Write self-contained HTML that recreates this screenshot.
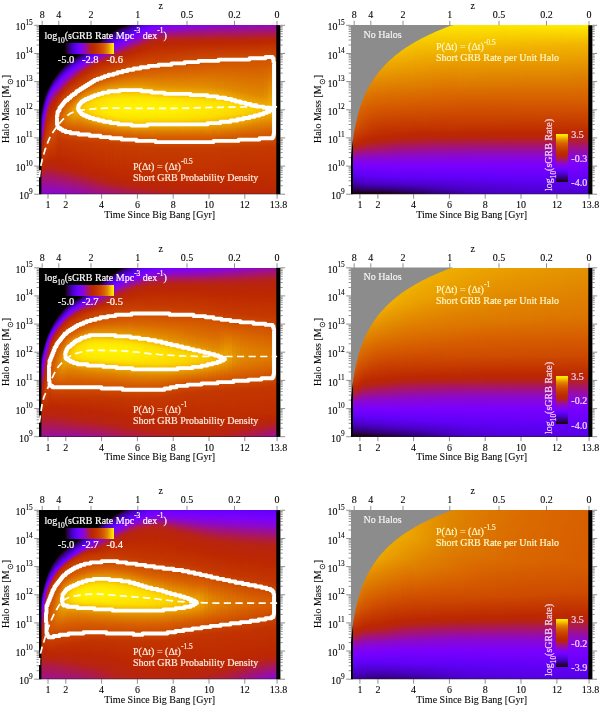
<!DOCTYPE html><html><head><meta charset="utf-8"><title>sGRB rate figure</title><style>
html,body{margin:0;padding:0;background:#fff}
body{width:600px;height:705px;position:relative;overflow:hidden;font-family:"Liberation Serif",serif;color:#000;font-size:10px;line-height:1;-webkit-text-stroke:0.08px #000}
.p{position:absolute;width:241.4px;height:168.9px;background:#000;overflow:hidden}
.p i{position:absolute;top:0;height:100%;display:block}
.l{position:absolute;white-space:nowrap;line-height:1;z-index:2}
.c{transform:translateX(-50%)}
.r{transform:translateX(-100%)}
sup{font-size:7.4px;vertical-align:baseline;position:relative;top:-5.7px;line-height:0}
sub{font-size:7.4px;vertical-align:baseline;position:relative;top:3.8px;line-height:0}
svg{position:absolute;left:0;top:0}
.w{color:#fff}
.k{-webkit-text-stroke:0.18px currentColor}
</style></head><body>
<div class="p" style="left:39.0px;top:25.3px">
<i style="left:0.0px;width:1.3px;background:linear-gradient(#000000 0.3%,#000000 52.1%,#220018 52.6%,#310073 54.4%,#4600ba 56.8%,#6000f7 60.3%,#7700fe 63.2%,#7b00fc 63.8%,#8c09cb 67.9%,#ad1a4e 73.8%,#b82411 76.2%,#bc2800 77.9%,#c23400 80.9%,#bd2b00 85.0%,#bb2705 86.2%,#b8240f 87.4%,#ab1955 89.7%,#a3127b 91.5%,#970da5 95.0%,#8a08d1 99.7%)"></i>
<i style="left:1.0px;width:1.3px;background:linear-gradient(#000000 0.3%,#000000 51.5%,#14000e 52.1%,#26002d 52.6%,#2f006b 53.8%,#4000a4 55.6%,#4900c3 56.8%,#5e00f4 59.7%,#6c00fb 61.5%,#7a00ff 63.2%,#8a08ce 67.4%,#ac1951 73.2%,#b72314 75.6%,#bb2702 77.4%,#c23400 80.9%,#bd2a00 85.0%,#bb2705 86.2%,#b82410 87.4%,#ab1856 89.7%,#a3127b 91.5%,#980da5 95.0%,#8a08d1 99.7%)"></i>
<i style="left:2.0px;width:1.3px;background:linear-gradient(#000000 0.3%,#000000 50.3%,#10000b 50.9%,#25002a 51.5%,#2f006b 52.6%,#4000a4 54.4%,#4a00c4 55.6%,#5f00f6 58.5%,#7b00fd 62.1%,#8c09c9 66.2%,#ab1857 71.5%,#b82410 74.4%,#bd2900 76.8%,#c23400 80.3%,#be2b00 84.4%,#ba2607 86.2%,#b72314 87.4%,#ae1b49 89.1%,#a51471 90.9%,#9e0f92 93.2%,#8a08d1 99.7%)"></i>
<i style="left:3.0px;width:1.3px;background:linear-gradient(#000000 0.3%,#000000 48.5%,#22001a 49.1%,#2d005d 50.3%,#330079 50.9%,#4900c2 53.2%,#5f00f6 56.2%,#7800ff 59.1%,#8b08cc 63.2%,#a81663 67.9%,#b52120 70.9%,#b82411 71.5%,#bd2900 74.4%,#c23500 79.1%,#bd2b00 83.8%,#ba2607 85.6%,#b82410 86.8%,#ad1a4e 89.1%,#a3127b 91.5%,#960caa 95.6%,#8a08d1 99.7%)"></i>
<i style="left:4.0px;width:1.3px;background:linear-gradient(#000000 0.3%,#000000 45.6%,#10000b 46.2%,#250029 46.8%,#30006d 47.9%,#4700be 50.3%,#6000f8 53.2%,#7700fe 55.6%,#7b01fc 56.2%,#8908d2 59.1%,#a61470 63.2%,#b82411 67.4%,#bc2800 70.3%,#c43700 76.8%,#bf2d00 81.5%,#bb2704 83.8%,#b8240f 85.6%,#b21e33 87.4%,#a7156a 90.3%,#9c0f97 93.8%,#8a08d1 99.7%)"></i>
<i style="left:5.0px;width:1.3px;background:linear-gradient(#000000 0.3%,#000000 43.2%,#13000d 43.8%,#26002e 44.4%,#310073 45.6%,#4400b3 47.4%,#4f00d1 48.5%,#5f00f6 50.3%,#7900ff 52.6%,#8a08d0 55.6%,#a3127b 58.5%,#b72313 62.6%,#bc2800 65.6%,#c63b00 74.4%,#c23400 78.5%,#bb2702 82.1%,#b8240f 84.4%,#ac1953 88.5%,#9e0f90 93.2%,#8a08d1 99.7%)"></i>
<i style="left:6.0px;width:1.3px;background:linear-gradient(#000000 0.3%,#000000 41.5%,#1d0014 42.1%,#28003a 42.6%,#2e0061 43.2%,#35007f 43.8%,#4900c2 45.6%,#6100f8 47.9%,#7600fe 49.7%,#7c01fa 50.3%,#8c09ca 52.6%,#a4137a 55.0%,#b72314 58.5%,#bb2703 60.9%,#c43700 67.4%,#c73f00 73.8%,#bf2d00 79.7%,#bb2703 81.5%,#b82410 83.8%,#ad1a4e 87.9%,#9a0e9c 94.4%,#8a08d1 99.7%)"></i>
<i style="left:7.0px;width:1.3px;background:linear-gradient(#000000 0.3%,#000000 39.7%,#0d0009 40.3%,#260030 40.9%,#2d005b 41.5%,#34007e 42.1%,#4400b3 43.2%,#4b00c8 43.8%,#5f00f6 45.6%,#7600fe 47.4%,#7c01f8 47.9%,#8907d4 49.7%,#a71569 52.6%,#b6221e 55.0%,#b8240f 55.6%,#bc2800 57.9%,#c84000 68.5%,#c73f00 73.8%,#bc2801 80.9%,#b82411 83.8%,#ad1a4f 87.9%,#9a0e9c 94.4%,#8a08d1 99.7%)"></i>
<i style="left:8.0px;width:1.3px;background:linear-gradient(#000000 0.3%,#000000 38.5%,#1d0015 39.1%,#300071 40.3%,#4200ad 41.5%,#4b00c6 42.1%,#6100f8 43.8%,#7b00fd 45.6%,#8807d7 47.4%,#8e09c4 47.9%,#a71569 50.3%,#b6221b 52.6%,#b8240f 53.2%,#bc2800 55.6%,#c94200 66.8%,#c84100 72.6%,#bb2702 80.9%,#b82411 83.8%,#ab1856 88.5%,#9a0e9c 94.4%,#8a08d1 99.7%)"></i>
<i style="left:9.0px;width:1.3px;background:linear-gradient(#000000 0.3%,#000000 37.4%,#22001a 37.9%,#330079 39.1%,#4600ba 40.3%,#6000f7 42.1%,#7b00fc 43.8%,#8907d4 45.6%,#a41377 47.9%,#b42027 50.3%,#b72315 50.9%,#ba2609 52.1%,#bc2900 53.8%,#ca4400 65.0%,#ca4300 70.9%,#bc2800 80.3%,#b82411 83.8%,#aa175d 89.1%,#9a0e9c 94.4%,#8a08d1 99.7%)"></i>
<i style="left:10.0px;width:1.3px;background:linear-gradient(#000000 0.3%,#000000 36.2%,#22001a 36.8%,#33007b 37.9%,#4800bf 39.1%,#5a00ea 40.3%,#6300f9 40.9%,#7700fe 42.1%,#8204e7 43.2%,#8d09c7 44.4%,#a81667 46.8%,#b6221a 49.1%,#b8240e 49.7%,#bc2800 52.1%,#ca4400 63.2%,#ca4500 69.7%,#bc2800 80.3%,#b82410 83.8%,#aa175d 89.1%,#9a0e9c 94.4%,#8a08d1 99.7%)"></i>
<i style="left:11.0px;width:1.3px;background:linear-gradient(#000000 0.3%,#000000 35.0%,#200016 35.6%,#320078 36.8%,#4700bd 37.9%,#5a00ea 39.1%,#6400f9 39.7%,#7800fe 40.9%,#8807d7 42.6%,#8e09c4 43.2%,#a81663 45.6%,#b72317 47.9%,#b9250e 48.5%,#bc2900 50.9%,#cb4500 62.1%,#cb4600 68.5%,#bc2801 80.3%,#b82410 83.8%,#a81664 89.7%,#990da2 95.0%,#8a08d1 99.7%)"></i>
<i style="left:12.0px;width:1.3px;background:linear-gradient(#000000 0.3%,#000000 33.8%,#14000e 34.4%,#28003c 35.0%,#300070 35.6%,#4500b5 36.8%,#5800e5 37.9%,#6100f8 38.5%,#7600fe 39.7%,#7d01f7 40.3%,#8c09ca 42.1%,#a71668 44.4%,#b6221a 46.8%,#b8240f 47.4%,#bc2800 49.7%,#cb4600 60.9%,#cc4800 67.4%,#bc2801 80.3%,#b82410 83.8%,#a51472 90.9%,#8b09cc 99.1%,#8a08d1 99.7%)"></i>
<i style="left:13.0px;width:1.3px;background:linear-gradient(#000000 0.3%,#000000 32.6%,#040003 33.2%,#25002c 33.8%,#2d005e 34.4%,#370086 35.0%,#4b00c6 36.2%,#5d00f1 37.4%,#6700fa 37.9%,#7a00fe 39.1%,#8907d4 40.9%,#a51474 43.2%,#b52123 45.6%,#b82412 46.2%,#bd2900 49.1%,#cb4700 59.7%,#cd4a00 65.6%,#c23400 75.6%,#bc2801 80.3%,#b8240f 83.8%,#a41378 91.5%,#8a08d1 99.7%)"></i>
<i style="left:14.0px;width:1.3px;background:linear-gradient(#000000 0.3%,#000000 32.1%,#220018 32.6%,#320076 33.8%,#4600b8 35.0%,#5800e5 36.2%,#6100f8 36.8%,#7500fe 37.9%,#7c01f9 38.5%,#8a08ce 40.3%,#a7156c 42.6%,#b6221c 45.0%,#b8240f 45.6%,#bc2800 47.9%,#cc4700 58.5%,#cd4b00 64.4%,#c33600 74.4%,#bc2801 80.3%,#b72314 84.4%,#a71568 90.3%,#950cab 96.2%,#8a08d0 99.7%)"></i>
<i style="left:15.0px;width:1.3px;background:linear-gradient(#000000 0.3%,#000000 30.9%,#090006 31.5%,#26002f 32.1%,#2e005f 32.6%,#360085 33.2%,#4900c3 34.4%,#5b00ec 35.6%,#6400f9 36.2%,#7700fe 37.4%,#8204e7 38.5%,#8c09c9 39.7%,#a81666 42.1%,#b72316 44.4%,#ba2609 45.6%,#bd2a00 47.4%,#cc4900 57.9%,#ce4c00 63.2%,#c33500 74.4%,#bc2801 80.3%,#b82412 84.4%,#a6156e 90.9%,#8c09ca 99.1%,#8a08d0 99.7%)"></i>
<i style="left:16.0px;width:1.3px;background:linear-gradient(#000000 0.3%,#000000 30.3%,#1e0015 30.9%,#300072 32.1%,#4300b0 33.2%,#4c00ca 33.8%,#5d00f1 35.0%,#6600fa 35.6%,#7900ff 36.8%,#8707d8 38.5%,#8d09c5 39.1%,#a81663 41.5%,#b52122 43.2%,#b82410 43.8%,#bd2900 46.2%,#cc4700 55.6%,#cf4e00 60.9%,#bc2801 80.3%,#b82410 84.4%,#a6156d 90.9%,#8c09c9 99.1%,#8a08cf 99.7%)"></i>
<i style="left:17.0px;width:1.3px;background:linear-gradient(#000000 0.3%,#000000 29.7%,#240025 30.3%,#34007c 31.5%,#4600b9 32.6%,#5f00f5 34.4%,#7a00fe 36.2%,#8807d7 37.9%,#8e09c4 38.5%,#a81663 40.9%,#b6221c 42.6%,#b9250d 43.2%,#bd2900 45.0%,#cc4700 53.2%,#d05000 60.3%,#c63c00 67.9%,#bb2702 80.3%,#b8240f 84.4%,#a3137a 92.1%,#8a08cf 99.7%)"></i>
<i style="left:18.0px;width:1.3px;background:linear-gradient(#000000 0.3%,#000000 28.5%,#0f000a 29.1%,#270033 29.7%,#2e0061 30.3%,#360085 30.9%,#4800c0 32.1%,#6000f8 33.8%,#7b00fc 35.6%,#8807d6 37.4%,#8e09c4 37.9%,#ae1a4b 40.9%,#b72318 42.1%,#b9250b 42.6%,#bc2900 43.8%,#ce4b00 52.1%,#d15300 59.1%,#c53a00 66.8%,#bb2703 80.3%,#b8240f 84.4%,#b42025 86.2%,#a51471 91.5%,#8b08ce 99.7%)"></i>
<i style="left:19.0px;width:1.3px;background:linear-gradient(#000000 0.3%,#000000 27.9%,#1c0014 28.5%,#29003e 29.1%,#30006d 29.7%,#4a00c4 31.5%,#5a00ea 32.6%,#6200f9 33.2%,#7400fd 34.4%,#7b01fb 35.0%,#8807d5 36.8%,#960caa 37.9%,#b31f2f 40.9%,#b82413 41.5%,#bc2802 42.6%,#cd4a00 49.7%,#d35500 55.6%,#d25400 59.7%,#c53a00 66.2%,#bb2703 80.3%,#b82412 85.0%,#a61470 91.5%,#8b08cd 99.7%)"></i>
<i style="left:20.0px;width:1.3px;background:linear-gradient(#000000 0.3%,#000000 27.4%,#23001c 27.9%,#310074 29.1%,#4300af 30.3%,#4b00c8 30.9%,#5b00ed 32.1%,#6300f9 32.6%,#7500fe 33.8%,#7c01f9 34.4%,#8907d3 36.2%,#9e0f91 37.9%,#af1b47 39.7%,#b8240f 40.9%,#bc2800 42.1%,#cb4500 47.4%,#d45700 53.8%,#d45800 59.1%,#c43800 67.4%,#bb2702 80.3%,#b82410 85.0%,#a6156e 91.5%,#8b08cc 99.7%)"></i>
<i style="left:21.0px;width:1.3px;background:linear-gradient(#000000 0.3%,#000000 26.8%,#240024 27.4%,#330079 28.5%,#4400b3 29.7%,#5400dd 30.9%,#5c00ef 31.5%,#6500f9 32.1%,#7600fe 33.2%,#7d01f7 33.8%,#8908d2 35.6%,#a41376 37.9%,#af1c43 39.1%,#b42025 39.7%,#b9250d 40.3%,#bd2a00 41.5%,#ca4500 46.2%,#d55a00 53.2%,#d65b00 58.5%,#c43800 67.4%,#bc2802 80.3%,#b82410 85.0%,#a51474 92.1%,#8b09cb 99.7%)"></i>
<i style="left:22.0px;width:1.3px;background:linear-gradient(#000000 0.3%,#000000 25.6%,#050004 26.2%,#250029 26.8%,#2c0056 27.4%,#34007d 27.9%,#4500b7 29.1%,#5d00f1 30.9%,#6500f9 31.5%,#7700fe 32.6%,#8104e9 33.8%,#8a08d1 35.0%,#a51472 37.4%,#b01c3e 38.5%,#b52120 39.1%,#b9250c 39.7%,#bb2703 40.3%,#c53b00 43.2%,#d55a00 51.5%,#d86100 56.8%,#cf4f00 62.1%,#c43800 67.9%,#bb2703 80.9%,#b8240f 85.0%,#b11d39 87.9%,#a01088 93.8%,#8c09ca 99.7%)"></i>
<i style="left:23.0px;width:1.3px;background:linear-gradient(#000000 0.3%,#000000 25.0%,#0a0007 25.6%,#26002d 26.2%,#2d005a 26.8%,#35007f 27.4%,#4600b9 28.5%,#5d00f2 30.3%,#6600fa 30.9%,#7800fe 32.1%,#8606dc 33.8%,#8a08d0 34.4%,#ab1955 37.4%,#b6221a 38.5%,#b9250a 39.1%,#bc2801 39.7%,#ca4400 44.4%,#d96700 54.4%,#d96500 57.4%,#c43800 67.9%,#bb2702 80.9%,#b72313 85.6%,#a71569 91.5%,#8c09ca 99.7%)"></i>
<i style="left:24.0px;width:1.3px;background:linear-gradient(#000000 0.3%,#000000 24.4%,#0c0009 25.0%,#26002f 25.6%,#2d005c 26.2%,#350081 26.8%,#4600ba 27.9%,#5e00f2 29.7%,#6f00fc 30.9%,#7800fe 31.5%,#8b08ce 33.8%,#a6156d 36.2%,#b21e36 37.4%,#b72316 37.9%,#bc2800 39.1%,#c94200 43.2%,#da6c00 53.2%,#db6d00 56.2%,#c53a00 67.4%,#bc2802 80.9%,#b82411 85.6%,#a71668 91.5%,#8c09c8 99.7%)"></i>
<i style="left:25.0px;width:1.3px;background:linear-gradient(#000000 0.3%,#000000 23.8%,#0d0009 24.4%,#260030 25.0%,#2d005c 25.6%,#350081 26.2%,#4600ba 27.4%,#5e00f2 29.1%,#6600fa 29.7%,#7800fe 30.9%,#8606db 32.6%,#8b08cd 33.2%,#a7156a 35.6%,#b21e33 36.8%,#b82412 37.4%,#bc2900 38.5%,#c94300 42.6%,#da6c00 51.5%,#dc7400 54.4%,#da6c00 57.4%,#d25500 61.5%,#c43800 68.5%,#bb2703 81.5%,#b82410 85.6%,#a81666 91.5%,#8d09c7 99.7%)"></i>
<i style="left:26.0px;width:1.3px;background:linear-gradient(#000000 0.3%,#000000 23.2%,#0c0008 23.8%,#26002f 24.4%,#2d005b 25.0%,#350080 25.6%,#4600b9 26.8%,#5d00f1 28.5%,#6600fa 29.1%,#7800fe 30.3%,#8606db 32.1%,#8b08cd 32.6%,#ad1a4e 35.6%,#b82410 36.8%,#bd2900 37.9%,#c94300 42.1%,#d96400 49.1%,#dd7700 52.6%,#dd7800 55.6%,#d86200 59.1%,#c53a00 67.9%,#bb2702 81.5%,#b8240f 85.6%,#a7156c 92.1%,#8d09c6 99.7%)"></i>
<i style="left:27.0px;width:1.3px;background:linear-gradient(#000000 0.3%,#000000 22.6%,#080006 23.2%,#25002c 23.8%,#2d0058 24.4%,#34007e 25.0%,#4500b7 26.2%,#5d00f0 27.9%,#6500f9 28.5%,#7700fe 29.7%,#8204e8 30.9%,#8b08cd 32.1%,#ad1a4c 35.0%,#b82410 36.2%,#bd2900 37.4%,#c94300 41.5%,#d96600 48.5%,#de7c00 52.1%,#de7d00 55.0%,#db6e00 57.9%,#d55a00 60.9%,#c43800 68.5%,#bc2802 81.5%,#b8240f 85.6%,#b6221d 86.8%,#a91662 91.5%,#8d09c5 99.7%)"></i>
<i style="left:28.0px;width:1.3px;background:linear-gradient(#000000 0.3%,#000000 22.1%,#030002 22.6%,#250027 23.2%,#33007b 24.4%,#4400b4 25.6%,#5400dc 26.8%,#5c00ee 27.4%,#6400f9 27.9%,#7600fe 29.1%,#7d01f7 29.7%,#8b08ce 31.5%,#ad1a4c 34.4%,#b8240f 35.6%,#bd2900 36.8%,#c94300 40.9%,#d86200 47.4%,#de7d00 50.9%,#df8400 53.8%,#dd7800 56.8%,#d55a00 60.9%,#c43900 68.5%,#bb2703 82.1%,#b82411 86.2%,#a91760 91.5%,#8e09c4 99.7%)"></i>
<i style="left:29.0px;width:1.3px;background:linear-gradient(#000000 0.3%,#000000 22.1%,#240021 22.6%,#320077 23.8%,#4300b0 25.0%,#4b00c8 25.6%,#5b00ec 26.8%,#6300f9 27.4%,#7500fe 28.5%,#7c01f8 29.1%,#8a08cf 30.9%,#ae1a4b 33.8%,#b8240f 35.0%,#bc2900 36.2%,#cb4500 40.9%,#d96300 46.8%,#df8300 50.9%,#e08800 53.8%,#dd7b00 56.8%,#d65b00 60.9%,#c53900 68.5%,#bb2702 82.1%,#b82410 86.2%,#a9175e 91.5%,#8e0ac3 99.7%)"></i>
<i style="left:30.0px;width:1.3px;background:linear-gradient(#000000 0.3%,#000000 21.5%,#220019 22.1%,#300071 23.2%,#4a00c4 25.0%,#6100f8 26.8%,#7400fd 27.9%,#7c01fa 28.5%,#8a08d1 30.3%,#ad1a4c 33.2%,#b82410 34.4%,#bc2900 35.6%,#ca4500 40.3%,#d96300 46.2%,#e08600 50.3%,#e38e00 52.6%,#df8400 55.6%,#d65c00 60.9%,#c53a00 68.5%,#bc2802 82.1%,#b8240f 86.2%,#a7156c 92.6%,#8f0ac1 99.7%)"></i>
<i style="left:31.0px;width:1.3px;background:linear-gradient(#000000 0.3%,#000000 20.9%,#190012 21.5%,#28003b 22.1%,#2f0068 22.6%,#4800c0 24.4%,#5f00f7 26.2%,#7b00fd 27.9%,#8908d3 29.7%,#ad1a4d 32.6%,#b82410 33.8%,#bc2800 35.0%,#ca4400 39.7%,#d96300 45.6%,#e08800 49.7%,#e59400 52.1%,#e38e00 54.4%,#da6b00 59.1%,#d55a00 61.5%,#c43900 69.1%,#bb2703 82.6%,#b8240f 86.2%,#b6221d 87.4%,#aa185a 91.5%,#8f0ac0 99.7%)"></i>
<i style="left:32.0px;width:1.3px;background:linear-gradient(#000000 0.3%,#000000 20.3%,#0d0009 20.9%,#260030 21.5%,#2d005d 22.1%,#350081 22.6%,#4600ba 23.8%,#5e00f3 25.6%,#7000fc 26.8%,#7900ff 27.4%,#8807d5 29.1%,#980da2 30.3%,#b21e31 32.6%,#b82412 33.2%,#bc2800 34.4%,#ca4400 39.1%,#d96300 45.0%,#e39000 49.7%,#e79900 52.1%,#e49200 54.4%,#d75d00 60.9%,#c43900 69.1%,#bb2702 82.6%,#b82411 86.8%,#ab1858 91.5%,#8f0abf 99.7%)"></i>
<i style="left:33.0px;width:1.3px;background:linear-gradient(#000000 0.3%,#000000 20.3%,#240024 20.9%,#330079 22.1%,#4400b2 23.2%,#5400dc 24.4%,#5c00ee 25.0%,#6400f9 25.6%,#7700fe 26.8%,#7e02f5 27.4%,#8807d7 28.5%,#8e0ac2 29.1%,#a6156d 30.9%,#b72315 32.6%,#bc2801 33.8%,#cb4600 39.1%,#d86200 44.4%,#e69700 49.7%,#e99e00 52.1%,#e59500 54.4%,#d75e00 60.9%,#c53900 69.1%,#bc2802 82.6%,#b82410 86.8%,#a9175e 92.1%,#900abe 99.7%)"></i>
<i style="left:34.0px;width:1.3px;background:linear-gradient(#000000 0.3%,#000000 19.7%,#210017 20.3%,#300070 21.5%,#4a00c4 23.2%,#6100f8 25.0%,#7500fe 26.2%,#7c01f8 26.8%,#8706da 27.9%,#8d09c7 28.5%,#a51471 30.3%,#b72318 32.1%,#b9250a 32.6%,#bb2702 33.2%,#cb4500 38.5%,#d86100 43.8%,#e99e00 49.7%,#eba200 52.1%,#e49200 55.0%,#d75e00 60.9%,#c53900 69.1%,#bb2703 83.2%,#b8240f 86.8%,#a81664 92.6%,#900abc 99.7%)"></i>
<i style="left:35.0px;width:1.3px;background:linear-gradient(#000000 0.3%,#000000 19.1%,#12000d 19.7%,#270035 20.3%,#2e0062 20.9%,#360084 21.5%,#4700bd 22.6%,#5f00f5 24.4%,#7200fd 25.6%,#7b00fc 26.2%,#8b08cd 27.9%,#ab1858 30.3%,#b6221c 31.5%,#b9250b 32.1%,#bd2a00 33.2%,#cd4a00 39.1%,#d86000 43.2%,#e59500 47.9%,#eba400 49.7%,#eca500 52.1%,#e59300 55.0%,#d65c00 61.5%,#c53a00 69.1%,#bb2702 83.2%,#b8240f 86.8%,#b6221d 87.9%,#aa185a 92.1%,#910abb 99.7%)"></i>
<i style="left:36.0px;width:1.3px;background:linear-gradient(#000000 0.3%,#020002 19.1%,#250027 19.7%,#33007b 20.9%,#4400b4 22.1%,#5400dd 23.2%,#5c00ef 23.8%,#6500f9 24.4%,#7900ff 25.6%,#8908d2 27.4%,#aa175d 29.7%,#b52120 30.9%,#b9250c 31.5%,#bd2a00 32.6%,#ce4c00 39.1%,#d86000 42.6%,#e69600 47.4%,#eea900 49.7%,#eda800 52.1%,#e59400 55.0%,#d65c00 61.5%,#c53a00 69.1%,#bc2802 83.2%,#b82411 87.4%,#ac1950 91.5%,#910bba 99.7%)"></i>
<i style="left:37.0px;width:1.3px;background:linear-gradient(#000000 0.3%,#000000 18.5%,#220019 19.1%,#300071 20.3%,#4a00c4 22.1%,#6200f9 23.8%,#7600fe 25.0%,#7d02f6 25.6%,#8807d7 26.8%,#900abe 27.4%,#a81663 29.1%,#b42026 30.3%,#b9250e 30.9%,#bd2900 32.1%,#d85f00 42.1%,#e69600 46.8%,#efac00 49.1%,#efae00 50.9%,#e99d00 53.8%,#dc7400 58.5%,#d65d00 61.5%,#c43900 69.7%,#bc2801 83.2%,#b82410 87.4%,#ab1856 92.1%,#910bb8 99.7%)"></i>
<i style="left:38.0px;width:1.3px;background:linear-gradient(#000000 0.3%,#000000 17.9%,#13000d 18.5%,#270035 19.1%,#2e0062 19.7%,#360084 20.3%,#4700bd 21.5%,#5f00f5 23.2%,#7200fd 24.4%,#7b01fb 25.0%,#8606db 26.2%,#8d09c7 26.8%,#a71569 28.5%,#b8240f 30.3%,#bc2800 31.5%,#cc4700 37.4%,#d96500 42.1%,#e69600 46.2%,#efae00 48.5%,#f1b200 50.3%,#eaa100 53.2%,#dd7800 57.9%,#d65d00 61.5%,#c43900 69.7%,#bb2702 83.8%,#b8240f 87.4%,#a81664 93.2%,#920bb7 99.7%)"></i>
<i style="left:39.0px;width:1.3px;background:linear-gradient(#000000 0.3%,#000000 17.4%,#030002 17.9%,#250027 18.5%,#33007a 19.7%,#4400b3 20.9%,#5400dc 22.1%,#5c00ee 22.6%,#6500f9 23.2%,#7900ff 24.4%,#8a08d0 26.2%,#a51471 27.9%,#b82413 29.7%,#bc2801 30.9%,#d75e00 40.9%,#e39000 45.0%,#f0af00 47.9%,#f3b700 49.7%,#efac00 52.1%,#de7d00 57.4%,#d75d00 61.5%,#c53900 69.7%,#bc2802 83.8%,#b8240f 87.4%,#b6221d 88.5%,#aa185a 92.6%,#920bb5 99.7%)"></i>
<i style="left:40.0px;width:1.3px;background:linear-gradient(#000000 0.3%,#000000 17.4%,#220019 17.9%,#300070 19.1%,#4900c3 20.9%,#6100f8 22.6%,#7500fe 23.8%,#7d01f6 24.4%,#8807d5 25.6%,#9b0e9a 26.8%,#b6221b 29.1%,#b9250b 29.7%,#bb2703 30.3%,#ca4400 35.6%,#d75d00 40.3%,#e39000 44.4%,#f1b000 47.4%,#f4bb00 49.7%,#f2b400 51.5%,#de7e00 57.4%,#d75d00 61.5%,#c53900 69.7%,#bc2801 83.8%,#b82411 87.9%,#ad1950 92.1%,#930bb4 99.7%)"></i>
<i style="left:41.0px;width:1.3px;background:linear-gradient(#000000 0.3%,#000000 16.8%,#14000e 17.4%,#270035 17.9%,#2e0061 18.5%,#360083 19.1%,#4600bb 20.3%,#5e00f3 22.1%,#7100fd 23.2%,#7b00fd 23.8%,#8606db 25.0%,#8d09c5 25.6%,#a81663 27.4%,#b52123 28.5%,#b9250d 29.1%,#bd2a00 30.3%,#d65c00 39.7%,#dd7800 42.1%,#efac00 46.2%,#f5bf00 49.1%,#f4bc00 50.9%,#de7e00 57.4%,#d75e00 61.5%,#c53900 69.7%,#bb2702 84.4%,#b82410 87.9%,#ab1856 92.6%,#930bb3 99.7%)"></i>
<i style="left:42.0px;width:1.3px;background:linear-gradient(#000000 0.3%,#000000 16.2%,#040003 16.8%,#250028 17.4%,#330079 18.5%,#4300b1 19.7%,#4b00c8 20.3%,#5b00ec 21.5%,#6300f9 22.1%,#7700fe 23.2%,#8405e2 24.4%,#8a08d1 25.0%,#a6156d 26.8%,#b8240f 28.5%,#bc2800 29.7%,#cb4700 35.6%,#d85f00 39.7%,#e38e00 43.2%,#efad00 45.6%,#f6c100 48.5%,#f6c200 50.3%,#f2b600 52.1%,#de8000 57.4%,#d75e00 61.5%,#c53a00 69.7%,#bc2802 84.4%,#b8240f 87.9%,#9f108c 96.8%,#940cb1 99.7%)"></i>
<i style="left:43.0px;width:1.3px;background:linear-gradient(#000000 0.3%,#000000 16.2%,#22001a 16.8%,#300070 17.9%,#4900c1 19.7%,#6000f7 21.5%,#7300fd 22.6%,#7c01f9 23.2%,#8807d7 24.4%,#900abc 25.0%,#ab1857 26.8%,#b72315 27.9%,#bc2801 29.1%,#cb4600 35.0%,#d75e00 39.1%,#e69600 43.2%,#f1b300 45.6%,#f6c300 47.9%,#f7c500 50.3%,#f4ba00 52.1%,#df8100 57.4%,#d65c00 62.1%,#c53a00 69.7%,#bc2801 84.4%,#b72313 88.5%,#ab1859 93.2%,#940caf 99.7%)"></i>
<i style="left:44.0px;width:1.3px;background:linear-gradient(#000000 0.3%,#000000 15.6%,#16000f 16.2%,#270037 16.8%,#2e0061 17.4%,#360082 17.9%,#4600b8 19.1%,#5c00f0 20.9%,#6500f9 21.5%,#7a00ff 22.6%,#8506de 23.8%,#8c09c9 24.4%,#a91662 26.2%,#b52120 27.4%,#b9250c 27.9%,#bd2a00 29.1%,#d65c00 38.5%,#db7100 40.3%,#e59300 42.6%,#f1b200 45.0%,#f6c400 47.4%,#f8c900 50.3%,#f5bd00 52.1%,#df8200 57.4%,#d65d00 62.1%,#c53a00 69.7%,#bb2703 85.0%,#b82411 88.5%,#a9175f 93.8%,#950cae 99.7%)"></i>
<i style="left:45.0px;width:1.3px;background:linear-gradient(#000000 0.3%,#000000 15.0%,#070005 15.6%,#250029 16.2%,#330079 17.4%,#4b00c6 19.1%,#6100f8 20.9%,#7500fe 22.1%,#7d02f6 22.6%,#8907d3 23.8%,#a6146e 25.6%,#b4202b 26.8%,#b8240e 27.4%,#bc2900 28.5%,#cb4700 34.4%,#d85f00 38.5%,#e39000 42.1%,#f1b100 44.4%,#f7c500 46.8%,#f9cd00 49.7%,#f7c600 51.5%,#de7f00 57.9%,#d75d00 62.1%,#c53a00 69.7%,#bc2802 85.0%,#b8240f 88.5%,#9c0f96 97.9%,#950cac 99.7%)"></i>
<i style="left:46.0px;width:1.3px;background:linear-gradient(#000000 0.3%,#000000 15.0%,#23001c 15.6%,#300070 16.8%,#4800bf 18.5%,#5e00f3 20.3%,#7100fd 21.5%,#7b00fd 22.1%,#8606da 23.2%,#8f0ac1 23.8%,#ab1859 25.6%,#b72315 26.8%,#bc2801 27.9%,#cb4600 33.8%,#d75d00 37.9%,#e28c00 41.5%,#f0af00 43.8%,#f7c500 46.2%,#facf00 49.7%,#f7c500 52.1%,#df8100 57.9%,#d75e00 62.1%,#c53a00 69.7%,#bc2801 85.0%,#b8240f 88.5%,#b42027 90.3%,#980da3 99.1%,#960caa 99.7%)"></i>
<i style="left:47.0px;width:1.3px;background:linear-gradient(#000000 0.3%,#000000 14.4%,#180011 15.0%,#280038 15.6%,#2e0062 16.2%,#350082 16.8%,#4500b6 17.9%,#5b00ec 19.7%,#6300f9 20.3%,#7700fe 21.5%,#7e02f3 22.1%,#8a08d0 23.2%,#a81666 25.0%,#b52121 26.2%,#b9250c 26.8%,#bd2a00 27.9%,#cc4800 33.8%,#d86000 37.9%,#e49200 41.5%,#f4ba00 44.4%,#f9cc00 46.8%,#fad100 50.3%,#f8c800 52.1%,#df8200 57.9%,#d75e00 62.1%,#c53a00 69.7%,#bc2801 85.0%,#b82412 89.1%,#9d0f92 97.9%,#960da9 99.7%)"></i>
<i style="left:48.0px;width:1.3px;background:linear-gradient(#000000 0.3%,#000000 13.8%,#0a0007 14.4%,#25002b 15.0%,#330079 16.2%,#4a00c4 17.9%,#5f00f7 19.7%,#7300fd 20.9%,#7c01fa 21.5%,#8807d7 22.6%,#910abb 23.2%,#ac1950 25.0%,#b8240f 26.2%,#bc2900 27.4%,#ca4500 32.6%,#d75e00 37.4%,#e28d00 40.9%,#f3b700 43.8%,#f9cc00 46.2%,#fbd400 49.7%,#f8cb00 52.1%,#df8400 57.9%,#d75f00 62.1%,#c53b00 69.7%,#bb2702 85.6%,#b82410 89.1%,#990e9f 99.1%,#970da7 99.7%)"></i>
<i style="left:49.0px;width:1.3px;background:linear-gradient(#000000 0.3%,#000000 13.8%,#23001e 14.4%,#300070 15.6%,#4700bd 17.4%,#5c00f0 19.1%,#6500f9 19.7%,#7900ff 20.9%,#8505df 22.1%,#8c09ca 22.6%,#aa175e 24.4%,#b72318 25.6%,#ba260a 26.2%,#bc2802 26.8%,#cb4600 32.6%,#d86100 37.4%,#e49200 40.9%,#f4bb00 43.8%,#f9cf00 46.2%,#fcd700 49.7%,#f9ce00 52.1%,#de8000 58.5%,#d65c00 62.6%,#c53b00 69.7%,#bc2802 85.6%,#b8240f 89.1%,#980da5 99.7%)"></i>
<i style="left:50.0px;width:1.3px;background:linear-gradient(#000000 0.3%,#000000 13.2%,#1a0013 13.8%,#280039 14.4%,#2e0062 15.0%,#350081 15.6%,#4400b4 16.8%,#5200d8 17.9%,#6100f8 19.1%,#7400fd 20.3%,#7c01f8 20.9%,#8807d4 22.1%,#9e0f91 23.2%,#b42026 25.0%,#b9250d 25.6%,#bd2a00 26.8%,#ca4500 32.1%,#d75e00 36.8%,#e28d00 40.3%,#f3b700 43.2%,#f9ce00 45.6%,#fcd900 49.1%,#fbd400 51.5%,#f6c400 53.2%,#df8200 58.5%,#d65d00 62.6%,#c53b00 69.7%,#bc2801 85.6%,#b82413 89.7%,#9a0e9c 99.1%,#980da3 99.7%)"></i>
<i style="left:51.0px;width:1.3px;background:linear-gradient(#000000 0.3%,#000000 12.6%,#0c0008 13.2%,#26002c 13.8%,#330079 15.0%,#4900c2 16.8%,#5e00f3 18.5%,#7000fc 19.7%,#7a00ff 20.3%,#8606dc 21.5%,#8e09c4 22.1%,#ab1857 23.8%,#b82411 25.0%,#bc2800 26.2%,#ca4400 31.5%,#d65d00 36.2%,#dd7800 38.5%,#e89b00 40.9%,#f7c700 44.4%,#fbd600 46.8%,#fcda00 50.3%,#f9ce00 52.6%,#df8300 58.5%,#d75d00 62.6%,#c63b00 69.7%,#bb2702 86.2%,#b82410 89.7%,#9b0e9a 99.1%,#990da1 99.7%)"></i>
<i style="left:52.0px;width:1.3px;background:linear-gradient(#000000 0.3%,#000000 12.6%,#23001f 13.2%,#300070 14.4%,#4600ba 16.2%,#5b00ec 17.9%,#6300f9 18.5%,#7600fe 19.7%,#7d02f5 20.3%,#8908d2 21.5%,#a81666 23.2%,#b5211f 24.4%,#b9250b 25.0%,#bd2a00 26.2%,#cc4700 32.1%,#d75f00 36.2%,#e69600 40.3%,#f7c400 43.8%,#fbd600 46.2%,#fcdc00 49.7%,#fbd500 52.1%,#f6c200 53.8%,#de7f00 59.1%,#d75e00 62.6%,#c63b00 69.7%,#bc2802 86.2%,#b8240f 89.7%,#990e9f 99.7%)"></i>
<i style="left:53.0px;width:1.3px;background:linear-gradient(#000000 0.3%,#000000 12.1%,#1c0014 12.6%,#28003a 13.2%,#2e0062 13.8%,#350081 14.4%,#4400b2 15.6%,#5100d6 16.8%,#5f00f6 17.9%,#7b00fc 19.7%,#8706da 20.9%,#8f0abf 21.5%,#ac1951 23.2%,#b8240f 24.4%,#bc2900 25.6%,#ca4400 30.9%,#d86100 36.2%,#e39000 39.7%,#f5c000 43.2%,#fbd500 45.6%,#fddd00 49.7%,#fbd300 52.6%,#de8000 59.1%,#d75e00 62.6%,#c63c00 69.7%,#bc2801 86.2%,#b72313 90.3%,#9c0f96 99.1%,#9a0e9e 99.7%)"></i>
<i style="left:54.0px;width:1.3px;background:linear-gradient(#000000 0.3%,#000000 11.5%,#0d0009 12.1%,#26002d 12.6%,#320078 13.8%,#4800c1 15.6%,#5c00f0 17.4%,#6400f9 17.9%,#7700fe 19.1%,#7e02f3 19.7%,#8a08ce 20.9%,#a91761 22.6%,#b6221a 23.8%,#b9250a 24.4%,#bb2702 25.0%,#cb4500 30.9%,#d75f00 35.6%,#e59400 39.7%,#f8ca00 43.8%,#fcda00 46.2%,#fdde00 50.3%,#fbd500 52.6%,#df8200 59.1%,#d75e00 62.6%,#c63c00 69.7%,#bb2703 86.8%,#b82411 90.3%,#9a0e9c 99.7%)"></i>
<i style="left:55.0px;width:1.3px;background:linear-gradient(#000000 0.3%,#000000 11.5%,#230020 12.1%,#30006f 13.2%,#4600b8 15.0%,#6100f8 17.4%,#7300fd 18.5%,#7c01fa 19.1%,#8807d7 20.3%,#910bba 20.9%,#ad1a4d 22.6%,#b4202a 23.2%,#b9250e 23.8%,#bd2900 25.0%,#cb4700 30.9%,#d86100 35.6%,#e28e00 39.1%,#f7c600 43.2%,#fcd900 45.6%,#fde000 49.7%,#fcd700 52.6%,#e49200 57.9%,#d75f00 62.6%,#c63c00 69.7%,#bc2802 86.8%,#b8240f 90.3%,#9b0e9a 99.7%)"></i>
<i style="left:56.0px;width:1.3px;background:linear-gradient(#000000 0.3%,#000000 10.9%,#1c0014 11.5%,#28003a 12.1%,#2e0062 12.6%,#350080 13.2%,#4a00c4 15.0%,#5e00f3 16.8%,#6f00fc 17.9%,#7900ff 18.5%,#8505df 19.7%,#8c09ca 20.3%,#aa175d 22.1%,#b72317 23.2%,#ba2609 23.8%,#bc2801 24.4%,#cb4500 30.3%,#d75e00 35.0%,#e49200 39.1%,#f8c800 43.2%,#fcd800 45.0%,#fde200 49.1%,#fcd900 52.6%,#f4bc00 55.0%,#de7e00 59.7%,#d65c00 63.2%,#c63c00 69.7%,#bc2801 86.8%,#b8240f 90.3%,#b42026 92.1%,#9c0e98 99.7%)"></i>
<i style="left:57.0px;width:1.3px;background:linear-gradient(#000000 0.3%,#000000 10.3%,#0e000a 10.9%,#26002d 11.5%,#320077 12.6%,#4700be 14.4%,#6200f9 16.8%,#7400fd 17.9%,#7c01f8 18.5%,#8807d5 19.7%,#920bb7 20.3%,#ae1a4a 22.1%,#b42027 22.6%,#b9250d 23.2%,#bd2900 24.4%,#cb4600 30.3%,#d86000 35.0%,#e59500 39.1%,#f8cb00 43.2%,#fcda00 45.0%,#fde300 49.7%,#fcda00 52.6%,#f7c700 54.4%,#de8000 59.7%,#d65d00 63.2%,#c63c00 69.7%,#c02f00 81.5%,#bb2703 87.4%,#b82412 90.9%,#9c0f96 99.7%)"></i>
<i style="left:58.0px;width:1.3px;background:linear-gradient(#000000 0.3%,#000000 10.3%,#230020 10.9%,#30006e 12.1%,#4500b6 13.8%,#5f00f6 16.2%,#7a00ff 17.9%,#8506de 19.1%,#8d09c7 19.7%,#aa185a 21.5%,#b72315 22.6%,#bc2801 23.8%,#cb4500 29.7%,#d75e00 34.4%,#e38f00 38.5%,#f7c600 42.6%,#fcdb00 45.0%,#fde400 49.7%,#fcd800 53.2%,#df8100 59.7%,#d75d00 63.2%,#c63c00 69.7%,#c13100 79.7%,#bb2702 87.4%,#b82410 90.9%,#9d0f95 99.7%)"></i>
<i style="left:59.0px;width:1.3px;background:linear-gradient(#000000 0.3%,#000000 9.7%,#1d0014 10.3%,#28003a 10.9%,#2e0061 11.5%,#34007f 12.1%,#4900c3 13.8%,#5c00ef 15.6%,#6400f9 16.2%,#7600fe 17.4%,#7d01f6 17.9%,#8907d4 19.1%,#9e0f90 20.3%,#b42026 22.1%,#b9250d 22.6%,#bd2900 23.8%,#cb4600 29.7%,#d85f00 34.4%,#e49200 38.5%,#f8c900 42.6%,#fcda00 44.4%,#fde500 49.1%,#fddd00 52.6%,#f9cb00 54.4%,#df8200 59.7%,#d75e00 63.2%,#c63d00 69.7%,#c13200 79.1%,#bc2802 87.4%,#b8240f 90.9%,#b11d3a 93.8%,#9d0f93 99.7%)"></i>
<i style="left:60.0px;width:1.3px;background:linear-gradient(#000000 0.3%,#000000 9.1%,#0f000a 9.7%,#26002d 10.3%,#320077 11.5%,#4700bc 13.2%,#6000f8 15.6%,#7a00fe 17.4%,#8606dd 18.5%,#8d09c6 19.1%,#aa185a 20.9%,#b72315 22.1%,#bc2802 23.2%,#ca4500 29.1%,#d86100 34.4%,#e59500 38.5%,#fad200 43.2%,#fde000 45.6%,#fee600 49.7%,#fcdb00 53.2%,#eca400 57.4%,#de7d00 60.3%,#d75e00 63.2%,#c63d00 69.7%,#c13200 78.5%,#bc2801 87.4%,#b82413 91.5%,#9e0f91 99.7%)"></i>
<i style="left:61.0px;width:1.3px;background:linear-gradient(#000000 0.3%,#010001 9.1%,#240021 9.7%,#30006e 10.9%,#4400b4 12.6%,#5100d5 13.8%,#5d00f2 15.0%,#6500f9 15.6%,#7700fe 16.8%,#7d02f5 17.4%,#8907d4 18.5%,#9e0f90 19.7%,#b42027 21.5%,#b9250e 22.1%,#bc2900 23.2%,#cb4600 29.1%,#d75e00 33.8%,#e38f00 37.9%,#f9cd00 42.6%,#fcdd00 44.4%,#fee700 49.1%,#fddf00 52.6%,#fad000 54.4%,#de7e00 60.3%,#d75f00 63.2%,#c73d00 69.7%,#c13300 77.9%,#bb2703 87.9%,#b82411 91.5%,#9e0f8f 99.7%)"></i>
<i style="left:62.0px;width:1.3px;background:linear-gradient(#000000 0.3%,#000000 8.5%,#1f0016 9.1%,#2e0061 10.3%,#34007f 10.9%,#4800c1 12.6%,#6100f8 15.0%,#7b00fc 16.8%,#8606dc 17.9%,#8d09c5 18.5%,#aa185b 20.3%,#b72318 21.5%,#b9250a 22.1%,#bd2b00 23.2%,#d86000 33.8%,#e49200 37.9%,#facf00 42.6%,#fdde00 44.4%,#fee900 49.1%,#fddd00 53.2%,#f8ca00 55.0%,#de8000 60.3%,#d85f00 63.2%,#c73d00 69.7%,#c23300 77.4%,#bb2702 87.9%,#b82410 91.5%,#9f108e 99.7%)"></i>
<i style="left:63.0px;width:1.3px;background:linear-gradient(#000000 0.3%,#000000 7.9%,#12000d 8.5%,#26002f 9.1%,#320077 10.3%,#4600ba 12.1%,#5f00f5 14.4%,#7700fe 16.2%,#7e02f4 16.8%,#8907d3 17.9%,#9e0f92 19.1%,#b4202a 20.9%,#b8240e 21.5%,#bc2800 22.6%,#cb4500 28.5%,#d86200 33.8%,#e59400 37.9%,#fad100 42.6%,#fddf00 44.4%,#feea00 49.1%,#fddf00 53.2%,#f9cc00 55.0%,#df8100 60.3%,#d86000 63.2%,#c73e00 69.7%,#c23400 76.8%,#bc2802 87.9%,#b8240f 91.5%,#b42027 93.2%,#9f108c 99.7%)"></i>
<i style="left:64.0px;width:1.3px;background:linear-gradient(#000000 0.3%,#000000 7.4%,#050004 7.9%,#240024 8.5%,#30006f 9.7%,#4400b2 11.5%,#5000d3 12.6%,#5c00ef 13.8%,#6300f9 14.4%,#7300fd 15.6%,#7b01fc 16.2%,#8606dc 17.4%,#8d09c6 17.9%,#a9175e 19.7%,#b6221c 20.9%,#b9250b 21.5%,#bd2a00 22.6%,#d75e00 33.2%,#e28e00 37.4%,#f9cc00 42.1%,#fddd00 43.8%,#feea00 48.5%,#fde500 52.1%,#fcdc00 53.8%,#e89b00 58.5%,#dd7b00 60.9%,#d65d00 63.8%,#c73e00 69.7%,#c23400 76.2%,#bc2801 87.9%,#b82412 92.1%,#a0108a 99.7%)"></i>
<i style="left:65.0px;width:1.3px;background:linear-gradient(#000000 0.3%,#000000 7.4%,#220019 7.9%,#2e0063 9.1%,#35007f 9.7%,#4800c0 11.5%,#6000f7 13.8%,#7800fe 15.6%,#8305e4 16.8%,#8907d4 17.4%,#9d0f94 18.5%,#b82410 20.9%,#bc2801 22.1%,#d86000 33.2%,#e39000 37.4%,#f9ce00 42.1%,#fdde00 43.8%,#feeb00 48.5%,#fde600 52.1%,#fcd800 54.4%,#de7d00 60.9%,#d75d00 63.8%,#c63c00 70.3%,#bc2801 87.9%,#b82410 92.1%,#a01088 99.7%)"></i>
<i style="left:66.0px;width:1.3px;background:linear-gradient(#000000 0.3%,#000000 6.8%,#170010 7.4%,#270033 7.9%,#320078 9.1%,#4600b9 10.9%,#5d00f1 13.2%,#6400f9 13.8%,#7400fd 15.0%,#7b01fb 15.6%,#8606dc 16.8%,#8d09c8 17.4%,#a81663 19.1%,#b52122 20.3%,#b9250d 20.9%,#bc2900 22.1%,#d75d00 32.6%,#e18900 36.8%,#f8c900 41.5%,#fcdc00 43.2%,#feeb00 47.4%,#feea00 50.9%,#fdde00 53.8%,#f5c000 56.2%,#de7e00 60.9%,#d75e00 63.8%,#c63c00 70.3%,#c13200 80.9%,#bb2702 88.5%,#b8240f 92.1%,#a11186 99.7%)"></i>
<i style="left:67.0px;width:1.3px;background:linear-gradient(#000000 0.3%,#000000 6.2%,#0b0008 6.8%,#250028 7.4%,#300071 8.5%,#4a00c4 10.9%,#6100f8 13.2%,#7800ff 15.0%,#8305e4 16.2%,#8807d5 16.8%,#9c0e97 17.9%,#b72316 20.3%,#bb2703 21.5%,#c94200 26.8%,#d75e00 32.6%,#e59400 37.4%,#fad200 42.1%,#fde300 44.4%,#feed00 49.1%,#fde300 53.2%,#fbd300 55.0%,#de7f00 60.9%,#d75e00 63.8%,#c63d00 70.3%,#c13300 79.7%,#bc2802 88.5%,#b8240f 92.1%,#b6221e 93.2%,#a3127c 99.1%,#a11184 99.7%)"></i>
<i style="left:68.0px;width:1.3px;background:linear-gradient(#000000 0.3%,#000000 6.2%,#23001e 6.8%,#2f0066 7.9%,#3b0096 9.1%,#4800bf 10.3%,#5e00f3 12.6%,#6c00fb 13.8%,#7400fd 14.4%,#7c01fa 15.0%,#8606dd 16.2%,#8c09ca 16.8%,#a71668 18.5%,#b42028 19.7%,#b8240f 20.3%,#bc2800 21.5%,#d85f00 32.6%,#e28d00 36.8%,#fbd300 42.1%,#fde400 44.4%,#feee00 49.1%,#fde400 53.2%,#fbd500 55.0%,#de8000 60.9%,#d75f00 63.8%,#c63d00 70.3%,#c23300 79.1%,#bc2801 88.5%,#b82412 92.6%,#a3137a 99.1%,#a21182 99.7%)"></i>
<i style="left:69.0px;width:1.3px;background:linear-gradient(#000000 0.3%,#000000 5.6%,#1c0014 6.2%,#270037 6.8%,#2d005b 7.4%,#330079 7.9%,#4500b8 9.7%,#5c00ee 12.1%,#6200f8 12.6%,#7900ff 14.4%,#8807d5 16.2%,#910abb 16.8%,#aa185b 18.5%,#b6221d 19.7%,#b9250c 20.3%,#bd2900 21.5%,#d86000 32.6%,#e38f00 36.8%,#fbd500 42.1%,#fde500 44.4%,#feef00 49.1%,#fde500 53.2%,#fcd700 55.0%,#df8100 60.9%,#d85f00 63.8%,#c73d00 70.3%,#c23400 77.9%,#bb2703 89.1%,#b82410 92.6%,#a41378 99.1%,#a21281 99.7%)"></i>
<i style="left:70.0px;width:1.3px;background:linear-gradient(#000000 0.3%,#000000 5.0%,#10000b 5.6%,#25002c 6.2%,#310072 7.4%,#4900c3 9.7%,#5f00f5 12.1%,#7500fe 13.8%,#7c01fa 14.4%,#8b08cc 16.2%,#a6156d 17.9%,#b82412 19.7%,#bb2702 20.9%,#d75e00 32.1%,#e49100 36.8%,#fbd600 42.1%,#fde600 44.4%,#fff000 49.1%,#fde600 53.2%,#fcd800 55.0%,#df8200 60.9%,#d86000 63.8%,#c73d00 70.3%,#c23400 77.4%,#bd2900 87.9%,#b8240f 92.6%,#a2127f 99.7%)"></i>
<i style="left:71.0px;width:1.3px;background:linear-gradient(#000000 0.3%,#030002 5.0%,#240021 5.6%,#2f0068 6.8%,#3b0096 7.9%,#4700bd 9.1%,#5d00f0 11.5%,#6300f9 12.1%,#7900ff 13.8%,#8807d6 15.6%,#900abe 16.2%,#a91761 17.9%,#b52124 19.1%,#b9250e 19.7%,#bc2800 20.9%,#d75f00 32.1%,#e49300 36.8%,#fcd700 42.1%,#fee700 44.4%,#fff000 49.1%,#fee600 53.2%,#fcd900 55.0%,#e59400 59.7%,#d86100 63.8%,#c73e00 70.3%,#c23500 77.4%,#bd2900 87.9%,#b8240f 92.6%,#b42029 94.4%,#a3127d 99.7%)"></i>
<i style="left:72.0px;width:1.3px;background:linear-gradient(#000000 0.3%,#000000 4.4%,#1f0016 5.0%,#2d005c 6.2%,#330079 6.8%,#4500b6 8.5%,#5500de 10.3%,#6000f7 11.5%,#7500fe 13.2%,#7c01fa 13.8%,#8a08cf 15.6%,#ac1955 17.9%,#b62219 19.1%,#b9250b 19.7%,#bd2900 20.9%,#d85f00 32.1%,#e59400 36.8%,#fcd800 42.1%,#fee700 44.4%,#fff100 49.1%,#fee700 53.2%,#fcdb00 55.0%,#e69600 59.7%,#da6900 63.2%,#d35600 65.6%,#c63c00 70.9%,#bd2a00 87.9%,#b8240e 92.6%,#b72313 93.2%,#a51473 99.1%,#a3127b 99.7%)"></i>
<i style="left:73.0px;width:1.3px;background:linear-gradient(#000000 0.3%,#000000 3.8%,#11000c 4.4%,#26002d 5.0%,#310072 6.2%,#4800c1 8.5%,#5d00f2 10.9%,#6300f9 11.5%,#7900ff 13.2%,#8807d7 15.0%,#8f0ac1 15.6%,#a81667 17.4%,#b82410 19.1%,#bb2702 20.3%,#d86100 32.1%,#e28d00 36.2%,#fad200 41.5%,#fde600 43.8%,#fff200 49.1%,#fee800 53.2%,#fcdc00 55.0%,#e69700 59.7%,#db7100 62.6%,#d75e00 64.4%,#c73e00 70.3%,#c33500 76.2%,#bd2b00 87.4%,#bb2705 90.3%,#b82411 93.2%,#a71568 98.5%,#a41379 99.7%)"></i>
<i style="left:74.0px;width:1.3px;background:linear-gradient(#000000 0.3%,#020002 3.8%,#230020 4.4%,#2f0066 5.6%,#3b0094 6.8%,#4600ba 7.9%,#6100f8 10.9%,#7600fe 12.6%,#7c01f9 13.2%,#8a08d0 15.0%,#aa185b 17.4%,#b52121 18.5%,#b9250d 19.1%,#bc2800 20.3%,#d75e00 31.5%,#e38f00 36.2%,#fbd300 41.5%,#fee600 43.8%,#fff200 49.1%,#fee800 53.2%,#fcdd00 55.0%,#e79900 59.7%,#dd7900 62.1%,#d75e00 64.4%,#c63c00 70.9%,#bc2900 88.5%,#b82410 93.2%,#a6146f 99.1%,#a41377 99.7%)"></i>
<i style="left:75.0px;width:2.3px;background:linear-gradient(#000000 0.3%,#000000 3.2%,#23001e 3.8%,#2e0064 5.0%,#34007e 5.6%,#4600b9 7.4%,#6000f7 10.3%,#7b00fc 12.6%,#8807d5 14.4%,#990da0 15.6%,#b82412 18.5%,#bb2703 19.7%,#c23300 22.1%,#d85f00 31.5%,#e39000 36.2%,#fbd400 41.5%,#fee700 43.8%,#fff300 49.1%,#fee900 53.2%,#fcd800 55.6%,#e49200 60.3%,#d75f00 64.4%,#c63d00 70.9%,#c23400 80.3%,#bc2802 89.7%,#b8240f 93.2%,#b21e35 95.6%,#a51375 99.7%)"></i>
<i style="left:77.0px;width:2.3px;background:linear-gradient(#000000 0.3%,#000000 2.1%,#070005 2.6%,#240024 3.2%,#2f006a 4.4%,#3b0095 5.6%,#4700bb 6.8%,#6000f8 9.7%,#7b01fc 12.1%,#8807d5 13.8%,#8f0abf 14.4%,#a7156b 16.2%,#b62219 17.9%,#b9250c 18.5%,#bc2900 19.7%,#d86100 31.5%,#e49300 36.2%,#fcdc00 42.1%,#feec00 45.0%,#fff300 49.7%,#fee800 53.8%,#fcda00 55.6%,#e59500 60.3%,#d86000 64.4%,#c73d00 70.9%,#c23500 78.5%,#bd2a00 88.5%,#b8240e 93.2%,#b82412 93.8%,#a91760 98.5%,#a51471 99.7%)"></i>
<i style="left:79.0px;width:2.3px;background:linear-gradient(#000000 0.3%,#000000 1.5%,#0a0007 2.1%,#250027 2.6%,#2f006c 3.8%,#4700bd 6.2%,#6100f8 9.1%,#7500fe 10.9%,#7b01fc 11.5%,#8807d6 13.2%,#8f0ac1 13.8%,#ab1955 16.2%,#b52120 17.4%,#b9250d 17.9%,#bc2801 19.1%,#d75f00 30.9%,#e28d00 35.6%,#fcd700 41.5%,#fee800 43.8%,#fff400 49.1%,#fee800 53.8%,#fbd400 56.2%,#de7e00 62.1%,#d65d00 65.0%,#c73d00 70.9%,#c33500 77.9%,#bd2a00 88.5%,#ba2606 91.5%,#b82410 93.8%,#a81665 99.1%,#a6156d 99.7%)"></i>
<i style="left:81.0px;width:2.3px;background:linear-gradient(#000000 0.3%,#000000 0.9%,#090006 1.5%,#240026 2.1%,#2f006c 3.2%,#4700be 5.6%,#6100f8 8.5%,#7500fe 10.3%,#7b01fb 10.9%,#8807d6 12.6%,#8e0ac3 13.2%,#aa185a 15.6%,#b8240f 17.4%,#bd2a00 19.1%,#d86000 30.9%,#e38e00 35.6%,#fcd700 41.5%,#fee800 43.8%,#fff400 49.1%,#fee900 53.8%,#fbd500 56.2%,#de8000 62.1%,#d75e00 65.0%,#c73e00 70.9%,#c33600 77.4%,#be2c00 87.9%,#bb2704 90.9%,#b8240f 93.8%,#b5211f 95.0%,#a91762 99.1%,#a7156a 99.7%)"></i>
<i style="left:83.0px;width:2.3px;background:linear-gradient(#000000 0.3%,#040003 0.9%,#240022 1.5%,#2f0069 2.6%,#3c0097 3.8%,#4700be 5.0%,#6200f8 7.9%,#7600fe 9.7%,#7c01fa 10.3%,#8807d6 12.1%,#8e09c3 12.6%,#aa175e 15.0%,#b82413 16.8%,#bc2800 18.5%,#d96300 30.9%,#e39000 35.6%,#fcd800 41.5%,#fee800 43.8%,#fff400 49.1%,#fee900 53.8%,#fcd700 56.2%,#e49200 60.9%,#d75f00 65.0%,#c73e00 70.9%,#c33600 76.8%,#be2c00 87.9%,#bb2705 91.5%,#b82412 94.4%,#a9175e 99.1%,#a81666 99.7%)"></i>
<i style="left:85.0px;width:2.3px;background:linear-gradient(#000000 0.3%,#23001d 0.9%,#2e0065 2.1%,#3b0095 3.2%,#4700bd 4.4%,#5c00ef 6.8%,#6200f9 7.4%,#7600fe 9.1%,#7c01fa 9.7%,#8807d6 11.5%,#8e09c4 12.1%,#a91761 14.4%,#b72319 16.2%,#b9250c 16.8%,#bc2801 17.9%,#d86000 30.3%,#e49100 35.6%,#fddd00 42.1%,#feec00 45.0%,#fff400 49.7%,#fee600 54.4%,#fad000 56.8%,#de7c00 62.6%,#d85f00 65.0%,#c73f00 70.9%,#c33600 76.2%,#be2c00 87.9%,#bb2702 90.9%,#b82410 94.4%,#aa185b 99.1%,#a81663 99.7%)"></i>
<i style="left:87.0px;width:2.3px;background:linear-gradient(#220019 0.3%,#2e0062 1.5%,#34007e 2.1%,#4700bc 3.8%,#5c00f0 6.2%,#6200f9 6.8%,#7700fe 8.5%,#7c01f9 9.1%,#8807d6 10.9%,#8e09c4 11.5%,#ad1a4d 14.4%,#b6221e 15.6%,#b9250e 16.2%,#bd2900 17.9%,#d86100 30.3%,#e49200 35.6%,#fddd00 42.1%,#feec00 45.0%,#fff400 49.7%,#fee700 54.4%,#fad100 56.8%,#de7d00 62.6%,#d86000 65.0%,#c63d00 71.5%,#c33500 79.7%,#bc2801 90.9%,#b8240f 94.4%,#b6221f 95.6%,#ab1857 99.1%,#a9175f 99.7%)"></i>
<i style="left:89.0px;width:2.3px;background:linear-gradient(#28003c 0.3%,#2e0060 0.9%,#34007d 1.5%,#4700bc 3.2%,#5d00f0 5.6%,#6200f9 6.2%,#7700fe 7.9%,#7c01f9 8.5%,#8807d6 10.3%,#8e09c5 10.9%,#ad1950 13.8%,#b8240f 15.6%,#bc2800 17.4%,#d96300 30.3%,#e49200 35.6%,#fad000 40.9%,#fde600 43.2%,#fff400 48.5%,#feee00 52.6%,#fddf00 55.6%,#f3b900 58.5%,#de7e00 62.6%,#d65d00 65.6%,#c73d00 71.5%,#c33600 78.5%,#bd2b00 89.1%,#bb2705 92.1%,#b82411 95.0%,#ac1954 99.1%,#aa175c 99.7%)"></i>
<i style="left:91.0px;width:2.3px;background:linear-gradient(#2e0063 0.3%,#34007e 0.9%,#4700bd 2.6%,#5d00f1 5.0%,#6300f9 5.6%,#7700fe 7.4%,#7c01f9 7.9%,#8807d6 9.7%,#8d09c6 10.3%,#ac1954 13.2%,#b82412 15.0%,#bc2801 16.8%,#d86000 29.7%,#e49300 35.6%,#fad000 40.9%,#fde600 43.2%,#fff400 48.5%,#feee00 52.6%,#fddf00 55.6%,#f6c300 57.9%,#de7f00 62.6%,#d75d00 65.6%,#c73e00 71.5%,#c33600 77.9%,#be2c00 88.5%,#bb2702 91.5%,#b82410 95.0%,#ab1858 99.7%)"></i>
<i style="left:93.0px;width:2.3px;background:linear-gradient(#360082 0.3%,#4800c0 2.1%,#5d00f1 4.4%,#6300f9 5.0%,#7700fe 6.8%,#7c01f9 7.4%,#8807d7 9.1%,#8d09c7 9.7%,#ab1857 12.6%,#b72317 14.4%,#b9250c 15.0%,#bd2900 16.8%,#d86100 29.7%,#e59300 35.6%,#f8c800 40.3%,#fde200 42.6%,#fff100 46.8%,#fff200 50.9%,#fde400 55.0%,#fbd400 56.8%,#e49100 61.5%,#d75e00 65.6%,#c73e00 71.5%,#c33600 77.4%,#be2c00 88.5%,#bb2703 92.1%,#b8240f 95.0%,#b6221e 96.2%,#ab1955 99.7%)"></i>
<i style="left:95.0px;width:2.3px;background:linear-gradient(#3d009d 0.3%,#4900c2 1.5%,#5e00f2 3.8%,#6a00fb 5.0%,#7700fe 6.2%,#7c01f9 6.8%,#8707d8 8.5%,#8c09c9 9.1%,#a61470 11.5%,#b6221b 13.8%,#b9250e 14.4%,#bc2800 16.2%,#d96300 29.7%,#e59400 35.6%,#f8c800 40.3%,#fde200 42.6%,#fff100 46.8%,#fff200 50.9%,#fde400 55.0%,#fbd400 56.8%,#e49200 61.5%,#d75f00 65.6%,#c63c00 72.1%,#be2c00 89.1%,#bb2705 92.6%,#b82411 95.6%,#ac1951 99.7%)"></i>
<i style="left:97.0px;width:2.3px;background:linear-gradient(#4500b6 0.3%,#4f00d1 1.5%,#5e00f3 3.2%,#6a00fb 4.4%,#7600fe 5.6%,#7c01fa 6.2%,#8b08cc 8.5%,#a51474 10.9%,#b52120 13.2%,#b8240f 13.8%,#bc2801 15.6%,#d86000 29.1%,#e28e00 35.0%,#f8c800 40.3%,#fde200 42.6%,#fff100 46.8%,#fff200 50.9%,#fde400 55.0%,#fbd500 56.8%,#e49300 61.5%,#d85f00 65.6%,#c63c00 72.1%,#be2c00 89.1%,#bc2802 92.1%,#b82410 95.6%,#ad1a4e 99.7%)"></i>
<i style="left:99.0px;width:2.3px;background:linear-gradient(#4b00c8 0.3%,#5e00f4 2.6%,#7000fc 4.4%,#7b01fb 5.6%,#8a08cf 7.9%,#a91761 10.9%,#b82411 13.2%,#bc2900 15.6%,#d86100 29.1%,#e38e00 35.0%,#f8c800 40.3%,#fde200 42.6%,#fff100 46.8%,#fff200 50.9%,#fde500 55.0%,#f9cd00 57.4%,#dd7b00 63.2%,#d85f00 65.6%,#c63d00 72.1%,#c33500 80.9%,#bc2801 92.1%,#b8240f 95.6%,#b42028 97.4%,#ae1a4b 99.7%)"></i>
<i style="left:101.0px;width:2.3px;background:linear-gradient(#5100d5 0.3%,#5e00f4 2.1%,#6f00fc 3.8%,#7b00fd 5.0%,#8a08d1 7.4%,#a81664 10.3%,#b72314 12.6%,#bb2704 14.4%,#bd2a00 15.6%,#d75f00 28.5%,#e38e00 35.0%,#f5bf00 39.7%,#fcdc00 42.1%,#feea00 44.4%,#fff400 49.1%,#feea00 53.8%,#fcdb00 56.2%,#e89c00 60.9%,#de7c00 63.2%,#d86000 65.6%,#c73d00 72.1%,#c33600 79.7%,#bd2a00 90.9%,#ba2609 94.4%,#b82412 96.2%,#ae1b48 99.7%)"></i>
<i style="left:103.0px;width:2.3px;background:linear-gradient(#5600e0 0.3%,#5e00f4 1.5%,#6e00fc 3.2%,#7a00fe 4.4%,#8907d3 6.8%,#a81667 9.7%,#b72317 12.1%,#b9250d 12.6%,#bd2a00 15.0%,#d35500 26.2%,#d96700 29.7%,#e59400 35.6%,#f7c600 40.3%,#fde100 42.6%,#fff000 46.2%,#fff300 50.3%,#fde400 55.0%,#fbd400 56.8%,#e59300 61.5%,#d86000 65.6%,#c73d00 72.1%,#c33600 79.1%,#bd2b00 90.3%,#bb2704 93.2%,#b82410 96.2%,#af1b45 99.7%)"></i>
<i style="left:105.0px;width:2.3px;background:linear-gradient(#5a00ea 0.3%,#6300f9 1.5%,#7900ff 3.8%,#8807d5 6.2%,#8e09c4 6.8%,#ac1954 9.7%,#b62219 11.5%,#b9250e 12.1%,#bc2900 14.4%,#ce4c00 23.8%,#da6800 29.7%,#e49300 35.6%,#f7c500 40.3%,#fde000 42.6%,#feee00 45.6%,#fff400 49.7%,#fee800 54.4%,#fbd400 56.8%,#de7c00 63.2%,#d65d00 66.2%,#c63c00 72.6%,#bf2d00 89.1%,#bc2802 92.6%,#b8240f 96.2%,#b01c42 99.7%)"></i>
<i style="left:107.0px;width:2.3px;background:linear-gradient(#5e00f3 0.3%,#6700fa 1.5%,#7800fe 3.2%,#8003ee 4.4%,#8707d8 5.6%,#8d09c8 6.2%,#a6156c 8.5%,#b6221c 10.9%,#b8240f 11.5%,#bc2800 13.8%,#cd4a00 23.2%,#d96400 29.1%,#e49200 35.6%,#f6c300 40.3%,#fddf00 42.6%,#feee00 45.6%,#fff400 49.7%,#fee700 54.4%,#fbd400 56.8%,#de7c00 63.2%,#d75d00 66.2%,#c63c00 72.6%,#be2c00 89.7%,#bb2703 93.2%,#b82413 96.8%,#b01c3f 99.7%)"></i>
<i style="left:109.0px;width:2.3px;background:linear-gradient(#6100f8 0.3%,#7600fe 2.6%,#7b01fb 3.2%,#8b08cd 5.6%,#a61470 7.9%,#b6221e 10.3%,#b8240f 10.9%,#bc2800 13.2%,#cb4500 22.1%,#d96500 29.1%,#e49100 35.6%,#f6c100 40.3%,#fdde00 42.6%,#feec00 45.0%,#fff400 49.7%,#fee700 54.4%,#fbd300 56.8%,#de7c00 63.2%,#d75e00 66.2%,#c63c00 72.6%,#be2c00 89.7%,#bb2703 93.2%,#b82410 96.8%,#b11d3c 99.7%)"></i>
<i style="left:111.0px;width:2.3px;background:linear-gradient(#6500f9 0.3%,#7a00fe 2.6%,#8908d2 5.0%,#a9175f 7.9%,#b52122 9.7%,#b82411 10.3%,#bc2900 13.2%,#ca4400 21.5%,#da6900 29.7%,#e39000 35.6%,#f5bf00 40.3%,#fddd00 42.6%,#feeb00 45.0%,#fff400 49.7%,#fee700 54.4%,#fad300 56.8%,#df8300 62.6%,#d75e00 66.2%,#c63c00 72.6%,#be2d00 89.7%,#bb2702 93.2%,#b8240f 96.8%,#b11d39 99.7%)"></i>
<i style="left:113.0px;width:2.3px;background:linear-gradient(#6900fa 0.3%,#7900ff 2.1%,#8405e2 3.8%,#8807d7 4.4%,#8d09c5 5.0%,#a81666 7.4%,#b42028 9.1%,#b72316 9.7%,#ba260a 10.9%,#bd2a00 13.2%,#ca4400 21.5%,#da6900 29.7%,#e38f00 35.6%,#f4bd00 40.3%,#fcdc00 42.6%,#feeb00 45.0%,#fff400 49.1%,#feea00 53.8%,#fcd900 56.2%,#e49200 61.5%,#d75e00 66.2%,#c63d00 72.6%,#be2c00 90.3%,#bb2702 93.2%,#b8240f 96.8%,#b21e36 99.7%)"></i>
<i style="left:115.0px;width:2.3px;background:linear-gradient(#6c00fb 0.3%,#7700fe 1.5%,#7b01fb 2.1%,#8a08d0 4.4%,#a51471 6.8%,#b6221d 9.1%,#b8240f 9.7%,#bd2900 12.6%,#c94200 20.9%,#da6900 29.7%,#e49300 36.2%,#f4bb00 40.3%,#fde100 43.2%,#feef00 46.2%,#fff300 50.3%,#fde300 55.0%,#fad200 56.8%,#df8300 62.6%,#d75e00 66.2%,#c53b00 73.2%,#bf2e00 89.1%,#bc2802 93.2%,#b82412 97.4%,#b21e33 99.7%)"></i>
<i style="left:117.0px;width:2.3px;background:linear-gradient(#6f00fc 0.3%,#7a00ff 1.5%,#8807d6 3.8%,#8e09c4 4.4%,#a81667 6.8%,#b42028 8.5%,#b72316 9.1%,#b9250e 9.7%,#bc2800 12.1%,#c84000 20.3%,#d96600 29.1%,#e49200 36.2%,#f3b900 40.3%,#fde000 43.2%,#feef00 46.2%,#fff300 50.3%,#fde300 55.0%,#fad100 56.8%,#df8300 62.6%,#d75e00 66.2%,#c53b00 73.2%,#bf2e00 89.1%,#bc2801 93.2%,#b82410 97.4%,#b31f31 99.7%)"></i>
<i style="left:119.0px;width:2.3px;background:linear-gradient(#7200fd 0.3%,#7b01fb 1.5%,#8a08d1 3.8%,#a9175f 6.8%,#b52123 8.5%,#b82412 9.1%,#bc2800 12.1%,#c94100 20.3%,#d96700 29.1%,#e49100 36.2%,#f3b800 40.3%,#fddf00 43.2%,#feed00 45.6%,#fff400 49.7%,#fee700 54.4%,#fad100 56.8%,#df8300 62.6%,#d75f00 66.2%,#c53b00 73.2%,#bf2e00 89.1%,#bb2703 93.8%,#b82410 97.4%,#b31f2e 99.7%)"></i>
<i style="left:121.0px;width:4.3px;background:linear-gradient(#7600fe 0.3%,#7b00fd 0.9%,#8807d6 3.2%,#8d09c6 3.8%,#ab1858 6.8%,#b6221e 8.5%,#b82410 9.1%,#bc2900 12.1%,#c94200 20.3%,#d96700 29.1%,#e39000 36.2%,#f5be00 40.9%,#fdde00 43.2%,#feec00 45.6%,#fff400 49.7%,#fee700 54.4%,#fad100 56.8%,#df8300 62.6%,#d75f00 66.2%,#c63b00 73.2%,#bf2e00 89.1%,#bb2703 93.8%,#b72313 97.9%,#b4202b 99.7%)"></i>
<i style="left:125.0px;width:4.3px;background:linear-gradient(#7a00ff 0.3%,#8a08cf 3.2%,#a81666 6.2%,#b6221b 8.5%,#b8240f 9.1%,#bc2900 12.1%,#c94300 20.3%,#da6b00 29.7%,#e39000 36.2%,#f4bc00 40.9%,#fddd00 43.2%,#feec00 45.6%,#fff300 49.7%,#fee700 54.4%,#fad100 56.8%,#df8300 62.6%,#d75f00 66.2%,#c53b00 73.2%,#bf2e00 89.1%,#bb2702 93.8%,#b82410 97.9%,#b42027 99.7%)"></i>
<i style="left:129.0px;width:4.3px;background:linear-gradient(#7c01f8 0.3%,#8907d4 2.6%,#940cb0 3.8%,#ad1a4f 6.8%,#b6221a 8.5%,#b8240f 9.1%,#bd2900 12.1%,#ca4400 20.3%,#da6b00 29.7%,#e38f00 36.2%,#f4ba00 40.9%,#fcdc00 43.2%,#fee900 45.0%,#fff300 49.1%,#fee900 53.8%,#fcd800 56.2%,#df8300 62.6%,#d75f00 66.2%,#c53b00 73.2%,#bf2e00 89.1%,#bc2802 93.8%,#b72313 98.5%,#b52122 99.7%)"></i>
<i style="left:133.0px;width:4.3px;background:linear-gradient(#7e02f3 0.3%,#8b08ce 2.6%,#aa175e 6.2%,#b72318 8.5%,#b8240e 9.1%,#bd2900 12.1%,#ca4500 20.3%,#da6c00 29.7%,#e38e00 36.2%,#f3b800 40.9%,#fde100 43.8%,#fff000 47.4%,#fff100 50.9%,#fde200 55.0%,#fad000 56.8%,#df8300 62.6%,#d75f00 66.2%,#c53b00 73.2%,#bf2e00 89.1%,#bb2703 94.4%,#b82410 98.5%,#b6221e 99.7%)"></i>
<i style="left:137.0px;width:4.3px;background:linear-gradient(#8003ee 0.3%,#8907d4 2.1%,#930bb5 3.2%,#ae1a4a 6.8%,#b72318 8.5%,#b8240e 9.1%,#bc2800 11.5%,#cb4600 20.3%,#da6c00 29.7%,#e28e00 36.2%,#f3b700 40.9%,#fddf00 43.8%,#feee00 46.8%,#fff100 50.3%,#fde100 55.0%,#fad000 56.8%,#df8300 62.6%,#d75f00 66.2%,#c53b00 73.2%,#c03000 88.5%,#bb2703 94.4%,#b72313 99.1%,#b6221a 99.7%)"></i>
<i style="left:141.0px;width:4.3px;background:linear-gradient(#8104ea 0.3%,#8a08d1 2.1%,#a71569 5.6%,#b72317 8.5%,#b9250e 9.1%,#bc2800 11.5%,#cb4700 20.3%,#db6d00 29.7%,#e28e00 36.2%,#f2b500 40.9%,#fdde00 43.8%,#feed00 46.8%,#fff000 50.3%,#fde100 55.0%,#f9cf00 56.8%,#de7d00 63.2%,#d75f00 66.2%,#c53b00 73.2%,#c03000 88.5%,#bb2702 94.4%,#b82410 99.1%,#b72317 99.7%)"></i>
<i style="left:145.0px;width:4.3px;background:linear-gradient(#8304e6 0.3%,#8c09cb 2.1%,#a81667 5.6%,#b72316 8.5%,#ba260a 9.7%,#bd2a00 12.1%,#cd4b00 20.9%,#db6d00 29.7%,#e28d00 36.2%,#f2b400 40.9%,#fddd00 43.8%,#feea00 46.2%,#fff000 49.7%,#fde300 54.4%,#fbd500 56.2%,#de7c00 63.2%,#d75f00 66.2%,#c53b00 73.2%,#c03000 88.5%,#bc2802 94.4%,#b72313 99.7%)"></i>
<i style="left:149.0px;width:4.3px;background:linear-gradient(#8405e2 0.3%,#8908d3 1.5%,#a11186 4.4%,#b72315 8.5%,#ba260a 9.7%,#bd2b00 12.1%,#da6b00 29.1%,#e28d00 36.2%,#f2b300 40.9%,#fcdc00 43.8%,#fee900 46.2%,#feee00 49.7%,#fde200 54.4%,#fbd400 56.2%,#de7c00 63.2%,#d75f00 66.2%,#c53b00 73.2%,#c03000 88.5%,#bb2703 95.0%,#b82410 99.7%)"></i>
<i style="left:153.0px;width:4.3px;background:linear-gradient(#8505df 0.3%,#8a08d0 1.5%,#ac1954 6.2%,#b72315 8.5%,#bb2706 10.3%,#bd2b00 12.1%,#da6b00 29.1%,#e39000 36.8%,#f3b800 41.5%,#fcdb00 43.8%,#fee800 46.2%,#feed00 49.7%,#fde100 54.4%,#fad200 56.2%,#de7c00 63.2%,#d75e00 66.2%,#c53b00 73.2%,#c03000 88.5%,#bb2703 95.0%,#b8240f 99.7%)"></i>
<i style="left:157.0px;width:4.3px;background:linear-gradient(#8606dd 0.3%,#8b08cc 1.5%,#ac1952 6.2%,#b72314 8.5%,#bc2802 10.9%,#da6900 28.5%,#e39000 36.8%,#f3b600 41.5%,#fddf00 44.4%,#feec00 47.9%,#fee600 52.6%,#fcd700 55.6%,#e69800 60.9%,#dc7600 63.8%,#d75e00 66.2%,#c53b00 73.2%,#c03000 88.5%,#bb2702 95.0%,#b8240f 99.7%)"></i>
<i style="left:161.0px;width:4.3px;background:linear-gradient(#8606da 0.3%,#8d09c8 1.5%,#ac1951 6.2%,#b72313 8.5%,#bc2801 10.9%,#d96700 27.9%,#e38f00 36.8%,#f2b400 41.5%,#fddd00 44.4%,#feeb00 47.9%,#fde500 52.6%,#fcdb00 55.0%,#e99e00 60.3%,#dd7b00 63.2%,#d75e00 66.2%,#c53b00 73.2%,#c03000 88.5%,#bb2702 95.0%,#b8240e 99.7%)"></i>
<i style="left:165.0px;width:4.3px;background:linear-gradient(#8707d8 0.3%,#8a08d1 0.9%,#a9175f 5.6%,#b82412 8.5%,#bc2801 10.9%,#d75e00 25.6%,#e28d00 36.8%,#f1b200 41.5%,#fcdc00 44.4%,#feea00 47.9%,#fde400 52.6%,#fcd900 55.0%,#e69600 60.9%,#da6900 65.0%,#d45800 67.4%,#c53b00 73.2%,#c03000 88.5%,#bb2703 95.6%,#b9250e 99.7%)"></i>
<i style="left:169.0px;width:4.3px;background:linear-gradient(#8807d6 0.3%,#8a08ce 0.9%,#aa175d 5.6%,#b82412 8.5%,#bc2800 10.9%,#d65d00 25.0%,#e28c00 36.8%,#f2b600 42.1%,#fcd900 44.4%,#fee700 47.4%,#fde500 51.5%,#fcd700 55.0%,#e59400 60.9%,#d75e00 66.2%,#c53b00 73.2%,#c03000 88.5%,#bb2703 95.6%,#b9250d 99.7%)"></i>
<i style="left:173.0px;width:4.3px;background:linear-gradient(#8907d4 0.3%,#900abd 1.5%,#b01c3f 6.8%,#b82411 8.5%,#bc2800 10.9%,#d65b00 24.4%,#e18a00 36.8%,#f1b300 42.1%,#fcdc00 45.0%,#fee800 48.5%,#fddd00 53.8%,#f8c800 56.2%,#de7f00 62.6%,#d75e00 66.2%,#c53b00 73.2%,#c03000 88.5%,#bb2703 95.6%,#b9250d 99.7%)"></i>
<i style="left:177.0px;width:4.3px;background:linear-gradient(#8908d2 0.3%,#a41377 4.4%,#b82410 8.5%,#bc2800 10.9%,#d55a00 23.8%,#e08800 36.8%,#f0af00 42.1%,#f7c700 43.8%,#fcda00 45.0%,#fde600 47.9%,#fddf00 52.6%,#fad200 55.0%,#e39000 60.9%,#d75d00 66.2%,#c53b00 73.2%,#c02f00 89.1%,#bb2702 95.6%,#b9250d 99.7%)"></i>
<i style="left:181.0px;width:4.3px;background:linear-gradient(#8a08d1 0.3%,#ab1859 5.6%,#b82410 8.5%,#bc2800 10.9%,#d55a00 23.8%,#e18a00 37.4%,#f1b100 42.6%,#fbd600 45.0%,#fde100 46.8%,#fde400 49.7%,#fcd900 53.8%,#e89b00 59.7%,#dc7600 63.2%,#d65c00 66.2%,#c53a00 73.2%,#bf2e00 89.7%,#bb2702 95.6%,#b9250c 99.7%)"></i>
<i style="left:185.0px;width:4.3px;background:linear-gradient(#8a08cf 0.3%,#ae1a4a 6.2%,#b8240f 8.5%,#bc2900 10.9%,#d45900 23.2%,#df8500 36.8%,#eba300 41.5%,#f4bb00 43.8%,#fcd800 45.6%,#fde300 48.5%,#fcda00 53.2%,#f5bf00 56.2%,#de7f00 62.1%,#d65c00 66.2%,#c53a00 73.2%,#bf2d00 90.3%,#bb2703 96.2%,#b9250c 99.7%)"></i>
<i style="left:189.0px;width:4.3px;background:linear-gradient(#8b08cc 0.3%,#ae1b49 6.2%,#b8240f 8.5%,#bc2900 10.9%,#d45900 23.2%,#e08800 37.9%,#f0ae00 43.2%,#f7c700 45.0%,#fcd900 46.2%,#fde100 48.5%,#fcd700 53.2%,#eba200 58.5%,#de7d00 62.1%,#d75e00 65.6%,#c53a00 73.2%,#be2d00 90.9%,#bb2703 96.2%,#b9250c 99.7%)"></i>
<i style="left:193.0px;width:4.3px;background:linear-gradient(#8c09c9 0.3%,#ab1956 5.6%,#b8240f 8.5%,#bd2900 10.9%,#d45700 22.6%,#e08800 38.5%,#f0ae00 43.8%,#f7c800 45.6%,#fcd800 46.8%,#fdde00 49.1%,#fbd400 53.2%,#e49100 59.7%,#d65d00 65.6%,#c63b00 72.6%,#bd2900 93.8%,#b9250b 99.7%)"></i>
<i style="left:197.0px;width:4.3px;background:linear-gradient(#8d09c7 0.3%,#ac1954 5.6%,#b8240f 8.5%,#bd2900 10.9%,#d45700 22.6%,#e08800 39.1%,#efad00 44.4%,#f7c700 46.2%,#fcd700 47.4%,#fcdc00 49.7%,#fad000 53.2%,#de7d00 61.5%,#d65c00 65.6%,#c53b00 72.6%,#bc2900 94.4%,#b9250b 99.7%)"></i>
<i style="left:201.0px;width:4.3px;background:linear-gradient(#8e09c4 0.3%,#ac1953 5.6%,#b62219 7.9%,#b8240e 8.5%,#bd2a00 10.9%,#d35600 22.1%,#e08800 39.7%,#efad00 45.0%,#f4bc00 46.2%,#fad000 47.4%,#fcda00 49.1%,#fad100 52.6%,#de7f00 60.9%,#d75e00 65.0%,#c53a00 72.6%,#bc2900 94.4%,#b9250b 99.7%)"></i>
<i style="left:205.0px;width:4.3px;background:linear-gradient(#8e0ac2 0.3%,#ac1952 5.6%,#b72318 7.9%,#b8240e 8.5%,#bd2a00 10.9%,#d35600 22.1%,#e08600 39.7%,#eba300 44.4%,#f2b300 46.2%,#fad000 47.9%,#fcd600 49.7%,#f9cd00 52.6%,#de8000 60.3%,#d65d00 65.0%,#c53a00 72.6%,#bd2a00 93.8%,#b9250b 99.7%)"></i>
<i style="left:209.0px;width:4.3px;background:linear-gradient(#8f0ac0 0.3%,#ac1950 5.6%,#b72317 7.9%,#ba260a 9.1%,#bd2a00 10.9%,#d35600 22.1%,#e08600 40.3%,#eba400 45.0%,#f2b400 46.8%,#f9ce00 48.5%,#fad200 50.3%,#f7c800 52.6%,#df8200 59.7%,#d65c00 65.0%,#c53a00 72.6%,#bd2a00 93.8%,#b9250b 99.7%)"></i>
<i style="left:213.0px;width:4.3px;background:linear-gradient(#900abe 0.3%,#ad1a4f 5.6%,#b72315 7.9%,#bb2705 9.7%,#bd2a00 10.9%,#d25500 21.5%,#e08700 40.9%,#eea900 46.2%,#f2b500 47.4%,#f7c700 48.5%,#f9cd00 49.7%,#f7c600 52.1%,#df8300 59.1%,#d75e00 64.4%,#c53a00 72.6%,#bd2a00 93.2%,#bb2706 97.9%,#b9250a 99.7%)"></i>
<i style="left:217.0px;width:4.3px;background:linear-gradient(#900abc 0.3%,#ad1a4e 5.6%,#b72314 7.9%,#bc2800 10.3%,#d25500 21.5%,#e08800 41.5%,#eeab00 46.8%,#f7c600 49.1%,#f7c600 50.9%,#f4ba00 52.6%,#df8100 59.1%,#d65d00 64.4%,#c53a00 72.1%,#bc2900 94.4%,#b9250a 99.7%)"></i>
<i style="left:221.0px;width:4.3px;background:linear-gradient(#910aba 0.3%,#ab1859 5.0%,#b82412 7.9%,#bc2900 10.3%,#d25400 20.9%,#e08800 41.5%,#efac00 47.4%,#f5bf00 49.1%,#f5c000 50.9%,#de7e00 59.1%,#d65c00 64.4%,#c53a00 72.1%,#bd2a00 93.2%,#bb2706 97.9%,#b9250a 99.7%)"></i>
<i style="left:225.0px;width:4.3px;background:linear-gradient(#910bb9 0.3%,#ab1859 5.0%,#b82410 7.9%,#bd2900 10.3%,#d25500 20.9%,#e38e00 42.1%,#f2b300 48.5%,#f4bc00 49.7%,#f3b600 51.5%,#de8000 58.5%,#d75d00 63.8%,#c53a00 72.1%,#bd2b00 92.6%,#bb2704 97.4%,#b9250a 99.7%)"></i>
<i style="left:229.0px;width:4.3px;background:linear-gradient(#920bb7 0.3%,#ab1857 5.0%,#b82410 7.9%,#bd2a00 10.3%,#d25500 20.9%,#db6d00 28.5%,#e69800 41.5%,#f3b700 49.7%,#eca600 53.2%,#dd7b00 59.1%,#d65c00 63.8%,#c53900 72.1%,#be2c00 92.1%,#bb2704 97.4%,#ba260a 99.7%)"></i>
<i style="left:233.0px;width:4.3px;background:linear-gradient(#930bb4 0.3%,#af1b47 5.6%,#b8240f 7.9%,#bc2900 10.3%,#d35700 22.1%,#da6a00 27.4%,#e89b00 39.1%,#f1b100 47.4%,#f1b100 50.3%,#e89c00 54.4%,#dc7200 60.3%,#d65c00 63.8%,#c53900 72.1%,#be2c00 92.1%,#bb2704 97.4%,#ba260a 99.7%)"></i>
<i style="left:237.0px;width:4.7px;background:linear-gradient(#940bb1 0.3%,#b11d37 6.2%,#b8240f 7.9%,#bc2800 10.3%,#d55900 23.2%,#da6900 27.4%,#e79900 37.9%,#f0ae00 45.0%,#f0b000 49.7%,#e99f00 53.8%,#dc7200 60.3%,#d75e00 63.2%,#c53900 72.1%,#be2c00 91.5%,#bb2703 96.8%,#ba260a 99.7%)"></i>
</div>
<div class="l c" style="left:160.7px;top:1px">z</div>
<div class="l c" style="left:42.2px;top:10px">8</div>
<div class="l c" style="left:58.8px;top:10px">4</div>
<div class="l c" style="left:91.0px;top:10px">2</div>
<div class="l c" style="left:137.8px;top:10px">1</div>
<div class="l c" style="left:187.0px;top:10px">0.5</div>
<div class="l c" style="left:234.5px;top:10px">0.2</div>
<div class="l c" style="left:277.0px;top:10px">0</div>
<div class="l c" style="left:48.0px;top:200.4px">1</div>
<div class="l c" style="left:65.8px;top:200.4px">2</div>
<div class="l c" style="left:101.6px;top:200.4px">4</div>
<div class="l c" style="left:137.4px;top:200.4px">6</div>
<div class="l c" style="left:173.2px;top:200.4px">8</div>
<div class="l c" style="left:209.0px;top:200.4px">10</div>
<div class="l c" style="left:244.8px;top:200.4px">12</div>
<div class="l c" style="left:278.6px;top:200.4px">13.8</div>
<div class="l c" style="left:159.7px;top:209.8px;font-size:10px">Time Since Big Bang [Gyr]</div>
<div class="l r" style="left:32.8px;top:191.3px">10<sup>9</sup></div>
<div class="l r" style="left:32.8px;top:163.2px">10<sup>10</sup></div>
<div class="l r" style="left:32.8px;top:135.0px">10<sup>11</sup></div>
<div class="l r" style="left:32.8px;top:106.8px">10<sup>12</sup></div>
<div class="l r" style="left:32.8px;top:78.7px">10<sup>13</sup></div>
<div class="l r" style="left:32.8px;top:50.6px">10<sup>14</sup></div>
<div class="l r" style="left:32.8px;top:22.4px">10<sup>15</sup></div>
<div class="l" style="left:5.5px;top:109.2px;font-size:10px;transform:translate(-50%,-50%) rotate(-90deg)">Halo Mass [M<sub style="font-size:7.9px">&#8857;</sub>]</div>
<div class="l w k" style="left:44.5px;top:30.8px;font-size:10px">log<sub>10</sub>(sGRB Rate Mpc<sup>-3</sup> dex<sup>-1</sup>)</div>
<div class="l" style="left:65.3px;top:42.7px;width:48.7px;height:11.3px;background:linear-gradient(90deg,#000000 0.0%,#220018 2.0%,#2a0046 5.0%,#300070 7.5%,#4800c0 15.0%,#6000f8 23.0%,#7a00ff 30.0%,#8a08d0 38.0%,#a0108a 44.0%,#b01c40 50.0%,#b82410 53.5%,#bc2800 58.0%,#c43800 66.0%,#cc4800 72.5%,#d86000 80.0%,#e08800 86.7%,#f2b400 92.0%,#fcd800 96.0%,#fff400 100.0%)"></div>
<div class="l c w k" style="left:66.0px;top:54.6px;font-size:10.5px">-5.0</div>
<div class="l c w k" style="left:90.3px;top:54.6px;font-size:10.5px">-2.8</div>
<div class="l c w k" style="left:114.7px;top:54.6px;font-size:10.5px">-0.6</div>
<div class="l k" style="left:133.0px;top:162.0px;font-size:10px;color:#ffeee2">P(&#916;t) = (&#916;t)<sup>-0.5</sup></div>
<div class="l k" style="left:133.0px;top:173.0px;font-size:10px;color:#ffeee2">Short GRB Probability Density</div>
<div class="p" style="left:351.0px;top:25.3px">
<i style="left:0.0px;width:1.3px;background:linear-gradient(#fde600 0.3%,#fad200 10.3%,#f3b600 19.7%,#e49100 35.0%,#d35700 60.3%,#bc2801 70.9%,#b82410 72.6%,#aa185a 75.0%,#8f0abf 78.5%,#8a08cf 79.1%,#7b00fd 82.6%,#6000f8 87.4%,#4c00c9 92.1%,#4200ac 93.8%,#2f006c 96.8%,#220019 99.1%,#0c0008 99.7%)"></i>
<i style="left:1.0px;width:1.3px;background:linear-gradient(#fde600 0.3%,#fad200 10.3%,#f3b600 19.7%,#e79800 32.1%,#dd7700 45.6%,#d35600 60.3%,#bc2802 70.9%,#b82413 72.6%,#aa185b 75.0%,#8a08d0 79.1%,#7b00fd 82.6%,#6000f8 87.4%,#4c00c9 92.1%,#4200ac 93.8%,#2f006c 96.8%,#220019 99.1%,#0c0008 99.7%)"></i>
<i style="left:2.0px;width:1.3px;background:linear-gradient(#fde600 0.3%,#fad200 10.3%,#f3b600 19.7%,#e99e00 29.7%,#df8100 40.3%,#d45800 59.7%,#bd2900 70.3%,#b9250d 72.1%,#b72317 72.6%,#a9175e 75.0%,#8a08d1 79.1%,#7a00fe 82.6%,#6000f8 87.4%,#4c00c9 92.1%,#4200ac 93.8%,#2f006c 96.8%,#220019 99.1%,#0c0008 99.7%)"></i>
<i style="left:3.0px;width:1.3px;background:linear-gradient(#fde600 0.3%,#fad200 10.3%,#f3b600 19.7%,#eaa100 28.5%,#df8300 38.5%,#d35700 59.7%,#bc2800 70.3%,#b8240e 72.1%,#b31f2f 73.2%,#980da3 77.4%,#8a08d1 79.1%,#7a00fe 82.6%,#6100f8 87.4%,#4c00c9 92.1%,#4200ac 93.8%,#2f006c 96.8%,#220019 99.1%,#0c0008 99.7%)"></i>
<i style="left:4.0px;width:1.3px;background:linear-gradient(#fde600 0.3%,#fad200 10.3%,#f3b600 19.7%,#eba300 27.9%,#df8300 37.9%,#d35500 59.7%,#bc2802 70.3%,#b82410 72.1%,#a81665 75.0%,#8908d2 79.1%,#7b00fd 82.6%,#6100f8 87.4%,#4c00ca 92.1%,#4200ad 93.8%,#2f006c 96.8%,#220019 99.1%,#0c0008 99.7%)"></i>
<i style="left:5.0px;width:1.3px;background:linear-gradient(#fde600 0.3%,#fad200 10.3%,#f3b600 19.7%,#eba200 27.9%,#df8200 37.9%,#d55a00 57.4%,#cd4900 62.1%,#bc2900 69.7%,#b9250d 71.5%,#b72315 72.1%,#a71569 75.0%,#8908d2 79.1%,#7b00fd 82.6%,#6100f8 87.4%,#5000d2 91.5%,#4600ba 93.2%,#30006d 96.8%,#220019 99.1%,#0c0008 99.7%)"></i>
<i style="left:6.0px;width:1.3px;background:linear-gradient(#fde600 0.3%,#fad200 10.3%,#f3b600 19.7%,#eba300 27.9%,#df8200 37.9%,#d65d00 55.0%,#d05000 60.3%,#bc2801 69.7%,#b8240e 71.5%,#b6221a 72.1%,#aa175d 74.4%,#8d09c7 78.5%,#8706da 79.7%,#7b00fc 82.6%,#6200f9 87.4%,#5800e6 89.7%,#4700bc 93.2%,#30006f 96.8%,#22001a 99.1%,#0c0008 99.7%)"></i>
<i style="left:7.0px;width:1.3px;background:linear-gradient(#fde600 0.3%,#fad200 10.3%,#f3b600 19.7%,#eba300 27.9%,#df8100 37.9%,#d65d00 53.8%,#cf4e00 60.3%,#bb2702 69.7%,#b82410 71.5%,#a91761 74.4%,#8d09c8 78.5%,#8706da 79.7%,#7b01fc 82.6%,#7500fe 83.8%,#6000f8 87.9%,#4b00c7 92.6%,#4400b3 93.8%,#300071 96.8%,#22001a 99.1%,#0c0009 99.7%)"></i>
<i style="left:8.0px;width:1.3px;background:linear-gradient(#fde600 0.3%,#fad200 10.3%,#f3b600 19.7%,#eaa100 28.5%,#de7f00 38.5%,#d65d00 53.2%,#ce4c00 60.3%,#bc2800 69.1%,#b9250d 70.9%,#b72314 71.5%,#a81665 74.4%,#8c09c9 78.5%,#8405e1 80.3%,#7900ff 83.2%,#5f00f5 88.5%,#4c00c9 92.6%,#4500b6 93.8%,#310073 96.8%,#23001b 99.1%,#0d0009 99.7%)"></i>
<i style="left:9.0px;width:1.3px;background:linear-gradient(#fde600 0.3%,#fad200 10.3%,#f3b600 19.7%,#eaa100 28.5%,#de7d00 39.1%,#d65c00 52.6%,#cd4a00 60.3%,#bc2801 69.1%,#b8240e 70.9%,#b62219 71.5%,#a71568 74.4%,#8c09ca 78.5%,#8204e8 80.9%,#7a00ff 83.2%,#5f00f7 88.5%,#4d00cb 92.6%,#4600b9 93.8%,#320075 96.8%,#23001c 99.1%,#0d0009 99.7%)"></i>
<i style="left:10.0px;width:1.3px;background:linear-gradient(#fde600 0.3%,#fad200 10.3%,#f3b600 19.7%,#eaa100 28.5%,#de7d00 39.1%,#d65c00 52.6%,#cc4900 60.3%,#bc2900 68.5%,#b8240f 70.9%,#a7156b 74.4%,#8c09cb 78.5%,#8003ee 81.5%,#7a00ff 83.2%,#6000f8 88.5%,#4e00cd 92.6%,#4700bc 93.8%,#320077 96.8%,#2b004b 97.9%,#23001d 99.1%,#0d0009 99.7%)"></i>
<i style="left:11.0px;width:1.3px;background:linear-gradient(#fde600 0.3%,#fad200 10.3%,#f3b600 19.7%,#eaa100 28.5%,#de7d00 39.1%,#d55b00 52.6%,#cc4700 60.3%,#bc2800 68.5%,#b82412 70.9%,#a91760 73.8%,#8b09cb 78.5%,#7c01f9 82.6%,#7a00fe 83.2%,#6100f8 88.5%,#5100d6 92.1%,#4700be 93.8%,#330078 96.8%,#2e0065 97.4%,#23001e 99.1%,#0d000a 99.7%)"></i>
<i style="left:12.0px;width:1.3px;background:linear-gradient(#fde600 0.3%,#fad200 10.3%,#f3b600 19.7%,#eaa100 28.5%,#de7c00 39.1%,#d55b00 52.1%,#ca4400 60.9%,#bc2801 68.5%,#b9250d 70.3%,#b72316 70.9%,#a91762 73.8%,#8b08cc 78.5%,#7a00fe 83.2%,#5f00f6 89.1%,#4f00d0 92.6%,#4800c0 93.8%,#33007a 96.8%,#2f0067 97.4%,#23001e 99.1%,#0e000a 99.7%)"></i>
<i style="left:13.0px;width:1.3px;background:linear-gradient(#fde600 0.3%,#fad200 10.3%,#f3b600 19.7%,#eaa000 28.5%,#de7c00 39.1%,#d65b00 51.5%,#ca4300 60.9%,#bb2702 68.5%,#b8240e 70.3%,#b42029 71.5%,#9f108c 75.6%,#8b08cd 78.5%,#7a00fe 83.2%,#5f00f6 89.1%,#4f00d1 92.6%,#4800c1 93.8%,#33007a 96.8%,#2f0068 97.4%,#23001e 99.1%,#0e000a 99.7%)"></i>
<i style="left:14.0px;width:1.3px;background:linear-gradient(#fde600 0.3%,#fad200 10.3%,#f3b600 19.7%,#e99e00 29.1%,#dd7a00 39.7%,#d55a00 51.5%,#c94200 60.9%,#bc2800 67.9%,#b8240f 70.3%,#9f108d 75.6%,#8b08cd 78.5%,#7a00fe 83.2%,#6000f7 89.1%,#4f00d1 92.6%,#4900c1 93.8%,#33007b 96.8%,#2f0069 97.4%,#23001f 99.1%,#0e000a 99.7%)"></i>
<i style="left:15.0px;width:1.3px;background:linear-gradient(#fde600 0.3%,#fad200 10.3%,#f2b500 20.3%,#e89c00 29.7%,#dd7800 40.3%,#d55b00 50.9%,#c73f00 61.5%,#bc2801 67.9%,#b82410 70.3%,#a81667 73.8%,#8b08cd 78.5%,#7a00fe 83.2%,#6000f7 89.1%,#5000d2 92.6%,#4900c2 93.8%,#34007c 96.8%,#2f006a 97.4%,#23001f 99.1%,#0e000a 99.7%)"></i>
<i style="left:16.0px;width:1.3px;background:linear-gradient(#fde600 0.3%,#fad200 10.3%,#f2b400 20.3%,#e79900 30.3%,#dc7300 41.5%,#d55a00 50.9%,#c73e00 61.5%,#bc2802 67.9%,#b82413 70.3%,#a71668 73.8%,#8b08ce 78.5%,#7a00fe 83.2%,#6000f8 89.1%,#5000d3 92.6%,#4900c3 93.8%,#38008c 96.2%,#2f006a 97.4%,#23001f 99.1%,#0e000a 99.7%)"></i>
<i style="left:17.0px;width:1.3px;background:linear-gradient(#fde600 0.3%,#fad200 10.3%,#f2b300 20.9%,#e59400 31.5%,#d75d00 49.1%,#c83f00 60.9%,#bb2702 67.9%,#b9250e 69.7%,#b72315 70.3%,#a71569 73.8%,#8b08ce 78.5%,#7a00fe 83.2%,#6000f8 89.1%,#5000d3 92.6%,#4500b8 94.4%,#34007d 96.8%,#2f006b 97.4%,#23001f 99.1%,#0e000a 99.7%)"></i>
<i style="left:18.0px;width:1.3px;background:linear-gradient(#fde600 0.3%,#fad200 10.3%,#f1b100 21.5%,#e28e00 33.2%,#d65d00 49.1%,#c63c00 61.5%,#bc2800 67.4%,#b8240e 69.7%,#b72318 70.3%,#a41377 74.4%,#8a08cf 78.5%,#7a00fe 83.2%,#6000f8 89.1%,#5000d4 92.6%,#4600b8 94.4%,#34007d 96.8%,#2f006c 97.4%,#23001f 99.1%,#0e000a 99.7%)"></i>
<i style="left:19.0px;width:1.3px;background:linear-gradient(#fde600 0.3%,#fad200 10.3%,#f0af00 22.1%,#dc7600 40.3%,#d55a00 50.3%,#c43700 62.6%,#bc2801 67.4%,#b8240f 69.7%,#9a0e9d 76.2%,#8a08cf 78.5%,#7a00fe 83.2%,#6100f8 89.1%,#5400dc 92.1%,#4a00c4 93.8%,#39008d 96.2%,#2f006c 97.4%,#230020 99.1%,#0e000a 99.7%)"></i>
<i style="left:20.0px;width:1.3px;background:linear-gradient(#fde600 0.3%,#fad000 10.9%,#eda900 24.4%,#dd7800 39.7%,#d55b00 49.7%,#c33700 62.6%,#bc2801 67.4%,#b82410 69.7%,#9e0f92 75.6%,#8a08cf 78.5%,#7a00fe 83.2%,#6100f8 89.1%,#5400dc 92.1%,#4600ba 94.4%,#30006d 97.4%,#230020 99.1%,#0e000a 99.7%)"></i>
<i style="left:21.0px;width:1.3px;background:linear-gradient(#fde600 0.3%,#fad000 10.9%,#dc7500 40.3%,#d65c00 49.1%,#c33600 62.6%,#bb2702 67.4%,#b82410 69.7%,#a4137a 74.4%,#8a08d0 78.5%,#7a00fe 83.2%,#6100f8 89.1%,#5400dc 92.1%,#4600ba 94.4%,#30006d 97.4%,#230020 99.1%,#0e000a 99.7%)"></i>
<i style="left:22.0px;width:1.3px;background:linear-gradient(#fde600 0.3%,#fad000 10.9%,#db7100 41.5%,#d55a00 49.7%,#c13200 63.8%,#bb2703 67.4%,#b82413 69.7%,#a11187 75.0%,#8a08d0 78.5%,#7a00fe 83.2%,#5f00f5 89.7%,#4e00ce 93.2%,#4600bb 94.4%,#30006e 97.4%,#230020 99.1%,#0f000a 99.7%)"></i>
<i style="left:23.0px;width:1.3px;background:linear-gradient(#fde600 0.3%,#fad000 10.9%,#db7100 41.5%,#d55a00 49.7%,#c03000 64.4%,#bc2800 66.8%,#b9250e 69.1%,#b72315 69.7%,#a11088 75.0%,#8a08d0 78.5%,#7a00fe 83.2%,#5f00f5 89.7%,#4e00ce 93.2%,#4700bb 94.4%,#30006f 97.4%,#230021 99.1%,#0f000a 99.7%)"></i>
<i style="left:24.0px;width:1.3px;background:linear-gradient(#fde600 0.3%,#fad000 10.9%,#db7000 41.5%,#d55900 49.7%,#bf2d00 65.0%,#bb2704 67.4%,#b8240e 69.1%,#b52124 70.3%,#990da0 76.2%,#8a08d0 78.5%,#7a00fe 83.2%,#5f00f6 89.7%,#4e00ce 93.2%,#4700bc 94.4%,#30006f 97.4%,#240021 99.1%,#0f000a 99.7%)"></i>
<i style="left:25.0px;width:1.3px;background:linear-gradient(#fde600 0.3%,#fad000 10.9%,#db7000 41.5%,#d55a00 49.1%,#bf2f00 64.4%,#bc2801 66.8%,#b8240f 69.1%,#b21e33 70.9%,#950cad 76.8%,#8a08d1 78.5%,#7a00fe 83.2%,#5f00f6 89.7%,#4e00cf 93.2%,#4700bd 94.4%,#300070 97.4%,#240021 99.1%,#0f000b 99.7%)"></i>
<i style="left:26.0px;width:1.3px;background:linear-gradient(#fde600 0.3%,#fad000 10.9%,#dc7200 40.9%,#d65b00 48.5%,#bf2e00 64.4%,#bb2702 66.8%,#b8240f 69.1%,#990da1 76.2%,#8a08d1 78.5%,#7a00fe 83.2%,#5f00f6 89.7%,#4f00cf 93.2%,#4700bd 94.4%,#300070 97.4%,#240021 99.1%,#0f000b 99.7%)"></i>
<i style="left:27.0px;width:1.3px;background:linear-gradient(#fde600 0.3%,#fad000 10.9%,#db7100 40.9%,#d65b00 48.5%,#bf2e00 64.4%,#bb2703 66.8%,#b82410 69.1%,#a0108b 75.0%,#8a08d1 78.5%,#7a00fe 83.2%,#5f00f6 89.7%,#4f00d0 93.2%,#4700be 94.4%,#300071 97.4%,#240022 99.1%,#10000b 99.7%)"></i>
<i style="left:28.0px;width:1.3px;background:linear-gradient(#fde600 0.3%,#fad000 10.9%,#db7100 40.9%,#d55a00 49.1%,#bd2a00 65.6%,#ba260a 67.9%,#b82411 69.1%,#a21280 74.4%,#8a08d1 78.5%,#7a00fe 83.2%,#5f00f7 89.7%,#4f00d0 93.2%,#4800be 94.4%,#300072 97.4%,#240023 99.1%,#10000b 99.7%)"></i>
<i style="left:29.0px;width:1.3px;background:linear-gradient(#fde600 0.3%,#fad000 10.9%,#dc7300 40.3%,#d55b00 48.5%,#be2c00 65.0%,#bb2704 66.8%,#b82413 69.1%,#9f108c 75.0%,#8a08d1 78.5%,#7a00fe 83.2%,#5f00f7 89.7%,#4f00d0 93.2%,#4800bf 94.4%,#310072 97.4%,#240023 99.1%,#11000c 99.7%)"></i>
<i style="left:30.0px;width:1.3px;background:linear-gradient(#fde600 0.3%,#fad000 10.9%,#dc7300 40.3%,#d55b00 48.5%,#be2b00 65.0%,#bb2704 66.8%,#b9250e 68.5%,#b72315 69.1%,#9f108d 75.0%,#8908d2 78.5%,#7a00fe 83.2%,#6000f7 89.7%,#4f00d1 93.2%,#4800c0 94.4%,#310073 97.4%,#240024 99.1%,#12000d 99.7%)"></i>
<i style="left:31.0px;width:1.3px;background:linear-gradient(#fde600 0.3%,#fad000 10.9%,#dc7300 40.3%,#d65c00 47.9%,#be2d00 64.4%,#bb2705 66.8%,#b8240e 68.5%,#b52123 69.7%,#980da4 76.2%,#8908d2 78.5%,#7a00fe 83.2%,#6000f7 89.7%,#4f00d1 93.2%,#4800c0 94.4%,#310074 97.4%,#240025 99.1%,#13000d 99.7%)"></i>
<i style="left:32.0px;width:1.3px;background:linear-gradient(#fde600 0.3%,#fad000 10.9%,#dc7200 40.3%,#d65c00 47.9%,#be2d00 64.4%,#bc2802 66.2%,#b8240f 68.5%,#b21e31 70.3%,#940cb1 76.8%,#8908d2 78.5%,#7a00fe 83.2%,#6000f7 89.7%,#4f00d1 93.2%,#4800c0 94.4%,#310074 97.4%,#250026 99.1%,#14000e 99.7%)"></i>
<i style="left:33.0px;width:1.3px;background:linear-gradient(#fde600 0.3%,#facf00 10.9%,#dc7200 40.3%,#d65c00 47.9%,#be2c00 64.4%,#bb2702 66.2%,#b8240f 68.5%,#970da6 76.2%,#8908d2 78.5%,#7a00fe 83.2%,#6000f8 89.7%,#5000d2 93.2%,#4800c1 94.4%,#320075 97.4%,#250028 99.1%,#16000f 99.7%)"></i>
<i style="left:34.0px;width:1.3px;background:linear-gradient(#fde600 0.3%,#facf00 10.9%,#dc7200 40.3%,#d65b00 47.9%,#be2c00 64.4%,#bb2703 66.2%,#b82410 68.5%,#9e0f90 75.0%,#8908d3 78.5%,#7a00fe 83.2%,#6000f8 89.7%,#5000d2 93.2%,#4900c1 94.4%,#320076 97.4%,#250029 99.1%,#170010 99.7%)"></i>
<i style="left:35.0px;width:1.3px;background:linear-gradient(#fde600 0.3%,#f9cf00 10.9%,#dc7400 39.7%,#d65b00 47.9%,#be2c00 64.4%,#bb2703 66.2%,#b82410 68.5%,#a6146f 73.2%,#8908d3 78.5%,#7a00fe 83.2%,#6000f8 89.7%,#5000d2 93.2%,#4900c2 94.4%,#320077 97.4%,#2a0044 98.5%,#25002a 99.1%,#190011 99.7%)"></i>
<i style="left:36.0px;width:1.3px;background:linear-gradient(#fde600 0.3%,#f9cf00 10.9%,#dc7400 39.7%,#d65b00 47.9%,#be2c00 64.4%,#bb2703 66.2%,#b82412 68.5%,#a61470 73.2%,#8907d3 78.5%,#7a00fe 83.2%,#6000f8 89.7%,#5000d3 93.2%,#4900c2 94.4%,#370088 96.8%,#320077 97.4%,#2e0061 97.9%,#25002c 99.1%,#1b0013 99.7%)"></i>
<i style="left:37.0px;width:1.3px;background:linear-gradient(#fde600 0.3%,#f9ce00 10.9%,#dc7300 39.7%,#d65b00 47.9%,#be2c00 64.4%,#bb2704 66.2%,#b72313 68.5%,#a3127d 73.8%,#8c09cb 77.9%,#7e02f4 82.1%,#7a00fe 83.2%,#6000f8 89.7%,#5000d3 93.2%,#4900c2 94.4%,#370089 96.8%,#320078 97.4%,#2e0063 97.9%,#26002d 99.1%,#1c0014 99.7%)"></i>
<i style="left:38.0px;width:1.3px;background:linear-gradient(#fde600 0.3%,#f9ce00 10.9%,#dc7300 39.7%,#d65b00 47.9%,#be2b00 64.4%,#bb2704 66.2%,#b72314 68.5%,#a3127e 73.8%,#8b09cb 77.9%,#7c01f9 82.6%,#7800fe 83.8%,#6000f8 89.7%,#5000d3 93.2%,#4900c3 94.4%,#380089 96.8%,#2e0064 97.9%,#1e0015 99.7%)"></i>
<i style="left:39.0px;width:1.3px;background:linear-gradient(#fde600 0.3%,#f9ce00 10.9%,#dc7300 39.7%,#d65c00 47.4%,#bf2d00 63.8%,#bb2705 66.2%,#b8240e 67.9%,#b52122 69.1%,#960caa 76.2%,#8b08cc 77.9%,#7a00fe 83.2%,#6000f8 89.7%,#5000d3 93.2%,#4900c3 94.4%,#38008a 96.8%,#2f0066 97.9%,#200017 99.7%)"></i>
<i style="left:40.0px;width:1.3px;background:linear-gradient(#fde600 0.3%,#f9cd00 10.9%,#dc7300 39.7%,#d65c00 47.4%,#bf2d00 63.8%,#bb2705 66.2%,#b8240f 67.9%,#b52124 69.1%,#960cab 76.2%,#8b08cc 77.9%,#7a00fe 83.2%,#6000f8 89.7%,#5400db 92.6%,#4900c3 94.4%,#38008b 96.8%,#2f0067 97.9%,#220018 99.7%)"></i>
<i style="left:41.0px;width:1.3px;background:linear-gradient(#fde500 0.3%,#f9cd00 10.9%,#dc7300 39.7%,#d65c00 47.4%,#be2d00 63.8%,#bc2802 65.6%,#b8240f 67.9%,#990da1 75.6%,#8b08cd 77.9%,#7a00fe 83.2%,#6000f8 89.7%,#5400db 92.6%,#4a00c4 94.4%,#38008c 96.8%,#2f0069 97.9%,#22001a 99.7%)"></i>
<i style="left:42.0px;width:1.3px;background:linear-gradient(#fde500 0.3%,#f9cd00 10.9%,#dc7500 39.1%,#d65c00 47.4%,#be2d00 63.8%,#bb2702 65.6%,#b8240f 67.9%,#990da1 75.6%,#8b08cd 77.9%,#7a00fe 83.2%,#6100f8 89.7%,#5400dc 92.6%,#4a00c4 94.4%,#3d009c 96.2%,#2f006a 97.9%,#23001c 99.7%)"></i>
<i style="left:43.0px;width:1.3px;background:linear-gradient(#fde500 0.3%,#f9cc00 10.9%,#dc7400 39.1%,#d65c00 47.4%,#bf2f00 63.2%,#bb2702 65.6%,#b82410 67.9%,#a21182 73.8%,#8b08ce 77.9%,#7a00fe 83.2%,#6100f8 89.7%,#5400dc 92.6%,#4600b9 95.0%,#34007e 97.4%,#2f006c 97.9%,#23001e 99.7%)"></i>
<i style="left:44.0px;width:1.3px;background:linear-gradient(#fde500 0.3%,#f9cc00 10.9%,#dc7400 39.1%,#d65c00 47.4%,#bf2e00 63.2%,#bb2703 65.6%,#b82410 67.9%,#a6156d 72.6%,#8b08ce 77.9%,#7a00fe 83.2%,#6100f8 89.7%,#5400dc 92.6%,#4600ba 95.0%,#30006d 97.9%,#230020 99.7%)"></i>
<i style="left:45.0px;width:1.3px;background:linear-gradient(#fde500 0.3%,#f9cc00 10.9%,#dc7600 38.5%,#d65d00 46.8%,#c23400 61.5%,#bc2800 65.0%,#b82411 67.9%,#a91663 72.1%,#8a08cf 77.9%,#7a00fe 83.2%,#6100f8 89.7%,#5400dc 92.6%,#4600ba 95.0%,#30006f 97.9%,#240022 99.7%)"></i>
<i style="left:46.0px;width:1.3px;background:linear-gradient(#fde500 0.3%,#f8cb00 10.9%,#dc7600 38.5%,#d65d00 46.8%,#c23400 61.5%,#bc2800 65.0%,#b82412 67.9%,#a81663 72.1%,#8a08cf 77.9%,#7a00fe 83.2%,#6100f8 89.7%,#5400dc 92.6%,#4600bb 95.0%,#300070 97.9%,#240024 99.7%)"></i>
<i style="left:47.0px;width:1.3px;background:linear-gradient(#fde500 0.3%,#f8c900 11.5%,#dc7600 38.5%,#d65d00 46.8%,#c23400 61.5%,#bc2800 65.0%,#b82413 67.9%,#a6146f 72.6%,#8a08d0 77.9%,#7a00fe 83.2%,#6100f8 89.7%,#5400dd 92.6%,#4700bb 95.0%,#300071 97.9%,#240026 99.7%)"></i>
<i style="left:48.0px;width:1.3px;background:linear-gradient(#fde500 0.3%,#f8c900 11.5%,#dc7600 38.5%,#d65d00 46.8%,#c23400 61.5%,#bc2800 65.0%,#b72314 67.9%,#a61470 72.6%,#8a08d0 77.9%,#7a00fe 83.2%,#6100f8 89.7%,#5400dd 92.6%,#4700bc 95.0%,#310072 97.9%,#250028 99.7%)"></i>
<i style="left:49.0px;width:1.3px;background:linear-gradient(#fde500 0.3%,#f8c800 11.5%,#dc7600 38.5%,#d65d00 46.8%,#c23400 61.5%,#bc2801 65.0%,#b9250e 67.4%,#b72315 67.9%,#a51471 72.6%,#8a08d0 77.9%,#7a00fe 83.2%,#6100f8 89.7%,#5400dd 92.6%,#4700bd 95.0%,#310073 97.9%,#250029 99.7%)"></i>
<i style="left:50.0px;width:1.3px;background:linear-gradient(#fde500 0.3%,#f8c800 11.5%,#dc7500 38.5%,#d65c00 46.8%,#c23400 61.5%,#bc2801 65.0%,#b8240e 67.4%,#b72315 67.9%,#a51471 72.6%,#8a08d0 77.9%,#7a00fe 83.2%,#5f00f5 90.3%,#4e00cf 93.8%,#4700bd 95.0%,#310074 97.9%,#25002b 99.7%)"></i>
<i style="left:51.0px;width:1.3px;background:linear-gradient(#fde500 0.3%,#f7c800 11.5%,#dc7500 38.5%,#d65c00 46.8%,#c23300 61.5%,#bc2801 65.0%,#b8240e 67.4%,#b52123 68.5%,#9d0f92 74.4%,#8a08d1 77.9%,#7a00fe 83.2%,#5f00f5 90.3%,#4e00cf 93.8%,#4700be 95.0%,#320075 97.9%,#26002d 99.7%)"></i>
<i style="left:52.0px;width:1.3px;background:linear-gradient(#fde500 0.3%,#f7c700 11.5%,#dd7700 37.9%,#d65c00 46.8%,#c23300 61.5%,#bc2801 65.0%,#b8240f 67.4%,#b52123 68.5%,#9d0f93 74.4%,#8a08d1 77.9%,#7a00fe 83.2%,#5f00f5 90.3%,#4e00cf 93.8%,#4700be 95.0%,#320076 97.9%,#26002f 99.7%)"></i>
<i style="left:53.0px;width:1.3px;background:linear-gradient(#fde500 0.3%,#f7c500 12.1%,#dd7700 37.9%,#d65c00 46.8%,#c23300 61.5%,#bc2801 65.0%,#b8240f 67.4%,#970da8 75.6%,#8a08d1 77.9%,#7a00fe 83.2%,#5f00f5 90.3%,#4f00cf 93.8%,#4800bf 95.0%,#320077 97.9%,#2a0049 99.1%,#260031 99.7%)"></i>
<i style="left:54.0px;width:1.3px;background:linear-gradient(#fde500 0.3%,#f7c500 12.1%,#dd7700 37.9%,#d65c00 46.8%,#c23300 61.5%,#bc2802 65.0%,#b8240f 67.4%,#9d0f94 74.4%,#8a08d1 77.9%,#7a00fe 83.2%,#5f00f6 90.3%,#4f00d0 93.8%,#4800bf 95.0%,#320078 97.9%,#2e0064 98.5%,#270033 99.7%)"></i>
<i style="left:55.0px;width:1.3px;background:linear-gradient(#fde500 0.3%,#f6c300 12.6%,#dd7900 37.4%,#d65c00 46.8%,#c23300 61.5%,#bc2802 65.0%,#b8240f 67.4%,#a0108a 73.8%,#8a08d1 77.9%,#7a00fe 83.2%,#5f00f6 90.3%,#4f00d0 93.8%,#4800c0 95.0%,#330079 97.9%,#2f0066 98.5%,#270035 99.7%)"></i>
<i style="left:56.0px;width:1.3px;background:linear-gradient(#fde500 0.3%,#f6c200 12.6%,#dd7700 37.9%,#d65c00 46.8%,#c23300 61.5%,#bc2802 65.0%,#b8240f 67.4%,#a21280 73.2%,#8908d2 77.9%,#7a00fe 83.2%,#5f00f6 90.3%,#4f00d0 93.8%,#4800c0 95.0%,#33007a 97.9%,#2f0068 98.5%,#270037 99.7%)"></i>
<i style="left:57.0px;width:1.3px;background:linear-gradient(#fde500 0.3%,#f5c000 13.2%,#dc7600 37.9%,#d75d00 46.2%,#c43900 59.7%,#bb2702 65.0%,#b82410 67.4%,#a41376 72.6%,#8908d2 77.9%,#7a00fe 83.2%,#5f00f6 90.3%,#4f00d0 93.8%,#4800c1 95.0%,#33007b 97.9%,#2f0069 98.5%,#280039 99.7%)"></i>
<i style="left:58.0px;width:1.3px;background:linear-gradient(#fde500 0.3%,#f5be00 13.8%,#dd7800 37.4%,#d75d00 46.2%,#c43900 59.7%,#bb2702 65.0%,#b82410 67.4%,#a7156b 72.1%,#8908d2 77.9%,#7a00fe 83.2%,#5f00f6 90.3%,#4f00d1 93.8%,#4800c1 95.0%,#34007c 97.9%,#2f006b 98.5%,#28003b 99.7%)"></i>
<i style="left:59.0px;width:1.3px;background:linear-gradient(#fde500 0.3%,#f5be00 13.8%,#dd7800 37.4%,#d65d00 46.2%,#c43900 59.7%,#bb2702 65.0%,#b82410 67.4%,#a91761 71.5%,#8908d2 77.9%,#7a00fe 83.2%,#5f00f6 90.3%,#4f00d1 93.8%,#4900c1 95.0%,#34007d 97.9%,#30006d 98.5%,#28003c 99.7%)"></i>
<i style="left:60.0px;width:1.3px;background:linear-gradient(#fde500 0.3%,#f4bc00 14.4%,#dd7800 37.4%,#d65d00 46.2%,#c43800 59.7%,#bb2702 65.0%,#b82410 67.4%,#a91761 71.5%,#8908d2 77.9%,#7a00fe 83.2%,#5f00f6 90.3%,#4f00d1 93.8%,#4900c2 95.0%,#34007e 97.9%,#30006e 98.5%,#29003e 99.7%)"></i>
<i style="left:61.0px;width:1.3px;background:linear-gradient(#fde500 0.3%,#f4ba00 15.0%,#dd7a00 36.8%,#d65d00 46.2%,#c43800 59.7%,#bb2703 65.0%,#b82410 67.4%,#a91762 71.5%,#8908d2 77.9%,#7a00fe 83.2%,#5f00f6 90.3%,#4f00d1 93.8%,#4900c2 95.0%,#34007f 97.9%,#300070 98.5%,#290040 99.7%)"></i>
<i style="left:62.0px;width:1.3px;background:linear-gradient(#fde500 0.3%,#f3b800 15.6%,#dd7a00 36.8%,#d65d00 46.2%,#c43800 59.7%,#bb2703 65.0%,#b82411 67.4%,#a91662 71.5%,#8908d2 77.9%,#7a00fe 83.2%,#5f00f6 90.3%,#5000d2 93.8%,#4500b7 95.6%,#300071 98.5%,#290042 99.7%)"></i>
<i style="left:63.0px;width:1.3px;background:linear-gradient(#fde500 0.3%,#f0b000 17.9%,#dd7a00 36.8%,#d65d00 46.2%,#c43800 59.7%,#bb2703 65.0%,#b82411 67.4%,#a91663 71.5%,#8908d2 77.9%,#7a00fe 83.2%,#5f00f6 90.3%,#5000d2 93.8%,#4500b8 95.6%,#310072 98.5%,#2a0044 99.7%)"></i>
<i style="left:64.0px;width:1.3px;background:linear-gradient(#fde500 0.3%,#f0ae00 18.5%,#dd7900 36.8%,#d65d00 46.2%,#c43800 59.7%,#bc2800 64.4%,#b82412 67.4%,#a81663 71.5%,#8908d3 77.9%,#7a00fe 83.2%,#5f00f7 90.3%,#4d00cb 94.4%,#4600b8 95.6%,#310073 98.5%,#2a0046 99.7%)"></i>
<i style="left:65.0px;width:1.3px;background:linear-gradient(#fde500 0.3%,#f0ae00 18.5%,#dd7900 36.8%,#d65d00 46.2%,#c43800 59.7%,#bc2800 64.4%,#b82412 67.4%,#a81663 71.5%,#8908d3 77.9%,#7a00fe 83.2%,#5f00f7 90.3%,#4d00cb 94.4%,#4600b9 95.6%,#310075 98.5%,#2a0048 99.7%)"></i>
<i style="left:66.0px;width:1.3px;background:linear-gradient(#fde500 0.3%,#efae00 18.5%,#dd7900 36.8%,#d65d00 46.2%,#c43800 59.7%,#bc2800 64.4%,#b82412 67.4%,#a81664 71.5%,#8b09cb 77.4%,#7a00fe 83.2%,#5f00f7 90.3%,#4d00cb 94.4%,#4600ba 95.6%,#320076 98.5%,#2b004a 99.7%)"></i>
<i style="left:67.0px;width:1.3px;background:linear-gradient(#fde500 0.3%,#efae00 18.5%,#dd7900 36.8%,#d65c00 46.2%,#c43800 59.7%,#bc2800 64.4%,#b82413 67.4%,#a81664 71.5%,#8b09cc 77.4%,#7a00fe 83.2%,#5f00f7 90.3%,#4d00cc 94.4%,#4600ba 95.6%,#320077 98.5%,#2b004d 99.7%)"></i>
<i style="left:68.0px;width:1.3px;background:linear-gradient(#fde500 0.3%,#efac00 19.1%,#dd7700 37.4%,#d65c00 46.2%,#c43800 59.7%,#bc2800 64.4%,#b72313 67.4%,#a81665 71.5%,#8b08cc 77.4%,#7a00fe 83.2%,#5f00f7 90.3%,#4d00cc 94.4%,#4600bb 95.6%,#320078 98.5%,#2f0066 99.1%,#2b004f 99.7%)"></i>
<i style="left:69.0px;width:1.3px;background:linear-gradient(#fde500 0.3%,#efac00 19.1%,#dd7700 37.4%,#d65c00 46.2%,#c43800 59.7%,#bc2800 64.4%,#b72314 67.4%,#a81665 71.5%,#8b08cc 77.4%,#7a00fe 83.2%,#6000f7 90.3%,#4d00cc 94.4%,#4700bc 95.6%,#33007a 98.5%,#2f0069 99.1%,#2c0051 99.7%)"></i>
<i style="left:70.0px;width:1.3px;background:linear-gradient(#fde500 0.3%,#efab00 19.1%,#dd7900 36.8%,#d75d00 45.6%,#c63c00 58.5%,#bc2800 64.4%,#b72314 67.4%,#a81665 71.5%,#8b08cc 77.4%,#7a00fe 83.2%,#6000f7 90.3%,#4d00cd 94.4%,#4700bc 95.6%,#33007b 98.5%,#2f006b 99.1%,#2c0054 99.7%)"></i>
<i style="left:71.0px;width:1.3px;background:linear-gradient(#fde500 0.3%,#eeaa00 19.7%,#dd7900 36.8%,#d75d00 45.6%,#c63c00 58.5%,#bc2800 64.4%,#b72314 67.4%,#a81666 71.5%,#8b08cc 77.4%,#7a00fe 83.2%,#6000f7 90.3%,#4e00cd 94.4%,#4700bd 95.6%,#30006d 99.1%,#2c0057 99.7%)"></i>
<i style="left:72.0px;width:1.3px;background:linear-gradient(#fde500 0.3%,#eea900 19.7%,#dd7800 36.8%,#d75d00 45.6%,#c63c00 58.5%,#bc2800 64.4%,#b9250e 66.8%,#b72315 67.4%,#a81666 71.5%,#8b08cd 77.4%,#7a00fe 83.2%,#6000f7 90.3%,#4e00cd 94.4%,#4700be 95.6%,#300070 99.1%,#2d0059 99.7%)"></i>
<i style="left:73.0px;width:1.3px;background:linear-gradient(#fde500 0.3%,#eea900 19.7%,#dd7800 36.8%,#d75d00 45.6%,#c63c00 58.5%,#bc2800 64.4%,#b8240e 66.8%,#b72315 67.4%,#a81666 71.5%,#8b08cd 77.4%,#7a00fe 83.2%,#6000f7 90.3%,#4e00ce 94.4%,#4800be 95.6%,#300071 99.1%,#2d005c 99.7%)"></i>
<i style="left:74.0px;width:1.3px;background:linear-gradient(#fde500 0.3%,#eea900 19.7%,#dd7800 36.8%,#d75d00 45.6%,#c63c00 58.5%,#bc2800 64.4%,#b8240e 66.8%,#b72315 67.4%,#a81667 71.5%,#8b08cd 77.4%,#7a00fe 83.2%,#6000f7 90.3%,#4e00ce 94.4%,#4800bf 95.6%,#310073 99.1%,#2e005f 99.7%)"></i>
<i style="left:75.0px;width:2.3px;background:linear-gradient(#fde500 0.3%,#eda700 20.3%,#dd7800 36.8%,#d65d00 45.6%,#c63c00 58.5%,#bc2800 64.4%,#b8240e 66.8%,#b52122 67.9%,#a3127d 72.6%,#8b08cd 77.4%,#7a00fe 83.2%,#6000f7 90.3%,#4e00cf 94.4%,#4800c0 95.6%,#320075 99.1%,#2e0063 99.7%)"></i>
<i style="left:77.0px;width:2.3px;background:linear-gradient(#fde500 0.3%,#eca500 20.9%,#dd7800 36.8%,#d65d00 45.6%,#c53a00 59.1%,#bc2800 64.4%,#b8240e 66.8%,#b52123 67.9%,#a01088 73.2%,#8b08ce 77.4%,#7a00fe 83.2%,#6000f7 90.3%,#4f00cf 94.4%,#4500b7 96.2%,#330079 99.1%,#2f0069 99.7%)"></i>
<i style="left:79.0px;width:2.3px;background:linear-gradient(#fde500 0.3%,#eba300 21.5%,#dc7400 37.9%,#d65d00 45.6%,#c53900 59.1%,#bc2801 64.4%,#b8240f 66.8%,#b52124 67.9%,#a01088 73.2%,#8b08ce 77.4%,#7a00fe 83.2%,#6000f8 90.3%,#4c00c9 95.0%,#4200ad 96.8%,#30006f 99.7%)"></i>
<i style="left:81.0px;width:2.3px;background:linear-gradient(#fde500 0.3%,#eaa100 22.1%,#db6f00 39.1%,#d65d00 45.6%,#c53900 59.1%,#bc2801 64.4%,#b8240f 66.8%,#b31f31 68.5%,#9a0e9d 74.4%,#8a08cf 77.4%,#7a00fe 83.2%,#6000f8 90.3%,#4c00ca 95.0%,#4300af 96.8%,#310073 99.7%)"></i>
<i style="left:83.0px;width:2.3px;background:linear-gradient(#fde500 0.3%,#e99f00 22.6%,#db6d00 39.7%,#d65b00 46.2%,#c23400 60.9%,#bc2801 64.4%,#b8240f 66.8%,#a01089 73.2%,#8a08cf 77.4%,#7a00fe 83.2%,#6000f8 90.3%,#4d00cb 95.0%,#4300b1 96.8%,#320077 99.7%)"></i>
<i style="left:85.0px;width:2.3px;background:linear-gradient(#fde500 0.3%,#e99d00 23.2%,#da6b00 40.3%,#d55a00 46.8%,#c03000 62.1%,#bc2801 64.4%,#b8240f 66.8%,#a0108a 73.2%,#8a08cf 77.4%,#7a00fe 83.2%,#6000f8 90.3%,#4d00cc 95.0%,#4400b3 96.8%,#33007a 99.7%)"></i>
<i style="left:87.0px;width:2.3px;background:linear-gradient(#fde500 0.3%,#e89d00 23.2%,#da6b00 40.3%,#d55a00 46.8%,#c03000 62.1%,#bc2801 64.4%,#b8240f 66.8%,#a0108a 73.2%,#8a08d0 77.4%,#7a00fe 83.2%,#6000f8 90.3%,#4b00c6 95.6%,#4200aa 97.4%,#34007e 99.7%)"></i>
<i style="left:89.0px;width:2.3px;background:linear-gradient(#fde500 0.3%,#e89c00 23.2%,#da6a00 40.3%,#d55b00 46.2%,#c23400 60.9%,#bc2801 64.4%,#b8240f 66.8%,#a21280 72.6%,#8a08d0 77.4%,#7a00fe 83.2%,#6000f8 90.3%,#4b00c7 95.6%,#4200ad 97.4%,#350081 99.7%)"></i>
<i style="left:91.0px;width:2.3px;background:linear-gradient(#fde500 0.3%,#e89c00 23.2%,#da6a00 40.3%,#d55b00 46.2%,#c23300 60.9%,#bc2801 64.4%,#b8240f 66.8%,#a41376 72.1%,#8a08d0 77.4%,#7a00fe 83.2%,#6000f8 90.3%,#4b00c8 95.6%,#4300af 97.4%,#360085 99.7%)"></i>
<i style="left:93.0px;width:2.3px;background:linear-gradient(#fde500 0.3%,#e89c00 23.2%,#da6a00 40.3%,#d55b00 46.2%,#c23300 60.9%,#bc2801 64.4%,#b82410 66.8%,#a7156c 71.5%,#8a08d0 77.4%,#7a00fe 83.2%,#6000f8 90.3%,#4900c3 96.2%,#370089 99.7%)"></i>
<i style="left:95.0px;width:2.3px;background:linear-gradient(#fde500 0.3%,#e89c00 23.2%,#da6a00 40.3%,#d55b00 46.2%,#c23300 60.9%,#bc2802 64.4%,#b82410 66.8%,#a6156c 71.5%,#8a08d0 77.4%,#7a00fe 83.2%,#6000f8 90.3%,#4a00c4 96.2%,#38008c 99.7%)"></i>
<i style="left:97.0px;width:2.3px;background:linear-gradient(#fde500 0.3%,#e89b00 23.2%,#da6c00 39.7%,#d65c00 45.6%,#c43700 59.7%,#bc2802 64.4%,#b82410 66.8%,#a91762 70.9%,#8a08d1 77.4%,#7a00fe 83.2%,#6000f8 90.3%,#4a00c5 96.2%,#3c0099 99.1%,#39008f 99.7%)"></i>
<i style="left:99.0px;width:2.3px;background:linear-gradient(#fde500 0.3%,#e89b00 23.2%,#da6b00 39.7%,#d65b00 45.6%,#c33700 59.7%,#bc2802 64.4%,#b82410 66.8%,#a91662 70.9%,#8d09c8 76.8%,#8807d6 77.9%,#7a00fe 83.2%,#6000f8 90.3%,#4800c0 96.8%,#3a0093 99.7%)"></i>
<i style="left:101.0px;width:2.3px;background:linear-gradient(#fde500 0.3%,#e89b00 23.2%,#da6b00 39.7%,#d65b00 45.6%,#c33700 59.7%,#bc2802 64.4%,#b82410 66.8%,#a91662 70.9%,#8d09c8 76.8%,#8807d6 77.9%,#7a00fe 83.2%,#6000f8 90.3%,#4900c1 96.8%,#3b0096 99.7%)"></i>
<i style="left:103.0px;width:2.3px;background:linear-gradient(#fde500 0.3%,#e79900 23.8%,#da6b00 39.7%,#d65b00 45.6%,#c33700 59.7%,#bc2802 64.4%,#b82410 66.8%,#a91663 70.9%,#8c09c8 76.8%,#8807d6 77.9%,#7a00fe 83.2%,#6000f8 90.3%,#4900c3 96.8%,#3c0099 99.7%)"></i>
<i style="left:105.0px;width:2.3px;background:linear-gradient(#fde500 0.3%,#e89c00 22.6%,#db6d00 39.1%,#d65c00 45.0%,#c53b00 58.5%,#bc2802 64.4%,#b82410 66.8%,#a81663 70.9%,#8c09c8 76.8%,#8807d6 77.9%,#7a00fe 83.2%,#6000f8 90.3%,#4a00c4 96.8%,#3d009c 99.7%)"></i>
<i style="left:107.0px;width:2.3px;background:linear-gradient(#fde500 0.3%,#eaa000 21.5%,#dd7700 36.2%,#d75d00 44.4%,#c63c00 57.9%,#bb2702 64.4%,#b82410 66.8%,#a81663 70.9%,#8c09c9 76.8%,#8606db 78.5%,#7a00fe 83.2%,#6000f8 90.3%,#4800bf 97.4%,#3e009e 99.7%)"></i>
<i style="left:109.0px;width:2.3px;background:linear-gradient(#fde500 0.3%,#eba300 20.3%,#dd7b00 35.0%,#d75d00 44.4%,#c63c00 57.9%,#bb2702 64.4%,#b82411 66.8%,#a81663 70.9%,#8c09c9 76.8%,#8606db 78.5%,#7a00fe 83.2%,#6000f8 90.3%,#4800c1 97.4%,#3f00a1 99.7%)"></i>
<i style="left:111.0px;width:2.3px;background:linear-gradient(#fde500 0.3%,#eca600 19.1%,#de7c00 34.4%,#d75d00 44.4%,#c63c00 57.9%,#bb2702 64.4%,#b82411 66.8%,#a81664 70.9%,#8c09c9 76.8%,#8606db 78.5%,#7a00fe 83.2%,#6100f8 90.3%,#4900c2 97.4%,#4000a4 99.7%)"></i>
<i style="left:113.0px;width:2.3px;background:linear-gradient(#fde500 0.3%,#eda800 18.5%,#de7e00 33.8%,#d75d00 44.4%,#c63c00 57.9%,#bb2702 64.4%,#b82411 66.8%,#a81664 70.9%,#8c09c9 76.8%,#8606db 78.5%,#7a00fe 83.2%,#5f00f5 90.9%,#4700bd 97.9%,#4000a6 99.7%)"></i>
<i style="left:115.0px;width:2.3px;background:linear-gradient(#fde500 0.3%,#eeaa00 17.9%,#de7e00 33.8%,#d65d00 44.4%,#c63c00 57.9%,#bb2702 64.4%,#b82411 66.8%,#a81664 70.9%,#8c09c9 76.8%,#8606db 78.5%,#7a00fe 83.2%,#5f00f5 90.9%,#4800be 97.9%,#4100a9 99.7%)"></i>
<i style="left:117.0px;width:2.3px;background:linear-gradient(#fde500 0.3%,#eeab00 17.4%,#de7d00 33.8%,#d65d00 44.4%,#c63c00 57.9%,#bb2702 64.4%,#b82411 66.8%,#a81664 70.9%,#8c09c9 76.8%,#8606db 78.5%,#7a00fe 83.2%,#5f00f5 90.9%,#4600b9 98.5%,#4200ab 99.7%)"></i>
<i style="left:119.0px;width:2.3px;background:linear-gradient(#fde500 0.3%,#efad00 16.8%,#de7f00 33.2%,#d65d00 44.4%,#c63c00 57.9%,#bb2702 64.4%,#b82412 66.8%,#a81664 70.9%,#8c09ca 76.8%,#8505e0 79.1%,#7a00fe 83.2%,#5f00f5 90.9%,#4600bb 98.5%,#4200ad 99.7%)"></i>
<i style="left:121.0px;width:4.3px;background:linear-gradient(#fde500 0.3%,#f0ae00 16.2%,#de7f00 33.2%,#d65d00 44.4%,#c63c00 57.9%,#bb2702 64.4%,#b82412 66.8%,#a81664 70.9%,#8c09ca 76.8%,#8505e0 79.1%,#7a00fe 83.2%,#5f00f6 90.9%,#4700bd 98.5%,#4300b0 99.7%)"></i>
<i style="left:125.0px;width:4.3px;background:linear-gradient(#fde500 0.3%,#f0b000 15.6%,#de7e00 33.2%,#d65d00 44.4%,#c63c00 57.9%,#bb2703 64.4%,#b82412 66.8%,#a81665 70.9%,#8c09ca 76.8%,#8505e0 79.1%,#7a00fe 83.2%,#5f00f6 90.9%,#4600ba 99.1%,#4400b3 99.7%)"></i>
<i style="left:129.0px;width:4.3px;background:linear-gradient(#fde500 0.3%,#f0af00 15.6%,#de7e00 33.2%,#d65d00 44.4%,#c63c00 57.9%,#bb2703 64.4%,#b82412 66.8%,#a81665 70.9%,#8c09ca 76.8%,#8505e0 79.1%,#7a00fe 83.2%,#5f00f6 90.9%,#4700bc 99.1%,#4500b6 99.7%)"></i>
<i style="left:133.0px;width:4.3px;background:linear-gradient(#fde500 0.3%,#f1b000 15.0%,#de8000 32.6%,#d65d00 44.4%,#c73d00 57.4%,#bb2703 64.4%,#b82412 66.8%,#a81665 70.9%,#8c09ca 76.8%,#8304e5 79.7%,#7a00fe 83.2%,#5f00f6 90.9%,#4600b9 99.7%)"></i>
<i style="left:137.0px;width:4.3px;background:linear-gradient(#fde500 0.3%,#f0b000 15.0%,#de7f00 32.6%,#d65d00 44.4%,#c73d00 57.4%,#bc2800 63.8%,#b82412 66.8%,#a81665 70.9%,#8c09ca 76.8%,#8304e5 79.7%,#7a00fe 83.2%,#5f00f6 90.9%,#4600bb 99.7%)"></i>
<i style="left:141.0px;width:4.3px;background:linear-gradient(#fde500 0.3%,#f1b100 14.4%,#de7f00 32.6%,#d65d00 44.4%,#c73d00 57.4%,#bc2800 63.8%,#b82412 66.8%,#a81665 70.9%,#8c09ca 76.8%,#8304e5 79.7%,#7a00fe 83.2%,#5f00f7 90.9%,#4700bd 99.7%)"></i>
<i style="left:145.0px;width:4.3px;background:linear-gradient(#fde500 0.3%,#f1b100 14.4%,#de7f00 32.6%,#d65d00 44.4%,#c73f00 56.8%,#bc2800 63.8%,#b82412 66.8%,#a81665 70.9%,#8c09ca 76.8%,#8304e5 79.7%,#7a00fe 83.2%,#6000f7 90.9%,#4800bf 99.7%)"></i>
<i style="left:149.0px;width:4.3px;background:linear-gradient(#fde500 0.3%,#f1b100 14.4%,#de7f00 32.6%,#d65d00 44.4%,#c73f00 56.8%,#bc2800 63.8%,#b82412 66.8%,#a81665 70.9%,#8c09ca 76.8%,#8304e5 79.7%,#7a00fe 83.2%,#6000f7 90.9%,#4800c1 99.7%)"></i>
<i style="left:153.0px;width:4.3px;background:linear-gradient(#fde500 0.3%,#f1b200 13.8%,#de7f00 32.6%,#d65d00 44.4%,#c73f00 56.8%,#bc2800 63.8%,#b82412 66.8%,#a81665 70.9%,#8c09ca 76.8%,#8304e5 79.7%,#7a00fe 83.2%,#6000f7 90.9%,#4900c2 99.7%)"></i>
<i style="left:157.0px;width:4.3px;background:linear-gradient(#fde600 0.3%,#f1b200 13.8%,#de7f00 32.6%,#d65d00 44.4%,#c73f00 56.8%,#bc2800 63.8%,#b82412 66.8%,#a81665 70.9%,#8c09ca 76.8%,#8304e5 79.7%,#7a00fe 83.2%,#6000f8 90.9%,#4900c3 99.7%)"></i>
<i style="left:161.0px;width:4.3px;background:linear-gradient(#fde600 0.3%,#f1b100 13.8%,#de7e00 32.6%,#d65c00 45.0%,#c63d00 57.4%,#bc2800 63.8%,#b82412 66.8%,#a81665 70.9%,#8c09ca 76.8%,#8304e5 79.7%,#7a00fe 83.2%,#6000f8 90.9%,#4a00c4 99.7%)"></i>
<i style="left:165.0px;width:4.3px;background:linear-gradient(#fee600 0.3%,#f2b300 13.2%,#de7e00 32.6%,#d65c00 45.0%,#c63d00 57.4%,#bc2800 63.8%,#b82412 66.8%,#a81665 70.9%,#8c09ca 76.8%,#8304e5 79.7%,#7a00fe 83.2%,#6000f8 90.9%,#4a00c5 99.7%)"></i>
<i style="left:169.0px;width:4.3px;background:linear-gradient(#fee600 0.3%,#f1b200 13.2%,#de8000 32.1%,#d65c00 45.0%,#c73e00 56.8%,#bc2800 63.8%,#b82412 66.8%,#a81665 70.9%,#8c09ca 76.8%,#8304e5 79.7%,#7a00fe 83.2%,#5f00f5 91.5%,#4b00c6 99.7%)"></i>
<i style="left:173.0px;width:4.3px;background:linear-gradient(#fee700 0.3%,#f1b200 13.2%,#de7f00 32.1%,#d65c00 45.0%,#c73e00 56.8%,#bc2800 63.8%,#b82412 66.8%,#a81665 70.9%,#8c09ca 76.8%,#8304e5 79.7%,#7a00fe 83.2%,#5f00f5 91.5%,#4b00c7 99.7%)"></i>
<i style="left:177.0px;width:4.3px;background:linear-gradient(#fee700 0.3%,#f2b400 12.6%,#de7f00 32.1%,#d65c00 45.0%,#c73e00 56.8%,#bc2800 63.8%,#b82412 66.8%,#a81665 70.9%,#8c09ca 76.8%,#8304e5 79.7%,#7a00fe 83.2%,#5f00f6 91.5%,#4b00c8 99.7%)"></i>
<i style="left:181.0px;width:4.3px;background:linear-gradient(#fee700 0.3%,#f2b300 12.6%,#de7f00 32.1%,#d65c00 45.0%,#c73e00 56.8%,#bc2800 63.8%,#b82412 66.8%,#a81665 70.9%,#8c09ca 76.8%,#8304e5 79.7%,#7a00fe 83.2%,#5f00f6 91.5%,#4c00c9 99.7%)"></i>
<i style="left:185.0px;width:4.3px;background:linear-gradient(#fee800 0.3%,#f2b300 12.6%,#de7f00 32.1%,#d65c00 45.0%,#c84000 56.2%,#bc2800 63.8%,#b82412 66.8%,#a81665 70.9%,#8c09ca 76.8%,#8304e5 79.7%,#7a00fe 83.2%,#5f00f6 91.5%,#4c00ca 99.7%)"></i>
<i style="left:189.0px;width:4.3px;background:linear-gradient(#fee800 0.3%,#f2b300 12.6%,#de7f00 32.1%,#d65c00 45.0%,#c84000 56.2%,#bc2800 63.8%,#b82412 66.8%,#a81665 70.9%,#8c09ca 76.8%,#8304e5 79.7%,#7a00fe 83.2%,#5f00f6 91.5%,#4c00ca 99.7%)"></i>
<i style="left:193.0px;width:4.3px;background:linear-gradient(#fee800 0.3%,#f1b300 12.6%,#de7f00 32.1%,#d65c00 45.0%,#c84000 56.2%,#bc2800 63.8%,#b82412 66.8%,#a81665 70.9%,#8c09ca 76.8%,#8304e5 79.7%,#7a00fe 83.2%,#5f00f7 91.5%,#4d00cb 99.7%)"></i>
<i style="left:197.0px;width:4.3px;background:linear-gradient(#fee900 0.3%,#f2b400 12.1%,#de7f00 32.1%,#d65c00 45.0%,#c83f00 56.2%,#bc2800 63.8%,#b82412 66.8%,#a81665 70.9%,#8c09ca 76.8%,#8304e5 79.7%,#7a00fe 83.2%,#5f00f7 91.5%,#4d00cc 99.7%)"></i>
<i style="left:201.0px;width:4.3px;background:linear-gradient(#fee900 0.3%,#f2b400 12.1%,#de7f00 32.1%,#d65c00 45.0%,#c83f00 56.2%,#bc2800 63.8%,#b82412 66.8%,#a81665 70.9%,#8c09ca 76.8%,#8304e5 79.7%,#7a00fe 83.2%,#6000f7 91.5%,#4d00cc 99.7%)"></i>
<i style="left:205.0px;width:4.3px;background:linear-gradient(#fee900 0.3%,#f2b400 12.1%,#de7f00 32.1%,#d65c00 45.0%,#c94100 55.6%,#bc2800 63.8%,#b82412 66.8%,#a81664 70.9%,#8c09ca 76.8%,#8304e5 79.7%,#7a00fe 83.2%,#6000f7 91.5%,#4d00cd 99.7%)"></i>
<i style="left:209.0px;width:4.3px;background:linear-gradient(#fee900 0.3%,#f2b300 12.1%,#de7e00 32.1%,#d65c00 45.0%,#c94100 55.6%,#bc2800 63.8%,#b82412 66.8%,#a6146f 71.5%,#8c09ca 76.8%,#8304e5 79.7%,#7a00fe 83.2%,#6000f8 91.5%,#4e00cd 99.7%)"></i>
<i style="left:213.0px;width:4.3px;background:linear-gradient(#feea00 0.3%,#f2b300 12.1%,#de7e00 32.1%,#d65c00 45.0%,#c84100 55.6%,#bc2800 63.8%,#b82412 66.8%,#a6146f 71.5%,#8c09ca 76.8%,#8304e5 79.7%,#7a00fe 83.2%,#6000f8 91.5%,#4e00ce 99.7%)"></i>
<i style="left:217.0px;width:4.3px;background:linear-gradient(#feea00 0.3%,#f2b500 11.5%,#df8400 29.7%,#d55b00 45.6%,#c73d00 56.8%,#bc2800 63.8%,#b82412 66.8%,#a6146f 71.5%,#8c09ca 76.8%,#8304e5 79.7%,#7a00fe 83.2%,#6000f8 91.5%,#4e00ce 99.7%)"></i>
<i style="left:221.0px;width:4.3px;background:linear-gradient(#feea00 0.3%,#f2b500 11.5%,#df8500 29.1%,#d55b00 45.6%,#c73d00 56.8%,#bc2800 63.8%,#b82412 66.8%,#a6146f 71.5%,#8c09ca 76.8%,#8304e5 79.7%,#7a00fe 83.2%,#5f00f5 92.1%,#4e00ce 99.7%)"></i>
<i style="left:225.0px;width:4.3px;background:linear-gradient(#feeb00 0.3%,#f2b500 11.5%,#e08600 28.5%,#d55b00 45.6%,#c73d00 56.8%,#bc2800 63.8%,#b82412 66.8%,#a6146f 71.5%,#8c09ca 76.8%,#8304e5 79.7%,#7a00fe 83.2%,#5f00f5 92.1%,#4e00cf 99.7%)"></i>
<i style="left:229.0px;width:4.3px;background:linear-gradient(#feeb00 0.3%,#f2b400 11.5%,#e08700 27.9%,#d55b00 45.6%,#c73f00 56.2%,#bc2800 63.8%,#b82412 66.8%,#a6146f 71.5%,#8c09ca 76.8%,#8304e5 79.7%,#7a00fe 83.2%,#5f00f6 92.1%,#4e00cf 99.7%)"></i>
<i style="left:233.0px;width:4.3px;background:linear-gradient(#feeb00 0.3%,#f2b400 11.5%,#e08700 27.9%,#d55b00 45.6%,#c73f00 56.2%,#bc2800 63.8%,#b82412 66.8%,#a6146f 71.5%,#8c09ca 76.8%,#8304e5 79.7%,#7a00fe 83.2%,#5f00f6 92.1%,#4f00cf 99.7%)"></i>
<i style="left:237.0px;width:4.7px;background:linear-gradient(#feeb00 0.3%,#f2b400 11.5%,#e08800 27.4%,#d86200 42.1%,#cc4800 53.2%,#bc2800 63.8%,#b82412 66.8%,#a6146f 71.5%,#8c09ca 76.8%,#8304e5 79.7%,#7a00fe 83.2%,#5f00f6 92.1%,#4f00cf 99.7%)"></i>
</div>
<div class="l c" style="left:472.7px;top:1px">z</div>
<div class="l c" style="left:354.2px;top:10px">8</div>
<div class="l c" style="left:370.8px;top:10px">4</div>
<div class="l c" style="left:403.0px;top:10px">2</div>
<div class="l c" style="left:449.8px;top:10px">1</div>
<div class="l c" style="left:499.0px;top:10px">0.5</div>
<div class="l c" style="left:546.5px;top:10px">0.2</div>
<div class="l c" style="left:589.0px;top:10px">0</div>
<div class="l c" style="left:359.9px;top:200.4px">1</div>
<div class="l c" style="left:377.9px;top:200.4px">2</div>
<div class="l c" style="left:413.6px;top:200.4px">4</div>
<div class="l c" style="left:449.4px;top:200.4px">6</div>
<div class="l c" style="left:485.2px;top:200.4px">8</div>
<div class="l c" style="left:521.0px;top:200.4px">10</div>
<div class="l c" style="left:556.9px;top:200.4px">12</div>
<div class="l c" style="left:590.6px;top:200.4px">13.8</div>
<div class="l c" style="left:471.7px;top:209.8px;font-size:10px">Time Since Big Bang [Gyr]</div>
<div class="l r" style="left:344.8px;top:191.3px">10<sup>9</sup></div>
<div class="l r" style="left:344.8px;top:163.2px">10<sup>10</sup></div>
<div class="l r" style="left:344.8px;top:135.0px">10<sup>11</sup></div>
<div class="l r" style="left:344.8px;top:106.8px">10<sup>12</sup></div>
<div class="l r" style="left:344.8px;top:78.7px">10<sup>13</sup></div>
<div class="l r" style="left:344.8px;top:50.6px">10<sup>14</sup></div>
<div class="l r" style="left:344.8px;top:22.4px">10<sup>15</sup></div>
<div class="l" style="left:317.5px;top:109.2px;font-size:10px;transform:translate(-50%,-50%) rotate(-90deg)">Halo Mass [M<sub style="font-size:7.9px">&#8857;</sub>]</div>
<div class="l k" style="left:363.5px;top:29.6px;font-size:10px;color:#f4f4f4">No Halos</div>
<div class="l k" style="left:436.0px;top:42.3px;font-size:10px;color:#fff8c4">P(&#916;t) = (&#916;t)<sup>-0.5</sup></div>
<div class="l k" style="left:436.0px;top:53.3px;font-size:10px;color:#fff8c4">Short GRB Rate per Unit Halo</div>
<div class="l" style="left:555.8px;top:133.9px;width:12.2px;height:48px;background:linear-gradient(0deg,#000000 0.0%,#220018 2.0%,#2a0046 5.0%,#300070 7.5%,#4800c0 15.0%,#6000f8 23.0%,#7a00ff 30.0%,#8a08d0 38.0%,#a0108a 44.0%,#b01c40 50.0%,#b82410 53.5%,#bc2800 58.0%,#c43800 66.0%,#cc4800 72.5%,#d86000 80.0%,#e08800 86.7%,#f2b400 92.0%,#fcd800 96.0%,#fff400 100.0%)"></div>
<div class="l k" style="left:571.3px;top:129.8px;font-size:10px;color:#f3d9ff">3.5</div>
<div class="l k" style="left:571.3px;top:153.8px;font-size:10px;color:#f3d9ff">-0.3</div>
<div class="l k" style="left:571.3px;top:178.1px;font-size:10px;color:#f3d9ff">-4.0</div>
<div class="l k" style="left:549.3px;top:155.1px;font-size:10px;color:#f3d9ff;transform:translate(-50%,-50%) rotate(-90deg)">log<sub>10</sub>(sGRB Rate)</div>
<div class="p" style="left:39.0px;top:267.8px">
<i style="left:0.0px;width:1.3px;background:linear-gradient(#000000 0.3%,#000000 53.2%,#1d0014 53.8%,#280039 54.4%,#2e005f 55.0%,#34007e 55.6%,#4a00c4 57.4%,#5c00ee 59.1%,#6200f8 59.7%,#7a00ff 62.1%,#8b08ce 66.2%,#a6156c 71.5%,#b42029 75.0%,#b82410 76.2%,#bc2900 78.5%,#c13300 82.6%,#bc2802 87.4%,#b9250e 89.1%,#b42025 90.3%,#af1b45 92.1%,#9e0f91 98.5%,#9a0e9e 99.7%)"></i>
<i style="left:1.0px;width:1.3px;background:linear-gradient(#000000 0.3%,#000000 52.6%,#0b0008 53.2%,#25002b 53.8%,#320077 55.0%,#4800c0 56.8%,#6000f8 59.1%,#7900ff 61.5%,#8a08d0 65.6%,#a81664 71.5%,#b6221f 75.0%,#b82411 75.6%,#bc2801 77.9%,#c13300 82.1%,#bb2702 87.4%,#b8240e 89.1%,#b11d3d 91.5%,#a3127e 96.8%,#9a0e9e 99.7%)"></i>
<i style="left:2.0px;width:1.3px;background:linear-gradient(#000000 0.3%,#000000 51.5%,#040003 52.1%,#250029 52.6%,#2c0054 53.2%,#33007a 53.8%,#4a00c4 55.6%,#5d00f0 57.4%,#6300f9 57.9%,#7b00fd 60.3%,#8c09ca 64.4%,#a71569 69.7%,#b42025 73.2%,#b8240f 74.4%,#bd2a00 77.4%,#c13300 82.1%,#bc2800 86.8%,#b8240f 89.1%,#b11d3d 91.5%,#a11184 97.4%,#9a0e9e 99.7%)"></i>
<i style="left:3.0px;width:1.3px;background:linear-gradient(#000000 0.3%,#000000 49.7%,#11000c 50.3%,#28003a 50.9%,#2f006c 51.5%,#4100aa 52.6%,#4a00c4 53.2%,#5e00f4 55.0%,#7300fd 56.8%,#7900ff 57.4%,#8c09c9 61.5%,#a71569 66.8%,#b42027 70.3%,#b82410 71.5%,#bc2800 74.4%,#c23300 79.7%,#bc2800 86.2%,#b82412 89.1%,#b01c3d 91.5%,#9a0e9e 99.7%)"></i>
<i style="left:4.0px;width:1.3px;background:linear-gradient(#000000 0.3%,#000000 47.4%,#0b0008 47.9%,#280039 48.5%,#300071 49.1%,#4500b7 50.3%,#4f00cf 50.9%,#5e00f4 52.1%,#7700fe 53.8%,#7f03f0 55.0%,#8a08d0 57.4%,#9d0f94 60.3%,#b6221e 66.8%,#b82413 67.4%,#bc2900 70.9%,#c33700 77.4%,#bc2801 85.0%,#b82411 88.5%,#ad1a4c 92.6%,#9a0e9e 99.7%)"></i>
<i style="left:5.0px;width:1.3px;background:linear-gradient(#000000 0.3%,#000000 45.6%,#260031 46.2%,#30006e 46.8%,#4700bb 47.9%,#5a00ea 49.1%,#6300f9 49.7%,#7600fe 50.9%,#7c01f8 51.5%,#8a08d1 53.8%,#9f0f8f 56.8%,#b72315 63.2%,#ba2608 65.0%,#bd2a00 67.4%,#c63c00 75.6%,#c03100 80.3%,#bb2703 83.8%,#b72314 87.9%,#9a0e9e 99.7%)"></i>
<i style="left:6.0px;width:1.3px;background:linear-gradient(#000000 0.3%,#000000 43.2%,#1a0012 43.8%,#2b004e 44.4%,#360084 45.0%,#4200ad 45.6%,#4e00ce 46.2%,#5800e6 46.8%,#6200f9 47.4%,#7800fe 48.5%,#8907d4 50.9%,#a0108b 53.8%,#b72316 59.7%,#b9250c 60.9%,#bd2a00 63.8%,#c84000 73.2%,#c53a00 77.4%,#bc2802 82.6%,#b72313 87.4%,#a81666 95.0%,#9a0e9e 99.7%)"></i>
<i style="left:7.0px;width:1.3px;background:linear-gradient(#000000 0.3%,#000000 41.5%,#200016 42.1%,#2c0056 42.6%,#38008a 43.2%,#4500b5 43.8%,#5100d5 44.4%,#5c00ee 45.0%,#6700fa 45.6%,#7b01fb 46.8%,#8c09c9 49.1%,#a41377 52.1%,#b72314 56.8%,#bc2802 59.7%,#c94300 70.9%,#c83f00 75.6%,#bb2703 82.6%,#b72314 87.4%,#a9175f 94.4%,#9a0e9e 99.7%)"></i>
<i style="left:8.0px;width:1.3px;background:linear-gradient(#000000 0.3%,#000000 39.7%,#11000c 40.3%,#2a0047 40.9%,#360083 41.5%,#4300b0 42.1%,#5000d2 42.6%,#5b00ed 43.2%,#6700fa 43.8%,#7300fd 44.4%,#7c01fa 45.0%,#8d09c5 47.4%,#a91761 50.9%,#ad194f 51.5%,#b21e34 52.1%,#b82413 53.2%,#bc2800 56.2%,#cb4600 69.1%,#c63d00 75.6%,#bb2703 82.6%,#b72313 87.4%,#a81666 95.0%,#9a0e9e 99.7%)"></i>
<i style="left:9.0px;width:1.3px;background:linear-gradient(#000000 0.3%,#000000 38.5%,#250028 39.1%,#2f006b 39.7%,#4b00c6 40.9%,#5700e4 41.5%,#6400f9 42.1%,#7100fd 42.6%,#7c01fa 43.2%,#8a08d1 45.0%,#9c0e97 46.8%,#b31f31 50.3%,#b6221c 50.9%,#bc2800 52.1%,#c53a00 57.9%,#cd4b00 69.1%,#bc2801 82.1%,#b82413 87.4%,#a6156d 95.6%,#9a0e9e 99.7%)"></i>
<i style="left:10.0px;width:1.3px;background:linear-gradient(#000000 0.3%,#000000 36.8%,#060005 37.4%,#28003b 37.9%,#33007a 38.5%,#4100a7 39.1%,#4e00cf 39.7%,#5b00ed 40.3%,#6900fb 40.9%,#7800fe 41.5%,#8c09c9 43.2%,#a3127c 45.0%,#b72315 47.9%,#ba2608 49.1%,#bd2900 50.3%,#c63d00 53.2%,#cd4a00 60.3%,#cf4f00 68.5%,#c33600 75.0%,#bc2801 82.1%,#b82412 87.4%,#a51474 96.2%,#9a0e9e 99.7%)"></i>
<i style="left:11.0px;width:1.3px;background:linear-gradient(#000000 0.3%,#000000 35.6%,#10000b 36.2%,#2a0044 36.8%,#35007f 37.4%,#4200ad 37.9%,#4f00d1 38.5%,#5c00ef 39.1%,#6b00fb 39.7%,#7900ff 40.3%,#8807d7 41.5%,#a41376 43.2%,#b6221b 45.0%,#b9250c 45.6%,#bc2800 46.8%,#cd4a00 53.8%,#d25400 63.8%,#d15100 68.5%,#c23500 75.6%,#bc2801 82.1%,#b82412 87.4%,#a6156d 95.6%,#9a0e9e 99.7%)"></i>
<i style="left:12.0px;width:1.3px;background:linear-gradient(#000000 0.3%,#000000 34.4%,#0f000b 35.0%,#290041 35.6%,#34007d 36.2%,#4100a9 36.8%,#4e00cf 37.4%,#5b00ed 37.9%,#6900fb 38.5%,#7800fe 39.1%,#8707d8 40.3%,#910bb8 40.9%,#ae1a4a 42.6%,#b42026 43.2%,#b9250d 43.8%,#bd2a00 45.0%,#cc4800 51.5%,#d25500 57.9%,#d45800 66.8%,#c13200 77.4%,#bb2703 82.6%,#b82412 87.4%,#a81666 95.0%,#9a0e9e 99.7%)"></i>
<i style="left:13.0px;width:1.3px;background:linear-gradient(#000000 0.3%,#000000 33.2%,#070005 33.8%,#280038 34.4%,#310074 35.0%,#4b00c8 36.2%,#5800e5 36.8%,#6500f9 37.4%,#7400fd 37.9%,#7e02f2 38.5%,#8606dd 39.1%,#8f0ac0 39.7%,#ae1a4b 41.5%,#b52124 42.1%,#b9250c 42.6%,#bb2703 43.2%,#cb4600 49.1%,#d45700 56.8%,#d65c00 65.6%,#cb4500 72.1%,#c03000 78.5%,#bb2703 82.6%,#b82412 87.4%,#a9175e 94.4%,#9a0e9e 99.7%)"></i>
<i style="left:14.0px;width:1.3px;background:linear-gradient(#000000 0.3%,#000000 32.6%,#250028 33.2%,#2e0063 33.8%,#4700bb 35.0%,#5f00f6 36.2%,#6e00fc 36.8%,#7b01fb 37.4%,#8a08cf 38.5%,#ac1952 40.3%,#b42028 40.9%,#b9250c 41.5%,#bb2702 42.1%,#ca4400 47.4%,#d55b00 56.2%,#d85f00 64.4%,#cf4e00 70.3%,#c13100 77.9%,#bb2703 82.6%,#b82412 87.4%,#aa175e 94.4%,#9a0e9e 99.7%)"></i>
<i style="left:15.0px;width:1.3px;background:linear-gradient(#000000 0.3%,#000000 31.5%,#1f0016 32.1%,#350080 33.2%,#4d00cc 34.4%,#5900e7 35.0%,#6600fa 35.6%,#7400fd 36.2%,#7f02f1 36.8%,#8606da 37.4%,#910bb8 37.9%,#a91760 39.1%,#b21e34 39.7%,#b8240e 40.3%,#bb2704 40.9%,#c23300 42.6%,#cf4f00 49.1%,#d96700 60.9%,#d96300 64.4%,#c13200 77.9%,#bb2703 82.6%,#b82411 87.4%,#ab1856 93.8%,#9a0e9e 99.7%)"></i>
<i style="left:16.0px;width:1.3px;background:linear-gradient(#000000 0.3%,#000000 30.3%,#060004 30.9%,#270033 31.5%,#2f006b 32.1%,#4600bb 33.2%,#5d00f2 34.4%,#6b00fb 35.0%,#7a00ff 35.6%,#8a08d1 36.8%,#ae1b47 38.5%,#b72318 39.1%,#ba2607 39.7%,#bd2a00 40.3%,#c94200 44.4%,#da6a00 57.4%,#db6d00 62.1%,#ce4c00 70.9%,#c13200 77.9%,#bb2702 82.6%,#b82411 87.4%,#ab1856 93.8%,#9a0e9e 99.7%)"></i>
<i style="left:17.0px;width:1.3px;background:linear-gradient(#000000 0.3%,#000000 29.7%,#220019 30.3%,#34007e 31.5%,#4b00c7 32.6%,#6100f8 33.8%,#7000fc 34.4%,#7c01f8 35.0%,#8405e1 35.6%,#8f0ac1 36.2%,#a91760 37.4%,#b31f2f 37.9%,#b9250b 38.5%,#bc2800 39.1%,#c83f00 42.6%,#db6d00 55.6%,#dc7400 60.3%,#da6b00 63.8%,#c33500 76.8%,#bb2702 82.6%,#b82410 87.4%,#ad1a4e 93.2%,#9a0e9e 99.7%)"></i>
<i style="left:18.0px;width:1.3px;background:linear-gradient(#000000 0.3%,#000000 28.5%,#040003 29.1%,#26002e 29.7%,#2e0064 30.3%,#4400b1 31.5%,#5900e8 32.6%,#6600f9 33.2%,#7400fd 33.8%,#7f02f2 34.4%,#8706d9 35.0%,#940bb1 35.6%,#ad1a4c 36.8%,#b72318 37.4%,#bb2706 37.9%,#bd2b00 38.5%,#ca4300 42.6%,#da6a00 52.6%,#dd7900 57.9%,#dc7500 62.1%,#d05100 69.7%,#c13200 77.9%,#bb2702 82.6%,#b82410 87.4%,#af1b47 92.6%,#9a0e9e 99.7%)"></i>
<i style="left:19.0px;width:1.3px;background:linear-gradient(#000000 0.3%,#000000 27.9%,#180011 28.5%,#290041 29.1%,#310075 29.7%,#4700bd 30.9%,#5c00ef 32.1%,#6900fa 32.6%,#7700fe 33.2%,#8103eb 33.8%,#8908d3 34.4%,#a6156e 35.6%,#b11d39 36.2%,#b9250d 36.8%,#bc2801 37.4%,#c84000 40.9%,#da6900 50.9%,#de7e00 56.2%,#de7d00 60.3%,#da6b00 64.4%,#d35600 68.5%,#c13200 77.9%,#bb2702 82.6%,#b82410 87.4%,#b01c3f 92.1%,#9a0e9e 99.7%)"></i>
<i style="left:20.0px;width:1.3px;background:linear-gradient(#000000 0.3%,#000000 27.4%,#230020 27.9%,#350080 29.1%,#4a00c5 30.3%,#5f00f6 31.5%,#7a00fe 32.6%,#8304e6 33.2%,#8c09c8 33.8%,#a9175e 35.0%,#b42028 35.6%,#ba2608 36.2%,#bd2a00 36.8%,#c84100 40.3%,#d96600 49.1%,#de8000 54.4%,#df8500 58.5%,#dd7700 62.6%,#d65b00 67.4%,#c13200 77.9%,#bc2802 82.6%,#b72313 87.9%,#ad1a4c 93.2%,#9a0e9e 99.7%)"></i>
<i style="left:21.0px;width:1.3px;background:linear-gradient(#000000 0.3%,#000000 26.2%,#030002 26.8%,#26002d 27.4%,#2e0061 27.9%,#370089 28.5%,#4c00ca 29.7%,#6200f8 30.9%,#7000fc 31.5%,#7c01f9 32.1%,#8505e0 32.6%,#900abd 33.2%,#ac1951 34.4%,#b72319 35.0%,#bb2705 35.6%,#c13100 36.8%,#cc4800 41.5%,#d96600 47.9%,#df8400 53.2%,#e18c00 57.4%,#de7c00 62.1%,#d65b00 67.4%,#c23400 77.4%,#bc2802 82.6%,#b82413 87.9%,#ae1a4b 93.2%,#9a0e9e 99.7%)"></i>
<i style="left:22.0px;width:1.3px;background:linear-gradient(#000000 0.3%,#000000 25.6%,#10000b 26.2%,#280038 26.8%,#30006d 27.4%,#4400b4 28.5%,#5900e7 29.7%,#6400f9 30.3%,#7200fd 30.9%,#7e02f4 31.5%,#8606db 32.1%,#930bb3 32.6%,#af1b46 33.8%,#b8240f 34.4%,#bb2702 35.0%,#c63d00 37.9%,#d96500 46.8%,#e08600 52.1%,#e49200 55.6%,#e28c00 59.1%,#db6e00 64.4%,#d65b00 67.4%,#c23400 77.4%,#bc2802 82.6%,#b82412 87.9%,#af1b44 92.6%,#9a0e9e 99.7%)"></i>
<i style="left:23.0px;width:1.3px;background:linear-gradient(#000000 0.3%,#000000 25.0%,#190012 25.6%,#290041 26.2%,#310074 26.8%,#4600ba 27.9%,#5b00ec 29.1%,#6700fa 29.7%,#7400fe 30.3%,#7f02f0 30.9%,#8707d8 31.5%,#960cab 32.1%,#b01c3e 33.2%,#b9250d 33.8%,#bc2800 34.4%,#c73d00 37.4%,#d96300 45.6%,#e38f00 52.1%,#e79900 55.0%,#e49200 58.5%,#da6a00 65.0%,#d55900 67.9%,#c23400 77.4%,#bc2802 82.6%,#b82411 87.9%,#af1c43 92.6%,#9a0e9e 99.7%)"></i>
<i style="left:24.0px;width:1.3px;background:linear-gradient(#000000 0.3%,#000000 24.4%,#200017 25.0%,#330079 26.2%,#4800bf 27.4%,#5c00ef 28.5%,#6800fa 29.1%,#7600fe 29.7%,#8003ee 30.3%,#8807d5 30.9%,#970da6 31.5%,#b11d39 32.6%,#b9250c 33.2%,#bc2800 33.8%,#c73e00 36.8%,#d86100 44.4%,#e59500 51.5%,#e99f00 54.4%,#e69700 57.9%,#d96600 65.6%,#c33500 76.8%,#bc2801 82.6%,#b82410 87.9%,#b01c42 92.6%,#9a0e9e 99.7%)"></i>
<i style="left:25.0px;width:1.3px;background:linear-gradient(#000000 0.3%,#000000 23.8%,#22001a 24.4%,#33007c 25.6%,#4800c1 26.8%,#5d00f1 27.9%,#6900fb 28.5%,#7700fe 29.1%,#8003ec 29.7%,#8907d3 30.3%,#980da3 30.9%,#b11d37 32.1%,#b9250c 32.6%,#bc2900 33.2%,#c73e00 36.2%,#d96300 43.8%,#e89b00 50.9%,#eba400 53.8%,#e69700 57.9%,#d65b00 67.4%,#c23400 77.4%,#bc2801 82.6%,#b82410 87.9%,#b11d3a 92.1%,#9a0e9e 99.7%)"></i>
<i style="left:26.0px;width:1.3px;background:linear-gradient(#000000 0.3%,#000000 23.2%,#23001b 23.8%,#34007c 25.0%,#4900c2 26.2%,#5d00f2 27.4%,#6a00fb 27.9%,#7800fe 28.5%,#8103ec 29.1%,#8907d3 29.7%,#980da3 30.3%,#b11d38 31.5%,#b9250c 32.1%,#bc2800 32.6%,#c73e00 35.6%,#d86000 42.6%,#e89b00 49.1%,#eeaa00 52.6%,#e99f00 56.2%,#db7000 63.8%,#d55b00 67.4%,#c23400 77.4%,#bb2703 83.2%,#b72314 88.5%,#b01c40 92.6%,#9a0e9e 99.7%)"></i>
<i style="left:27.0px;width:1.3px;background:linear-gradient(#000000 0.3%,#000000 22.6%,#220019 23.2%,#33007c 24.4%,#4900c1 25.6%,#5d00f1 26.8%,#6a00fb 27.4%,#7700fe 27.9%,#8003ec 28.5%,#8907d4 29.1%,#970da5 29.7%,#b11d3c 30.9%,#b9250d 31.5%,#bc2800 32.1%,#c73d00 35.0%,#d75d00 41.5%,#e79900 47.4%,#efac00 50.3%,#f0b000 53.2%,#de7c00 61.5%,#d65d00 66.8%,#c13200 77.9%,#bb2703 83.2%,#b82413 88.5%,#b01c40 92.6%,#9a0e9e 99.7%)"></i>
<i style="left:28.0px;width:1.3px;background:linear-gradient(#000000 0.3%,#000000 22.1%,#1e0015 22.6%,#330079 23.8%,#4800c0 25.0%,#5c00f0 26.2%,#6900fa 26.8%,#7600fe 27.4%,#8003ee 27.9%,#8807d6 28.5%,#960caa 29.1%,#b01c42 30.3%,#b8240f 30.9%,#bc2802 31.5%,#c63d00 34.4%,#d55900 40.3%,#da6800 42.1%,#e69600 46.2%,#f0af00 49.1%,#f3b700 52.6%,#eda800 55.0%,#df8100 60.3%,#d65d00 66.8%,#c13200 77.9%,#bb2703 83.2%,#b82412 88.5%,#b01c3f 92.6%,#9a0e9d 99.7%)"></i>
<i style="left:29.0px;width:1.3px;background:linear-gradient(#000000 0.3%,#000000 21.5%,#16000f 22.1%,#29003f 22.6%,#310074 23.2%,#4700bb 24.4%,#5b00ed 25.6%,#6700fa 26.2%,#7500fe 26.8%,#7f02f1 27.4%,#8706d9 27.9%,#940cb1 28.5%,#ae1a4a 29.7%,#b72314 30.3%,#bb2704 30.9%,#c13100 32.1%,#d86000 40.9%,#e39000 45.0%,#f0ae00 47.9%,#f4bb00 50.9%,#f4ba00 53.2%,#df8400 59.7%,#d65c00 66.8%,#c13200 77.9%,#bb2703 83.2%,#b82411 88.5%,#b01c3e 92.6%,#9a0e9d 99.7%)"></i>
<i style="left:30.0px;width:1.3px;background:linear-gradient(#000000 0.3%,#000000 20.9%,#0b0007 21.5%,#270035 22.1%,#2f006b 22.6%,#4500b5 23.8%,#5900e9 25.0%,#6500f9 25.6%,#7300fd 26.2%,#7e02f5 26.8%,#8606dd 27.4%,#910bb9 27.9%,#ac1953 29.1%,#b6221e 29.7%,#ba2606 30.3%,#bd2b00 30.9%,#c94100 34.4%,#d65c00 39.7%,#dd7b00 42.6%,#eeab00 46.8%,#f5be00 49.7%,#f6c200 52.6%,#f4bc00 53.8%,#e49100 57.9%,#d86100 65.6%,#c13200 77.9%,#bb2702 83.2%,#b82410 88.5%,#b11d3d 92.6%,#9a0e9d 99.7%)"></i>
<i style="left:31.0px;width:1.3px;background:linear-gradient(#000000 0.3%,#000000 20.9%,#250028 21.5%,#2d005e 22.1%,#370088 22.6%,#4200ac 23.2%,#4d00cb 23.8%,#6200f9 25.0%,#7000fc 25.6%,#7c01f9 26.2%,#8405e2 26.8%,#8e09c4 27.4%,#a9175f 28.5%,#b4202b 29.1%,#ba2609 29.7%,#bd2900 30.3%,#c73e00 33.2%,#d35700 38.5%,#d96400 40.3%,#e38e00 43.8%,#f1b100 46.8%,#f6c200 49.1%,#f7c800 52.1%,#f6c100 53.8%,#e79800 57.4%,#df8100 60.3%,#d65c00 66.8%,#c13200 77.9%,#bb2702 83.2%,#b82410 88.5%,#b21e34 92.1%,#9a0e9d 99.7%)"></i>
<i style="left:32.0px;width:1.3px;background:linear-gradient(#000000 0.3%,#000000 20.3%,#220019 20.9%,#34007e 22.1%,#4a00c5 23.2%,#5f00f6 24.4%,#7a00ff 25.6%,#8a08d0 26.8%,#b11d3a 28.5%,#b9250d 29.1%,#bc2801 29.7%,#c73d00 32.6%,#d35600 37.9%,#da6900 40.3%,#e59500 43.8%,#f5bd00 47.4%,#f8cb00 50.3%,#f8cb00 52.6%,#f7c500 53.8%,#e79a00 57.4%,#df8100 60.3%,#d65c00 66.8%,#c13200 77.9%,#bb2702 83.2%,#b72314 89.1%,#b11d3b 92.6%,#9a0e9c 99.7%)"></i>
<i style="left:33.0px;width:1.3px;background:linear-gradient(#000000 0.3%,#000000 19.7%,#11000c 20.3%,#28003c 20.9%,#310072 21.5%,#4700bc 22.6%,#5c00ef 23.8%,#6900fa 24.4%,#7600fe 25.0%,#8003ef 25.6%,#8807d7 26.2%,#950cae 26.8%,#ae1a49 27.9%,#b72314 28.5%,#bb2704 29.1%,#c13100 30.3%,#cb4600 34.4%,#d86000 39.1%,#e49300 43.2%,#f5be00 46.8%,#f9cd00 49.1%,#fad100 52.1%,#f8c900 53.8%,#eba200 56.8%,#df8200 60.3%,#d65d00 66.8%,#c13200 77.9%,#bc2802 83.2%,#b82413 89.1%,#b11d3a 92.6%,#9a0e9c 99.7%)"></i>
<i style="left:34.0px;width:1.3px;background:linear-gradient(#000000 0.3%,#000000 19.7%,#250029 20.3%,#2e0060 20.9%,#38008b 21.5%,#4300b0 22.1%,#4e00ce 22.6%,#5900e7 23.2%,#6400f9 23.8%,#7200fd 24.4%,#7d02f6 25.0%,#8506de 25.6%,#900abd 26.2%,#aa185a 27.4%,#b42026 27.9%,#ba2608 28.5%,#bd2a00 29.1%,#c73e00 32.1%,#d35700 37.4%,#d96400 39.1%,#e39000 42.6%,#f7c400 46.8%,#fbd400 49.7%,#fbd500 52.1%,#f9cc00 53.8%,#e99d00 57.4%,#df8300 60.3%,#d65d00 66.8%,#c23400 77.4%,#bc2802 83.2%,#b82412 89.1%,#b11d39 92.6%,#9b0e9b 99.7%)"></i>
<i style="left:35.0px;width:1.3px;background:linear-gradient(#000000 0.3%,#000000 19.1%,#200017 19.7%,#34007d 20.9%,#4a00c6 22.1%,#6000f8 23.2%,#7b00fd 24.4%,#8b08cd 25.6%,#b11d39 27.4%,#b9250d 27.9%,#bc2801 28.5%,#c63d00 31.5%,#d35500 36.8%,#d86100 38.5%,#e69600 42.6%,#f7c400 46.2%,#fbd400 48.5%,#fcd900 51.5%,#fad000 53.8%,#e99f00 57.4%,#df8300 60.3%,#d65d00 66.8%,#c23400 77.4%,#bc2802 83.2%,#b82411 89.1%,#b11d38 92.6%,#9b0e9b 99.7%)"></i>
<i style="left:36.0px;width:1.3px;background:linear-gradient(#000000 0.3%,#000000 18.5%,#0b0008 19.1%,#270037 19.7%,#300070 20.3%,#4700bb 21.5%,#5c00ef 22.6%,#6900fa 23.2%,#7700fe 23.8%,#8003ee 24.4%,#8807d7 25.0%,#950cae 25.6%,#ad1a4c 26.8%,#b72318 27.4%,#bb2705 27.9%,#be2b00 28.5%,#c84100 32.1%,#d45700 36.8%,#d96500 38.5%,#e49200 42.1%,#f8ca00 46.2%,#fcd900 48.5%,#fcdb00 52.1%,#fad200 53.8%,#eaa100 57.4%,#df8400 60.3%,#d65d00 66.8%,#c23400 77.4%,#bc2801 83.2%,#b82410 89.1%,#b21e37 92.6%,#9b0e9a 99.7%)"></i>
<i style="left:37.0px;width:1.3px;background:linear-gradient(#000000 0.3%,#000000 18.5%,#240024 19.1%,#2d005a 19.7%,#370088 20.3%,#4300ae 20.9%,#4e00cd 21.5%,#5800e6 22.1%,#6400f9 22.6%,#7200fd 23.2%,#7d02f6 23.8%,#8505df 24.4%,#8f0ac0 25.0%,#a9175f 26.2%,#b31f2d 26.8%,#b9250a 27.4%,#bc2900 27.9%,#c73d00 30.9%,#d35600 36.2%,#da6900 38.5%,#e38e00 41.5%,#f8c900 45.6%,#fcda00 47.9%,#fdde00 51.5%,#fbd500 53.8%,#eba200 57.4%,#df8500 60.3%,#d65d00 66.8%,#c23400 77.4%,#bb2703 83.8%,#b82410 89.1%,#b21e36 92.6%,#9b0e99 99.7%)"></i>
<i style="left:38.0px;width:1.3px;background:linear-gradient(#000000 0.3%,#000000 17.9%,#1a0013 18.5%,#2a0045 19.1%,#33007a 19.7%,#4a00c4 20.9%,#6000f7 22.1%,#7a00fe 23.2%,#8a08d1 24.4%,#b01c42 26.2%,#b82410 26.8%,#bb2703 27.4%,#c33500 29.1%,#d45800 36.2%,#d96600 37.9%,#e59300 41.5%,#f9ce00 45.6%,#fcdb00 47.4%,#fde100 50.9%,#fcd700 53.8%,#eba400 57.4%,#df8100 60.9%,#d75d00 66.8%,#c23400 77.4%,#bb2703 83.8%,#b82410 89.1%,#b31f2d 92.1%,#9b0e99 99.7%)"></i>
<i style="left:39.0px;width:1.3px;background:linear-gradient(#000000 0.3%,#000000 17.4%,#060004 17.9%,#270033 18.5%,#2f006b 19.1%,#4600b9 20.3%,#5c00ee 21.5%,#6800fa 22.1%,#7600fe 22.6%,#7f03f0 23.2%,#8706d9 23.8%,#930bb5 24.4%,#ab1856 25.6%,#b52124 26.2%,#ba2609 26.8%,#bd2a00 27.4%,#c73e00 30.3%,#d35600 35.6%,#da6900 37.9%,#e38f00 40.9%,#f9cc00 45.0%,#fcdb00 46.8%,#fde400 50.3%,#fcd900 53.8%,#f5bf00 55.6%,#e99e00 57.9%,#df8200 60.9%,#d75d00 66.8%,#c23400 77.4%,#bb2703 83.8%,#b82413 89.7%,#b11d3c 93.2%,#9c0e98 99.7%)"></i>
<i style="left:40.0px;width:1.3px;background:linear-gradient(#000000 0.3%,#000000 17.4%,#240021 17.9%,#2c0057 18.5%,#360086 19.1%,#4200ac 19.7%,#4d00cc 20.3%,#5800e5 20.9%,#6300f9 21.5%,#7100fd 22.1%,#7c01f8 22.6%,#8d09c7 23.8%,#b11d3b 25.6%,#b8240e 26.2%,#bb2702 26.8%,#c73f00 30.3%,#d45800 35.6%,#d96600 37.4%,#e59400 40.9%,#fad000 45.0%,#fdde00 46.8%,#fde600 50.3%,#fcda00 53.8%,#f5c000 55.6%,#eaa000 57.9%,#df8300 60.9%,#d75d00 66.8%,#c23400 77.4%,#bb2703 83.8%,#b82412 89.7%,#b11d3b 93.2%,#9c0e97 99.7%)"></i>
<i style="left:41.0px;width:1.3px;background:linear-gradient(#000000 0.3%,#000000 16.8%,#190012 17.4%,#2a0044 17.9%,#330079 18.5%,#4900c3 19.7%,#5f00f5 20.9%,#7900ff 22.1%,#8807d5 23.2%,#950cae 23.8%,#b52120 25.6%,#ba2608 26.2%,#bd2a00 26.8%,#c84000 30.3%,#d35600 35.0%,#da6900 37.4%,#e38f00 40.3%,#f9cd00 44.4%,#fddd00 46.2%,#fee700 49.7%,#fddf00 53.2%,#fbd600 54.4%,#eda700 57.4%,#df8300 60.9%,#d75d00 66.8%,#c23400 77.4%,#bb2702 83.8%,#b82411 89.7%,#b11d3a 93.2%,#9c0f96 99.7%)"></i>
<i style="left:42.0px;width:1.3px;background:linear-gradient(#000000 0.3%,#000000 16.2%,#060005 16.8%,#270033 17.4%,#2f006b 17.9%,#4600b8 19.1%,#5b00ec 20.3%,#6700fa 20.9%,#7400fd 21.5%,#7e02f4 22.1%,#8506de 22.6%,#8e0ac2 23.2%,#b11d3a 25.0%,#b8240e 25.6%,#bc2802 26.2%,#c73f00 29.7%,#d45700 35.0%,#d96500 36.8%,#e49300 40.3%,#fad100 44.4%,#fde000 46.2%,#fee900 49.7%,#fde000 53.2%,#fcd700 54.4%,#eda900 57.4%,#df8400 60.9%,#d75d00 66.8%,#c23400 77.4%,#bb2702 83.8%,#b82410 89.7%,#b11d3a 93.2%,#9c0f96 99.7%)"></i>
<i style="left:43.0px;width:1.3px;background:linear-gradient(#000000 0.3%,#000000 16.2%,#240022 16.8%,#2d0058 17.4%,#370086 17.9%,#4200ab 18.5%,#4d00cb 19.1%,#6200f9 20.3%,#7b00fc 21.5%,#8907d3 22.6%,#a21281 23.8%,#b52124 25.0%,#ba2609 25.6%,#bd2a00 26.2%,#c84000 29.7%,#d35500 34.4%,#d86100 36.2%,#e28d00 39.7%,#fbd500 44.4%,#fde400 46.8%,#feea00 50.3%,#fdde00 53.8%,#facf00 55.0%,#eeaa00 57.4%,#df8400 60.9%,#d75e00 66.8%,#c23400 77.4%,#bb2702 83.8%,#b82410 89.7%,#b11d39 93.2%,#9d0f95 99.7%)"></i>
<i style="left:44.0px;width:1.3px;background:linear-gradient(#000000 0.3%,#000000 15.6%,#1c0014 16.2%,#2a0046 16.8%,#33007a 17.4%,#4900c3 18.5%,#5e00f3 19.7%,#7600fe 20.9%,#7f02f1 21.5%,#8606dd 22.1%,#8e0ac2 22.6%,#af1c42 24.4%,#b82412 25.0%,#bb2704 25.6%,#c13200 26.8%,#cb4700 31.5%,#d96400 36.2%,#e49100 39.7%,#fcd800 44.4%,#fee800 47.4%,#feea00 50.9%,#fdde00 53.8%,#fad000 55.0%,#eeaa00 57.4%,#df8500 60.9%,#d75e00 66.8%,#c23400 77.4%,#bc2802 83.8%,#b82410 89.7%,#b31f30 92.6%,#9d0f94 99.7%)"></i>
<i style="left:45.0px;width:1.3px;background:linear-gradient(#000000 0.3%,#000000 15.0%,#0b0008 15.6%,#270037 16.2%,#30006f 16.8%,#4600b9 17.9%,#5b00ec 19.1%,#6600fa 19.7%,#7200fd 20.3%,#7c01fa 20.9%,#8907d4 22.1%,#a0108a 23.2%,#b21e34 24.4%,#b9250d 25.0%,#bc2800 25.6%,#c53a00 27.9%,#d25400 33.8%,#d96600 36.2%,#e59500 39.7%,#fbd400 43.8%,#fde500 46.2%,#feed00 49.7%,#fde200 53.2%,#fcda00 54.4%,#eeab00 57.4%,#df8500 60.9%,#d75e00 66.8%,#c23400 77.4%,#bc2802 83.8%,#b8240f 89.7%,#b31f2f 92.6%,#9d0f93 99.7%)"></i>
<i style="left:46.0px;width:1.3px;background:linear-gradient(#000000 0.3%,#000000 15.0%,#250027 15.6%,#2d005d 16.2%,#370089 16.8%,#4300ae 17.4%,#4d00cc 17.9%,#6200f8 19.1%,#7900ff 20.3%,#8506de 21.5%,#8d09c8 22.1%,#ac1955 23.8%,#b42029 24.4%,#b9250a 25.0%,#bd2a00 25.6%,#c43900 27.4%,#d35600 33.8%,#da6900 36.2%,#e38e00 39.1%,#fcd700 43.8%,#fee600 46.2%,#feed00 49.7%,#fde000 53.8%,#f8c800 55.6%,#efac00 57.4%,#e08600 60.9%,#d75e00 66.8%,#c23400 77.4%,#bc2802 83.8%,#b82413 90.3%,#b01c3f 93.8%,#9d0f92 99.7%)"></i>
<i style="left:47.0px;width:1.3px;background:linear-gradient(#000000 0.3%,#000000 14.4%,#220018 15.0%,#34007e 16.2%,#4a00c5 17.4%,#5e00f4 18.5%,#7400fe 19.7%,#7d01f7 20.3%,#8807d6 21.5%,#910aba 22.1%,#ad1a4d 23.8%,#b52121 24.4%,#ba2608 25.0%,#be2b00 25.6%,#c53a00 27.4%,#d25400 33.2%,#d96400 35.6%,#e49100 39.1%,#fcda00 43.8%,#feea00 46.8%,#feee00 50.3%,#fde000 53.8%,#f8c900 55.6%,#eca600 57.9%,#df8200 61.5%,#d75e00 66.8%,#c23400 77.4%,#bb2703 84.4%,#b82412 90.3%,#b01c3e 93.8%,#9e0f91 99.7%)"></i>
<i style="left:48.0px;width:1.3px;background:linear-gradient(#000000 0.3%,#000000 13.8%,#11000c 14.4%,#28003c 15.0%,#310073 15.6%,#4700bc 16.8%,#5b00ec 17.9%,#6600fa 18.5%,#7b00fd 19.7%,#8b08ce 21.5%,#a6156c 23.2%,#ae1b47 23.8%,#b6221b 24.4%,#ba2606 25.0%,#be2d00 25.6%,#c43800 26.8%,#d25500 33.2%,#d96700 35.6%,#e59400 39.1%,#fcdb00 43.8%,#feeb00 46.8%,#feee00 50.3%,#fde100 53.8%,#f8ca00 55.6%,#eca600 57.9%,#df8200 61.5%,#d75e00 66.8%,#c23400 77.4%,#bb2703 84.4%,#b82411 90.3%,#b11d3d 93.8%,#9e0f91 99.7%)"></i>
<i style="left:49.0px;width:1.3px;background:linear-gradient(#000000 0.3%,#010001 13.8%,#26002d 14.4%,#2e0063 15.0%,#4300b1 16.2%,#4e00ce 16.8%,#6200f8 17.9%,#7800fe 19.1%,#8807d7 20.9%,#8e0ac2 21.5%,#a11087 22.6%,#b01c42 23.8%,#b72315 24.4%,#bb2704 25.0%,#c33500 26.2%,#d35600 33.2%,#da6900 35.6%,#e28d00 38.5%,#fcd700 43.2%,#fee700 45.6%,#fff000 49.1%,#fde400 53.2%,#fbd400 55.0%,#f0ae00 57.4%,#df8300 61.5%,#d75e00 66.8%,#c23400 77.4%,#bb2703 84.4%,#b82410 90.3%,#b11d3c 93.8%,#9e0f90 99.7%)"></i>
<i style="left:50.0px;width:1.3px;background:linear-gradient(#000000 0.3%,#000000 13.2%,#23001e 13.8%,#350081 15.0%,#4b00c6 16.2%,#5e00f4 17.4%,#7400fd 18.5%,#7c01f9 19.1%,#8a08d0 20.9%,#a2127f 22.6%,#b11d3b 23.8%,#b8240f 24.4%,#bc2802 25.0%,#c53b00 26.8%,#d25400 32.6%,#d96400 35.0%,#e39000 38.5%,#fcd900 43.2%,#fee800 45.6%,#fff000 49.1%,#fde500 53.2%,#fbd500 55.0%,#eda800 57.9%,#df8300 61.5%,#d75e00 66.8%,#c33600 76.8%,#bb2703 84.4%,#b82410 90.3%,#b21e32 93.2%,#9e0f8f 99.7%)"></i>
<i style="left:51.0px;width:1.3px;background:linear-gradient(#000000 0.3%,#000000 12.6%,#180011 13.2%,#290041 13.8%,#320076 14.4%,#4700be 15.6%,#5b00ed 16.8%,#6600fa 17.4%,#7a00fe 18.5%,#8807d6 20.3%,#8e09c4 20.9%,#a41376 22.6%,#ab1857 23.2%,#b9250d 24.4%,#bc2900 25.0%,#c63c00 26.8%,#d25500 32.6%,#d96600 35.0%,#e49200 38.5%,#fcda00 43.2%,#fee900 45.6%,#fff100 49.1%,#fde500 53.2%,#fbd500 55.0%,#eda800 57.9%,#df8300 61.5%,#d75e00 66.8%,#c33600 76.8%,#bb2702 84.4%,#b82410 90.3%,#b21e32 93.2%,#9f108e 99.7%)"></i>
<i style="left:52.0px;width:1.3px;background:linear-gradient(#000000 0.3%,#000000 12.1%,#090006 12.6%,#270033 13.2%,#2f0068 13.8%,#4400b2 15.0%,#4e00ce 15.6%,#6200f8 16.8%,#7700fe 17.9%,#8606db 19.7%,#8b08ce 20.3%,#a11088 22.1%,#ad1a4c 23.2%,#b42025 23.8%,#ba2609 24.4%,#bd2b00 25.0%,#c63d00 26.8%,#d15200 32.1%,#d86100 34.4%,#e59300 38.5%,#fcdb00 43.2%,#feea00 45.6%,#fff100 49.1%,#fde600 53.2%,#fbd600 55.0%,#eda900 57.9%,#df8400 61.5%,#d75e00 66.8%,#c33600 76.8%,#bb2702 84.4%,#b82410 90.3%,#b31f31 93.2%,#9f108d 99.7%)"></i>
<i style="left:53.0px;width:1.3px;background:linear-gradient(#000000 0.3%,#000000 12.1%,#240024 12.6%,#2c0057 13.2%,#360083 13.8%,#4b00c6 15.0%,#5e00f3 16.2%,#7300fd 17.4%,#7c01fa 17.9%,#8907d4 19.7%,#9d0f94 21.5%,#a9175f 22.6%,#b01c40 23.2%,#b72316 23.8%,#bb2705 24.4%,#c23500 25.6%,#c94200 27.9%,#d25300 32.1%,#d86200 34.4%,#e59500 38.5%,#fcdc00 43.2%,#feec00 46.2%,#fff100 49.7%,#fde300 53.8%,#f9cd00 55.6%,#eea900 57.9%,#df8400 61.5%,#d75e00 66.8%,#c33600 76.8%,#bb2702 84.4%,#b72313 90.9%,#b01c41 94.4%,#9f108c 99.7%)"></i>
<i style="left:54.0px;width:1.3px;background:linear-gradient(#000000 0.3%,#000000 11.5%,#1f0016 12.1%,#320078 13.2%,#4700be 14.4%,#5b00ec 15.6%,#6500f9 16.2%,#7900ff 17.4%,#8c09c9 19.7%,#a11087 21.5%,#ac1951 22.6%,#b9250d 23.8%,#bc2800 24.4%,#c63b00 26.2%,#d45700 32.6%,#d96400 34.4%,#e28d00 37.9%,#fcd600 42.6%,#fde600 44.4%,#fff200 48.5%,#fee900 52.6%,#fdde00 54.4%,#eeaa00 57.9%,#df8400 61.5%,#d75f00 66.8%,#c33600 76.8%,#bc2802 84.4%,#b82412 90.9%,#b01c40 94.4%,#a0108b 99.7%)"></i>
<i style="left:55.0px;width:1.3px;background:linear-gradient(#000000 0.3%,#000000 10.9%,#0f000b 11.5%,#270037 12.1%,#2f006c 12.6%,#4400b2 13.8%,#4e00cd 14.4%,#6100f8 15.6%,#7600fe 16.8%,#7d01f7 17.4%,#8a08d1 19.1%,#a41379 21.5%,#b01c42 22.6%,#b6221d 23.2%,#ba2608 23.8%,#bd2b00 24.4%,#c63c00 26.2%,#d25500 32.1%,#d96500 34.4%,#e38e00 37.9%,#fcd700 42.6%,#fee600 44.4%,#fff200 48.5%,#fee900 52.6%,#fdde00 54.4%,#f4bb00 56.8%,#e18900 60.9%,#d75f00 66.8%,#c33600 76.8%,#bc2802 84.4%,#b82412 90.9%,#b01c3f 94.4%,#a0108a 99.7%)"></i>
<i style="left:56.0px;width:1.3px;background:linear-gradient(#000000 0.3%,#000000 10.9%,#250029 11.5%,#2d005b 12.1%,#360084 12.6%,#4a00c6 13.8%,#5d00f1 15.0%,#6700fa 15.6%,#7b00fd 16.8%,#8807d5 18.5%,#950cae 19.7%,#a7156a 21.5%,#b31f31 22.6%,#b8240f 23.2%,#bb2703 23.8%,#c63d00 26.2%,#d35600 32.1%,#d96600 34.4%,#e38f00 37.9%,#fcd800 42.6%,#fee700 44.4%,#fff300 48.5%,#feea00 52.6%,#fddf00 54.4%,#f4bc00 56.8%,#e39000 60.3%,#d75f00 66.8%,#c33600 76.8%,#bc2802 84.4%,#b82411 90.9%,#b01c3f 94.4%,#a01089 99.7%)"></i>
<i style="left:57.0px;width:1.3px;background:linear-gradient(#000000 0.3%,#000000 10.3%,#22001b 10.9%,#33007a 12.1%,#4700bd 13.2%,#5a00e9 14.4%,#6300f9 15.0%,#7800fe 16.2%,#8b08cd 18.5%,#a51474 20.9%,#b01c40 22.1%,#b6221e 22.6%,#ba260a 23.2%,#bc2900 23.8%,#c73d00 26.2%,#d35600 32.1%,#d96700 34.4%,#e39000 37.9%,#f9cf00 42.1%,#fde300 43.8%,#fff200 47.9%,#feee00 51.5%,#fddf00 54.4%,#f4bc00 56.8%,#e49100 60.3%,#d75f00 66.8%,#c33600 76.8%,#bb2703 85.0%,#b82410 90.9%,#b01c3e 94.4%,#a01088 99.7%)"></i>
<i style="left:58.0px;width:1.3px;background:linear-gradient(#000000 0.3%,#000000 9.7%,#15000f 10.3%,#28003c 10.9%,#30006e 11.5%,#4400b1 12.6%,#4d00cc 13.2%,#5f00f6 14.4%,#7400fd 15.6%,#7c01fa 16.2%,#8907d3 17.9%,#a3127d 20.3%,#ad1a4c 21.5%,#b8240f 22.6%,#bb2705 23.2%,#c13200 24.4%,#c94300 27.4%,#d55a00 32.6%,#db6f00 35.0%,#e39000 37.9%,#f7c500 41.5%,#fddf00 43.2%,#feee00 46.2%,#fff300 49.7%,#fde500 53.8%,#fad100 55.6%,#efac00 57.9%,#df8500 61.5%,#d65d00 67.4%,#c33600 76.8%,#bb2703 85.0%,#b82410 90.9%,#b21e34 93.8%,#a11087 99.7%)"></i>
<i style="left:59.0px;width:1.3px;background:linear-gradient(#000000 0.3%,#000000 9.1%,#060004 9.7%,#26002d 10.3%,#2d005e 10.9%,#360085 11.5%,#4a00c4 12.6%,#5c00ee 13.8%,#6600f9 14.4%,#7900ff 15.6%,#8c09c8 17.9%,#ab1857 20.9%,#b11d3d 21.5%,#b6221d 22.1%,#b9250a 22.6%,#bc2800 23.2%,#c73e00 26.2%,#d45800 32.1%,#da6900 34.4%,#e49100 37.9%,#f7c500 41.5%,#fddf00 43.2%,#feee00 46.2%,#fff300 49.7%,#fde500 53.8%,#fad200 55.6%,#efad00 57.9%,#df8100 62.1%,#d65d00 67.4%,#c33600 76.8%,#bb2703 85.0%,#b82410 90.9%,#b21e33 93.8%,#a11186 99.7%)"></i>
<i style="left:60.0px;width:1.3px;background:linear-gradient(#000000 0.3%,#000000 9.1%,#230020 9.7%,#33007b 10.9%,#4700bb 12.1%,#5900e7 13.2%,#6100f8 13.8%,#7500fe 15.0%,#7d01f8 15.6%,#8a08d1 17.4%,#a91761 20.3%,#b31f2c 21.5%,#b8240f 22.1%,#bd2a00 23.2%,#c73f00 26.2%,#d45800 32.1%,#da6a00 34.4%,#e49100 37.9%,#f7c500 41.5%,#fddf00 43.2%,#feee00 46.2%,#fff300 49.7%,#fde500 53.8%,#fad200 55.6%,#efad00 57.9%,#df8200 62.1%,#d65d00 67.4%,#c33600 76.8%,#bb2702 85.0%,#b8240f 90.9%,#b4202a 93.2%,#a11185 99.7%)"></i>
<i style="left:61.0px;width:1.3px;background:linear-gradient(#000000 0.3%,#000000 8.5%,#1b0013 9.1%,#290040 9.7%,#300071 10.3%,#4300b0 11.5%,#4c00ca 12.1%,#5e00f3 13.2%,#7100fd 14.4%,#7a00fe 15.0%,#8807d6 16.8%,#950cae 17.9%,#ac1952 20.3%,#b6221b 21.5%,#b9250b 22.1%,#bc2802 22.6%,#c63d00 25.6%,#d55900 32.1%,#d96500 33.8%,#e49100 37.9%,#f7c500 41.5%,#fddf00 43.2%,#feee00 46.2%,#fff300 49.7%,#fde500 53.8%,#fbd300 55.6%,#eda700 58.5%,#df8200 62.1%,#d65d00 67.4%,#c33600 76.8%,#bb2702 85.0%,#b72313 91.5%,#a11184 99.7%)"></i>
<i style="left:62.0px;width:1.3px;background:linear-gradient(#000000 0.3%,#000000 7.9%,#0d0009 8.5%,#270032 9.1%,#2e0062 9.7%,#370086 10.3%,#4900c3 11.5%,#5a00eb 12.6%,#6300f9 13.2%,#7700fe 14.4%,#8204e8 15.6%,#8b08ce 16.8%,#aa175c 19.7%,#b8240f 21.5%,#bd2900 22.6%,#c84000 26.2%,#d65d00 32.6%,#e08900 37.4%,#f7c500 41.5%,#fddf00 43.2%,#feef00 46.2%,#fff300 49.7%,#fde600 53.8%,#fbd400 55.6%,#eda800 58.5%,#df8200 62.1%,#d75d00 67.4%,#c33600 76.8%,#bb2702 85.0%,#b82412 91.5%,#a21182 99.7%)"></i>
<i style="left:63.0px;width:1.3px;background:linear-gradient(#000000 0.3%,#000000 7.9%,#240025 8.5%,#34007c 9.7%,#4600ba 10.9%,#6000f7 12.6%,#7300fd 13.8%,#7b01fc 14.4%,#8907d4 16.2%,#a81666 19.1%,#b62219 20.9%,#b9250b 21.5%,#bb2703 22.1%,#c84000 26.2%,#d75d00 32.6%,#e08900 37.4%,#f4ba00 40.9%,#fcd800 42.6%,#fee700 44.4%,#fff400 48.5%,#feeb00 52.6%,#fcdc00 55.0%,#eda800 58.5%,#df8300 62.1%,#d75d00 67.4%,#c33600 76.8%,#bc2802 85.0%,#b82412 91.5%,#a21181 99.7%)"></i>
<i style="left:64.0px;width:1.3px;background:linear-gradient(#000000 0.3%,#000000 7.4%,#220018 7.9%,#310073 9.1%,#4300af 10.3%,#4c00c9 10.9%,#5c00ef 12.1%,#6500f9 12.6%,#7800ff 13.8%,#8c09cb 16.2%,#ab1858 19.1%,#b8240f 20.9%,#bc2800 22.1%,#c84000 26.2%,#d75e00 32.6%,#e49100 37.9%,#f6c400 41.5%,#fdde00 43.2%,#feef00 46.2%,#fff300 49.7%,#fee600 53.8%,#fbd500 55.6%,#eea900 58.5%,#df8300 62.1%,#d75d00 67.4%,#c33600 76.8%,#bb2703 85.6%,#b82411 91.5%,#a2127f 99.7%)"></i>
<i style="left:65.0px;width:1.3px;background:linear-gradient(#000000 0.3%,#000000 6.8%,#15000f 7.4%,#280038 7.9%,#2f0066 8.5%,#4000a5 9.7%,#4900c2 10.3%,#6100f8 12.1%,#7400fd 13.2%,#7c01fa 13.8%,#8908d3 15.6%,#a91761 18.5%,#b72317 20.3%,#b9250b 20.9%,#bd2a00 22.1%,#c84100 26.2%,#d86200 33.2%,#e49100 37.9%,#f6c400 41.5%,#fdde00 43.2%,#feec00 45.6%,#fff400 49.1%,#fee600 53.8%,#fbd600 55.6%,#eeaa00 58.5%,#df8400 62.1%,#d75d00 67.4%,#c33600 76.8%,#bb2703 85.6%,#b82410 91.5%,#a9175e 97.4%,#a3127e 99.7%)"></i>
<i style="left:66.0px;width:1.3px;background:linear-gradient(#000000 0.3%,#000000 6.2%,#080005 6.8%,#25002c 7.4%,#2d0058 7.9%,#34007e 8.5%,#4600b9 9.7%,#5e00f3 11.5%,#7000fc 12.6%,#7900ff 13.2%,#8707d8 15.0%,#8d09c8 15.6%,#ac1954 18.5%,#b8240e 20.3%,#bc2800 21.5%,#c94100 26.2%,#d86200 33.2%,#e49100 37.9%,#f3b900 40.9%,#fdde00 43.2%,#feec00 45.6%,#fff400 49.1%,#fee700 53.8%,#fcd700 55.6%,#eeaa00 58.5%,#df8400 62.1%,#d75e00 67.4%,#c33600 76.8%,#bb2703 85.6%,#b82410 91.5%,#b11d3d 95.0%,#a3127c 99.7%)"></i>
<i style="left:67.0px;width:1.3px;background:linear-gradient(#000000 0.3%,#000000 6.2%,#230020 6.8%,#320075 7.9%,#4300af 9.1%,#4b00c7 9.7%,#5b00ec 10.9%,#6300f9 11.5%,#7500fe 12.6%,#7c01f9 13.2%,#8a08d1 15.0%,#a51474 17.4%,#b72315 19.7%,#bb2704 20.9%,#bf2d00 22.1%,#d96300 33.2%,#e49100 37.9%,#f3b900 40.9%,#fdde00 43.2%,#feec00 45.6%,#fff400 49.1%,#fee700 53.8%,#fcd800 55.6%,#eeab00 58.5%,#df8500 62.1%,#d75e00 67.4%,#c33600 76.8%,#bb2702 85.6%,#b8240f 91.5%,#b21e33 94.4%,#a3137a 99.7%)"></i>
<i style="left:68.0px;width:1.3px;background:linear-gradient(#000000 0.3%,#000000 5.6%,#1d0015 6.2%,#2f006b 7.4%,#4800c1 9.1%,#5f00f6 10.9%,#7a00ff 12.6%,#8807d7 14.4%,#8d09c5 15.0%,#ac1950 17.9%,#b52121 19.1%,#b8240e 19.7%,#bc2801 20.9%,#cb4600 27.4%,#d96400 33.2%,#e49100 37.9%,#f3b900 40.9%,#fdde00 43.2%,#feec00 45.6%,#fff400 49.1%,#fee700 53.8%,#fcd800 55.6%,#efac00 58.5%,#df8500 62.1%,#d75e00 67.4%,#c33500 77.4%,#bb2702 85.6%,#b72313 92.1%,#a41378 99.7%)"></i>
<i style="left:69.0px;width:1.3px;background:linear-gradient(#000000 0.3%,#000000 5.0%,#11000c 5.6%,#270032 6.2%,#2d005d 6.8%,#350080 7.4%,#4500b8 8.5%,#5c00ef 10.3%,#6400f9 10.9%,#7600fe 12.1%,#7d01f7 12.6%,#8a08d0 14.4%,#a51471 16.8%,#b72314 19.1%,#bc2900 20.9%,#d96400 33.2%,#e49100 37.9%,#f3b800 40.9%,#fddd00 43.2%,#feec00 45.6%,#fff400 49.1%,#fee700 53.8%,#fcd900 55.6%,#eca600 59.1%,#df8100 62.6%,#d75e00 67.4%,#c33500 77.4%,#bb2703 86.2%,#b82412 92.1%,#a41376 99.7%)"></i>
<i style="left:70.0px;width:1.3px;background:linear-gradient(#000000 0.3%,#000000 4.4%,#040003 5.0%,#240026 5.6%,#320078 6.8%,#4b00c6 8.5%,#6100f8 10.3%,#7a00fe 12.1%,#8807d6 13.8%,#8e09c3 14.4%,#a81664 16.8%,#b6221f 18.5%,#b9250e 19.1%,#bd2a00 20.9%,#d96400 33.2%,#e49100 37.9%,#f3b800 40.9%,#fddd00 43.2%,#feec00 45.6%,#fff400 49.1%,#fee700 53.8%,#fcd900 55.6%,#eca600 59.1%,#df8100 62.6%,#d75e00 67.4%,#c33500 77.4%,#bb2703 86.2%,#b82411 92.1%,#a51474 99.7%)"></i>
<i style="left:71.0px;width:1.3px;background:linear-gradient(#000000 0.3%,#000000 4.4%,#22001b 5.0%,#30006f 6.2%,#4800bf 7.9%,#5d00f2 9.7%,#6600fa 10.3%,#7700fe 11.5%,#7d01f7 12.1%,#8a08cf 13.8%,#a6146e 16.2%,#b82413 18.5%,#bc2800 20.3%,#d86000 32.6%,#e39000 37.9%,#f3b700 40.9%,#fddd00 43.2%,#feec00 45.6%,#fff400 49.1%,#fee800 53.8%,#fcda00 55.6%,#eda700 59.1%,#df8200 62.6%,#d75f00 67.4%,#c33500 77.4%,#bb2703 86.2%,#b82410 92.1%,#a51472 99.7%)"></i>
<i style="left:72.0px;width:1.3px;background:linear-gradient(#000000 0.3%,#000000 3.8%,#180011 4.4%,#270037 5.0%,#2e0061 5.6%,#350082 6.2%,#4500b6 7.4%,#5300db 8.5%,#6200f8 9.7%,#7b00fd 11.5%,#8807d6 13.2%,#960ca9 14.4%,#b21e35 17.4%,#b6221e 17.9%,#b9250e 18.5%,#bd2900 20.3%,#d86000 32.6%,#e39000 37.9%,#f3b700 40.9%,#fcdd00 43.2%,#feec00 45.6%,#fff400 49.1%,#fee800 53.8%,#fcda00 55.6%,#eda800 59.1%,#df8200 62.6%,#d65c00 67.9%,#c33600 77.4%,#bb2702 86.2%,#b82410 92.1%,#a61470 99.7%)"></i>
<i style="left:73.0px;width:1.3px;background:linear-gradient(#000000 0.3%,#000000 3.2%,#0a0007 3.8%,#25002b 4.4%,#330079 5.6%,#4a00c4 7.4%,#5e00f4 9.1%,#7700fe 10.9%,#7d02f6 11.5%,#8b08ce 13.2%,#a6156c 15.6%,#b82412 17.9%,#bc2801 19.7%,#d86100 32.6%,#e39000 37.9%,#f3b600 40.9%,#fcdc00 43.2%,#feec00 45.6%,#fff400 49.1%,#fee800 53.8%,#fcdb00 55.6%,#eda800 59.1%,#df8300 62.6%,#d65c00 67.9%,#c33600 77.4%,#bb2702 86.2%,#b8240f 92.1%,#b11d3a 95.6%,#a6146f 99.7%)"></i>
<i style="left:74.0px;width:1.3px;background:linear-gradient(#000000 0.3%,#000000 3.2%,#23001f 3.8%,#300070 5.0%,#4700bd 6.8%,#5b00ed 8.5%,#6300f9 9.1%,#7b00fd 10.9%,#8807d5 12.6%,#960da8 13.8%,#b21e33 16.8%,#b6221d 17.4%,#b9250e 17.9%,#bc2900 19.7%,#d86100 32.6%,#e39000 37.9%,#f3b600 40.9%,#fcdc00 43.2%,#feec00 45.6%,#fff400 49.1%,#fee800 53.8%,#fcdb00 55.6%,#eba200 59.7%,#df8300 62.6%,#d65d00 67.9%,#c33600 77.4%,#bb2703 86.8%,#b72313 92.6%,#a6156d 99.7%)"></i>
<i style="left:75.0px;width:2.3px;background:linear-gradient(#000000 0.3%,#000000 2.6%,#230020 3.2%,#300070 4.4%,#4600bb 6.2%,#6100f8 8.5%,#7a00ff 10.3%,#8707d9 12.1%,#8d09c8 12.6%,#a81665 15.0%,#b8240f 17.4%,#bc2801 19.1%,#d75e00 32.1%,#e39000 37.9%,#f2b500 40.9%,#fcdc00 43.2%,#fee900 45.0%,#fff400 49.1%,#fee800 53.8%,#fcdc00 55.6%,#eba300 59.7%,#df8400 62.6%,#d65d00 67.9%,#c33600 77.4%,#bb2703 86.8%,#b82411 92.6%,#a7156a 99.7%)"></i>
<i style="left:77.0px;width:2.3px;background:linear-gradient(#000000 0.3%,#000000 1.5%,#0e000a 2.1%,#26002d 2.6%,#320078 3.8%,#4800c0 5.6%,#6200f8 7.9%,#7900ff 9.7%,#8706d9 11.5%,#8c09c9 12.1%,#a81665 14.4%,#b82410 16.8%,#bd2900 19.1%,#d75f00 32.1%,#e38f00 37.9%,#f5be00 41.5%,#fcdb00 43.2%,#fee900 45.0%,#fff400 49.1%,#fee800 53.8%,#fcdd00 55.6%,#eca400 59.7%,#de8000 63.2%,#d75d00 67.9%,#c33600 77.4%,#bb2702 86.8%,#b82410 92.6%,#a81666 99.7%)"></i>
<i style="left:79.0px;width:2.3px;background:linear-gradient(#000000 0.3%,#000000 0.9%,#1b0013 1.5%,#280038 2.1%,#2e005f 2.6%,#34007e 3.2%,#4900c2 5.0%,#6200f9 7.4%,#7900ff 9.1%,#8706da 10.9%,#8c09ca 11.5%,#a81666 13.8%,#b82410 16.2%,#bc2900 18.5%,#d55a00 30.9%,#da6c00 33.8%,#e38f00 37.9%,#f4bd00 41.5%,#fcda00 43.2%,#fee800 45.0%,#fff400 49.1%,#fee900 53.8%,#fcd700 56.2%,#eca500 59.7%,#df8100 63.2%,#d75e00 67.9%,#c33600 77.4%,#bb2703 87.4%,#b72313 93.2%,#a81663 99.7%)"></i>
<i style="left:81.0px;width:2.3px;background:linear-gradient(#000000 0.3%,#23001c 0.9%,#2f0068 2.1%,#3d009a 3.2%,#4a00c4 4.4%,#6200f9 6.8%,#7800ff 8.5%,#8606db 10.3%,#8b08cc 10.9%,#a71667 13.2%,#b82412 15.6%,#bc2800 17.9%,#d05000 28.5%,#d96700 33.2%,#e28e00 37.9%,#f4bb00 41.5%,#fcd900 43.2%,#fee800 45.0%,#fff400 49.1%,#fee900 53.8%,#fcd800 56.2%,#eda700 59.7%,#df8200 63.2%,#d75e00 67.9%,#c33600 77.4%,#bb2702 87.4%,#b82411 93.2%,#a9175f 99.7%)"></i>
<i style="left:83.0px;width:2.3px;background:linear-gradient(#240025 0.3%,#30006f 1.5%,#4400b3 3.2%,#5000d3 4.4%,#6200f8 6.2%,#7800fe 7.9%,#8104ea 9.1%,#8a08cf 10.3%,#a71569 12.6%,#b72314 15.0%,#bb2705 16.8%,#be2d00 19.1%,#cf4d00 27.9%,#d96300 32.6%,#e28d00 37.9%,#f4ba00 41.5%,#fcd800 43.2%,#fee700 45.0%,#fff400 49.1%,#fee900 53.8%,#fcd900 56.2%,#eda800 59.7%,#df8200 63.2%,#d75f00 67.9%,#c33700 77.4%,#bb2703 87.9%,#b82410 93.2%,#aa175c 99.7%)"></i>
<i style="left:85.0px;width:2.3px;background:linear-gradient(#2c0051 0.3%,#310074 0.9%,#4500b5 2.6%,#5000d3 3.8%,#6100f8 5.6%,#7700fe 7.4%,#7c01f8 7.9%,#8a08d1 9.7%,#a7156c 12.1%,#b72316 14.4%,#b9250d 15.0%,#bc2900 17.4%,#cb4600 26.2%,#d96300 32.6%,#e28c00 37.9%,#f3b800 41.5%,#fddd00 43.8%,#feec00 46.2%,#fff300 49.7%,#fee700 54.4%,#fcda00 56.2%,#eba200 60.3%,#df8300 63.2%,#d65c00 68.5%,#c33700 77.4%,#bb2702 87.9%,#b82413 93.8%,#ab1859 99.7%)"></i>
<i style="left:87.0px;width:2.3px;background:linear-gradient(#320077 0.3%,#4500b6 2.1%,#5600e0 3.8%,#6100f8 5.0%,#7600fe 6.8%,#7c01fa 7.4%,#8907d3 9.1%,#a6146f 11.5%,#b31f2c 13.2%,#b62219 13.8%,#b9250e 14.4%,#bc2800 16.8%,#c94200 25.0%,#d96300 32.6%,#e18c00 37.9%,#f2b600 41.5%,#fcdc00 43.8%,#feeb00 46.2%,#fff300 49.7%,#fee700 54.4%,#fcda00 56.2%,#eba300 60.3%,#de7f00 63.8%,#d65d00 68.5%,#c43700 77.4%,#bb2703 88.5%,#b82410 93.8%,#ab1856 99.7%)"></i>
<i style="left:89.0px;width:2.3px;background:linear-gradient(#39008f 0.3%,#4500b7 1.5%,#5b00ec 3.8%,#6000f8 4.4%,#7500fe 6.2%,#7b01fc 6.8%,#8807d5 8.5%,#8f0ac0 9.1%,#a51473 10.9%,#b31f2f 12.6%,#b6221c 13.2%,#b8240f 13.8%,#bd2900 16.8%,#c94200 25.0%,#d96400 32.6%,#e49100 38.5%,#f2b300 41.5%,#fcda00 43.8%,#fee800 45.6%,#fff200 49.7%,#fee700 54.4%,#fcdb00 56.2%,#eca400 60.3%,#de8000 63.8%,#d75d00 68.5%,#c33600 77.9%,#bb2702 88.5%,#b82410 93.8%,#ac1953 99.7%)"></i>
<i style="left:91.0px;width:2.3px;background:linear-gradient(#4000a4 0.3%,#4b00c7 1.5%,#6000f7 3.8%,#7a00fe 6.2%,#8707d8 7.9%,#8d09c6 8.5%,#a9175f 10.9%,#b52120 12.6%,#b82410 13.2%,#bc2800 16.2%,#c84000 24.4%,#d96400 32.6%,#e39000 38.5%,#f4bb00 42.1%,#fcd800 43.8%,#fee700 45.6%,#fff200 49.7%,#fee700 54.4%,#fcdb00 56.2%,#e99f00 60.9%,#de7c00 64.4%,#d75e00 68.5%,#c33600 77.9%,#bb2703 89.1%,#b82413 94.4%,#ac1950 99.7%)"></i>
<i style="left:93.0px;width:2.3px;background:linear-gradient(#4600b8 0.3%,#5a00ea 2.6%,#5f00f6 3.2%,#7900ff 5.6%,#8606db 7.4%,#8b08cc 7.9%,#a81665 10.3%,#b52124 12.1%,#b72313 12.6%,#bb2703 15.0%,#c03000 19.1%,#ca4500 25.6%,#d96700 33.2%,#e38e00 38.5%,#f3b800 42.1%,#fddd00 44.4%,#feed00 47.4%,#fff000 50.9%,#fde000 55.6%,#f9cd00 57.4%,#eca600 60.3%,#df8200 63.8%,#d75e00 68.5%,#c33600 77.9%,#bb2702 89.1%,#b82411 94.4%,#ad1a4d 99.7%)"></i>
<i style="left:95.0px;width:2.3px;background:linear-gradient(#4b00c6 0.3%,#5e00f4 2.6%,#7100fd 4.4%,#7800fe 5.0%,#7d01f8 5.6%,#8908d2 7.4%,#a6156c 9.7%,#b4202a 11.5%,#b72319 12.1%,#b8240e 12.6%,#bc2800 15.6%,#c73e00 23.8%,#d96700 33.2%,#e28d00 38.5%,#f2b500 42.1%,#fcdb00 44.4%,#fee900 46.8%,#fff000 50.3%,#fde400 55.0%,#fbd600 56.8%,#eda700 60.3%,#df8200 63.8%,#d75e00 68.5%,#c33700 77.9%,#bc2802 89.1%,#b82410 94.4%,#ae1a4b 99.7%)"></i>
<i style="left:97.0px;width:2.3px;background:linear-gradient(#4f00d1 0.3%,#5d00f2 2.1%,#6300f9 2.6%,#7600fe 4.4%,#7b01fb 5.0%,#8807d6 6.8%,#8e0ac2 7.4%,#aa175d 9.7%,#b5211f 11.5%,#b82410 12.1%,#bc2900 15.6%,#c73e00 23.8%,#d96700 33.2%,#e28c00 38.5%,#f2b300 42.1%,#fcd900 44.4%,#fee800 46.8%,#ffef00 50.3%,#fde400 55.0%,#fcd700 56.8%,#eaa100 60.9%,#de7e00 64.4%,#d65c00 69.1%,#c33700 77.9%,#bb2703 89.7%,#b82413 95.0%,#ae1b48 99.7%)"></i>
<i style="left:99.0px;width:2.3px;background:linear-gradient(#5300da 0.3%,#6200f8 2.1%,#7a00fe 4.4%,#8706da 6.2%,#8c09cb 6.8%,#a81666 9.1%,#b42027 10.9%,#b72316 11.5%,#b9250b 12.6%,#bd2900 15.6%,#c73e00 23.8%,#d96700 33.2%,#e39000 39.1%,#f4b900 42.6%,#fddd00 45.0%,#feed00 48.5%,#feec00 52.1%,#fcdc00 56.2%,#e59500 62.1%,#dc7500 65.6%,#d65c00 69.1%,#c33700 77.9%,#bb2702 89.7%,#b82410 95.0%,#af1b45 99.7%)"></i>
<i style="left:101.0px;width:2.3px;background:linear-gradient(#5700e3 0.3%,#6000f8 1.5%,#7900ff 3.8%,#8506df 5.6%,#8908d2 6.2%,#a61471 8.5%,#b31f30 10.3%,#b82410 11.5%,#bc2800 15.0%,#c73e00 23.8%,#d96600 33.2%,#e38f00 39.1%,#f3b700 42.6%,#fcdb00 45.0%,#feea00 47.9%,#feed00 51.5%,#fde000 55.6%,#fad000 57.4%,#eba200 60.9%,#de7f00 64.4%,#d65c00 69.1%,#c33700 77.9%,#bc2802 89.7%,#b8240f 95.0%,#af1c43 99.7%)"></i>
<i style="left:103.0px;width:2.3px;background:linear-gradient(#5b00ec 0.3%,#5f00f7 0.9%,#7700fe 3.2%,#7c01f9 3.8%,#8807d7 5.6%,#8e09c5 6.2%,#a81664 8.5%,#b42027 10.3%,#b72317 10.9%,#b8240e 11.5%,#bc2900 15.0%,#c73e00 23.8%,#d96600 33.2%,#e28e00 39.1%,#f2b400 42.6%,#fcd900 45.0%,#fee600 47.4%,#feed00 50.9%,#fde000 55.6%,#fad000 57.4%,#e89c00 61.5%,#de7f00 64.4%,#d65c00 69.1%,#c33700 77.9%,#bb2703 90.3%,#b82412 95.6%,#b01c40 99.7%)"></i>
<i style="left:105.0px;width:2.3px;background:linear-gradient(#5e00f4 0.3%,#7500fe 2.6%,#7b00fd 3.2%,#8a08cf 5.6%,#a6146f 7.9%,#b31f31 9.7%,#b82411 10.9%,#bc2800 14.4%,#c63b00 23.2%,#d96600 33.2%,#e28c00 39.1%,#f1b100 42.6%,#fcdc00 45.6%,#feeb00 49.1%,#fee900 52.6%,#fcdc00 56.2%,#f5c100 58.5%,#e18900 63.2%,#d65c00 69.1%,#c33700 77.9%,#bb2702 90.3%,#b82410 95.6%,#b01c3e 99.7%)"></i>
<i style="left:107.0px;width:2.3px;background:linear-gradient(#6200f9 0.3%,#7900ff 2.6%,#8907d4 5.0%,#960ca9 6.2%,#ad1a4f 8.5%,#b62219 10.3%,#b8240f 10.9%,#bd2900 15.0%,#c63b00 23.2%,#da6900 33.8%,#e39000 39.7%,#f3b700 43.2%,#fcda00 45.6%,#fee900 49.1%,#fee900 52.6%,#fcdc00 56.2%,#f6c100 58.5%,#df8500 63.8%,#d65c00 69.1%,#c33700 77.9%,#bb2702 90.3%,#b82410 95.6%,#b11d3b 99.7%)"></i>
<i style="left:109.0px;width:2.3px;background:linear-gradient(#6600fa 0.3%,#7700fe 2.1%,#7c01fa 2.6%,#8b08cc 5.0%,#a61470 7.4%,#b21e34 9.1%,#b72315 10.3%,#b9250b 11.5%,#bd2900 15.0%,#c63b00 23.2%,#da6900 33.8%,#e38f00 39.7%,#f2b400 43.2%,#fcd700 45.6%,#fee700 48.5%,#fee900 52.1%,#fcdc00 56.2%,#f6c200 58.5%,#df8500 63.8%,#d65c00 69.1%,#c43800 77.4%,#bc2802 90.3%,#b82412 96.2%,#b11d39 99.7%)"></i>
<i style="left:111.0px;width:2.3px;background:linear-gradient(#6900fb 0.3%,#7a00fe 2.1%,#8907d4 4.4%,#9d0f94 6.2%,#ac1953 7.9%,#b6221e 9.7%,#b82411 10.3%,#bc2900 14.4%,#c63b00 23.2%,#da6800 33.8%,#e28d00 39.7%,#f1b100 43.2%,#fcdb00 46.2%,#fee900 50.3%,#fde300 54.4%,#fcd800 56.8%,#e49100 62.6%,#d75f00 68.5%,#c43800 77.4%,#bb2703 90.9%,#b82411 96.2%,#b21e37 99.7%)"></i>
<i style="left:113.0px;width:2.3px;background:linear-gradient(#6c00fb 0.3%,#7800fe 1.5%,#7c01f9 2.1%,#8b08cd 4.4%,#a51375 6.8%,#b42029 9.1%,#b8240f 10.3%,#bc2900 14.4%,#c63b00 23.2%,#da6800 33.8%,#e28c00 39.7%,#f3b600 43.8%,#fcd900 46.2%,#fee700 49.7%,#fde600 53.2%,#fcd800 56.8%,#e18b00 63.2%,#d75f00 68.5%,#c43800 77.4%,#bb2703 90.9%,#b82410 96.2%,#b21e35 99.7%)"></i>
<i style="left:115.0px;width:2.3px;background:linear-gradient(#6f00fc 0.3%,#7a00ff 1.5%,#8807d6 3.8%,#8d09c5 4.4%,#a6146f 6.8%,#b52125 9.1%,#b72317 9.7%,#b8240f 10.3%,#bc2900 14.4%,#c63b00 23.2%,#d96700 33.8%,#e38f00 40.3%,#f2b300 43.8%,#fbd600 46.2%,#fde300 48.5%,#fee700 52.1%,#fcdb00 56.2%,#f6c200 58.5%,#df8500 63.8%,#d75f00 68.5%,#c43700 77.4%,#bb2702 90.9%,#b72313 96.8%,#b21e33 99.7%)"></i>
<i style="left:117.0px;width:2.3px;background:linear-gradient(#7100fd 0.3%,#7b01fb 1.5%,#8908d2 3.8%,#a7156a 6.8%,#b52122 9.1%,#b72315 9.7%,#b9250b 10.9%,#bc2900 14.4%,#c63b00 23.2%,#d96700 33.8%,#e28e00 40.3%,#f3b800 44.4%,#fcd900 46.8%,#fee700 50.9%,#fddd00 55.6%,#fad100 57.4%,#e18b00 63.2%,#d75e00 68.5%,#c43700 77.4%,#bb2702 90.9%,#b82412 96.8%,#b31f31 99.7%)"></i>
<i style="left:119.0px;width:2.3px;background:linear-gradient(#7300fd 0.3%,#7800ff 0.9%,#7f03ef 2.1%,#8a08cf 3.8%,#a81666 6.8%,#b52120 9.1%,#b72313 9.7%,#bb2704 12.6%,#bd2b00 15.6%,#c63b00 23.2%,#da6900 34.4%,#e28c00 40.3%,#f2b500 44.4%,#fcd700 46.8%,#fde500 50.3%,#fde100 54.4%,#fcd700 56.8%,#df8500 63.8%,#d75e00 68.5%,#c43700 77.4%,#bc2802 90.9%,#b82410 96.8%,#b31f2f 99.7%)"></i>
<i style="left:121.0px;width:4.3px;background:linear-gradient(#7500fe 0.3%,#7a00fe 0.9%,#8807d7 3.2%,#8c09c9 3.8%,#a41376 6.2%,#b31f2d 8.5%,#b82412 9.7%,#bc2800 13.8%,#c63b00 23.2%,#da6800 34.4%,#e28e00 40.9%,#f0b000 44.4%,#fcd900 47.4%,#fde400 50.9%,#fdde00 55.0%,#fbd600 56.8%,#df8500 63.8%,#d75d00 68.5%,#c43800 76.8%,#bb2703 91.5%,#b8240f 96.8%,#b31f2c 99.7%)"></i>
<i style="left:125.0px;width:4.3px;background:linear-gradient(#7700fe 0.3%,#7b01fb 0.9%,#8907d4 3.2%,#a11186 5.6%,#b11d3b 7.9%,#b82411 9.7%,#bd2900 14.4%,#c53b00 23.2%,#da6a00 35.0%,#e38f00 41.5%,#f1b100 45.0%,#fcd900 47.9%,#fde300 51.5%,#fcd900 56.2%,#f6c100 58.5%,#df8300 63.8%,#d65c00 68.5%,#c43900 76.2%,#bb2702 91.5%,#b82411 97.4%,#b42029 99.7%)"></i>
<i style="left:129.0px;width:4.3px;background:linear-gradient(#7900ff 0.3%,#8a08d1 3.2%,#aa185c 6.8%,#b6221c 9.1%,#b82410 9.7%,#bc2900 14.4%,#c53b00 23.2%,#d75e00 32.6%,#e18a00 41.5%,#f1b100 45.6%,#fbd300 47.9%,#fde000 50.9%,#fddd00 54.4%,#fbd300 56.8%,#df8100 63.8%,#d65d00 67.9%,#c43900 75.6%,#bc2802 91.5%,#b82410 97.4%,#b42026 99.7%)"></i>
<i style="left:133.0px;width:4.3px;background:linear-gradient(#7a00fe 0.3%,#8b08cd 3.2%,#a7156c 6.2%,#b42028 8.5%,#b82410 9.7%,#bc2900 14.4%,#c53a00 23.2%,#d75e00 32.6%,#e18a00 42.1%,#f1b100 46.2%,#fbd400 48.5%,#fddf00 51.5%,#fcd800 55.6%,#f9cb00 57.4%,#de7f00 63.8%,#d75e00 67.4%,#c53900 75.0%,#bc2801 91.5%,#b82411 97.9%,#b52123 99.7%)"></i>
<i style="left:137.0px;width:4.3px;background:linear-gradient(#7b01fc 0.3%,#8807d7 2.6%,#8c09ca 3.2%,#a71569 6.2%,#b42027 8.5%,#b82410 9.7%,#bc2900 14.4%,#c63c00 23.8%,#d65d00 32.6%,#e18a00 42.6%,#f1b100 46.8%,#fbd400 49.1%,#fdde00 52.1%,#fbd400 56.2%,#f4bb00 58.5%,#df8200 63.2%,#d65c00 67.4%,#c43800 75.0%,#bb2702 92.1%,#b82410 97.9%,#b52120 99.7%)"></i>
<i style="left:141.0px;width:4.3px;background:linear-gradient(#7c01fa 0.3%,#8807d5 2.6%,#930bb3 3.8%,#ab1856 6.8%,#b6221a 9.1%,#b82410 9.7%,#bc2900 14.4%,#c63c00 23.8%,#d65c00 32.6%,#e08700 42.6%,#eeaa00 46.8%,#f9ce00 49.1%,#fcdb00 51.5%,#fcd600 55.0%,#f9cd00 56.8%,#dd7a00 63.8%,#d75e00 66.8%,#c43900 74.4%,#bb2702 92.1%,#b82412 98.5%,#b6221d 99.7%)"></i>
<i style="left:145.0px;width:4.3px;background:linear-gradient(#7c01f8 0.3%,#8907d3 2.6%,#a81666 6.2%,#b42026 8.5%,#b82410 9.7%,#bc2900 14.4%,#c63b00 23.8%,#d55a00 32.1%,#db7100 38.5%,#e18b00 43.8%,#eeab00 47.4%,#f9cf00 49.7%,#fcda00 52.1%,#fad200 55.6%,#f6c400 57.4%,#de7e00 63.2%,#d65c00 66.8%,#c53900 73.8%,#bc2802 92.1%,#b82410 98.5%,#b6221b 99.7%)"></i>
<i style="left:149.0px;width:4.3px;background:linear-gradient(#7d02f6 0.3%,#8a08d1 2.6%,#a81664 6.2%,#b42025 8.5%,#b8240f 9.7%,#bc2900 14.4%,#c53b00 23.8%,#d55900 32.1%,#dc7200 39.1%,#e18b00 44.4%,#efac00 47.9%,#f9cf00 50.3%,#fcd700 52.6%,#f9cc00 56.2%,#e38f00 61.5%,#d75e00 66.2%,#c43900 73.8%,#bb2703 92.6%,#b82413 99.1%,#b72319 99.7%)"></i>
<i style="left:153.0px;width:4.3px;background:linear-gradient(#7e02f4 0.3%,#8a08cf 2.6%,#a91762 6.2%,#b52125 8.5%,#b8240f 9.7%,#bc2900 14.4%,#c53a00 23.8%,#d45900 32.1%,#db7000 39.1%,#e18b00 45.0%,#efac00 48.5%,#f8ca00 50.3%,#fbd400 52.1%,#f9cc00 55.6%,#f3b600 57.9%,#de8000 62.6%,#d75d00 66.2%,#c43800 73.8%,#bb2702 92.6%,#b82411 99.1%,#b72317 99.7%)"></i>
<i style="left:157.0px;width:4.3px;background:linear-gradient(#7f02f1 0.3%,#8c09cb 2.6%,#a91760 6.2%,#b52124 8.5%,#b8240f 9.7%,#bc2800 14.4%,#c63b00 24.4%,#d45800 32.1%,#db7000 39.7%,#e18b00 45.6%,#efad00 49.1%,#f8c900 50.9%,#fad100 52.6%,#f7c500 56.2%,#de7d00 62.6%,#d65c00 66.2%,#c53900 73.2%,#bb2702 92.6%,#b82410 99.1%,#b72316 99.7%)"></i>
<i style="left:161.0px;width:4.3px;background:linear-gradient(#8003ef 0.3%,#8907d4 2.1%,#930bb4 3.2%,#ad1a4e 6.8%,#b72318 9.1%,#b8240f 9.7%,#bd2900 15.0%,#c53a00 24.4%,#d45900 32.6%,#dc7300 40.9%,#e18c00 46.2%,#efae00 49.7%,#f6c200 50.9%,#f9cc00 52.1%,#f8ca00 54.4%,#f6c100 56.2%,#dd7a00 62.6%,#d75e00 65.6%,#c43900 73.2%,#bb2702 92.6%,#b82410 99.1%,#b72315 99.7%)"></i>
<i style="left:165.0px;width:4.3px;background:linear-gradient(#8103ec 0.3%,#8908d2 2.1%,#a7156b 5.6%,#b52122 8.5%,#b8240f 9.7%,#bc2900 15.0%,#c63b00 25.0%,#d45800 32.6%,#db6f00 40.3%,#e28c00 46.8%,#f0ae00 50.3%,#f6c100 51.5%,#f8c900 53.2%,#f6c100 55.6%,#de7d00 62.1%,#d65d00 65.6%,#c43800 73.2%,#bd2a00 90.3%,#b82410 99.1%,#b72314 99.7%)"></i>
<i style="left:169.0px;width:4.3px;background:linear-gradient(#8204e9 0.3%,#8b08ce 2.1%,#a71568 5.6%,#b52122 8.5%,#b8240f 9.7%,#bc2900 15.0%,#c53a00 25.0%,#d35700 32.6%,#db6f00 40.9%,#e28c00 47.4%,#f0ae00 50.9%,#f5bf00 52.1%,#f6c300 53.8%,#f4bc00 55.6%,#de7e00 61.5%,#d75e00 65.0%,#c43800 73.2%,#bd2a00 89.7%,#ba2608 95.6%,#b82410 99.1%,#b72315 99.7%)"></i>
<i style="left:173.0px;width:4.3px;background:linear-gradient(#8304e6 0.3%,#8c09c9 2.1%,#a81666 5.6%,#b52121 8.5%,#b8240f 9.7%,#bc2900 15.0%,#c53b00 25.6%,#d45700 33.2%,#dc7200 42.1%,#e28c00 47.9%,#efae00 51.5%,#f4bc00 52.6%,#f4bc00 54.4%,#eeaa00 56.8%,#de8000 60.9%,#d65d00 65.0%,#c43900 72.6%,#bd2a00 90.3%,#b82411 99.1%,#b72316 99.7%)"></i>
<i style="left:177.0px;width:4.3px;background:linear-gradient(#8405e3 0.3%,#8908d2 1.5%,#a91663 5.6%,#b52120 8.5%,#b8240f 9.7%,#bd2900 15.6%,#c53900 25.6%,#d45800 33.8%,#db6f00 41.5%,#e28e00 48.5%,#efac00 52.1%,#f3b700 53.2%,#f1b300 55.0%,#de7c00 60.9%,#d75e00 64.4%,#c43800 72.6%,#be2b00 89.1%,#bb2705 93.8%,#b82410 98.5%,#b6221a 99.7%)"></i>
<i style="left:181.0px;width:4.3px;background:linear-gradient(#8505e0 0.3%,#8a08cf 1.5%,#a6146f 5.0%,#b4202a 7.9%,#b72315 9.1%,#b9250d 10.3%,#bc2900 15.6%,#c53a00 26.2%,#d55900 34.4%,#dd7800 42.6%,#e49200 48.5%,#f0af00 53.2%,#eeab00 55.0%,#dd7800 60.9%,#d65d00 64.4%,#c43800 72.6%,#bd2b00 89.1%,#bb2706 93.8%,#b72313 98.5%,#b5211f 99.7%)"></i>
<i style="left:185.0px;width:4.3px;background:linear-gradient(#8606dd 0.3%,#8c09c9 1.5%,#a7156b 5.0%,#b42028 7.9%,#b72314 9.1%,#ba2609 11.5%,#bd2900 16.2%,#c43900 26.2%,#d96700 37.9%,#eaa000 50.3%,#eda700 53.8%,#e49200 57.4%,#d75e00 63.8%,#c43700 72.6%,#be2c00 88.5%,#bb2704 92.6%,#b72313 97.9%,#b42025 99.7%)"></i>
<i style="left:189.0px;width:4.3px;background:linear-gradient(#8706da 0.3%,#8908d2 0.9%,#a81667 5.0%,#b42026 7.9%,#b82413 9.1%,#bc2801 14.4%,#c43800 26.2%,#d96600 37.9%,#e59500 47.9%,#e99e00 52.6%,#e69600 55.6%,#d65d00 63.8%,#c43700 72.6%,#be2c00 87.9%,#bb2704 92.1%,#b72314 97.4%,#b31f2d 99.7%)"></i>
<i style="left:193.0px;width:4.3px;background:linear-gradient(#8807d7 0.3%,#8b08ce 0.9%,#a81663 5.0%,#b52124 7.9%,#b82412 9.1%,#bc2800 15.0%,#c43900 26.8%,#d65c00 36.2%,#e08800 46.8%,#e59400 52.1%,#e28c00 55.6%,#da6900 61.5%,#d45900 64.4%,#c43800 72.1%,#be2c00 87.9%,#bb2703 91.5%,#b8240f 96.2%,#b21e34 99.7%)"></i>
<i style="left:197.0px;width:4.3px;background:linear-gradient(#8907d4 0.3%,#960ca9 2.1%,#ac1952 5.6%,#b52122 7.9%,#b82410 9.1%,#bc2800 15.6%,#c53a00 27.4%,#d45900 35.6%,#db6e00 40.9%,#e08600 47.9%,#e28c00 53.2%,#de7c00 57.9%,#d55a00 63.8%,#c43700 72.1%,#be2c00 87.4%,#bb2704 91.5%,#b8240f 95.6%,#b11d3c 99.7%)"></i>
<i style="left:201.0px;width:4.3px;background:linear-gradient(#8a08d1 0.3%,#a71569 4.4%,#b52120 7.9%,#b82410 9.1%,#bd2900 16.2%,#c43900 27.4%,#d45700 35.6%,#da6b00 40.9%,#df8400 48.5%,#e08700 53.8%,#dc7500 58.5%,#d65b00 63.2%,#c43700 72.1%,#be2c00 87.4%,#bb2704 90.9%,#b8240f 95.0%,#af1b44 99.7%)"></i>
<i style="left:205.0px;width:4.3px;background:linear-gradient(#8b09cb 0.3%,#a81665 4.4%,#b42028 7.4%,#b8240f 9.1%,#bd2900 16.2%,#c53a00 27.9%,#d25500 35.0%,#da6900 40.9%,#df8100 48.5%,#df8400 53.8%,#dc7300 58.5%,#d55a00 63.2%,#c33700 72.1%,#be2d00 86.8%,#bb2703 90.3%,#b8240f 94.4%,#ae1a4b 99.7%)"></i>
<i style="left:209.0px;width:4.3px;background:linear-gradient(#8d09c5 0.3%,#a6156e 3.8%,#b42025 7.4%,#b72314 8.5%,#ba2607 12.1%,#bd2a00 16.8%,#c43900 27.9%,#d25400 35.0%,#da6900 41.5%,#de7f00 48.5%,#df8200 53.8%,#db7100 58.5%,#d55900 63.2%,#c43700 71.5%,#be2d00 86.8%,#bc2802 89.7%,#b72314 94.4%,#ac1954 99.7%)"></i>
<i style="left:213.0px;width:4.3px;background:linear-gradient(#8f0abf 0.3%,#aa175c 4.4%,#b52123 7.4%,#b82412 8.5%,#bc2800 15.0%,#c43800 27.9%,#d35500 35.6%,#da6a00 42.1%,#de7e00 49.1%,#de7f00 54.4%,#da6c00 59.1%,#d35600 63.8%,#c43700 71.5%,#be2c00 86.8%,#bb2703 89.7%,#b82413 93.8%,#aa175d 99.7%)"></i>
<i style="left:217.0px;width:4.3px;background:linear-gradient(#910bb8 0.3%,#ab1858 4.4%,#b52121 7.4%,#b82410 8.5%,#bc2900 16.2%,#c53a00 28.5%,#d25400 35.6%,#dd7b00 48.5%,#de7e00 53.8%,#db6d00 58.5%,#d55900 62.6%,#c33700 71.5%,#be2d00 86.2%,#bc2802 89.1%,#b82412 93.2%,#a81667 99.7%)"></i>
<i style="left:221.0px;width:4.3px;background:linear-gradient(#930bb2 0.3%,#a91760 3.8%,#b6221e 7.4%,#b82410 8.5%,#bc2900 16.2%,#c43900 28.5%,#d25400 35.6%,#da6b00 43.2%,#de7c00 50.3%,#dd7a00 55.0%,#d05000 65.0%,#c43700 70.9%,#be2d00 86.2%,#bb2703 89.1%,#b82410 92.6%,#a7156a 99.1%,#a51472 99.7%)"></i>
<i style="left:225.0px;width:4.3px;background:linear-gradient(#950cac 0.3%,#ad1950 4.4%,#b6221c 7.4%,#b8240f 8.5%,#bc2900 16.2%,#c43800 28.5%,#d25400 36.2%,#dd7900 49.1%,#dd7900 54.4%,#d96600 59.1%,#c43700 70.9%,#be2c00 86.2%,#bb2704 89.1%,#b8240f 92.1%,#a3127d 99.7%)"></i>
<i style="left:229.0px;width:4.3px;background:linear-gradient(#970da6 0.3%,#ad1a4c 4.4%,#b6221a 7.4%,#b8240f 8.5%,#bc2900 16.2%,#c43900 29.1%,#d25300 36.2%,#dd7700 49.1%,#dd7800 54.4%,#d96500 59.1%,#c43700 70.3%,#be2c00 86.2%,#bb2702 88.5%,#b72313 92.1%,#a21181 99.1%,#a01089 99.7%)"></i>
<i style="left:233.0px;width:4.3px;background:linear-gradient(#990da0 0.3%,#ae1b49 4.4%,#b72318 7.4%,#b8240e 8.5%,#bc2900 16.2%,#c43800 29.1%,#d25400 36.8%,#dd7700 49.7%,#dd7700 54.4%,#d96300 59.1%,#c43700 70.3%,#be2c00 86.2%,#bb2703 88.5%,#b82410 91.5%,#a0108b 99.1%,#9d0f93 99.7%)"></i>
<i style="left:237.0px;width:4.7px;background:linear-gradient(#9a0e9d 0.3%,#ac1951 3.8%,#b5211f 6.8%,#b82410 7.9%,#bc2900 16.2%,#c43900 29.7%,#d15200 36.2%,#dc7600 49.7%,#dc7600 54.4%,#ce4d00 65.0%,#c43700 70.3%,#be2c00 86.2%,#bb2703 88.5%,#b82412 91.5%,#9e0f92 99.1%,#9b0e9a 99.7%)"></i>
</div>
<div class="l c" style="left:160.7px;top:244px">z</div>
<div class="l c" style="left:42.2px;top:253px">8</div>
<div class="l c" style="left:58.8px;top:253px">4</div>
<div class="l c" style="left:91.0px;top:253px">2</div>
<div class="l c" style="left:137.8px;top:253px">1</div>
<div class="l c" style="left:187.0px;top:253px">0.5</div>
<div class="l c" style="left:234.5px;top:253px">0.2</div>
<div class="l c" style="left:277.0px;top:253px">0</div>
<div class="l c" style="left:48.0px;top:442.9px">1</div>
<div class="l c" style="left:65.8px;top:442.9px">2</div>
<div class="l c" style="left:101.6px;top:442.9px">4</div>
<div class="l c" style="left:137.4px;top:442.9px">6</div>
<div class="l c" style="left:173.2px;top:442.9px">8</div>
<div class="l c" style="left:209.0px;top:442.9px">10</div>
<div class="l c" style="left:244.8px;top:442.9px">12</div>
<div class="l c" style="left:278.6px;top:442.9px">13.8</div>
<div class="l c" style="left:159.7px;top:452.3px;font-size:10px">Time Since Big Bang [Gyr]</div>
<div class="l r" style="left:32.8px;top:433.8px">10<sup>9</sup></div>
<div class="l r" style="left:32.8px;top:405.7px">10<sup>10</sup></div>
<div class="l r" style="left:32.8px;top:377.5px">10<sup>11</sup></div>
<div class="l r" style="left:32.8px;top:349.4px">10<sup>12</sup></div>
<div class="l r" style="left:32.8px;top:321.2px">10<sup>13</sup></div>
<div class="l r" style="left:32.8px;top:293.1px">10<sup>14</sup></div>
<div class="l r" style="left:32.8px;top:264.9px">10<sup>15</sup></div>
<div class="l" style="left:5.5px;top:351.8px;font-size:10px;transform:translate(-50%,-50%) rotate(-90deg)">Halo Mass [M<sub style="font-size:7.9px">&#8857;</sub>]</div>
<div class="l w k" style="left:44.5px;top:273.3px;font-size:10px">log<sub>10</sub>(sGRB Rate Mpc<sup>-3</sup> dex<sup>-1</sup>)</div>
<div class="l" style="left:65.3px;top:285.2px;width:48.7px;height:11.3px;background:linear-gradient(90deg,#000000 0.0%,#220018 2.0%,#2a0046 5.0%,#300070 7.5%,#4800c0 15.0%,#6000f8 23.0%,#7a00ff 30.0%,#8a08d0 38.0%,#a0108a 44.0%,#b01c40 50.0%,#b82410 53.5%,#bc2800 58.0%,#c43800 66.0%,#cc4800 72.5%,#d86000 80.0%,#e08800 86.7%,#f2b400 92.0%,#fcd800 96.0%,#fff400 100.0%)"></div>
<div class="l c w k" style="left:66.0px;top:297.1px;font-size:10.5px">-5.0</div>
<div class="l c w k" style="left:90.3px;top:297.1px;font-size:10.5px">-2.7</div>
<div class="l c w k" style="left:114.7px;top:297.1px;font-size:10.5px">-0.5</div>
<div class="l k" style="left:133.0px;top:404.5px;font-size:10px;color:#ffeee2">P(&#916;t) = (&#916;t)<sup>-1</sup></div>
<div class="l k" style="left:133.0px;top:415.5px;font-size:10px;color:#ffeee2">Short GRB Probability Density</div>
<div class="p" style="left:351.0px;top:267.8px">
<i style="left:0.0px;width:1.3px;background:linear-gradient(#fcd800 0.3%,#f3b800 27.4%,#df8200 46.8%,#d96400 57.4%,#bc2900 70.9%,#b9250d 72.6%,#b72318 73.2%,#990da1 77.9%,#8a08d1 79.7%,#7a00fe 83.2%,#5f00f6 87.9%,#4900c2 92.6%,#330079 96.2%,#2f0069 96.8%,#220018 99.1%,#0b0008 99.7%)"></i>
<i style="left:1.0px;width:1.3px;background:linear-gradient(#fcd800 0.3%,#f3b800 27.4%,#df8300 45.6%,#d96600 56.8%,#c94200 65.0%,#bc2800 70.9%,#b9250e 72.6%,#b6221a 73.2%,#9e0f91 77.4%,#8a08d1 79.7%,#7a00fe 83.2%,#5f00f6 87.9%,#4900c2 92.6%,#330079 96.2%,#2f0069 96.8%,#220018 99.1%,#0b0008 99.7%)"></i>
<i style="left:2.0px;width:1.3px;background:linear-gradient(#fcd800 0.3%,#f3b800 27.4%,#e49100 39.7%,#d96500 56.8%,#cd4900 63.2%,#bc2800 70.9%,#b8240f 72.6%,#b31f2f 73.8%,#980da4 77.9%,#8908d2 79.7%,#7a00fe 83.2%,#5f00f7 87.9%,#4900c2 92.6%,#330079 96.2%,#2f0069 96.8%,#220018 99.1%,#0b0008 99.7%)"></i>
<i style="left:3.0px;width:1.3px;background:linear-gradient(#fcd800 0.3%,#f3b800 27.4%,#e69700 37.9%,#df8400 43.8%,#d96500 56.2%,#ce4c00 62.6%,#bc2801 70.9%,#b82410 72.6%,#a41375 76.2%,#8d09c6 79.1%,#8908d3 79.7%,#7a00fe 83.2%,#5f00f7 87.9%,#4900c2 92.6%,#330079 96.2%,#2f0069 96.8%,#220018 99.1%,#0b0008 99.7%)"></i>
<i style="left:4.0px;width:1.3px;background:linear-gradient(#fcd800 0.3%,#f3b800 27.4%,#e89a00 36.8%,#df8300 43.2%,#d96500 55.6%,#cf4d00 62.1%,#bc2900 70.3%,#b9250d 72.1%,#b72315 72.6%,#a71569 75.6%,#8d09c8 79.1%,#8606db 80.3%,#7a00fe 83.2%,#6000f7 87.9%,#4900c2 92.6%,#330079 96.2%,#2f0069 96.8%,#220018 99.1%,#0b0008 99.7%)"></i>
<i style="left:5.0px;width:1.3px;background:linear-gradient(#fcd800 0.3%,#f3b900 26.8%,#e89c00 36.2%,#df8400 42.6%,#d96500 55.0%,#cf4e00 61.5%,#bc2801 70.3%,#b8240f 72.1%,#b31f2e 73.2%,#950cac 77.9%,#8c09ca 79.1%,#8104ea 81.5%,#7a00fe 83.2%,#6000f7 87.9%,#4900c2 92.6%,#330079 96.2%,#2f006a 96.8%,#220018 99.1%,#0b0008 99.7%)"></i>
<i style="left:6.0px;width:1.3px;background:linear-gradient(#fcd800 0.3%,#f3b800 26.8%,#e89b00 36.2%,#df8300 42.6%,#d96400 54.4%,#ce4c00 61.5%,#bc2800 69.7%,#b9250d 71.5%,#b72315 72.1%,#a81666 75.0%,#8b08cd 79.1%,#7a00fe 83.2%,#6000f8 87.9%,#4900c3 92.6%,#33007a 96.2%,#2f006b 96.8%,#220018 99.1%,#0b0008 99.7%)"></i>
<i style="left:7.0px;width:1.3px;background:linear-gradient(#fcd800 0.3%,#f3b900 25.6%,#e89d00 35.6%,#df8300 42.1%,#d96400 53.8%,#ce4c00 60.9%,#bb2703 69.7%,#b82410 71.5%,#a9175f 74.4%,#8a08d0 79.1%,#7a00fe 83.2%,#6000f8 87.9%,#4a00c4 92.6%,#33007b 96.2%,#2f006c 96.8%,#220019 99.1%,#0c0008 99.7%)"></i>
<i style="left:8.0px;width:1.3px;background:linear-gradient(#fcd800 0.3%,#f4ba00 24.4%,#e99e00 35.0%,#df8100 42.6%,#d96300 53.2%,#cd4a00 60.9%,#bc2802 69.1%,#b8240f 70.9%,#b31f2b 72.1%,#9e0f91 76.2%,#8908d2 79.1%,#7a00fe 83.2%,#6100f8 87.9%,#4d00cc 92.1%,#4300af 93.8%,#30006e 96.8%,#220019 99.1%,#0c0008 99.7%)"></i>
<i style="left:9.0px;width:1.3px;background:linear-gradient(#fcd800 0.3%,#f4bc00 22.6%,#e99d00 35.0%,#de8000 42.6%,#d96400 52.6%,#cc4700 60.9%,#bc2801 68.5%,#b9250d 70.3%,#b72316 70.9%,#a91761 73.8%,#8c09ca 78.5%,#8003ec 81.5%,#7a00fe 83.2%,#6100f8 87.9%,#4e00cd 92.1%,#4700bd 93.2%,#30006f 96.8%,#220019 99.1%,#0c0008 99.7%)"></i>
<i style="left:10.0px;width:1.3px;background:linear-gradient(#fcd800 0.3%,#f5be00 21.5%,#e89c00 35.0%,#de8000 42.6%,#d96400 52.1%,#c94300 61.5%,#bc2800 67.9%,#b82410 70.3%,#a81667 73.8%,#8b08cd 78.5%,#7a00fe 83.2%,#5f00f5 88.5%,#4b00c7 92.6%,#4400b3 93.8%,#300071 96.8%,#22001a 99.1%,#0c0009 99.7%)"></i>
<i style="left:11.0px;width:1.3px;background:linear-gradient(#fcd800 0.3%,#f5be00 20.9%,#e89b00 35.0%,#de7f00 42.6%,#d86200 52.1%,#c94100 61.5%,#bb2703 67.9%,#b8240e 69.7%,#b72318 70.3%,#a6156c 73.8%,#8a08cf 78.5%,#7a00fe 83.2%,#5f00f6 88.5%,#4800c0 93.2%,#310072 96.8%,#22001a 99.1%,#0c0009 99.7%)"></i>
<i style="left:12.0px;width:1.3px;background:linear-gradient(#fcd800 0.3%,#f5bf00 20.3%,#e79a00 35.0%,#de7d00 43.2%,#d15300 56.8%,#bc2800 67.4%,#b82410 69.7%,#a61470 73.8%,#8a08d0 78.5%,#7a00fe 83.2%,#5f00f6 88.5%,#4800c1 93.2%,#310073 96.8%,#23001b 99.1%,#0d0009 99.7%)"></i>
<i style="left:13.0px;width:1.3px;background:linear-gradient(#fcd700 0.3%,#f5c000 19.7%,#e79900 35.0%,#de7c00 43.2%,#d25300 56.2%,#bc2802 67.4%,#b82413 69.7%,#a81665 73.2%,#8a08d1 78.5%,#7a00fe 83.2%,#6000f7 88.5%,#4900c2 93.2%,#310074 96.8%,#23001c 99.1%,#0e000a 99.7%)"></i>
<i style="left:14.0px;width:1.3px;background:linear-gradient(#fcd700 0.3%,#f5c000 19.7%,#e69800 35.0%,#dd7900 43.8%,#d15200 56.2%,#bc2900 66.8%,#b9250e 69.1%,#b72316 69.7%,#a81667 73.2%,#8a08d1 78.5%,#7a00fe 83.2%,#6000f7 88.5%,#4900c2 93.2%,#310075 96.8%,#23001d 99.1%,#0f000b 99.7%)"></i>
<i style="left:15.0px;width:1.3px;background:linear-gradient(#fcd700 0.3%,#f5bf00 19.7%,#e69700 35.0%,#dd7800 43.8%,#d15100 56.2%,#bc2800 66.8%,#b8240e 69.1%,#b42027 70.3%,#9f108e 75.0%,#8908d2 78.5%,#7a00fe 83.2%,#6000f8 88.5%,#4900c3 93.2%,#360084 96.2%,#320076 96.8%,#23001f 99.1%,#11000c 99.7%)"></i>
<i style="left:16.0px;width:1.3px;background:linear-gradient(#fbd600 0.3%,#f5be00 19.7%,#e69600 35.0%,#dc7400 45.0%,#cf4e00 56.8%,#bc2801 66.8%,#b8240f 69.1%,#9f0f8f 75.0%,#8908d2 78.5%,#7a00fe 83.2%,#6000f8 88.5%,#4a00c4 93.2%,#360085 96.2%,#2e0065 97.4%,#240021 99.1%,#13000d 99.7%)"></i>
<i style="left:17.0px;width:1.3px;background:linear-gradient(#fbd500 0.3%,#f5be00 19.7%,#e59500 35.0%,#d96500 49.1%,#c03000 64.4%,#bc2801 66.8%,#b82410 69.1%,#a41377 73.8%,#8908d2 78.5%,#7a00fe 83.2%,#6000f8 88.5%,#4d00cc 92.6%,#4300ae 94.4%,#330078 96.8%,#2f0067 97.4%,#240023 99.1%,#15000f 99.7%)"></i>
<i style="left:18.0px;width:1.3px;background:linear-gradient(#fbd500 0.3%,#f5bd00 19.7%,#e69600 34.4%,#db7000 45.6%,#cc4800 57.9%,#bc2802 66.8%,#b82411 69.1%,#a6156c 73.2%,#8908d2 78.5%,#7a00fe 83.2%,#6000f8 88.5%,#4d00cc 92.6%,#4700bb 93.8%,#33007a 96.8%,#2f0069 97.4%,#240025 99.1%,#180011 99.7%)"></i>
<i style="left:19.0px;width:1.3px;background:linear-gradient(#fbd400 0.3%,#f4bc00 19.7%,#e59500 34.4%,#d65c00 51.5%,#bb2702 66.8%,#b82412 69.1%,#a6156d 73.2%,#8908d2 78.5%,#7a00fe 83.2%,#6000f8 88.5%,#4d00cd 92.6%,#4700bc 93.8%,#33007b 96.8%,#2f006b 97.4%,#250028 99.1%,#1b0013 99.7%)"></i>
<i style="left:20.0px;width:1.3px;background:linear-gradient(#fbd300 0.3%,#f4bc00 19.7%,#e59400 34.4%,#d45800 52.6%,#bc2800 66.2%,#b72314 69.1%,#a6156e 73.2%,#8c09ca 77.9%,#8204e9 80.9%,#7a00fe 83.2%,#6100f8 88.5%,#4e00cd 92.6%,#4700bd 93.8%,#30006d 97.4%,#25002a 99.1%,#1e0015 99.7%)"></i>
<i style="left:21.0px;width:1.3px;background:linear-gradient(#fad200 0.3%,#f4bb00 19.7%,#e59500 33.8%,#d96400 47.9%,#bd2a00 65.6%,#ba2607 67.4%,#b9250e 68.5%,#b72316 69.1%,#a6146f 73.2%,#8c09ca 77.9%,#7e02f4 82.1%,#7a00fe 83.2%,#6100f8 88.5%,#4e00ce 92.6%,#4700be 93.8%,#30006f 97.4%,#200017 99.7%)"></i>
<i style="left:22.0px;width:1.3px;background:linear-gradient(#fad200 0.3%,#f4ba00 19.7%,#e59500 33.8%,#d55a00 51.5%,#bc2800 66.2%,#b8240e 68.5%,#b52125 69.7%,#9d0f93 75.0%,#8c09cb 77.9%,#7a00fe 83.2%,#6100f8 88.5%,#5100d5 92.1%,#4800bf 93.8%,#300071 97.4%,#220019 99.7%)"></i>
<i style="left:23.0px;width:1.3px;background:linear-gradient(#fad100 0.3%,#f4ba00 19.7%,#e69600 33.2%,#d96700 46.8%,#bd2a00 65.6%,#b8240f 68.5%,#b21e33 70.3%,#930bb5 76.8%,#8907d3 78.5%,#7a00fe 83.2%,#6100f8 88.5%,#5100d6 92.1%,#4800c0 93.8%,#310072 97.4%,#23001b 99.7%)"></i>
<i style="left:24.0px;width:1.3px;background:linear-gradient(#fad000 0.3%,#f3b800 20.3%,#e59500 33.2%,#d55a00 50.9%,#bc2801 66.2%,#b8240f 68.5%,#9d0f94 75.0%,#8b08cc 77.9%,#7a00fe 83.2%,#6100f8 88.5%,#5200d6 92.1%,#4800c0 93.8%,#310073 97.4%,#23001d 99.7%)"></i>
<i style="left:25.0px;width:1.3px;background:linear-gradient(#fad000 0.3%,#f3b700 20.3%,#e59400 33.2%,#d65b00 50.3%,#bc2802 66.2%,#b82410 68.5%,#a0108a 74.4%,#8b08cc 77.9%,#7a00fe 83.2%,#5f00f5 89.1%,#4800c1 93.8%,#310075 97.4%,#230020 99.7%)"></i>
<i style="left:26.0px;width:1.3px;background:linear-gradient(#f9cf00 0.3%,#f3b700 20.3%,#e59300 33.2%,#d65c00 49.7%,#bb2702 66.2%,#b82410 68.5%,#a71668 72.6%,#8b08cd 77.9%,#7a00fe 83.2%,#5f00f5 89.1%,#4900c2 93.8%,#320076 97.4%,#240022 99.7%)"></i>
<i style="left:27.0px;width:1.3px;background:linear-gradient(#f9ce00 0.3%,#f3b600 20.3%,#e59500 32.6%,#d65c00 49.7%,#bc2800 65.6%,#b82411 68.5%,#a51474 73.2%,#8b08cd 77.9%,#7a00fe 83.2%,#5f00f6 89.1%,#4900c2 93.8%,#320077 97.4%,#2b004f 98.5%,#240024 99.7%)"></i>
<i style="left:28.0px;width:1.3px;background:linear-gradient(#f9ce00 0.3%,#f2b500 20.3%,#e59400 32.6%,#d65b00 49.7%,#bc2800 65.6%,#b72313 68.5%,#a41375 73.2%,#8b08ce 77.9%,#7a00fe 83.2%,#5f00f6 89.1%,#4900c3 93.8%,#320078 97.4%,#2f0067 97.9%,#240026 99.7%)"></i>
<i style="left:29.0px;width:1.3px;background:linear-gradient(#f9cd00 0.3%,#f2b500 20.3%,#e59300 32.6%,#d65b00 49.7%,#bc2800 65.6%,#b9250e 67.9%,#b72315 68.5%,#a41376 73.2%,#8b08ce 77.9%,#7a00fe 83.2%,#5f00f6 89.1%,#4900c3 93.8%,#370087 96.8%,#2f0069 97.9%,#250028 99.7%)"></i>
<i style="left:30.0px;width:1.3px;background:linear-gradient(#f9cd00 0.3%,#f2b400 20.3%,#e49300 32.6%,#d65c00 49.1%,#bc2801 65.6%,#b8240e 67.9%,#b52123 69.1%,#9f108e 74.4%,#8a08cf 77.9%,#7a00fe 83.2%,#5f00f7 89.1%,#4a00c4 93.8%,#370088 96.8%,#2f006b 97.9%,#250029 99.7%)"></i>
<i style="left:31.0px;width:1.3px;background:linear-gradient(#f9cc00 0.3%,#f2b300 20.3%,#e49200 32.6%,#d65c00 49.1%,#bc2801 65.6%,#b8240f 67.9%,#b21e32 69.7%,#940caf 76.2%,#8a08cf 77.9%,#7a00fe 83.2%,#6000f7 89.1%,#4a00c4 93.8%,#3b0096 96.2%,#2f006c 97.9%,#25002b 99.7%)"></i>
<i style="left:32.0px;width:1.3px;background:linear-gradient(#f9cc00 0.3%,#f1b300 20.3%,#e59300 32.1%,#d65c00 49.1%,#bc2801 65.6%,#b8240f 67.9%,#9e0f90 74.4%,#8a08d0 77.9%,#7a00fe 83.2%,#6000f7 89.1%,#4a00c5 93.8%,#4000a4 95.6%,#30006e 97.9%,#26002d 99.7%)"></i>
<i style="left:33.0px;width:1.3px;background:linear-gradient(#f8cb00 0.3%,#f1b200 20.3%,#e49200 32.1%,#d65b00 49.1%,#bc2802 65.6%,#b82410 67.9%,#a3137a 73.2%,#8a08d0 77.9%,#7a00fe 83.2%,#6000f8 89.1%,#4a00c6 93.8%,#4000a5 95.6%,#300070 97.9%,#26002f 99.7%)"></i>
<i style="left:34.0px;width:1.3px;background:linear-gradient(#f8ca00 0.3%,#f1b100 20.3%,#e49200 32.1%,#d65c00 48.5%,#bd2b00 64.4%,#ba2609 66.8%,#b82410 67.9%,#a81665 72.1%,#8a08d0 77.9%,#7a00fe 83.2%,#6000f8 89.1%,#4e00cd 93.2%,#4700be 94.4%,#300071 97.9%,#260030 99.7%)"></i>
<i style="left:35.0px;width:1.3px;background:linear-gradient(#f8ca00 0.3%,#f1b100 20.3%,#e49100 32.1%,#d65c00 48.5%,#bd2b00 64.4%,#ba260a 66.8%,#b82411 67.9%,#a81666 72.1%,#8a08d1 77.9%,#7a00fe 83.2%,#6000f8 89.1%,#4e00ce 93.2%,#4800bf 94.4%,#310072 97.9%,#260032 99.7%)"></i>
<i style="left:36.0px;width:1.3px;background:linear-gradient(#f8c900 0.3%,#f0af00 20.9%,#e38e00 32.6%,#d55b00 49.1%,#bc2800 65.0%,#b82413 67.9%,#a81667 72.1%,#8a08d1 77.9%,#7a00fe 83.2%,#6000f8 89.1%,#4e00ce 93.2%,#4800bf 94.4%,#310073 97.9%,#270034 99.7%)"></i>
<i style="left:37.0px;width:1.3px;background:linear-gradient(#f8c900 0.3%,#f0ae00 20.9%,#e28e00 32.6%,#d65c00 48.5%,#be2c00 63.8%,#bb2703 65.6%,#b72314 67.9%,#a71568 72.1%,#8a08d1 77.9%,#7a00fe 83.2%,#6100f8 89.1%,#4e00cf 93.2%,#4800c0 94.4%,#310074 97.9%,#270035 99.7%)"></i>
<i style="left:38.0px;width:1.3px;background:linear-gradient(#f8c800 0.3%,#efae00 20.9%,#e28d00 32.6%,#d65c00 48.5%,#be2c00 63.8%,#bb2704 65.6%,#b8240e 67.4%,#b72316 67.9%,#a71569 72.1%,#8908d1 77.9%,#7a00fe 83.2%,#6100f8 89.1%,#5200d6 92.6%,#4800c1 94.4%,#320075 97.9%,#270037 99.7%)"></i>
<i style="left:39.0px;width:1.3px;background:linear-gradient(#f7c800 0.3%,#efad00 20.9%,#e28c00 32.6%,#d65b00 48.5%,#be2c00 63.8%,#bb2704 65.6%,#b8240f 67.4%,#b52124 68.5%,#a0108b 73.8%,#8908d2 77.9%,#7a00fe 83.2%,#6100f8 89.1%,#5200d7 92.6%,#4900c1 94.4%,#320076 97.9%,#280038 99.7%)"></i>
<i style="left:40.0px;width:1.3px;background:linear-gradient(#f7c700 0.3%,#efac00 20.9%,#e18c00 32.6%,#d65b00 48.5%,#be2c00 63.8%,#bb2705 65.6%,#b8240f 67.4%,#9c0f96 74.4%,#8908d2 77.9%,#7a00fe 83.2%,#6100f8 89.1%,#5200d7 92.6%,#4900c2 94.4%,#320077 97.9%,#2b004f 99.1%,#28003a 99.7%)"></i>
<i style="left:41.0px;width:1.3px;background:linear-gradient(#f7c700 0.3%,#efac00 20.9%,#e18b00 32.6%,#d55b00 48.5%,#bf2e00 63.2%,#bb2705 65.6%,#b8240f 67.4%,#a21182 73.2%,#8908d2 77.9%,#7a00fe 83.2%,#5f00f5 89.7%,#4c00ca 93.8%,#4600b8 95.0%,#320078 97.9%,#2f0067 98.5%,#28003c 99.7%)"></i>
<i style="left:42.0px;width:1.3px;background:linear-gradient(#f7c600 0.3%,#eeab00 20.9%,#e18a00 32.6%,#d55b00 48.5%,#bf2e00 63.2%,#bc2801 65.0%,#b82410 67.4%,#a6156d 72.1%,#8908d3 77.9%,#7a00fe 83.2%,#5f00f6 89.7%,#4c00ca 93.8%,#4200ad 95.6%,#330079 97.9%,#2f0069 98.5%,#28003d 99.7%)"></i>
<i style="left:43.0px;width:1.3px;background:linear-gradient(#f7c600 0.3%,#eeaa00 20.9%,#e18a00 32.6%,#d55b00 48.5%,#bf2d00 63.2%,#bc2802 65.0%,#b82410 67.4%,#a81663 71.5%,#8b09cb 77.4%,#7a00fe 83.2%,#5f00f6 89.7%,#4d00cb 93.8%,#4200ae 95.6%,#2f006b 98.5%,#29003f 99.7%)"></i>
<i style="left:44.0px;width:1.3px;background:linear-gradient(#f7c500 0.3%,#eeaa00 20.9%,#de7e00 36.8%,#d55a00 48.5%,#bf2d00 63.2%,#bb2702 65.0%,#b82411 67.4%,#ab1859 70.9%,#8b08cc 77.4%,#7a00fe 83.2%,#5f00f6 89.7%,#4d00cb 93.8%,#4300ae 95.6%,#2f006c 98.5%,#290040 99.7%)"></i>
<i style="left:45.0px;width:1.3px;background:linear-gradient(#f7c500 0.3%,#eea900 20.9%,#dd7b00 37.4%,#d65c00 47.9%,#c02f00 62.6%,#bb2702 65.0%,#b82412 67.4%,#aa185a 70.9%,#8b08cc 77.4%,#7a00fe 83.2%,#5f00f7 89.7%,#4d00cc 93.8%,#4300af 95.6%,#30006e 98.5%,#290042 99.7%)"></i>
<i style="left:46.0px;width:1.3px;background:linear-gradient(#f7c400 0.3%,#eda800 20.9%,#dd7900 37.9%,#d65b00 47.9%,#c02f00 62.6%,#bb2703 65.0%,#b82413 67.4%,#a81666 71.5%,#8b08cd 77.4%,#7a00fe 83.2%,#5f00f7 89.7%,#4d00cc 93.8%,#4700bc 95.0%,#30006f 98.5%,#2a0044 99.7%)"></i>
<i style="left:47.0px;width:1.3px;background:linear-gradient(#f6c400 0.3%,#eda800 20.9%,#dd7700 38.5%,#d65b00 47.9%,#c02f00 62.6%,#bb2703 65.0%,#b72314 67.4%,#a81667 71.5%,#8b08cd 77.4%,#7a00fe 83.2%,#6000f7 89.7%,#4d00cd 93.8%,#4700bd 95.0%,#300071 98.5%,#2a0045 99.7%)"></i>
<i style="left:48.0px;width:1.3px;background:linear-gradient(#f6c300 0.3%,#eda700 20.9%,#dc7500 39.1%,#d55a00 48.5%,#bf2f00 62.6%,#bb2703 65.0%,#b9250e 66.8%,#b72315 67.4%,#aa175d 70.9%,#8b08ce 77.4%,#7a00fe 83.2%,#6000f7 89.7%,#4e00cd 93.8%,#4700be 95.0%,#310072 98.5%,#2a0047 99.7%)"></i>
<i style="left:49.0px;width:1.3px;background:linear-gradient(#f6c300 0.3%,#eda700 20.9%,#dc7300 39.7%,#d55a00 48.5%,#bf2f00 62.6%,#bc2800 64.4%,#b8240e 66.8%,#b72316 67.4%,#aa175e 70.9%,#8a08ce 77.4%,#7a00fe 83.2%,#6000f8 89.7%,#4e00ce 93.8%,#4800bf 95.0%,#310073 98.5%,#2a0049 99.7%)"></i>
<i style="left:50.0px;width:1.3px;background:linear-gradient(#f6c200 0.3%,#eca600 20.9%,#dc7200 39.7%,#d55a00 48.5%,#bf2f00 62.6%,#bc2800 64.4%,#b8240e 66.8%,#b52124 67.9%,#a2127f 72.6%,#8a08cf 77.4%,#7a00fe 83.2%,#6000f8 89.7%,#4e00ce 93.8%,#4800bf 95.0%,#310074 98.5%,#2b004b 99.7%)"></i>
<i style="left:51.0px;width:1.3px;background:linear-gradient(#f6c200 0.3%,#eca600 20.9%,#db7000 40.3%,#d55900 48.5%,#bf2f00 62.6%,#bc2800 64.4%,#b8240f 66.8%,#b21e31 68.5%,#9a0e9e 74.4%,#8a08cf 77.4%,#7a00fe 83.2%,#6000f8 89.7%,#4e00cf 93.8%,#4800c0 95.0%,#310075 98.5%,#2b004d 99.7%)"></i>
<i style="left:52.0px;width:1.3px;background:linear-gradient(#f6c100 0.3%,#eca500 20.9%,#db6e00 40.9%,#d45800 49.1%,#be2c00 63.2%,#bc2800 64.4%,#b8240f 66.8%,#a21280 72.6%,#8a08d0 77.4%,#7a00fe 83.2%,#6000f8 89.7%,#4e00cf 93.8%,#4800c1 95.0%,#320076 98.5%,#2b004e 99.7%)"></i>
<i style="left:53.0px;width:1.3px;background:linear-gradient(#f6c100 0.3%,#eca400 20.9%,#db7000 40.3%,#d55900 48.5%,#bf2e00 62.6%,#bc2800 64.4%,#b8240f 66.8%,#a41376 72.1%,#8a08d0 77.4%,#7a00fe 83.2%,#6000f8 89.7%,#4f00d0 93.8%,#4800c1 95.0%,#320077 98.5%,#2b0050 99.7%)"></i>
<i style="left:54.0px;width:1.3px;background:linear-gradient(#f5c000 0.3%,#eca500 20.3%,#db7100 39.7%,#d55a00 47.9%,#c03100 62.1%,#bc2801 64.4%,#b8240f 66.8%,#a6156c 71.5%,#8a08d0 77.4%,#7a00fe 83.2%,#6100f8 89.7%,#4f00d0 93.8%,#4500b7 95.6%,#320078 98.5%,#2f0068 99.1%,#2c0052 99.7%)"></i>
<i style="left:55.0px;width:1.3px;background:linear-gradient(#f5c000 0.3%,#eca500 20.3%,#db6f00 40.3%,#d55a00 47.9%,#c03000 62.1%,#bc2801 64.4%,#b8240f 66.8%,#a91762 70.9%,#8a08d0 77.4%,#7a00fe 83.2%,#6100f8 89.7%,#5200d7 93.2%,#4900c2 95.0%,#330079 98.5%,#2f0069 99.1%,#2c0054 99.7%)"></i>
<i style="left:56.0px;width:1.3px;background:linear-gradient(#f5c000 0.3%,#eba400 20.3%,#db6f00 40.3%,#d45900 48.5%,#bf2e00 62.6%,#bc2801 64.4%,#b82410 66.8%,#a91662 70.9%,#8d09c8 76.8%,#8807d5 77.9%,#7a00fe 83.2%,#6100f8 89.7%,#5200d8 93.2%,#4600b9 95.6%,#2f006b 99.1%,#2c0056 99.7%)"></i>
<i style="left:57.0px;width:1.3px;background:linear-gradient(#f5bf00 0.3%,#eba400 20.3%,#db6d00 40.9%,#c73f00 57.9%,#bc2801 64.4%,#b82410 66.8%,#ab1858 70.3%,#900abe 76.2%,#8a08d1 77.4%,#7a00fe 83.2%,#6100f8 89.7%,#5200d8 93.2%,#4600b9 95.6%,#30006d 99.1%,#2d0058 99.7%)"></i>
<i style="left:58.0px;width:1.3px;background:linear-gradient(#f5bf00 0.3%,#eba300 20.3%,#db6e00 40.3%,#d45700 49.1%,#be2c00 63.2%,#bb2705 65.0%,#b82410 66.8%,#ab1859 70.3%,#8f0abf 76.2%,#8a08d1 77.4%,#7a00fe 83.2%,#5f00f5 90.3%,#4a00c4 95.0%,#38008a 97.9%,#30006f 99.1%,#2d005a 99.7%)"></i>
<i style="left:59.0px;width:1.3px;background:linear-gradient(#f5be00 0.3%,#eba300 20.3%,#da6c00 40.9%,#c73e00 57.9%,#bc2801 64.4%,#b82410 66.8%,#ab1859 70.3%,#8f0abf 76.2%,#8a08d1 77.4%,#7a00fe 83.2%,#5f00f5 90.3%,#4a00c4 95.0%,#38008b 97.9%,#300070 99.1%,#2d005c 99.7%)"></i>
<i style="left:60.0px;width:1.3px;background:linear-gradient(#f5be00 0.3%,#eba300 19.7%,#db7000 39.7%,#d55a00 47.9%,#c03000 62.1%,#bc2802 64.4%,#b82411 66.8%,#aa185a 70.3%,#8f0abf 76.2%,#8a08d1 77.4%,#7a00fe 83.2%,#5f00f6 90.3%,#4a00c5 95.0%,#3c0098 97.4%,#300072 99.1%,#2d005d 99.7%)"></i>
<i style="left:61.0px;width:1.3px;background:linear-gradient(#f5bd00 0.3%,#eba300 19.7%,#db6f00 39.7%,#d55a00 47.9%,#c03000 62.1%,#bc2802 64.4%,#b82411 66.8%,#aa185a 70.3%,#8f0ac0 76.2%,#8a08d1 77.4%,#7a00fe 83.2%,#5f00f6 90.3%,#4a00c5 95.0%,#4000a5 96.8%,#310073 99.1%,#2e0060 99.7%)"></i>
<i style="left:62.0px;width:1.3px;background:linear-gradient(#f4bd00 0.3%,#eba200 19.7%,#db6f00 39.7%,#d55b00 47.4%,#c03000 62.1%,#bc2802 64.4%,#b82412 66.8%,#aa185a 70.3%,#8f0ac0 76.2%,#8908d2 77.4%,#7a00fe 83.2%,#5f00f6 90.3%,#4a00c6 95.0%,#4000a6 96.8%,#310074 99.1%,#2e0062 99.7%)"></i>
<i style="left:63.0px;width:1.3px;background:linear-gradient(#f4bc00 0.3%,#eba200 19.7%,#db6d00 40.3%,#d55900 47.9%,#c03000 62.1%,#bc2802 64.4%,#b82412 66.8%,#aa185b 70.3%,#8f0ac0 76.2%,#8908d2 77.4%,#7a00fe 83.2%,#5f00f6 90.3%,#4b00c6 95.0%,#4400b3 96.2%,#320075 99.1%,#2e0064 99.7%)"></i>
<i style="left:64.0px;width:1.3px;background:linear-gradient(#f4bc00 0.3%,#eba200 19.1%,#dc7200 38.5%,#d55a00 47.4%,#c03000 62.1%,#bb2702 64.4%,#b82413 66.8%,#aa185b 70.3%,#8f0ac1 76.2%,#8908d2 77.4%,#7a00fe 83.2%,#5f00f6 90.3%,#4b00c7 95.0%,#4400b4 96.2%,#320077 99.1%,#2f0066 99.7%)"></i>
<i style="left:65.0px;width:1.3px;background:linear-gradient(#f4bb00 0.3%,#eba200 19.1%,#dc7200 38.5%,#d55a00 47.4%,#c03000 62.1%,#bb2702 64.4%,#b72313 66.8%,#aa185c 70.3%,#8f0ac1 76.2%,#8908d2 77.4%,#7a00fe 83.2%,#5f00f7 90.3%,#4b00c7 95.0%,#4500b5 96.2%,#320078 99.1%,#2f0068 99.7%)"></i>
<i style="left:66.0px;width:1.3px;background:linear-gradient(#f4bb00 0.3%,#eaa100 19.1%,#db7000 39.1%,#d55a00 47.4%,#c13200 61.5%,#bb2702 64.4%,#b72314 66.8%,#aa175c 70.3%,#8f0ac1 76.2%,#8807d7 77.9%,#7a00fe 83.2%,#5f00f7 90.3%,#4b00c8 95.0%,#4500b6 96.2%,#2f006b 99.7%)"></i>
<i style="left:67.0px;width:1.3px;background:linear-gradient(#f4bb00 0.3%,#eaa100 19.1%,#db7000 39.1%,#d55a00 47.4%,#c13200 61.5%,#bb2702 64.4%,#b72314 66.8%,#aa175c 70.3%,#8f0ac2 76.2%,#8807d7 77.9%,#7a00fe 83.2%,#6000f7 90.3%,#4c00c8 95.0%,#4500b7 96.2%,#30006d 99.7%)"></i>
<i style="left:68.0px;width:1.3px;background:linear-gradient(#f4ba00 0.3%,#eaa100 19.1%,#db6f00 39.1%,#d55a00 47.4%,#c13200 61.5%,#bb2703 64.4%,#b72314 66.8%,#aa175d 70.3%,#910bb8 75.6%,#8908d2 77.4%,#7a00fe 83.2%,#6000f7 90.3%,#4c00c9 95.0%,#4200ad 96.8%,#300070 99.7%)"></i>
<i style="left:69.0px;width:1.3px;background:linear-gradient(#f4ba00 0.3%,#eaa100 18.5%,#dc7300 37.9%,#d65b00 46.8%,#c33600 60.3%,#bb2703 64.4%,#b72315 66.8%,#aa175d 70.3%,#910bb9 75.6%,#8908d2 77.4%,#7a00fe 83.2%,#6000f7 90.3%,#4c00ca 95.0%,#4300ae 96.8%,#300072 99.7%)"></i>
<i style="left:70.0px;width:1.3px;background:linear-gradient(#f3b900 0.3%,#eaa100 18.5%,#dc7200 37.9%,#d65b00 46.8%,#c33500 60.3%,#bb2703 64.4%,#b9250e 66.2%,#b72315 66.8%,#aa175d 70.3%,#910bb9 75.6%,#8908d3 77.4%,#7a00fe 83.2%,#6000f8 90.3%,#4c00ca 95.0%,#4300af 96.8%,#310073 99.7%)"></i>
<i style="left:71.0px;width:1.3px;background:linear-gradient(#f3b900 0.3%,#eaa000 18.5%,#dc7200 37.9%,#d65c00 46.2%,#c63b00 58.5%,#bc2900 63.8%,#b8240e 66.2%,#b72316 66.8%,#aa175e 70.3%,#910bb9 75.6%,#8908d3 77.4%,#7a00fe 83.2%,#6000f8 90.3%,#4d00cb 95.0%,#4300b0 96.8%,#320075 99.7%)"></i>
<i style="left:72.0px;width:1.3px;background:linear-gradient(#f3b800 0.3%,#eaa000 18.5%,#dc7200 37.9%,#d65c00 46.2%,#c63b00 58.5%,#bc2800 63.8%,#b8240e 66.2%,#b72316 66.8%,#aa175e 70.3%,#910bb9 75.6%,#8908d3 77.4%,#7a00fe 83.2%,#6000f8 90.3%,#4d00cb 95.0%,#4400b2 96.8%,#320077 99.7%)"></i>
<i style="left:73.0px;width:1.3px;background:linear-gradient(#f3b800 0.3%,#eaa100 17.9%,#dc7400 37.4%,#d65c00 46.2%,#c63b00 58.5%,#bc2800 63.8%,#b8240e 66.2%,#b52123 67.4%,#a51474 71.5%,#8b08cc 76.8%,#7a00fe 83.2%,#6000f8 90.3%,#4d00cc 95.0%,#4400b3 96.8%,#330079 99.7%)"></i>
<i style="left:74.0px;width:1.3px;background:linear-gradient(#f3b700 0.3%,#eaa000 17.9%,#dc7300 37.4%,#d65c00 46.2%,#c63b00 58.5%,#bc2800 63.8%,#b8240e 66.2%,#b52123 67.4%,#a51474 71.5%,#8b08cd 76.8%,#7a00fe 83.2%,#6000f8 90.3%,#4d00cc 95.0%,#4400b4 96.8%,#33007b 99.7%)"></i>
<i style="left:75.0px;width:2.3px;background:linear-gradient(#f3b700 0.3%,#ea9f00 17.9%,#dc7300 37.4%,#d65c00 46.2%,#c63b00 58.5%,#bc2800 63.8%,#b8240e 66.2%,#b52124 67.4%,#a51375 71.5%,#8b08cd 76.8%,#7a00fe 83.2%,#6000f8 90.3%,#4e00cd 95.0%,#4800c0 96.2%,#34007e 99.7%)"></i>
<i style="left:77.0px;width:2.3px;background:linear-gradient(#f3b600 0.3%,#eaa000 17.4%,#dc7400 36.8%,#d65c00 45.6%,#c84000 56.8%,#bc2800 63.8%,#b8240f 66.2%,#b21e31 67.9%,#9d0f95 73.2%,#8b08cd 76.8%,#7a00fe 83.2%,#6000f8 90.3%,#4e00ce 95.0%,#4600b8 96.8%,#350082 99.7%)"></i>
<i style="left:79.0px;width:2.3px;background:linear-gradient(#f2b500 0.3%,#eaa000 16.8%,#dc7600 36.2%,#d65c00 45.6%,#c84000 56.8%,#bc2800 63.8%,#b8240f 66.2%,#a21281 72.1%,#8b08ce 76.8%,#7a00fe 83.2%,#6100f8 90.3%,#4f00d0 95.0%,#4600bb 96.8%,#370086 99.7%)"></i>
<i style="left:81.0px;width:2.3px;background:linear-gradient(#f2b400 0.3%,#e99f00 16.8%,#dc7500 36.2%,#d65c00 45.6%,#c94200 56.2%,#bc2800 63.8%,#b8240f 66.2%,#a21181 72.1%,#8b08ce 76.8%,#7a00fe 83.2%,#5f00f5 90.9%,#4a00c5 96.2%,#3b0095 99.1%,#38008a 99.7%)"></i>
<i style="left:83.0px;width:2.3px;background:linear-gradient(#f2b300 0.3%,#e99e00 16.8%,#dc7300 36.8%,#d65c00 45.6%,#c94200 56.2%,#bc2800 63.8%,#b8240f 66.2%,#a41377 71.5%,#8a08cf 76.8%,#7a00fe 83.2%,#5f00f6 90.9%,#4800c0 96.8%,#39008e 99.7%)"></i>
<i style="left:85.0px;width:2.3px;background:linear-gradient(#f1b200 0.3%,#e99d00 16.8%,#dc7300 36.8%,#d65d00 45.0%,#cb4700 54.4%,#bc2800 63.8%,#b8240f 66.2%,#a41377 71.5%,#8a08cf 76.8%,#7a00fe 83.2%,#5f00f6 90.9%,#4900c2 96.8%,#3a0093 99.7%)"></i>
<i style="left:87.0px;width:2.3px;background:linear-gradient(#f1b200 0.3%,#e99e00 16.2%,#dc7400 36.2%,#d65d00 45.0%,#cb4700 54.4%,#bc2801 63.8%,#b8240f 66.2%,#a6156d 70.9%,#8d09c6 76.2%,#8907d4 77.4%,#7a00fe 83.2%,#5f00f6 90.9%,#4900c3 96.8%,#3c0097 99.7%)"></i>
<i style="left:89.0px;width:2.3px;background:linear-gradient(#f1b100 0.3%,#e99d00 16.2%,#dc7400 36.2%,#d65c00 45.0%,#cb4600 54.4%,#bc2801 63.8%,#b8240f 66.2%,#a6156e 70.9%,#8d09c7 76.2%,#8807d4 77.4%,#7a00fe 83.2%,#5f00f7 90.9%,#4800bf 97.4%,#3d009b 99.7%)"></i>
<i style="left:91.0px;width:2.3px;background:linear-gradient(#f0b000 0.3%,#e89c00 16.2%,#dc7200 36.8%,#d65c00 45.0%,#cc4800 53.8%,#bc2801 63.8%,#b82410 66.2%,#a81663 70.3%,#930bb5 75.0%,#8a08d0 76.8%,#7a00fe 83.2%,#6000f7 90.9%,#4800c1 97.4%,#3e009f 99.7%)"></i>
<i style="left:93.0px;width:2.3px;background:linear-gradient(#f0af00 0.3%,#e89b00 16.2%,#dc7300 36.2%,#d75d00 44.4%,#cd4a00 53.2%,#bc2801 63.8%,#b82410 66.2%,#a81663 70.3%,#920bb5 75.0%,#8a08d0 76.8%,#7a00fe 83.2%,#6000f7 90.9%,#4900c3 97.4%,#3f00a3 99.7%)"></i>
<i style="left:95.0px;width:2.3px;background:linear-gradient(#f0af00 0.3%,#e89b00 16.2%,#dc7300 36.2%,#d65d00 44.4%,#cd4a00 53.2%,#bc2801 63.8%,#b82410 66.2%,#a81664 70.3%,#920bb5 75.0%,#8a08d0 76.8%,#7a00fe 83.2%,#6000f8 90.9%,#4800bf 97.9%,#4000a6 99.7%)"></i>
<i style="left:97.0px;width:2.3px;background:linear-gradient(#f0ae00 0.3%,#e79a00 16.2%,#dc7200 36.2%,#d65d00 44.4%,#cd4a00 53.2%,#bc2801 63.8%,#b82410 66.2%,#a81664 70.3%,#920bb6 75.0%,#8a08d1 76.8%,#7a00fe 83.2%,#6000f8 90.9%,#4800c1 97.9%,#4100aa 99.7%)"></i>
<i style="left:99.0px;width:2.3px;background:linear-gradient(#efad00 0.3%,#e79900 16.2%,#dc7400 35.6%,#d75d00 43.8%,#cd4a00 53.2%,#bc2801 63.8%,#b82410 66.2%,#a81664 70.3%,#920bb6 75.0%,#8a08d1 76.8%,#7a00fe 83.2%,#6000f8 90.9%,#4700bd 98.5%,#4300ae 99.7%)"></i>
<i style="left:101.0px;width:2.3px;background:linear-gradient(#efad00 0.3%,#e79900 16.2%,#dc7300 35.6%,#d75d00 43.8%,#ce4b00 52.6%,#bc2802 63.8%,#b82410 66.2%,#a81665 70.3%,#920bb6 75.0%,#8a08d1 76.8%,#7a00fe 83.2%,#6000f8 90.9%,#4800c0 98.5%,#4400b1 99.7%)"></i>
<i style="left:103.0px;width:2.3px;background:linear-gradient(#efac00 0.3%,#e69800 16.2%,#dc7300 35.6%,#d75d00 43.8%,#ce4b00 52.6%,#bc2802 63.8%,#b82411 66.2%,#a81665 70.3%,#920bb7 75.0%,#8a08d1 76.8%,#7a00fe 83.2%,#5f00f5 91.5%,#4700bc 99.1%,#4500b5 99.7%)"></i>
<i style="left:105.0px;width:2.3px;background:linear-gradient(#eeab00 0.3%,#e69700 16.2%,#dc7300 35.6%,#d75d00 43.8%,#ce4b00 52.6%,#bc2802 63.8%,#b82411 66.2%,#a81665 70.3%,#920bb7 75.0%,#8a08d1 76.8%,#7a00fe 83.2%,#5f00f5 91.5%,#4800bf 99.1%,#4600b8 99.7%)"></i>
<i style="left:107.0px;width:2.3px;background:linear-gradient(#eeab00 0.3%,#e69700 16.2%,#dc7300 35.6%,#d65d00 43.8%,#ce4b00 52.6%,#bc2802 63.8%,#b82411 66.2%,#a81665 70.3%,#920bb7 75.0%,#8a08d1 76.8%,#7a00fe 83.2%,#5f00f6 91.5%,#4700bb 99.7%)"></i>
<i style="left:109.0px;width:2.3px;background:linear-gradient(#eeaa00 0.3%,#e59500 16.8%,#dc7400 35.0%,#d65d00 43.8%,#ce4b00 52.6%,#bc2802 63.8%,#b82411 66.2%,#a81666 70.3%,#920bb7 75.0%,#8a08d1 76.8%,#7a00fe 83.2%,#5f00f6 91.5%,#4700be 99.7%)"></i>
<i style="left:111.0px;width:2.3px;background:linear-gradient(#eea900 0.3%,#e59400 16.8%,#dc7400 35.0%,#d75d00 43.2%,#cd4b00 52.6%,#bb2702 63.8%,#b82412 66.2%,#a81666 70.3%,#920bb8 75.0%,#8a08d1 76.8%,#7a00fe 83.2%,#5f00f6 91.5%,#4800c1 99.7%)"></i>
<i style="left:113.0px;width:2.3px;background:linear-gradient(#eda900 0.3%,#e59400 16.8%,#dc7300 35.0%,#d75d00 43.2%,#cd4b00 52.6%,#bb2702 63.8%,#b82412 66.2%,#a81666 70.3%,#920bb8 75.0%,#8908d1 76.8%,#7a00fe 83.2%,#5f00f7 91.5%,#4900c2 99.7%)"></i>
<i style="left:115.0px;width:2.3px;background:linear-gradient(#eda800 0.3%,#e49200 17.4%,#dc7300 35.0%,#d75d00 43.2%,#cd4b00 52.6%,#bb2702 63.8%,#b82412 66.2%,#a81666 70.3%,#920bb8 75.0%,#8908d2 76.8%,#7a00fe 83.2%,#5f00f7 91.5%,#4a00c4 99.7%)"></i>
<i style="left:117.0px;width:2.3px;background:linear-gradient(#eda700 0.3%,#e49200 17.4%,#dc7300 35.0%,#d75d00 43.2%,#cd4b00 52.6%,#bb2702 63.8%,#b82412 66.2%,#a81666 70.3%,#920bb8 75.0%,#8908d2 76.8%,#7a00fe 83.2%,#6000f7 91.5%,#4a00c6 99.7%)"></i>
<i style="left:119.0px;width:2.3px;background:linear-gradient(#eda700 0.3%,#e39000 17.9%,#dc7300 35.0%,#d65d00 43.2%,#cd4b00 52.6%,#bb2702 63.8%,#b82412 66.2%,#a81666 70.3%,#910bb8 75.0%,#8908d2 76.8%,#7a00fe 83.2%,#6000f7 91.5%,#4b00c7 99.7%)"></i>
<i style="left:121.0px;width:4.3px;background:linear-gradient(#eca600 0.3%,#e38f00 18.5%,#dc7200 35.0%,#d65d00 43.2%,#cd4b00 52.6%,#bb2702 63.8%,#b82413 66.2%,#a81667 70.3%,#910bb8 75.0%,#8908d2 76.8%,#7a00fe 83.2%,#6000f8 91.5%,#4c00c9 99.7%)"></i>
<i style="left:125.0px;width:4.3px;background:linear-gradient(#eca500 0.3%,#e18b00 20.3%,#dc7200 35.0%,#d75d00 42.6%,#ce4c00 52.1%,#bb2703 63.8%,#b82413 66.2%,#a81667 70.3%,#910bb9 75.0%,#8908d2 76.8%,#7a00fe 83.2%,#5f00f5 92.1%,#4d00cc 99.7%)"></i>
<i style="left:129.0px;width:4.3px;background:linear-gradient(#eba400 0.3%,#df8100 27.4%,#d96700 38.5%,#d55900 45.6%,#cc4800 53.2%,#bc2800 63.2%,#b82413 66.2%,#a81667 70.3%,#910bb9 75.0%,#8908d2 76.8%,#7a00fe 83.2%,#5f00f5 92.1%,#4e00ce 99.7%)"></i>
<i style="left:133.0px;width:4.3px;background:linear-gradient(#eba300 0.3%,#de7d00 29.1%,#d65c00 43.2%,#ce4c00 52.1%,#bc2800 63.2%,#b72313 66.2%,#a81667 70.3%,#910bb9 75.0%,#8908d2 76.8%,#7a00fe 83.2%,#5f00f6 92.1%,#4f00d0 99.7%)"></i>
<i style="left:137.0px;width:4.3px;background:linear-gradient(#eba200 0.3%,#dd7b00 30.3%,#d65c00 43.2%,#ce4c00 52.1%,#bc2800 63.2%,#b72313 66.2%,#a81667 70.3%,#910bb9 75.0%,#8908d2 76.8%,#7a00fe 83.2%,#5f00f6 92.1%,#4f00d1 99.7%)"></i>
<i style="left:141.0px;width:4.3px;background:linear-gradient(#eaa100 0.3%,#dd7800 31.5%,#d65d00 42.6%,#ce4c00 52.1%,#bc2800 63.2%,#b72313 66.2%,#a51472 70.9%,#8e0ac2 75.6%,#8807d6 77.4%,#7a00fe 83.2%,#6000f7 92.1%,#5000d3 99.7%)"></i>
<i style="left:145.0px;width:4.3px;background:linear-gradient(#eaa000 0.3%,#dd7700 31.5%,#d65c00 42.6%,#ce4c00 52.1%,#bc2800 63.2%,#b72313 66.2%,#a51472 70.9%,#8e0ac2 75.6%,#8807d6 77.4%,#7a00fe 83.2%,#6000f7 92.1%,#5100d4 99.7%)"></i>
<i style="left:149.0px;width:4.3px;background:linear-gradient(#eaa000 0.3%,#dd7700 31.5%,#d65c00 42.6%,#ce4b00 52.1%,#bc2800 63.2%,#b72313 66.2%,#a51472 70.9%,#8e0ac2 75.6%,#8807d6 77.4%,#7a00fe 83.2%,#5f00f5 92.6%,#5100d5 99.7%)"></i>
<i style="left:153.0px;width:4.3px;background:linear-gradient(#e99f00 0.3%,#dd7700 31.5%,#d65b00 43.2%,#ce4b00 52.1%,#bc2800 63.2%,#b72313 66.2%,#a51472 70.9%,#8e0ac2 75.6%,#8807d6 77.4%,#7a00fe 83.2%,#5f00f5 92.6%,#5200d7 99.7%)"></i>
<i style="left:157.0px;width:4.3px;background:linear-gradient(#e99e00 0.3%,#dd7700 30.9%,#d65b00 43.2%,#ce4b00 52.1%,#bc2800 63.2%,#b72313 66.2%,#a51472 70.9%,#8e0ac2 75.6%,#8807d6 77.4%,#7a00fe 83.2%,#5f00f6 92.6%,#5200d8 99.7%)"></i>
<i style="left:161.0px;width:4.3px;background:linear-gradient(#e99d00 0.3%,#dd7700 30.9%,#d65c00 42.6%,#ce4b00 52.1%,#bc2800 63.2%,#b72313 66.2%,#a51472 70.9%,#8e0ac2 75.6%,#8807d7 77.4%,#7a00fe 83.2%,#5f00f6 92.6%,#5300d9 99.7%)"></i>
<i style="left:165.0px;width:4.3px;background:linear-gradient(#e89c00 0.3%,#dd7700 30.9%,#d65c00 42.6%,#cd4b00 52.1%,#bc2800 63.2%,#b72313 66.2%,#a51472 70.9%,#8e0ac2 75.6%,#8807d7 77.4%,#7a00fe 83.2%,#5f00f6 92.6%,#5300da 99.7%)"></i>
<i style="left:169.0px;width:4.3px;background:linear-gradient(#e89c00 0.3%,#dc7600 30.9%,#d65b00 42.6%,#cd4b00 52.1%,#bc2800 63.2%,#b72313 66.2%,#a51472 70.9%,#8e0ac2 75.6%,#8807d7 77.4%,#7a00fe 83.2%,#6000f7 92.6%,#5400db 99.7%)"></i>
<i style="left:173.0px;width:4.3px;background:linear-gradient(#e89b00 0.3%,#dc7600 30.9%,#d65b00 42.6%,#cd4b00 52.1%,#bc2800 63.2%,#b72313 66.2%,#a51472 70.9%,#8e0ac2 75.6%,#8807d7 77.4%,#7a00fe 83.2%,#6000f7 92.6%,#5400dc 99.7%)"></i>
<i style="left:177.0px;width:4.3px;background:linear-gradient(#e89a00 0.3%,#dd7700 30.3%,#d55a00 43.2%,#cd4b00 52.1%,#bc2800 63.2%,#b72313 66.2%,#a51472 70.9%,#8e0ac2 75.6%,#8807d7 77.4%,#7a00fe 83.2%,#5f00f5 93.2%,#5400dd 99.7%)"></i>
<i style="left:181.0px;width:4.3px;background:linear-gradient(#e79a00 0.3%,#dc7600 30.3%,#d55a00 43.2%,#cd4a00 52.1%,#bc2800 63.2%,#b72313 66.2%,#a51472 70.9%,#8e0ac2 75.6%,#8807d7 77.4%,#7a00fe 83.2%,#5f00f5 93.2%,#5500de 99.7%)"></i>
<i style="left:185.0px;width:4.3px;background:linear-gradient(#e79900 0.3%,#dc7600 30.3%,#d55b00 42.6%,#cd4a00 52.1%,#bc2800 63.2%,#b72313 66.2%,#a51472 70.9%,#8e0ac2 75.6%,#8807d7 77.4%,#7a00fe 83.2%,#5f00f6 93.2%,#5500de 99.7%)"></i>
<i style="left:189.0px;width:4.3px;background:linear-gradient(#e79800 0.3%,#dc7600 30.3%,#d55b00 42.6%,#cd4a00 52.1%,#bc2800 63.2%,#b72313 66.2%,#a51472 70.9%,#8e0ac2 75.6%,#8807d7 77.4%,#7a00fe 83.2%,#5f00f6 93.2%,#5500df 99.7%)"></i>
<i style="left:193.0px;width:4.3px;background:linear-gradient(#e69800 0.3%,#dc7500 30.3%,#d55b00 42.6%,#cd4a00 52.1%,#bc2800 63.2%,#b72313 66.2%,#a51472 70.9%,#8e0ac2 75.6%,#8807d7 77.4%,#7a00fe 83.2%,#5f00f6 93.2%,#5600e0 99.7%)"></i>
<i style="left:197.0px;width:4.3px;background:linear-gradient(#e69700 0.3%,#de8000 22.6%,#da6b00 35.0%,#d55a00 43.2%,#cd4a00 52.1%,#bc2800 63.2%,#b72313 66.2%,#a51472 70.9%,#8e0ac2 75.6%,#8807d7 77.4%,#7a00fe 83.2%,#5f00f7 93.2%,#5600e0 99.7%)"></i>
<i style="left:201.0px;width:4.3px;background:linear-gradient(#e69700 0.3%,#de8000 21.5%,#db6f00 33.2%,#d55b00 42.6%,#cd4a00 52.1%,#bc2800 63.2%,#b72314 66.2%,#a3127d 71.5%,#8c09cb 76.2%,#7f03f0 80.9%,#7a00fe 83.2%,#5f00f5 93.8%,#5600e1 99.7%)"></i>
<i style="left:205.0px;width:4.3px;background:linear-gradient(#e69600 0.3%,#df8100 20.3%,#dc7200 31.5%,#d55a00 42.6%,#cd4a00 52.1%,#bc2800 63.2%,#b72314 66.2%,#a3127d 71.5%,#8c09cb 76.2%,#7f03f0 80.9%,#7a00fe 83.2%,#5f00f5 93.8%,#5600e2 99.7%)"></i>
<i style="left:209.0px;width:4.3px;background:linear-gradient(#e69600 0.3%,#df8100 19.1%,#dc7300 30.9%,#d55a00 42.6%,#cd4a00 52.1%,#bc2801 63.2%,#b72314 66.2%,#a3127d 71.5%,#8c09cb 76.2%,#7f03f0 80.9%,#7a00fe 83.2%,#5f00f5 93.8%,#5700e2 99.7%)"></i>
<i style="left:213.0px;width:4.3px;background:linear-gradient(#e59500 0.3%,#df8200 17.9%,#dc7400 30.3%,#d55a00 42.6%,#cd4900 52.1%,#bc2801 63.2%,#b72314 66.2%,#a3127d 71.5%,#8c09cb 76.2%,#7f03f0 80.9%,#7a00fe 83.2%,#5f00f5 93.8%,#5700e2 99.7%)"></i>
<i style="left:217.0px;width:4.3px;background:linear-gradient(#e59400 0.3%,#df8200 16.8%,#dc7500 29.7%,#d55a00 42.6%,#cd4900 52.1%,#bc2801 63.2%,#b72314 66.2%,#a3127d 71.5%,#8c09cb 76.2%,#7f03f0 80.9%,#7a00fe 83.2%,#5f00f6 93.8%,#5700e3 99.7%)"></i>
<i style="left:221.0px;width:4.3px;background:linear-gradient(#e59400 0.3%,#df8300 15.6%,#dc7500 29.1%,#d55a00 42.6%,#cd4900 52.1%,#bc2801 63.2%,#b72314 66.2%,#a3127d 71.5%,#8c09cb 76.2%,#7f03f0 80.9%,#7a00fe 83.2%,#5f00f6 93.8%,#5700e3 99.7%)"></i>
<i style="left:225.0px;width:4.3px;background:linear-gradient(#e59300 0.3%,#df8300 15.0%,#dc7500 29.1%,#d55a00 42.6%,#cd4900 52.1%,#bc2801 63.2%,#b72314 66.2%,#a3127d 71.5%,#8c09cb 76.2%,#7f03f0 80.9%,#7a00fe 83.2%,#5f00f6 93.8%,#5700e3 99.7%)"></i>
<i style="left:229.0px;width:4.3px;background:linear-gradient(#e49300 0.3%,#df8300 14.4%,#dc7500 29.1%,#d55a00 42.6%,#cc4900 52.1%,#bc2801 63.2%,#b72314 66.2%,#a11088 72.1%,#8c09cb 76.2%,#7f03f0 80.9%,#7a00fe 83.2%,#5f00f6 93.8%,#5700e4 99.7%)"></i>
<i style="left:233.0px;width:4.3px;background:linear-gradient(#e49300 0.3%,#df8300 13.8%,#dc7500 29.1%,#d55a00 42.6%,#cc4700 52.6%,#bc2801 63.2%,#b72314 66.2%,#a11087 72.1%,#8c09cb 76.2%,#7f03f0 80.9%,#7a00fe 83.2%,#5f00f7 93.8%,#5700e4 99.7%)"></i>
<i style="left:237.0px;width:4.7px;background:linear-gradient(#e49200 0.3%,#df8300 13.2%,#dc7600 28.5%,#d55a00 42.6%,#cc4700 52.6%,#bc2801 63.2%,#b72314 66.2%,#a11087 72.1%,#8c09cb 76.2%,#7f03f0 80.9%,#7a00fe 83.2%,#5f00f7 93.8%,#5700e4 99.7%)"></i>
</div>
<div class="l c" style="left:472.7px;top:244px">z</div>
<div class="l c" style="left:354.2px;top:253px">8</div>
<div class="l c" style="left:370.8px;top:253px">4</div>
<div class="l c" style="left:403.0px;top:253px">2</div>
<div class="l c" style="left:449.8px;top:253px">1</div>
<div class="l c" style="left:499.0px;top:253px">0.5</div>
<div class="l c" style="left:546.5px;top:253px">0.2</div>
<div class="l c" style="left:589.0px;top:253px">0</div>
<div class="l c" style="left:359.9px;top:442.9px">1</div>
<div class="l c" style="left:377.9px;top:442.9px">2</div>
<div class="l c" style="left:413.6px;top:442.9px">4</div>
<div class="l c" style="left:449.4px;top:442.9px">6</div>
<div class="l c" style="left:485.2px;top:442.9px">8</div>
<div class="l c" style="left:521.0px;top:442.9px">10</div>
<div class="l c" style="left:556.9px;top:442.9px">12</div>
<div class="l c" style="left:590.6px;top:442.9px">13.8</div>
<div class="l c" style="left:471.7px;top:452.3px;font-size:10px">Time Since Big Bang [Gyr]</div>
<div class="l r" style="left:344.8px;top:433.8px">10<sup>9</sup></div>
<div class="l r" style="left:344.8px;top:405.7px">10<sup>10</sup></div>
<div class="l r" style="left:344.8px;top:377.5px">10<sup>11</sup></div>
<div class="l r" style="left:344.8px;top:349.4px">10<sup>12</sup></div>
<div class="l r" style="left:344.8px;top:321.2px">10<sup>13</sup></div>
<div class="l r" style="left:344.8px;top:293.1px">10<sup>14</sup></div>
<div class="l r" style="left:344.8px;top:264.9px">10<sup>15</sup></div>
<div class="l" style="left:317.5px;top:351.8px;font-size:10px;transform:translate(-50%,-50%) rotate(-90deg)">Halo Mass [M<sub style="font-size:7.9px">&#8857;</sub>]</div>
<div class="l k" style="left:363.5px;top:272.1px;font-size:10px;color:#f4f4f4">No Halos</div>
<div class="l k" style="left:436.0px;top:284.8px;font-size:10px;color:#fff8c4">P(&#916;t) = (&#916;t)<sup>-1</sup></div>
<div class="l k" style="left:436.0px;top:295.8px;font-size:10px;color:#fff8c4">Short GRB Rate per Unit Halo</div>
<div class="l" style="left:555.8px;top:376.4px;width:12.2px;height:48px;background:linear-gradient(0deg,#000000 0.0%,#220018 2.0%,#2a0046 5.0%,#300070 7.5%,#4800c0 15.0%,#6000f8 23.0%,#7a00ff 30.0%,#8a08d0 38.0%,#a0108a 44.0%,#b01c40 50.0%,#b82410 53.5%,#bc2800 58.0%,#c43800 66.0%,#cc4800 72.5%,#d86000 80.0%,#e08800 86.7%,#f2b400 92.0%,#fcd800 96.0%,#fff400 100.0%)"></div>
<div class="l k" style="left:571.3px;top:372.3px;font-size:10px;color:#f3d9ff">3.5</div>
<div class="l k" style="left:571.3px;top:396.3px;font-size:10px;color:#f3d9ff">-0.2</div>
<div class="l k" style="left:571.3px;top:420.6px;font-size:10px;color:#f3d9ff">-4.0</div>
<div class="l k" style="left:549.3px;top:397.6px;font-size:10px;color:#f3d9ff;transform:translate(-50%,-50%) rotate(-90deg)">log<sub>10</sub>(sGRB Rate)</div>
<div class="p" style="left:39.0px;top:510.3px">
<i style="left:0.0px;width:1.3px;background:linear-gradient(#000000 0.3%,#000000 52.6%,#23001e 53.2%,#2f0069 54.4%,#4400b2 56.2%,#4a00c6 56.8%,#5c00ee 58.5%,#6100f8 59.1%,#7800ff 61.5%,#8c09ca 66.2%,#a81664 72.1%,#b4202a 75.0%,#b8240f 76.2%,#bc2801 77.9%,#c13300 81.5%,#bc2802 86.8%,#b82411 89.1%,#b21e34 90.9%,#ac1950 93.2%,#a11087 99.7%)"></i>
<i style="left:1.0px;width:1.3px;background:linear-gradient(#000000 0.3%,#000000 52.1%,#1d0015 52.6%,#2e0060 53.8%,#34007e 54.4%,#4900c3 56.2%,#6000f8 58.5%,#7800fe 60.9%,#8003ec 62.6%,#8b09cc 65.6%,#aa185b 72.1%,#b52120 75.0%,#b82412 75.6%,#bc2900 77.9%,#c23300 81.5%,#bc2802 86.8%,#b82411 89.1%,#b21e35 90.9%,#ad1950 93.2%,#a11087 99.7%)"></i>
<i style="left:2.0px;width:1.3px;background:linear-gradient(#000000 0.3%,#000000 50.9%,#22001a 51.5%,#30006d 52.6%,#4500b8 54.4%,#5800e5 56.2%,#5e00f3 56.8%,#6a00fb 57.9%,#7a00fe 59.7%,#8a08cf 63.8%,#a7156a 69.7%,#b42028 73.2%,#b8240f 74.4%,#bc2800 76.8%,#c23300 80.9%,#bb2703 86.8%,#b82413 89.1%,#b01c3d 91.5%,#a71569 96.2%,#a11087 99.7%)"></i>
<i style="left:3.0px;width:1.3px;background:linear-gradient(#000000 0.3%,#000000 48.5%,#160010 49.1%,#28003b 49.7%,#2f006a 50.3%,#4000a5 51.5%,#4800bf 52.1%,#5b00ed 53.8%,#6100f8 54.4%,#7a00ff 56.8%,#8b08cc 60.9%,#a81667 66.8%,#b42029 70.3%,#b82411 71.5%,#bc2800 74.4%,#c23400 79.7%,#bb2702 86.2%,#b8240f 88.5%,#b01c3e 91.5%,#a41377 97.9%,#a11087 99.7%)"></i>
<i style="left:4.0px;width:1.3px;background:linear-gradient(#000000 0.3%,#000000 46.2%,#23001d 46.8%,#33007b 47.9%,#4600b8 49.1%,#5600e0 50.3%,#5d00f0 50.9%,#6400f9 51.5%,#7900ff 53.2%,#8a08d1 56.8%,#a11184 60.9%,#b6221e 66.8%,#b82413 67.4%,#bc2800 70.9%,#c43700 77.9%,#bb2703 85.0%,#b8240f 87.9%,#af1b44 92.1%,#a11087 99.7%)"></i>
<i style="left:5.0px;width:1.3px;background:linear-gradient(#000000 0.3%,#000000 43.8%,#230020 44.4%,#34007e 45.6%,#4800c0 46.8%,#5900e9 47.9%,#6200f8 48.5%,#7a00fe 50.3%,#8a08cf 53.2%,#9f0f8e 56.2%,#b82410 63.2%,#bc2900 66.8%,#c63c00 75.6%,#c23400 79.7%,#bb2702 83.2%,#b82412 87.4%,#ad1a4e 93.2%,#a11087 99.7%)"></i>
<i style="left:6.0px;width:1.3px;background:linear-gradient(#000000 0.3%,#000000 41.5%,#0d0009 42.1%,#270034 42.6%,#2f0067 43.2%,#4300ae 44.4%,#4c00ca 45.0%,#5f00f6 46.2%,#7500fe 47.4%,#7c01f8 47.9%,#8908d1 49.7%,#9b0e9b 51.5%,#ac1954 54.4%,#b82412 57.9%,#bc2900 62.1%,#c84000 73.2%,#c53b00 77.4%,#bb2702 82.6%,#b82410 86.8%,#a91662 95.6%,#a11087 99.7%)"></i>
<i style="left:7.0px;width:1.3px;background:linear-gradient(#000000 0.3%,#000000 39.7%,#13000d 40.3%,#270036 40.9%,#2e0065 41.5%,#4100a8 42.6%,#4a00c6 43.2%,#5d00f2 44.4%,#6900fa 45.0%,#7500fe 45.6%,#7e02f4 46.2%,#8b08ce 47.4%,#9f108d 48.5%,#ab1856 49.7%,#b42029 50.9%,#b72317 51.5%,#b9250d 52.1%,#bc2900 54.4%,#cb4500 71.5%,#c73e00 76.2%,#bb2703 83.2%,#b82412 87.4%,#ac1954 93.8%,#a11087 99.7%)"></i>
<i style="left:8.0px;width:1.3px;background:linear-gradient(#000000 0.3%,#000000 37.9%,#090007 38.5%,#26002d 39.1%,#2d0059 39.7%,#35007f 40.3%,#4600ba 41.5%,#6100f8 43.2%,#7900ff 44.4%,#8807d6 45.6%,#940cb1 46.2%,#aa185b 47.4%,#b8240f 48.5%,#bc2800 49.7%,#c63c00 55.0%,#cd4a00 70.9%,#c83f00 76.2%,#bc2802 83.8%,#b82413 87.9%,#ae1a4a 92.6%,#a11087 99.7%)"></i>
<i style="left:9.0px;width:1.3px;background:linear-gradient(#000000 0.3%,#000000 36.8%,#220019 37.4%,#300070 38.5%,#4900c3 40.3%,#6300f9 42.1%,#7b00fd 43.2%,#8908d2 44.4%,#ae1b48 46.2%,#b72318 46.8%,#ba2607 47.4%,#bd2a00 47.9%,#c84000 52.1%,#cf4d00 61.5%,#cf4e00 70.9%,#c63c00 77.4%,#bc2802 84.4%,#b82410 87.9%,#ae1a4a 92.6%,#a11087 99.7%)"></i>
<i style="left:10.0px;width:1.3px;background:linear-gradient(#000000 0.3%,#000000 35.0%,#030002 35.6%,#250026 36.2%,#320078 37.4%,#4b00c7 39.1%,#5b00ec 40.3%,#6400f9 40.9%,#7b01fc 42.1%,#8a08cf 43.2%,#b01c3f 45.0%,#b8240f 45.6%,#bb2704 46.2%,#c23400 47.9%,#cb4600 52.6%,#d25500 64.4%,#d05100 70.9%,#c53b00 77.9%,#bc2800 84.4%,#b8240f 87.9%,#ae1a4a 92.6%,#a11187 99.7%)"></i>
<i style="left:11.0px;width:1.3px;background:linear-gradient(#000000 0.3%,#000000 33.8%,#090006 34.4%,#25002b 35.0%,#33007a 36.2%,#4b00c6 37.9%,#5a00eb 39.1%,#6300f9 39.7%,#7b00fc 40.9%,#8b08cc 42.1%,#a71668 43.2%,#b21e36 43.8%,#b9250d 44.4%,#bc2801 45.0%,#c73e00 48.5%,#d25400 57.9%,#d55900 66.8%,#cd4a00 73.8%,#bc2800 84.4%,#b8240f 87.9%,#ae1a4a 92.6%,#a11187 99.7%)"></i>
<i style="left:12.0px;width:1.3px;background:linear-gradient(#000000 0.3%,#000000 32.6%,#060004 33.2%,#250028 33.8%,#320077 35.0%,#4900c3 36.8%,#6100f8 38.5%,#7900ff 39.7%,#8a08cf 40.9%,#a81663 42.1%,#b31f2e 42.6%,#b9250a 43.2%,#bc2900 43.8%,#c63c00 46.8%,#d35700 56.8%,#d75e00 65.0%,#d15200 71.5%,#bc2800 84.4%,#b8240f 87.9%,#ae1a49 92.6%,#a11186 99.7%)"></i>
<i style="left:13.0px;width:1.3px;background:linear-gradient(#000000 0.3%,#000000 32.1%,#23001e 32.6%,#30006f 33.8%,#4600ba 35.6%,#5d00f1 37.4%,#6800fa 37.9%,#7500fe 38.5%,#7f03f0 39.1%,#8807d5 39.7%,#990da0 40.3%,#b4202b 41.5%,#ba2609 42.1%,#bd2a00 42.6%,#c63d00 45.6%,#d65c00 56.8%,#d96400 63.8%,#d05000 72.1%,#bd2900 83.8%,#b8240f 87.9%,#ae1b49 92.6%,#a11186 99.7%)"></i>
<i style="left:14.0px;width:1.3px;background:linear-gradient(#000000 0.3%,#000000 30.9%,#180011 31.5%,#270036 32.1%,#2d005e 32.6%,#34007e 33.2%,#4a00c4 35.0%,#6200f8 36.8%,#7b01fb 37.9%,#8505df 38.5%,#940cb1 39.1%,#b31f30 40.3%,#ba2609 40.9%,#bd2a00 41.5%,#c73d00 44.4%,#d96700 58.5%,#da6a00 63.2%,#cd4a00 73.8%,#bd2b00 83.2%,#bb2705 85.6%,#b72314 88.5%,#ae1b48 92.6%,#a11185 99.7%)"></i>
<i style="left:15.0px;width:1.3px;background:linear-gradient(#000000 0.3%,#020002 30.3%,#240023 30.9%,#300071 32.1%,#4600b8 33.8%,#5c00ef 35.6%,#6600fa 36.2%,#7400fd 36.8%,#8003ee 37.4%,#8b08ce 37.9%,#a01089 38.5%,#af1b43 39.1%,#b9250c 39.7%,#bd2900 40.3%,#c53a00 42.6%,#da6c00 56.8%,#dc7200 61.5%,#d96500 66.2%,#bf2e00 82.1%,#bb2703 85.0%,#b72314 88.5%,#ae1b47 92.6%,#a11185 99.7%)"></i>
<i style="left:16.0px;width:1.3px;background:linear-gradient(#000000 0.3%,#000000 29.1%,#15000f 29.7%,#270033 30.3%,#2d005a 30.9%,#33007a 31.5%,#4800c0 33.2%,#5f00f6 35.0%,#7900ff 36.2%,#8405e2 36.8%,#940caf 37.4%,#a81664 37.9%,#b62219 38.5%,#bc2802 39.1%,#c53a00 41.5%,#da6a00 53.8%,#dd7800 58.5%,#dc7500 62.6%,#ce4b00 73.2%,#be2c00 82.6%,#bb2703 85.0%,#b72313 88.5%,#af1b46 92.6%,#a11184 99.7%)"></i>
<i style="left:17.0px;width:1.3px;background:linear-gradient(#000000 0.3%,#000000 28.5%,#22001a 29.1%,#2f0066 30.3%,#3c0098 31.5%,#4a00c4 32.6%,#6200f8 34.4%,#6f00fc 35.0%,#7c01f8 35.6%,#8707d7 36.2%,#9d0f94 36.8%,#af1b45 37.4%,#ba260a 37.9%,#bd2b00 38.5%,#c63b00 40.9%,#d96700 51.5%,#de7c00 56.2%,#de7e00 60.3%,#db6f00 65.0%,#d35600 70.3%,#bf2f00 81.5%,#bb2703 85.0%,#b82413 88.5%,#af1b45 92.6%,#a11184 99.7%)"></i>
<i style="left:18.0px;width:1.3px;background:linear-gradient(#000000 0.3%,#000000 27.4%,#030002 27.9%,#240024 28.5%,#30006f 29.7%,#4b00c7 32.1%,#6400f9 33.8%,#7200fd 34.4%,#7f02f1 35.0%,#8b09cb 35.6%,#a3127c 36.2%,#b42029 36.8%,#bb2703 37.4%,#c33700 39.1%,#d96500 49.7%,#de7f00 54.4%,#df8500 58.5%,#dd7900 63.2%,#d45800 69.7%,#c03000 80.9%,#bb2703 85.0%,#b82412 88.5%,#ae1a4a 93.2%,#a21183 99.7%)"></i>
<i style="left:19.0px;width:1.3px;background:linear-gradient(#000000 0.3%,#000000 26.8%,#0c0008 27.4%,#25002b 27.9%,#310073 29.1%,#4c00c9 31.5%,#5b00ed 32.6%,#6600fa 33.2%,#7500fe 33.8%,#8103eb 34.4%,#900abb 35.0%,#a71667 35.6%,#b82412 36.2%,#bc2900 36.8%,#c43800 38.5%,#d86100 47.9%,#df8300 53.2%,#e28d00 56.8%,#df8200 61.5%,#d45800 69.7%,#c03000 80.9%,#bc2801 84.4%,#b82411 88.5%,#ae1b49 93.2%,#a21182 99.7%)"></i>
<i style="left:20.0px;width:1.3px;background:linear-gradient(#000000 0.3%,#000000 26.2%,#11000c 26.8%,#260030 27.4%,#320076 28.5%,#4600b8 30.3%,#5c00ef 32.1%,#6800fa 32.6%,#7600fe 33.2%,#8204e6 33.8%,#940caf 34.4%,#ab1858 35.0%,#b9250c 35.6%,#bd2b00 36.2%,#c63b00 38.5%,#d86100 46.8%,#df8400 51.5%,#e59400 55.0%,#e49100 58.5%,#dc7200 65.0%,#d55a00 69.1%,#c03100 80.3%,#bc2801 84.4%,#b82410 88.5%,#ae1b48 93.2%,#a21182 99.7%)"></i>
<i style="left:21.0px;width:1.3px;background:linear-gradient(#000000 0.3%,#000000 25.6%,#14000e 26.2%,#260032 26.8%,#2c0057 27.4%,#320077 27.9%,#4600b8 29.7%,#5d00f0 31.5%,#6800fa 32.1%,#7700fe 32.6%,#8305e4 33.2%,#970da8 33.8%,#ad1a4f 34.4%,#ba260a 35.0%,#be2c00 35.6%,#c73e00 38.5%,#d85f00 45.6%,#e28e00 51.5%,#e89b00 54.4%,#e69700 57.9%,#db6e00 65.6%,#d55a00 69.1%,#c03100 80.3%,#bc2801 84.4%,#b82410 88.5%,#ad1a4c 93.8%,#a21181 99.7%)"></i>
<i style="left:22.0px;width:1.3px;background:linear-gradient(#000000 0.3%,#000000 25.0%,#14000e 25.6%,#260032 26.2%,#2c0057 26.8%,#320077 27.4%,#4600b8 29.1%,#5c00f0 30.9%,#6800fa 31.5%,#7700fe 32.1%,#8305e4 32.6%,#970da6 33.2%,#ae1a4a 33.8%,#ba2608 34.4%,#be2c00 35.0%,#c73f00 37.9%,#d65b00 43.8%,#e79900 51.5%,#eba300 54.4%,#e79900 58.5%,#d65c00 68.5%,#c03000 80.3%,#bc2802 84.4%,#b82410 88.5%,#ae1a4b 93.8%,#a21280 99.7%)"></i>
<i style="left:23.0px;width:1.3px;background:linear-gradient(#000000 0.3%,#000000 24.4%,#11000c 25.0%,#260030 25.6%,#320076 26.8%,#4c00c9 29.1%,#5c00ee 30.3%,#6700fa 30.9%,#7700fe 31.5%,#8304e5 32.1%,#960da8 32.6%,#ae1a4b 33.2%,#ba2608 33.8%,#be2c00 34.4%,#c73f00 37.4%,#d35600 42.1%,#da6800 44.4%,#e79a00 49.7%,#eda900 53.2%,#eca500 56.2%,#e28c00 60.9%,#d65c00 68.5%,#c13200 79.7%,#bc2802 84.4%,#b8240f 88.5%,#ad1a4f 94.4%,#a2127f 99.7%)"></i>
<i style="left:24.0px;width:1.3px;background:linear-gradient(#000000 0.3%,#000000 23.8%,#0d0009 24.4%,#26002c 25.0%,#310074 26.2%,#4b00c8 28.5%,#5b00ec 29.7%,#6600fa 30.3%,#7500fe 30.9%,#8204e8 31.5%,#940caf 32.1%,#ac1951 32.6%,#ba2609 33.2%,#be2c00 33.8%,#c73f00 36.8%,#d15200 40.9%,#d96300 43.2%,#e99e00 48.5%,#efad00 51.5%,#efae00 55.0%,#e39000 60.3%,#d65c00 68.5%,#c13100 79.7%,#bc2802 84.4%,#b72314 89.1%,#ad1a4e 94.4%,#a2127f 99.7%)"></i>
<i style="left:25.0px;width:1.3px;background:linear-gradient(#000000 0.3%,#000000 23.2%,#070005 23.8%,#250027 24.4%,#300071 25.6%,#4a00c6 27.9%,#6500f9 29.7%,#7300fd 30.3%,#8103ec 30.9%,#910bb9 31.5%,#aa185b 32.1%,#b9250b 32.6%,#be2b00 33.2%,#c63c00 35.6%,#d15200 40.3%,#d96400 42.6%,#e69600 46.8%,#eeab00 49.1%,#f2b600 52.6%,#f0af00 55.6%,#dd7b00 63.2%,#d75e00 67.9%,#c13100 79.7%,#bc2802 84.4%,#b82413 89.1%,#ad1a4d 94.4%,#a3127e 99.7%)"></i>
<i style="left:26.0px;width:1.3px;background:linear-gradient(#000000 0.3%,#000000 23.2%,#240021 23.8%,#2f006c 25.0%,#4900c3 27.4%,#6300f9 29.1%,#7100fd 29.7%,#7f02f0 30.3%,#8d09c5 30.9%,#a71569 31.5%,#b8240f 32.1%,#bd2a00 32.6%,#c63c00 35.0%,#d15200 39.7%,#d96300 42.1%,#e38f00 45.6%,#eeaa00 47.9%,#f4ba00 50.9%,#f4bb00 53.8%,#efad00 56.2%,#de7e00 62.6%,#d75d00 67.9%,#c13100 79.7%,#bc2802 84.4%,#b82412 89.1%,#ae1a4b 94.4%,#a3127d 99.7%)"></i>
<i style="left:27.0px;width:1.3px;background:linear-gradient(#000000 0.3%,#000000 22.6%,#220019 23.2%,#2e0065 24.4%,#350080 25.0%,#4800c1 26.8%,#6100f8 28.5%,#6f00fc 29.1%,#7d02f6 29.7%,#8908d2 30.3%,#a3137a 30.9%,#b6221a 31.5%,#bc2900 32.1%,#c43800 33.8%,#d25500 39.7%,#d86100 41.5%,#e69600 45.6%,#f3b600 48.5%,#f6c200 51.5%,#f5be00 54.4%,#de8000 62.1%,#d65d00 67.9%,#c03100 79.7%,#bc2802 84.4%,#b82411 89.1%,#ad1950 95.0%,#a3127c 99.7%)"></i>
<i style="left:28.0px;width:1.3px;background:linear-gradient(#000000 0.3%,#000000 22.1%,#1a0012 22.6%,#270037 23.2%,#2d005e 23.8%,#33007c 24.4%,#4700bd 26.2%,#5600e0 27.4%,#5f00f5 27.9%,#6c00fb 28.5%,#7b01fb 29.1%,#8706d9 29.7%,#9f108d 30.3%,#b31f2e 30.9%,#bb2702 31.5%,#c43800 33.2%,#d25400 39.1%,#d96600 41.5%,#e59400 45.0%,#f3b800 47.9%,#f7c500 50.3%,#f7c600 53.2%,#f5be00 55.0%,#e08700 60.9%,#d65c00 67.9%,#c03100 79.7%,#bc2802 84.4%,#b82410 89.1%,#ad1a4f 95.0%,#a3127b 99.7%)"></i>
<i style="left:29.0px;width:1.3px;background:linear-gradient(#000000 0.3%,#000000 21.5%,#0f000a 22.1%,#26002e 22.6%,#320077 23.8%,#4600b9 25.6%,#5d00f1 27.4%,#6900fa 27.9%,#7900ff 28.5%,#8405e1 29.1%,#990da1 29.7%,#af1b45 30.3%,#ba2607 30.9%,#be2d00 31.5%,#c83f00 34.4%,#d15200 38.5%,#d96400 40.9%,#e49100 44.4%,#f5bf00 47.9%,#f9cc00 50.3%,#f8cb00 53.2%,#f6c200 55.0%,#e69600 59.1%,#dd7700 63.2%,#d65c00 67.9%,#c13200 79.1%,#bc2802 84.4%,#b82410 89.1%,#ac1953 95.6%,#a3137b 99.7%)"></i>
<i style="left:30.0px;width:1.3px;background:linear-gradient(#000000 0.3%,#000000 20.9%,#030002 21.5%,#240024 22.1%,#300071 23.2%,#4b00c8 25.6%,#5b00ec 26.8%,#6600fa 27.4%,#7500fe 27.9%,#8204e9 28.5%,#920bb5 29.1%,#aa175c 29.7%,#b9250c 30.3%,#bd2b00 30.9%,#c63d00 33.2%,#d15100 37.9%,#d86100 40.3%,#e28d00 43.8%,#f7c500 47.9%,#fbd300 50.9%,#f9cd00 53.8%,#f5be00 55.6%,#e89c00 58.5%,#de7e00 62.1%,#d75e00 67.4%,#c13200 79.1%,#bc2801 84.4%,#b72314 89.7%,#ac1952 95.6%,#a4137a 99.7%)"></i>
<i style="left:31.0px;width:1.3px;background:linear-gradient(#000000 0.3%,#000000 20.9%,#220019 21.5%,#2f0068 22.6%,#3c0099 23.8%,#4a00c5 25.0%,#6300f9 26.8%,#7100fd 27.4%,#7f02f1 27.9%,#8c09ca 28.5%,#a41376 29.1%,#b6221b 29.7%,#bc2800 30.3%,#c43800 32.1%,#d25300 37.9%,#d96500 40.3%,#e49200 43.8%,#f7c500 47.4%,#fbd500 49.7%,#fcd800 52.1%,#f9ce00 54.4%,#e89c00 58.5%,#de7e00 62.1%,#d75d00 67.4%,#c13200 79.1%,#bc2801 84.4%,#b82413 89.7%,#ac1951 95.6%,#a41379 99.7%)"></i>
<i style="left:32.0px;width:1.3px;background:linear-gradient(#000000 0.3%,#000000 20.3%,#16000f 20.9%,#270035 21.5%,#2d005d 22.1%,#34007c 22.6%,#4800c1 24.4%,#6000f8 26.2%,#6e00fc 26.8%,#7c01f9 27.4%,#8707d8 27.9%,#9e0f90 28.5%,#b11d38 29.1%,#bb2705 29.7%,#bf2e00 30.3%,#c84000 33.2%,#d15200 37.4%,#d86100 39.7%,#e28d00 43.2%,#f8cb00 47.4%,#fcda00 49.7%,#fcda00 52.6%,#fad100 54.4%,#eba300 57.9%,#df8200 61.5%,#d75d00 67.4%,#c13200 79.1%,#bb2703 85.0%,#b82411 89.7%,#ab1955 96.2%,#a41378 99.7%)"></i>
<i style="left:33.0px;width:1.3px;background:linear-gradient(#000000 0.3%,#000000 19.7%,#070005 20.3%,#250029 20.9%,#320075 22.1%,#4700bc 23.8%,#5e00f3 25.6%,#7900ff 26.8%,#8405e2 27.4%,#960caa 27.9%,#ab1956 28.5%,#b9250c 29.1%,#bd2b00 29.7%,#c63d00 32.1%,#d05000 36.8%,#d96500 39.7%,#e49100 43.2%,#fad000 47.4%,#fddd00 49.7%,#fddd00 52.6%,#fbd400 54.4%,#eba300 57.9%,#df8100 61.5%,#d65d00 67.4%,#c13100 79.1%,#bb2703 85.0%,#b82410 89.7%,#aa185a 96.8%,#a41377 99.7%)"></i>
<i style="left:34.0px;width:1.3px;background:linear-gradient(#000000 0.3%,#000000 19.7%,#23001b 20.3%,#2f006c 21.5%,#4500b6 23.2%,#5c00ee 25.0%,#6700fa 25.6%,#7500fe 26.2%,#8103ec 26.8%,#8e09c3 27.4%,#a51474 27.9%,#b6221f 28.5%,#bc2801 29.1%,#c43800 30.9%,#d15200 36.8%,#d86100 39.1%,#e59500 43.2%,#fbd600 47.4%,#fde200 50.3%,#fddd00 53.2%,#fcd700 54.4%,#eeab00 57.4%,#df8500 60.9%,#d65d00 67.4%,#c13100 79.1%,#bb2703 85.0%,#b82410 89.7%,#a41376 99.7%)"></i>
<i style="left:35.0px;width:1.3px;background:linear-gradient(#000000 0.3%,#000000 19.1%,#16000f 19.7%,#270036 20.3%,#2e005f 20.9%,#35007f 21.5%,#4a00c5 23.2%,#6300f9 25.0%,#7100fc 25.6%,#7e02f5 26.2%,#8807d5 26.8%,#9e0f91 27.4%,#b01c40 27.9%,#ba2608 28.5%,#be2d00 29.1%,#c63d00 31.5%,#d05100 36.2%,#d96500 39.1%,#e39000 42.6%,#fbd400 46.8%,#fde200 49.1%,#fde400 52.1%,#fcd900 54.4%,#eca400 57.9%,#df8100 61.5%,#d65d00 67.4%,#c13300 78.5%,#bb2703 85.0%,#b8240f 89.7%,#a41376 99.7%)"></i>
<i style="left:36.0px;width:1.3px;background:linear-gradient(#000000 0.3%,#000000 18.5%,#060004 19.1%,#250028 19.7%,#320077 20.9%,#4800c1 22.6%,#6000f8 24.4%,#7b00fd 25.6%,#8405e0 26.2%,#950cac 26.8%,#b82410 27.9%,#bd2900 28.5%,#c43900 30.3%,#d15200 36.2%,#d86100 38.5%,#e59400 42.6%,#fcd800 46.8%,#fee700 49.7%,#fde400 52.6%,#fcdb00 54.4%,#f5bf00 56.2%,#eca500 57.9%,#e08600 60.9%,#d75f00 66.8%,#c13200 78.5%,#bb2703 85.0%,#b72313 90.3%,#a51375 99.7%)"></i>
<i style="left:37.0px;width:1.3px;background:linear-gradient(#000000 0.3%,#000000 18.5%,#22001a 19.1%,#30006e 20.3%,#4700bb 22.1%,#5e00f3 23.8%,#7700fe 25.0%,#8104ea 25.6%,#8d09c6 26.2%,#a2127f 26.8%,#b21e32 27.4%,#bb2705 27.9%,#bf2d00 28.5%,#c73d00 30.9%,#d05100 35.6%,#d96400 38.5%,#e38f00 42.1%,#fbd500 46.2%,#fde300 47.9%,#feea00 50.9%,#fddd00 54.4%,#f9cc00 55.6%,#efad00 57.4%,#e08600 60.9%,#d75f00 66.8%,#c13200 78.5%,#bb2703 85.0%,#b82412 90.3%,#a51474 99.7%)"></i>
<i style="left:38.0px;width:1.3px;background:linear-gradient(#000000 0.3%,#000000 17.9%,#15000f 18.5%,#270036 19.1%,#2e0061 19.7%,#350081 20.3%,#4400b4 21.5%,#5c00ee 23.2%,#6600fa 23.8%,#7300fd 24.4%,#7e02f3 25.0%,#8807d6 25.6%,#9b0e9b 26.2%,#b9250e 27.4%,#bd2a00 27.9%,#c43900 29.7%,#d15200 35.6%,#d86000 37.9%,#e49300 42.1%,#fcd900 46.2%,#fee800 48.5%,#feeb00 51.5%,#fdde00 54.4%,#f9ce00 55.6%,#efae00 57.4%,#e08600 60.9%,#d75e00 66.8%,#c13200 78.5%,#bb2702 85.0%,#b82411 90.3%,#a51473 99.7%)"></i>
<i style="left:39.0px;width:1.3px;background:linear-gradient(#000000 0.3%,#000000 17.4%,#050004 17.9%,#250029 18.5%,#330079 19.7%,#4a00c5 21.5%,#6300f9 23.2%,#7b01fb 24.4%,#8405e1 25.0%,#920bb5 25.6%,#a51472 26.2%,#b42029 26.8%,#bb2704 27.4%,#c23300 28.5%,#d35700 36.2%,#da6a00 38.5%,#e28d00 41.5%,#fbd500 45.6%,#fde500 47.4%,#feee00 50.3%,#fde300 53.8%,#fcd900 55.0%,#f0af00 57.4%,#e08600 60.9%,#d75e00 66.8%,#c13200 78.5%,#bb2702 85.0%,#b82410 90.3%,#a51472 99.7%)"></i>
<i style="left:40.0px;width:1.3px;background:linear-gradient(#000000 0.3%,#000000 17.4%,#23001b 17.9%,#300071 19.1%,#4800c0 20.9%,#6000f7 22.6%,#7800ff 23.8%,#8104ea 24.4%,#8b08cc 25.0%,#9f0f8f 25.6%,#ae1a4b 26.2%,#b9250d 26.8%,#bd2a00 27.4%,#c43900 29.1%,#d15100 35.0%,#d96600 37.9%,#e49100 41.5%,#fcd800 45.6%,#feea00 47.9%,#feef00 50.9%,#fde100 54.4%,#fad000 55.6%,#f0af00 57.4%,#e08600 60.9%,#d75e00 66.8%,#c13200 78.5%,#bb2702 85.0%,#b82410 90.3%,#a51471 99.7%)"></i>
<i style="left:41.0px;width:1.3px;background:linear-gradient(#000000 0.3%,#000000 16.8%,#170010 17.4%,#280038 17.9%,#2e0064 18.5%,#360084 19.1%,#4600b9 20.3%,#5d00f2 22.1%,#7400fd 23.2%,#7e02f2 23.8%,#8707d9 24.4%,#960da8 25.0%,#b52125 26.2%,#bb2704 26.8%,#c13300 27.9%,#d15300 35.0%,#da6800 37.9%,#e59500 41.5%,#fcdb00 45.6%,#feeb00 47.9%,#fff000 50.9%,#fde100 54.4%,#fad100 55.6%,#f0b000 57.4%,#e08700 60.9%,#d75e00 66.8%,#c13200 78.5%,#bb2702 85.0%,#b72314 90.9%,#a51471 99.7%)"></i>
<i style="left:42.0px;width:1.3px;background:linear-gradient(#000000 0.3%,#000000 16.2%,#080006 16.8%,#25002b 17.4%,#2c0057 17.9%,#34007c 18.5%,#4400b2 19.7%,#5300da 20.9%,#5b00ed 21.5%,#6500f9 22.1%,#7000fc 22.6%,#7c01fa 23.2%,#8405e2 23.8%,#8f0ac0 24.4%,#a11186 25.0%,#af1b46 25.6%,#b9250d 26.2%,#bd2a00 26.8%,#c43800 28.5%,#d05100 34.4%,#d96400 37.4%,#e38f00 40.9%,#f8cb00 44.4%,#fdde00 45.6%,#feef00 48.5%,#fff000 51.5%,#fde200 54.4%,#fad200 55.6%,#eda900 57.9%,#df8200 61.5%,#d75e00 66.8%,#c23300 77.9%,#bc2802 85.0%,#b82412 90.9%,#a61470 99.7%)"></i>
<i style="left:43.0px;width:1.3px;background:linear-gradient(#000000 0.3%,#000000 16.2%,#23001f 16.8%,#310074 17.9%,#4a00c4 19.7%,#6100f8 21.5%,#7900ff 22.6%,#8908d3 23.8%,#990e9f 24.4%,#b52123 25.6%,#bb2705 26.2%,#c13200 27.4%,#d15200 34.4%,#d96700 37.4%,#e49200 40.9%,#fcd900 45.0%,#fee800 46.8%,#fff200 50.3%,#fee700 53.8%,#fcdc00 55.0%,#eeaa00 57.9%,#df8300 61.5%,#d75e00 66.8%,#c23300 77.9%,#bb2703 85.6%,#b82411 90.9%,#a6146f 99.7%)"></i>
<i style="left:44.0px;width:1.3px;background:linear-gradient(#000000 0.3%,#000000 15.6%,#1b0013 16.2%,#28003d 16.8%,#2f0069 17.4%,#4700be 19.1%,#5f00f5 20.9%,#7500fe 22.1%,#7e02f3 22.6%,#8606dc 23.2%,#920bb7 23.8%,#af1b44 25.0%,#b9250d 25.6%,#bc2900 26.2%,#c43700 27.9%,#d04f00 33.8%,#d86200 36.8%,#e18c00 40.3%,#f7c700 43.8%,#fde100 45.6%,#fff200 49.1%,#feef00 52.1%,#fde300 54.4%,#fbd400 55.6%,#eeaa00 57.9%,#df8300 61.5%,#d75e00 66.8%,#c13300 77.9%,#bb2703 85.6%,#b82410 90.9%,#a6156e 99.7%)"></i>
<i style="left:45.0px;width:1.3px;background:linear-gradient(#000000 0.3%,#000000 15.0%,#0e000a 15.6%,#260031 16.2%,#2d005d 16.8%,#350080 17.4%,#4500b7 18.5%,#5d00f0 20.3%,#6600fa 20.9%,#7100fd 21.5%,#7c01fa 22.1%,#8b08cc 23.2%,#9b0e9a 23.8%,#b42027 25.0%,#ba2606 25.6%,#be2c00 26.2%,#c53b00 28.5%,#d05000 33.8%,#d96400 36.8%,#e38e00 40.3%,#f8ca00 43.8%,#fde300 45.6%,#fff200 49.1%,#feef00 52.1%,#fde300 54.4%,#fbd500 55.6%,#eeab00 57.9%,#df8300 61.5%,#d75e00 66.8%,#c13300 77.9%,#bb2703 85.6%,#b82410 90.9%,#a6156c 99.7%)"></i>
<i style="left:46.0px;width:1.3px;background:linear-gradient(#000000 0.3%,#000000 15.0%,#240024 15.6%,#320078 16.8%,#4300b0 17.9%,#4b00c7 18.5%,#5a00eb 19.7%,#6300f9 20.3%,#7900ff 21.5%,#8707d8 22.6%,#940bb2 23.2%,#ae1b48 24.4%,#b8240f 25.0%,#bc2801 25.6%,#c33600 27.4%,#d15100 33.8%,#d96600 36.8%,#e49100 40.3%,#f9cd00 43.8%,#fdde00 45.0%,#fff000 47.9%,#fff300 50.9%,#fde400 54.4%,#fbd500 55.6%,#eeab00 57.9%,#df8300 61.5%,#d75e00 66.8%,#c13300 77.9%,#bb2703 85.6%,#b82410 90.9%,#a7156b 99.7%)"></i>
<i style="left:47.0px;width:1.3px;background:linear-gradient(#000000 0.3%,#000000 14.4%,#220018 15.0%,#300070 16.2%,#4900c2 17.9%,#6000f8 19.7%,#7500fe 20.9%,#7d02f5 21.5%,#8405e2 22.1%,#8d09c8 22.6%,#a81667 23.8%,#b31f31 24.4%,#ba260a 25.0%,#bd2a00 25.6%,#c53900 27.9%,#cf4f00 33.2%,#d86100 36.2%,#e59400 40.3%,#fcd900 44.4%,#fee900 46.2%,#fff400 49.7%,#feeb00 53.2%,#fdde00 55.0%,#efac00 57.9%,#df8400 61.5%,#d75e00 66.8%,#c13300 77.9%,#bb2703 85.6%,#b72313 91.5%,#a7156a 99.7%)"></i>
<i style="left:48.0px;width:1.3px;background:linear-gradient(#000000 0.3%,#000000 13.8%,#14000e 14.4%,#270037 15.0%,#2e0064 15.6%,#360085 16.2%,#4700bc 17.4%,#5e00f3 19.1%,#7100fd 20.3%,#7b00fc 20.9%,#8807d6 22.1%,#930bb2 22.6%,#ac1952 23.8%,#b6221d 24.4%,#bb2705 25.0%,#be2c00 25.6%,#c63c00 28.5%,#d05000 33.2%,#d96300 36.2%,#e28d00 39.7%,#f7c700 43.2%,#fde100 45.0%,#fff200 48.5%,#fff100 51.5%,#fde400 54.4%,#fbd600 55.6%,#efac00 57.9%,#df8400 61.5%,#d75e00 66.8%,#c13300 77.9%,#bb2703 85.6%,#b82412 91.5%,#a71668 99.7%)"></i>
<i style="left:49.0px;width:1.3px;background:linear-gradient(#000000 0.3%,#000000 13.2%,#070005 13.8%,#25002b 14.4%,#2c0057 15.0%,#34007d 15.6%,#4500b5 16.8%,#5400dc 17.9%,#5c00ee 18.5%,#6400f9 19.1%,#7800fe 20.3%,#7f02f2 20.9%,#8505e0 21.5%,#8c09c8 22.1%,#a51472 23.2%,#b8240f 24.4%,#bc2802 25.0%,#c33600 26.8%,#d05000 33.2%,#d96400 36.2%,#e38f00 39.7%,#f8c900 43.2%,#fde200 45.0%,#fff200 48.5%,#fff100 51.5%,#fde400 54.4%,#fcd600 55.6%,#efad00 57.9%,#df8400 61.5%,#d75e00 66.8%,#c13300 77.9%,#bb2702 85.6%,#b82411 91.5%,#a81666 99.7%)"></i>
<i style="left:50.0px;width:1.3px;background:linear-gradient(#000000 0.3%,#000000 13.2%,#23001e 13.8%,#310075 15.0%,#4200ad 16.2%,#4a00c6 16.8%,#6200f8 18.5%,#7400fe 19.7%,#7c01f8 20.3%,#8807d6 21.5%,#920bb7 22.1%,#a81663 23.2%,#b21e35 23.8%,#b9250c 24.4%,#bc2800 25.0%,#c33600 26.8%,#cf4e00 32.6%,#d96600 36.2%,#e49100 39.7%,#fddd00 44.4%,#feec00 46.8%,#fff400 50.3%,#fde400 54.4%,#fcd700 55.6%,#efad00 57.9%,#df8500 61.5%,#d75e00 66.8%,#c13300 77.9%,#bb2702 85.6%,#b82410 91.5%,#a81664 99.7%)"></i>
<i style="left:51.0px;width:1.3px;background:linear-gradient(#000000 0.3%,#000000 12.6%,#1b0013 13.2%,#28003d 13.8%,#2f006a 14.4%,#4800c1 16.2%,#5f00f6 17.9%,#7a00fe 19.7%,#8506de 20.9%,#8c09cb 21.5%,#a21280 22.6%,#b4202a 23.8%,#b9250a 24.4%,#bd2900 25.0%,#c33700 26.8%,#cf4e00 32.6%,#d86000 35.6%,#e49300 39.7%,#fdde00 44.4%,#feed00 46.8%,#fff400 50.3%,#fde400 54.4%,#fcd700 55.6%,#f0ae00 57.9%,#df8500 61.5%,#d75e00 66.8%,#c13300 77.9%,#bb2702 85.6%,#b82410 91.5%,#a91662 99.7%)"></i>
<i style="left:52.0px;width:1.3px;background:linear-gradient(#000000 0.3%,#000000 12.1%,#0d0009 12.6%,#260030 13.2%,#2d005d 13.8%,#350081 14.4%,#4600b9 15.6%,#5d00f1 17.4%,#6600f9 17.9%,#7800fe 19.1%,#8304e5 20.3%,#8807d6 20.9%,#910abb 21.5%,#a51474 22.6%,#b52121 23.8%,#ba2608 24.4%,#bd2a00 25.0%,#c43700 26.8%,#cf4f00 32.6%,#d86100 35.6%,#e59500 39.7%,#fcd800 43.8%,#fee800 45.6%,#fff400 49.7%,#feeb00 53.2%,#fddf00 55.0%,#f6c200 56.8%,#eaa000 59.1%,#df8100 62.1%,#d75e00 66.8%,#c13300 77.9%,#bb2702 85.6%,#b82410 91.5%,#a91760 99.7%)"></i>
<i style="left:53.0px;width:1.3px;background:linear-gradient(#000000 0.3%,#000000 12.1%,#240024 12.6%,#320078 13.8%,#4400b1 15.0%,#4c00c8 15.6%,#5b00ec 16.8%,#6300f9 17.4%,#7500fe 18.5%,#7c01f8 19.1%,#8c09ca 20.9%,#9f108c 22.1%,#af1b44 23.2%,#b62219 23.8%,#ba2607 24.4%,#be2b00 25.0%,#c43800 26.8%,#d04f00 32.6%,#d86200 35.6%,#e28d00 39.1%,#fcd900 43.8%,#fee800 45.6%,#fff400 49.7%,#feeb00 53.2%,#fddf00 55.0%,#f6c300 56.8%,#eaa000 59.1%,#df8100 62.1%,#d75e00 66.8%,#c23400 77.4%,#bb2702 85.6%,#b72313 92.1%,#aa175d 99.7%)"></i>
<i style="left:54.0px;width:1.3px;background:linear-gradient(#000000 0.3%,#000000 11.5%,#210017 12.1%,#30006f 13.2%,#4900c3 15.0%,#6000f8 16.8%,#7b00fd 18.5%,#8907d3 20.3%,#9a0e9d 21.5%,#b11d3a 23.2%,#b82411 23.8%,#bb2705 24.4%,#c13200 25.6%,#d05000 32.6%,#d96400 35.6%,#e38e00 39.1%,#fcda00 43.8%,#fee800 45.6%,#fff400 49.7%,#fee800 53.8%,#fcd800 55.6%,#eda800 58.5%,#df8100 62.1%,#d75f00 66.8%,#c23400 77.4%,#bc2802 85.6%,#b82412 92.1%,#aa185b 99.7%)"></i>
<i style="left:55.0px;width:1.3px;background:linear-gradient(#000000 0.3%,#000000 10.9%,#12000d 11.5%,#270035 12.1%,#2e0061 12.6%,#360083 13.2%,#4700bb 14.4%,#5e00f2 16.2%,#6f00fc 17.4%,#7800ff 17.9%,#8707d8 19.7%,#8d09c6 20.3%,#a51471 22.1%,#b9250e 23.8%,#bb2703 24.4%,#c33600 26.2%,#d05000 32.6%,#d96400 35.6%,#e39000 39.1%,#fcda00 43.8%,#fee800 45.6%,#fff400 49.7%,#fee800 53.8%,#fcd900 55.6%,#eda800 58.5%,#df8200 62.1%,#d75f00 66.8%,#c23400 77.4%,#bb2703 86.2%,#b82411 92.1%,#ab1859 99.7%)"></i>
<i style="left:56.0px;width:1.3px;background:linear-gradient(#000000 0.3%,#000000 10.3%,#040003 10.9%,#250028 11.5%,#33007a 12.6%,#4400b2 13.8%,#5400db 15.0%,#5b00ec 15.6%,#6300f9 16.2%,#7500fe 17.4%,#7c01f8 17.9%,#8a08cf 19.7%,#a91662 22.1%,#b52122 23.2%,#b9250b 23.8%,#bc2801 24.4%,#c33600 26.2%,#cf4d00 32.1%,#d96500 35.6%,#e49100 39.1%,#fcdb00 43.8%,#feeb00 46.2%,#fff400 49.7%,#fee800 53.8%,#fcd900 55.6%,#eda900 58.5%,#df8200 62.1%,#d75f00 66.8%,#c23400 77.4%,#bb2703 86.2%,#b82410 92.1%,#ab1856 99.7%)"></i>
<i style="left:57.0px;width:1.3px;background:linear-gradient(#000000 0.3%,#000000 10.3%,#22001b 10.9%,#300071 12.1%,#4900c3 13.8%,#6000f8 15.6%,#7b00fd 17.4%,#8907d4 19.1%,#a0108b 20.9%,#b21e36 22.6%,#b72315 23.2%,#bd2900 24.4%,#c33600 26.2%,#cf4e00 32.1%,#d96600 35.6%,#e49200 39.1%,#fcdc00 43.8%,#feeb00 46.2%,#fff400 49.7%,#fee800 53.8%,#fcd900 55.6%,#eea900 58.5%,#df8200 62.1%,#d75f00 66.8%,#c23400 77.4%,#bb2703 86.2%,#b82410 92.1%,#ac1953 99.7%)"></i>
<i style="left:58.0px;width:1.3px;background:linear-gradient(#000000 0.3%,#000000 9.7%,#160010 10.3%,#270038 10.9%,#2e0064 11.5%,#360084 12.1%,#4700bb 13.2%,#5d00f2 15.0%,#6600fa 15.6%,#7800fe 16.8%,#8204e7 17.9%,#8d09c7 19.1%,#af1b45 22.1%,#b42026 22.6%,#b9250e 23.2%,#bd2a00 24.4%,#c43900 26.8%,#cf4e00 32.1%,#d86000 35.0%,#e49300 39.1%,#fcdc00 43.8%,#feeb00 46.2%,#fff400 49.7%,#fee800 53.8%,#fcda00 55.6%,#eeaa00 58.5%,#df8300 62.1%,#d65c00 67.4%,#c23400 77.4%,#bb2703 86.2%,#b72313 92.6%,#ac1951 99.7%)"></i>
<i style="left:59.0px;width:1.3px;background:linear-gradient(#000000 0.3%,#000000 9.1%,#080006 9.7%,#25002b 10.3%,#33007b 11.5%,#4400b2 12.6%,#5300da 13.8%,#6200f9 15.0%,#7400fd 16.2%,#7c01fa 16.8%,#8a08d0 18.5%,#a7156a 20.9%,#b72317 22.6%,#b9250a 23.2%,#bc2802 23.8%,#c43900 26.8%,#cf4e00 32.1%,#d86100 35.0%,#e59300 39.1%,#fcdc00 43.8%,#feeb00 46.2%,#fff400 49.7%,#fee800 53.8%,#fcda00 55.6%,#eeaa00 58.5%,#df8300 62.1%,#d65d00 67.4%,#c23400 77.4%,#bb2703 86.2%,#b82412 92.6%,#ad1a4e 99.7%)"></i>
<i style="left:60.0px;width:1.3px;background:linear-gradient(#000000 0.3%,#000000 9.1%,#23001e 9.7%,#310072 10.9%,#4900c2 12.6%,#5f00f6 14.4%,#7a00ff 16.2%,#8807d6 17.9%,#970da6 19.1%,#b52125 22.1%,#b8240e 22.6%,#bc2900 23.8%,#c63b00 27.4%,#cf4f00 32.1%,#d86100 35.0%,#e59400 39.1%,#fcdc00 43.8%,#feeb00 46.2%,#fff400 49.7%,#fee900 53.8%,#fcda00 55.6%,#eeab00 58.5%,#df8300 62.1%,#d65d00 67.4%,#c23400 77.4%,#bb2703 86.2%,#b82411 92.6%,#ad1a4c 99.7%)"></i>
<i style="left:61.0px;width:1.3px;background:linear-gradient(#000000 0.3%,#000000 8.5%,#1a0012 9.1%,#28003a 9.7%,#2e0065 10.3%,#3e00a0 11.5%,#4600ba 12.1%,#5c00ef 13.8%,#6400f9 14.4%,#7600fe 15.6%,#7d01f7 16.2%,#8c09cb 17.9%,#a81663 20.3%,#b72316 22.1%,#bb2704 23.2%,#c13200 25.0%,#cf4f00 32.1%,#d86200 35.0%,#e59400 39.1%,#fcdc00 43.8%,#feeb00 46.2%,#fff400 49.7%,#fee900 53.8%,#fcdb00 55.6%,#efac00 58.5%,#df8400 62.1%,#d65d00 67.4%,#c23400 77.4%,#bb2702 86.2%,#b82410 92.6%,#ae1b49 99.7%)"></i>
<i style="left:62.0px;width:1.3px;background:linear-gradient(#000000 0.3%,#000000 7.9%,#0c0008 8.5%,#26002d 9.1%,#2c0057 9.7%,#34007c 10.3%,#4400b1 11.5%,#4b00c7 12.1%,#6100f8 13.8%,#7b00fd 15.6%,#8908d3 17.4%,#a6156d 19.7%,#b52121 21.5%,#b9250e 22.1%,#bc2801 23.2%,#c84000 28.5%,#d35600 33.2%,#da6900 35.6%,#e59400 39.1%,#fcdc00 43.8%,#feeb00 46.2%,#fff400 49.7%,#fee900 53.8%,#fcdb00 55.6%,#efac00 58.5%,#df8400 62.1%,#d65d00 67.4%,#c23400 77.4%,#bb2702 86.2%,#b72313 93.2%,#af1b46 99.7%)"></i>
<i style="left:63.0px;width:1.3px;background:linear-gradient(#000000 0.3%,#000000 7.9%,#240021 8.5%,#310073 9.7%,#4900c1 11.5%,#5e00f3 13.2%,#6f00fc 14.4%,#7800fe 15.0%,#8204e7 16.2%,#8d09c6 17.4%,#aa175d 19.7%,#b72314 21.5%,#bc2900 23.2%,#d15300 32.6%,#d86200 35.0%,#e59400 39.1%,#fcdc00 43.8%,#feeb00 46.2%,#fff400 49.7%,#fee900 53.8%,#fcdb00 55.6%,#eca500 59.1%,#df8400 62.1%,#d75d00 67.4%,#c23400 77.4%,#bb2702 86.2%,#b82412 93.2%,#af1b44 99.7%)"></i>
<i style="left:64.0px;width:1.3px;background:linear-gradient(#000000 0.3%,#000000 7.4%,#1e0015 7.9%,#2f0067 9.1%,#3e009f 10.3%,#4600b9 10.9%,#5b00ed 12.6%,#6300f9 13.2%,#7400fd 14.4%,#7c01fa 15.0%,#8a08d1 16.8%,#a71667 19.1%,#b6221f 20.9%,#b9250e 21.5%,#bd2a00 23.2%,#d25300 32.6%,#d86200 35.0%,#e59400 39.1%,#fcdc00 43.8%,#feeb00 46.2%,#fff400 49.7%,#fee900 53.8%,#fcdc00 55.6%,#eca600 59.1%,#df8500 62.1%,#d75d00 67.4%,#c23400 77.4%,#bb2702 86.2%,#b82410 93.2%,#b01c42 99.7%)"></i>
<i style="left:65.0px;width:1.3px;background:linear-gradient(#000000 0.3%,#000000 6.8%,#11000c 7.4%,#260031 7.9%,#2d005a 8.5%,#34007d 9.1%,#4300b0 10.3%,#4b00c6 10.9%,#5f00f7 12.6%,#7900ff 14.4%,#8807d6 16.2%,#8f0ac1 16.8%,#a51472 18.5%,#b82412 20.9%,#bc2800 22.6%,#d05000 32.1%,#d96300 35.0%,#e59400 39.1%,#fcdb00 43.8%,#feeb00 46.2%,#fff400 49.7%,#fee900 53.8%,#fcdc00 55.6%,#eca600 59.1%,#de8000 62.6%,#d75d00 67.4%,#c23400 77.4%,#bb2703 86.8%,#b72313 93.8%,#b01c3f 99.7%)"></i>
<i style="left:66.0px;width:1.3px;background:linear-gradient(#000000 0.3%,#000000 6.2%,#030002 6.8%,#240025 7.4%,#310074 8.5%,#4800c0 10.3%,#5d00f0 12.1%,#6400f9 12.6%,#7500fe 13.8%,#7c01f9 14.4%,#8b08cd 16.2%,#a81663 18.5%,#b6221d 20.3%,#b9250e 20.9%,#bc2900 22.6%,#d05000 32.1%,#d96300 35.0%,#e59300 39.1%,#fcdb00 43.8%,#feeb00 46.2%,#fff300 49.7%,#fee900 53.8%,#fcdc00 55.6%,#eda700 59.1%,#df8100 62.6%,#d75d00 67.4%,#c23400 77.4%,#bb2703 86.8%,#b82412 93.8%,#b11d3c 99.7%)"></i>
<i style="left:67.0px;width:1.3px;background:linear-gradient(#000000 0.3%,#000000 6.2%,#220019 6.8%,#2f0069 7.9%,#4600b8 9.7%,#5a00ea 11.5%,#6100f8 12.1%,#7a00ff 13.8%,#8807d5 15.6%,#980da3 16.8%,#b01c3e 19.1%,#b82411 20.3%,#bc2801 22.1%,#d05000 32.1%,#d96300 35.0%,#e59300 39.1%,#fcdb00 43.8%,#feea00 46.2%,#fff300 49.7%,#fee900 53.8%,#fddd00 55.6%,#eda800 59.1%,#df8100 62.6%,#d75e00 67.4%,#c23400 77.4%,#bb2703 86.8%,#b82410 93.8%,#b11d3a 99.7%)"></i>
<i style="left:68.0px;width:1.3px;background:linear-gradient(#000000 0.3%,#000000 5.6%,#15000f 6.2%,#270034 6.8%,#2d005c 7.4%,#34007d 7.9%,#4a00c5 9.7%,#5e00f3 11.5%,#6e00fc 12.6%,#7600fe 13.2%,#7d01f7 13.8%,#8c09ca 15.6%,#a91760 17.9%,#b6221b 19.7%,#b9250e 20.3%,#bc2800 22.1%,#d05000 32.1%,#d96300 35.0%,#e49300 39.1%,#fcda00 43.8%,#feea00 46.2%,#fff300 50.3%,#fee600 54.4%,#fbd600 56.2%,#eda800 59.1%,#df8100 62.6%,#d75e00 67.4%,#c13300 77.9%,#bb2702 86.8%,#b82412 94.4%,#b11d38 99.7%)"></i>
<i style="left:69.0px;width:1.3px;background:linear-gradient(#000000 0.3%,#000000 5.0%,#080006 5.6%,#250028 6.2%,#320075 7.4%,#4800bf 9.1%,#5b00ed 10.9%,#6200f9 11.5%,#7b00fd 13.2%,#8907d4 15.0%,#a7156b 17.4%,#b82411 19.7%,#bc2900 22.1%,#d05000 32.1%,#d96300 35.0%,#e49200 39.1%,#fcd900 43.8%,#feea00 46.2%,#fff300 50.3%,#fee600 54.4%,#fcd600 56.2%,#eda900 59.1%,#df8200 62.6%,#d75e00 67.4%,#c23300 77.9%,#bb2702 86.8%,#b72314 95.0%,#b21e35 99.7%)"></i>
<i style="left:70.0px;width:1.3px;background:linear-gradient(#000000 0.3%,#000000 5.0%,#23001c 5.6%,#2f006b 6.8%,#4500b6 8.5%,#5900e7 10.3%,#5f00f6 10.9%,#7700fe 12.6%,#7d02f6 13.2%,#8706da 14.4%,#8c09c8 15.0%,#a41377 16.8%,#b6221b 19.1%,#b9250e 19.7%,#bd2900 22.1%,#cf4d00 31.5%,#d96300 35.0%,#e49200 39.1%,#fcd900 43.8%,#fee700 45.6%,#fff200 49.7%,#fee900 53.8%,#fdde00 55.6%,#eba200 59.7%,#df8200 62.6%,#d75e00 67.4%,#c23300 77.9%,#bb2703 87.4%,#b82413 95.0%,#b21e33 99.7%)"></i>
<i style="left:71.0px;width:1.3px;background:linear-gradient(#000000 0.3%,#000000 4.4%,#190012 5.0%,#270037 5.6%,#2d005e 6.2%,#34007e 6.8%,#4900c3 8.5%,#5c00ef 10.3%,#6300f9 10.9%,#7b00fc 12.6%,#8908d3 14.4%,#a71569 16.8%,#b52124 18.5%,#b82411 19.1%,#bc2800 21.5%,#cf4d00 31.5%,#d86200 35.0%,#e49100 39.1%,#fcd800 43.8%,#fee600 45.6%,#fff200 49.7%,#fee900 53.8%,#fdde00 55.6%,#eba200 59.7%,#df8200 62.6%,#d75e00 67.4%,#c23300 77.9%,#bb2703 87.4%,#b82411 95.0%,#b31f31 99.7%)"></i>
<i style="left:72.0px;width:1.3px;background:linear-gradient(#000000 0.3%,#000000 3.8%,#0b0008 4.4%,#25002a 5.0%,#320075 6.2%,#4700bc 7.9%,#6000f8 10.3%,#7800fe 12.1%,#8204e7 13.2%,#8d09c7 14.4%,#a51375 16.2%,#b31f2f 17.9%,#b6221a 18.5%,#b8240e 19.1%,#bc2900 21.5%,#cd4a00 30.9%,#d86200 35.0%,#e39000 39.1%,#fddd00 44.4%,#feed00 47.4%,#fff100 50.9%,#fde300 55.0%,#f9ce00 56.8%,#eeaa00 59.1%,#df8300 62.6%,#d75e00 67.4%,#c23300 77.9%,#bb2703 87.4%,#b82413 95.6%,#b31f2f 99.7%)"></i>
<i style="left:73.0px;width:1.3px;background:linear-gradient(#000000 0.3%,#000000 3.8%,#23001e 4.4%,#2f006b 5.6%,#4400b3 7.4%,#5100d5 8.5%,#5d00f2 9.7%,#6400f9 10.3%,#7400fd 11.5%,#7b01fc 12.1%,#8908d2 13.8%,#a71668 16.2%,#b52124 17.9%,#b82411 18.5%,#bd2900 21.5%,#cd4a00 30.9%,#d86200 35.0%,#e39000 39.1%,#fcdc00 44.4%,#feec00 47.4%,#fff100 50.9%,#fde300 55.0%,#f9cf00 56.8%,#eeaa00 59.1%,#df8300 62.6%,#d75f00 67.4%,#c23300 77.9%,#bb2702 87.4%,#b82411 95.6%,#b31f2d 99.7%)"></i>
<i style="left:74.0px;width:1.3px;background:linear-gradient(#000000 0.3%,#000000 3.2%,#1a0012 3.8%,#270037 4.4%,#2d005d 5.0%,#34007c 5.6%,#4800c1 7.4%,#6100f8 9.7%,#7800ff 11.5%,#8204e7 12.6%,#8706d9 13.2%,#8d09c6 13.8%,#a51474 15.6%,#b31f2e 17.4%,#b6221b 17.9%,#b8240e 18.5%,#bd2900 21.5%,#cb4700 30.3%,#d86100 35.0%,#e38f00 39.1%,#fcdc00 44.4%,#feec00 47.4%,#fff100 50.9%,#fde300 55.0%,#facf00 56.8%,#eeab00 59.1%,#df8300 62.6%,#d75f00 67.4%,#c23300 77.9%,#bb2702 87.4%,#b82413 96.2%,#b31f2b 99.7%)"></i>
<i style="left:75.0px;width:2.3px;background:linear-gradient(#000000 0.3%,#000000 2.6%,#190012 3.2%,#270036 3.8%,#2d005c 4.4%,#33007b 5.0%,#4800bf 6.8%,#6000f7 9.1%,#7600fe 10.9%,#7c01f8 11.5%,#8b08cd 13.2%,#a91761 15.6%,#b52120 17.4%,#b82410 17.9%,#bc2800 20.9%,#c94200 29.1%,#d86000 35.0%,#e28e00 39.1%,#fcda00 44.4%,#fee900 46.8%,#fff100 50.3%,#fde600 54.4%,#fcd900 56.2%,#efac00 59.1%,#df8400 62.6%,#d65c00 67.9%,#c23300 77.9%,#bb2703 87.9%,#b72314 96.8%,#b42029 99.7%)"></i>
<i style="left:77.0px;width:2.3px;background:linear-gradient(#000000 0.3%,#000000 2.1%,#22001b 2.6%,#2e0065 3.8%,#3c0097 5.0%,#4900c2 6.2%,#6000f8 8.5%,#7600fe 10.3%,#7c01f8 10.9%,#8b08cd 12.6%,#a91761 15.0%,#b52120 16.8%,#b82410 17.4%,#bd2900 20.9%,#c73f00 28.5%,#d86000 35.0%,#e59400 39.7%,#fcd900 44.4%,#fee800 46.8%,#fff000 50.9%,#fde300 55.0%,#fad100 56.8%,#eca500 59.7%,#df8400 62.6%,#d65d00 67.9%,#c23400 77.9%,#bb2703 88.5%,#b82411 96.8%,#b42026 99.7%)"></i>
<i style="left:79.0px;width:2.3px;background:linear-gradient(#000000 0.3%,#040003 1.5%,#240023 2.1%,#30006d 3.2%,#4300b0 5.0%,#4900c3 5.6%,#6000f8 7.9%,#7600fe 9.7%,#7c01f8 10.3%,#8b08ce 12.1%,#a91761 14.4%,#b52121 16.2%,#b82411 16.8%,#bc2800 20.3%,#c63c00 27.9%,#d65b00 34.4%,#dd7700 37.4%,#e89b00 40.3%,#fcdd00 45.0%,#feec00 48.5%,#feed00 52.1%,#fddf00 55.6%,#f8c800 57.4%,#eca600 59.7%,#de8000 63.2%,#d65d00 67.9%,#c23400 77.9%,#bb2702 88.5%,#b82412 97.4%,#b52123 99.7%)"></i>
<i style="left:81.0px;width:2.3px;background:linear-gradient(#000000 0.3%,#0c0008 0.9%,#250029 1.5%,#300072 2.6%,#4400b3 4.4%,#5000d2 5.6%,#6000f8 7.4%,#7600fe 9.1%,#7c01f8 9.7%,#8a08cf 11.5%,#a91762 13.8%,#b52122 15.6%,#b82412 16.2%,#bc2800 19.7%,#c63b00 27.9%,#d75e00 35.0%,#e39000 39.7%,#fcdb00 45.0%,#feea00 47.9%,#feee00 51.5%,#fddf00 55.6%,#f8c900 57.4%,#eca600 59.7%,#de8000 63.2%,#d75d00 67.9%,#c23400 77.9%,#bb2703 89.1%,#b82410 97.4%,#b52121 99.7%)"></i>
<i style="left:83.0px;width:2.3px;background:linear-gradient(#11000c 0.3%,#26002e 0.9%,#310074 2.1%,#4400b4 3.8%,#5000d2 5.0%,#6000f8 6.8%,#7600fe 8.5%,#7c01f9 9.1%,#8a08d0 10.9%,#a91662 13.2%,#b52123 15.0%,#b72313 15.6%,#ba2608 17.4%,#bd2900 20.3%,#c53a00 27.9%,#d75d00 35.0%,#e38e00 39.7%,#fcd900 45.0%,#fee900 47.9%,#feed00 51.5%,#fddf00 55.6%,#f8c900 57.4%,#eaa000 60.3%,#df8100 63.2%,#d75d00 67.9%,#c23400 77.9%,#bb2703 89.7%,#b82412 97.9%,#b6221f 99.7%)"></i>
<i style="left:85.0px;width:2.3px;background:linear-gradient(#260031 0.3%,#320076 1.5%,#4500b5 3.2%,#5000d3 4.4%,#6000f8 6.2%,#7600fe 7.9%,#7c01fa 8.5%,#8a08d1 10.3%,#a81663 12.6%,#b52124 14.4%,#b72315 15.0%,#b9250b 16.2%,#bc2900 19.7%,#c53a00 27.9%,#d65c00 35.0%,#df8500 39.1%,#fcd700 45.0%,#fde500 47.4%,#feed00 50.9%,#fde200 55.0%,#fad200 56.8%,#eda700 59.7%,#df8100 63.2%,#d75e00 67.9%,#c23400 77.9%,#bb2702 89.7%,#b82410 97.9%,#b6221d 99.7%)"></i>
<i style="left:87.0px;width:2.3px;background:linear-gradient(#2c0057 0.3%,#320077 0.9%,#4500b5 2.6%,#5000d2 3.8%,#6000f8 5.6%,#7500fe 7.4%,#7b01fb 7.9%,#8908d2 9.7%,#a81664 12.1%,#b11d38 13.2%,#b72316 14.4%,#b9250b 15.6%,#bc2900 19.7%,#c53900 27.9%,#d65b00 35.0%,#dc7600 37.9%,#e79900 40.9%,#fcdb00 45.6%,#feea00 49.1%,#feea00 52.6%,#fddf00 55.6%,#f8ca00 57.4%,#eaa100 60.3%,#de7d00 63.8%,#d75e00 67.9%,#c23400 77.9%,#bb2703 90.3%,#b82412 98.5%,#b6221b 99.7%)"></i>
<i style="left:89.0px;width:2.3px;background:linear-gradient(#320077 0.3%,#4500b5 2.1%,#5000d2 3.2%,#6000f7 5.0%,#7400fd 6.8%,#7b00fc 7.4%,#8907d3 9.1%,#a81667 11.5%,#b11d39 12.6%,#b72317 13.8%,#b8240f 14.4%,#bc2900 19.1%,#c43800 27.9%,#d75e00 35.6%,#e28e00 40.3%,#fcd800 45.6%,#fee700 48.5%,#feeb00 52.1%,#fdde00 55.6%,#f8ca00 57.4%,#eaa100 60.3%,#de7d00 63.8%,#d75e00 67.9%,#c23400 77.9%,#bb2702 90.3%,#b82410 98.5%,#b6221a 99.7%)"></i>
<i style="left:91.0px;width:2.3px;background:linear-gradient(#39008d 0.3%,#4a00c5 2.1%,#5f00f6 4.4%,#7a00fe 6.8%,#8807d6 8.5%,#8f0abf 9.1%,#a7156b 10.9%,#b11d3c 12.1%,#b62219 13.2%,#b8240f 13.8%,#bc2900 19.1%,#c43800 27.9%,#d65d00 35.6%,#e18a00 40.3%,#fbd500 45.6%,#fde400 47.9%,#feeb00 51.5%,#fdde00 55.6%,#f8ca00 57.4%,#eaa100 60.3%,#df8200 63.2%,#d75e00 67.9%,#c23400 77.9%,#bb2703 90.9%,#b82413 99.1%,#b72318 99.7%)"></i>
<i style="left:93.0px;width:2.3px;background:linear-gradient(#3e00a0 0.3%,#4a00c4 1.5%,#5e00f4 3.8%,#7200fd 5.6%,#7900ff 6.2%,#8706d9 7.9%,#8d09c5 8.5%,#a61470 10.3%,#b01c40 11.5%,#b6221c 12.6%,#b82410 13.2%,#bc2800 18.5%,#c43700 27.9%,#d65b00 35.6%,#dc7500 38.5%,#e69600 41.5%,#fcd800 46.2%,#fee800 49.7%,#fee700 53.2%,#fcda00 56.2%,#eaa100 60.3%,#df8200 63.2%,#d75e00 67.9%,#c23400 77.9%,#bb2702 90.9%,#b82411 99.1%,#b72316 99.7%)"></i>
<i style="left:95.0px;width:2.3px;background:linear-gradient(#4400b2 0.3%,#4900c3 0.9%,#5d00f2 3.2%,#6300f9 3.8%,#7700fe 5.6%,#7d01f8 6.2%,#8b08cd 7.9%,#a41378 9.7%,#af1b46 10.9%,#b52120 12.1%,#b72313 12.6%,#ba2608 15.0%,#bd2900 19.1%,#c33700 27.9%,#d75d00 36.2%,#e49200 41.5%,#fcdb00 46.8%,#fee800 50.3%,#fde400 53.8%,#fcd900 56.2%,#eaa200 60.3%,#df8200 63.2%,#d75e00 67.9%,#c23400 77.9%,#bb2703 91.5%,#b82410 99.1%,#b72315 99.7%)"></i>
<i style="left:97.0px;width:2.3px;background:linear-gradient(#4900c2 0.3%,#6100f8 3.2%,#7500fe 5.0%,#7b01fb 5.6%,#8907d4 7.4%,#a71667 9.7%,#b11d39 10.9%,#b72318 12.1%,#b8240f 12.6%,#bc2900 18.5%,#c33600 27.9%,#d85f00 36.8%,#e28d00 41.5%,#f7c700 45.6%,#fcd800 46.8%,#fee700 50.3%,#fde400 53.8%,#fcd900 56.2%,#eba200 60.3%,#df8300 63.2%,#d75f00 67.9%,#c23400 77.9%,#bb2702 91.5%,#b82410 99.1%,#b72313 99.7%)"></i>
<i style="left:99.0px;width:2.3px;background:linear-gradient(#4d00cc 0.3%,#6000f8 2.6%,#7a00ff 5.0%,#8706da 6.8%,#8d09c7 7.4%,#a51473 9.1%,#af1c43 10.3%,#b6221e 11.5%,#b82412 12.1%,#bb2702 16.8%,#c33600 27.9%,#d75e00 36.8%,#e39000 42.1%,#f6c200 45.6%,#fcda00 47.4%,#fee700 50.9%,#fde100 54.4%,#fcd900 56.2%,#e89b00 60.9%,#de7e00 63.8%,#d65c00 68.5%,#c23400 77.9%,#bb2703 92.1%,#b82412 99.7%)"></i>
<i style="left:101.0px;width:2.3px;background:linear-gradient(#5100d5 0.3%,#5f00f5 2.1%,#7700fe 4.4%,#7c01f9 5.0%,#8908d2 6.8%,#a81666 9.1%,#b11d39 10.3%,#b72319 11.5%,#b82410 12.1%,#bc2800 17.9%,#c33500 27.9%,#d86000 37.4%,#e28c00 42.1%,#f4bc00 45.6%,#fcd700 47.4%,#fde500 50.3%,#fde300 53.8%,#fcd900 56.2%,#e89b00 60.9%,#de7e00 63.8%,#d65c00 68.5%,#c23400 77.9%,#bb2702 92.1%,#b82411 99.7%)"></i>
<i style="left:103.0px;width:2.3px;background:linear-gradient(#5500de 0.3%,#5e00f3 1.5%,#6800fa 2.6%,#7b00fd 4.4%,#8707d8 6.2%,#8d09c6 6.8%,#a51375 8.5%,#b31f31 10.3%,#b72314 11.5%,#b9250b 13.2%,#bd2900 19.1%,#c33600 28.5%,#d86200 37.9%,#e38f00 42.6%,#f6c100 46.2%,#fcd900 47.9%,#fde500 51.5%,#fcdc00 55.6%,#f8ca00 57.4%,#eba200 60.3%,#df8300 63.2%,#d75f00 67.9%,#c23400 77.9%,#bb2702 92.1%,#b82410 99.7%)"></i>
<i style="left:105.0px;width:2.3px;background:linear-gradient(#5800e6 0.3%,#6100f8 1.5%,#7800ff 3.8%,#8103eb 5.0%,#8908d2 6.2%,#a7156a 8.5%,#b4202a 10.3%,#b82411 11.5%,#bc2801 17.4%,#c33600 28.5%,#d86000 37.9%,#e49200 43.2%,#f4bb00 46.2%,#fcd700 47.9%,#fde400 50.9%,#fddf00 54.4%,#fcd800 56.2%,#e89c00 60.9%,#de7e00 63.8%,#d65c00 68.5%,#c23400 77.9%,#bb2703 92.6%,#b82410 99.7%)"></i>
<i style="left:107.0px;width:2.3px;background:linear-gradient(#5c00ee 0.3%,#6000f7 0.9%,#7600fe 3.2%,#7b00fc 3.8%,#8707d9 5.6%,#8d09c7 6.2%,#a91761 8.5%,#b21e36 9.7%,#b72318 10.9%,#b82410 11.5%,#bc2800 17.9%,#c33500 28.5%,#d96300 38.5%,#e38e00 43.2%,#f5c000 46.8%,#fcd900 48.5%,#fde300 51.5%,#fcdb00 55.6%,#f8ca00 57.4%,#eba200 60.3%,#df8300 63.2%,#d75f00 67.9%,#c23400 77.9%,#bb2702 92.6%,#b8240f 99.7%)"></i>
<i style="left:109.0px;width:2.3px;background:linear-gradient(#5e00f4 0.3%,#7900ff 3.2%,#8003ec 4.4%,#8907d3 5.6%,#a61470 7.9%,#b31f30 9.7%,#b72315 10.9%,#b9250d 12.1%,#bc2900 18.5%,#c33700 29.1%,#d86100 38.5%,#e49200 43.8%,#f4bb00 46.8%,#fbd600 48.5%,#fde200 51.5%,#fcdc00 55.0%,#fad100 56.8%,#e89c00 60.9%,#de7e00 63.8%,#d75e00 67.9%,#c23400 77.9%,#bb2702 92.6%,#b8240f 99.7%)"></i>
<i style="left:111.0px;width:2.3px;background:linear-gradient(#6100f8 0.3%,#7b00fd 3.2%,#8b08cd 5.6%,#a71569 7.9%,#b31f2c 9.7%,#b72313 10.9%,#ba2606 14.4%,#bd2a00 19.7%,#c33600 29.1%,#d96400 39.1%,#e38e00 43.8%,#f3b600 46.8%,#fbd300 48.5%,#fde000 50.9%,#fddf00 53.8%,#fbd600 56.2%,#e38e00 62.1%,#d75e00 67.9%,#c23400 77.9%,#bc2802 92.6%,#b8240f 99.7%)"></i>
<i style="left:113.0px;width:2.3px;background:linear-gradient(#6300f9 0.3%,#7800fe 2.6%,#7c01f9 3.2%,#8707d7 5.0%,#8d09c6 5.6%,#a81663 7.9%,#b42028 9.7%,#b82412 10.9%,#bc2802 16.8%,#c23400 28.5%,#d86200 39.1%,#e18b00 43.8%,#f4bc00 47.4%,#fbd600 49.1%,#fde000 52.1%,#fcd900 55.6%,#f8c900 57.4%,#e89b00 60.9%,#de7e00 63.8%,#d75e00 67.9%,#c23400 77.9%,#bb2703 93.2%,#b8240f 99.7%)"></i>
<i style="left:115.0px;width:2.3px;background:linear-gradient(#6500f9 0.3%,#7900ff 2.6%,#8405e1 4.4%,#8807d5 5.0%,#970da8 6.2%,#ae1a4a 8.5%,#b42026 9.7%,#b82411 10.9%,#bc2800 17.9%,#c33500 29.1%,#d86000 39.1%,#e38f00 44.4%,#f3b700 47.4%,#fad200 49.1%,#fdde00 51.5%,#fcda00 55.0%,#facf00 56.8%,#e89b00 60.9%,#de7e00 63.8%,#d75e00 67.9%,#c23400 77.9%,#bb2703 93.2%,#b8240e 99.7%)"></i>
<i style="left:117.0px;width:2.3px;background:linear-gradient(#6600fa 0.3%,#7a00ff 2.6%,#8908d3 5.0%,#a51474 7.4%,#b21e35 9.1%,#b72319 10.3%,#b82410 10.9%,#bc2800 17.9%,#c23500 29.1%,#d96400 39.7%,#e28c00 44.4%,#f4bc00 47.9%,#fbd400 49.7%,#fdde00 52.6%,#fbd300 56.2%,#e08700 62.6%,#d75e00 67.9%,#c23400 77.9%,#bb2703 93.2%,#b8240e 99.7%)"></i>
<i style="left:119.0px;width:2.3px;background:linear-gradient(#6700fa 0.3%,#7a00fe 2.6%,#8908d2 5.0%,#a51473 7.4%,#b21e35 9.1%,#b62219 10.3%,#b82411 10.9%,#bc2800 17.9%,#c33600 29.7%,#d86200 39.7%,#e39000 45.0%,#f3b700 47.9%,#fad100 49.7%,#fcdc00 52.1%,#fcd800 55.0%,#f9cd00 56.8%,#e79900 60.9%,#dd7800 64.4%,#d75e00 67.9%,#c23400 77.9%,#bb2703 93.2%,#b8240e 99.7%)"></i>
<i style="left:121.0px;width:4.3px;background:linear-gradient(#6800fa 0.3%,#7b00fd 2.6%,#8908d2 5.0%,#a91760 7.9%,#b42028 9.7%,#b82413 10.9%,#bb2703 16.2%,#c02f00 26.2%,#c63c00 31.5%,#d96400 40.3%,#e49100 45.6%,#f3b800 48.5%,#fad100 50.3%,#fcda00 52.6%,#fbd400 55.6%,#f6c400 57.4%,#e69800 60.9%,#dd7700 64.4%,#d65d00 67.9%,#c23300 77.9%,#bb2703 93.2%,#b9250e 99.7%)"></i>
<i style="left:125.0px;width:4.3px;background:linear-gradient(#6800fa 0.3%,#7b00fd 2.6%,#8807d5 5.0%,#950cad 6.2%,#ab1856 8.5%,#b52124 10.3%,#b82411 11.5%,#bc2800 19.1%,#c33600 30.3%,#d96400 40.9%,#e39000 46.2%,#f3b600 49.1%,#f9ce00 50.9%,#fcd700 53.2%,#f9ce00 56.2%,#e08800 62.1%,#d75f00 67.4%,#c23400 77.4%,#bb2703 93.2%,#b9250e 99.7%)"></i>
<i style="left:129.0px;width:4.3px;background:linear-gradient(#6800fa 0.3%,#7a00fe 2.6%,#8707d8 5.0%,#8b09cb 5.6%,#a81664 8.5%,#b21e32 10.3%,#b82411 12.1%,#bc2800 19.1%,#c33500 30.3%,#d96500 41.5%,#e38f00 46.8%,#f2b400 49.7%,#f9cc00 51.5%,#fbd300 53.8%,#f8cb00 56.2%,#e08600 62.1%,#d75d00 67.4%,#c23500 76.8%,#bb2703 93.2%,#b9250e 99.7%)"></i>
<i style="left:133.0px;width:4.3px;background:linear-gradient(#6900fa 0.3%,#7a00ff 2.6%,#8908d2 5.6%,#a91761 9.1%,#b42026 11.5%,#b82412 12.6%,#bb2702 18.5%,#c23400 30.3%,#d96600 42.1%,#e38f00 47.4%,#f2b300 50.3%,#f7c400 51.5%,#f9ce00 53.2%,#f8ca00 55.6%,#f4ba00 57.4%,#df8400 62.1%,#d75e00 66.8%,#c23400 76.8%,#bb2702 92.6%,#b9250e 99.7%)"></i>
<i style="left:137.0px;width:4.3px;background:linear-gradient(#6900fa 0.3%,#7a00ff 2.6%,#8807d5 5.6%,#8c09c8 6.2%,#a9175e 9.7%,#b42026 12.1%,#b72313 13.2%,#bb2706 17.4%,#bd2a00 23.2%,#c33700 31.5%,#d96300 42.1%,#e39000 47.9%,#f6c200 52.1%,#f8c900 53.8%,#f6c200 56.2%,#df8200 62.1%,#d65d00 66.8%,#c23400 76.2%,#bb2702 92.6%,#b9250e 99.7%)"></i>
<i style="left:141.0px;width:4.3px;background:linear-gradient(#6900fa 0.3%,#7900ff 2.6%,#8a08cf 6.2%,#a7156a 9.7%,#b21e31 12.1%,#b72313 13.8%,#bb2706 17.9%,#bd2a00 23.8%,#c43800 32.1%,#d96500 42.6%,#e49100 48.5%,#f5bf00 52.6%,#f6c400 54.4%,#f5be00 56.2%,#de8000 62.1%,#d75e00 66.2%,#c23500 75.6%,#bb2703 92.6%,#b8240e 99.7%)"></i>
<i style="left:145.0px;width:4.3px;background:linear-gradient(#6900fa 0.3%,#7900ff 2.6%,#8908d3 6.2%,#a81665 10.3%,#b52125 13.2%,#b82413 14.4%,#bb2704 19.7%,#bf2e00 27.4%,#c53b00 33.2%,#d96500 43.2%,#e49100 49.1%,#f4bb00 53.2%,#f4bd00 55.0%,#f1b200 56.8%,#de7d00 62.1%,#d65d00 66.2%,#c23400 75.6%,#bb2702 92.1%,#b8240f 99.7%)"></i>
<i style="left:149.0px;width:4.3px;background:linear-gradient(#6900fa 0.3%,#7800ff 2.6%,#8003ec 4.4%,#8b09cb 6.8%,#a61470 10.3%,#b31f2f 13.2%,#b82413 15.0%,#bb2703 20.9%,#c23500 32.1%,#d96600 43.8%,#e39000 49.7%,#f3b600 53.8%,#f2b500 55.6%,#dd7b00 62.1%,#d75e00 65.6%,#c23400 75.0%,#bb2702 92.1%,#b82411 99.7%)"></i>
<i style="left:153.0px;width:4.3px;background:linear-gradient(#6900fa 0.3%,#7800fe 2.6%,#7d02f5 3.8%,#8a08d1 6.8%,#a7156b 10.9%,#b52123 14.4%,#b82412 15.6%,#bc2802 22.1%,#c33500 32.6%,#d96300 43.8%,#e49100 50.3%,#f0af00 53.8%,#f0ae00 55.6%,#dd7900 62.1%,#d65d00 65.6%,#c23500 74.4%,#bb2703 92.1%,#b82410 99.1%,#b72315 99.7%)"></i>
<i style="left:157.0px;width:4.3px;background:linear-gradient(#6900fa 0.3%,#7b00fd 3.2%,#8907d3 6.8%,#a81667 11.5%,#b52122 15.0%,#b82412 16.2%,#bc2801 23.2%,#c33500 33.2%,#d86200 43.8%,#e69600 50.9%,#eea900 54.4%,#eaa100 56.8%,#db6d00 63.2%,#d65b00 65.6%,#c23400 74.4%,#bd2900 89.7%,#b82410 98.5%,#b6221a 99.7%)"></i>
<i style="left:161.0px;width:4.3px;background:linear-gradient(#6900fa 0.3%,#7a00fe 3.2%,#8b08cd 7.4%,#a6146f 11.5%,#b4202a 15.0%,#b82411 16.8%,#bc2800 24.4%,#c43700 34.4%,#d96400 44.4%,#e69800 52.1%,#e99f00 55.0%,#e49300 57.9%,#d65c00 65.0%,#c23500 73.8%,#bc2900 89.7%,#b82410 97.9%,#b52120 99.7%)"></i>
<i style="left:165.0px;width:4.3px;background:linear-gradient(#6800fa 0.3%,#7a00ff 3.2%,#8a08d1 7.4%,#a7156a 12.1%,#b5211f 16.2%,#b82410 17.4%,#bc2900 25.6%,#c43800 35.0%,#d96300 45.0%,#df8500 50.3%,#e59300 54.4%,#e28c00 57.4%,#da6900 62.6%,#d45700 65.6%,#c23400 73.8%,#bd2a00 88.5%,#ba2607 93.2%,#b82410 97.4%,#b42026 99.7%)"></i>
<i style="left:169.0px;width:4.3px;background:linear-gradient(#6800fa 0.3%,#7a00ff 3.2%,#8907d3 7.4%,#a81665 12.6%,#b6221d 16.8%,#b82410 17.9%,#bc2900 26.2%,#c43800 35.6%,#d96500 46.2%,#df8300 51.5%,#e08900 55.6%,#dd7900 59.7%,#d55b00 64.4%,#c23500 73.2%,#bd2a00 88.5%,#ba2609 93.8%,#b82410 96.8%,#b31f2c 99.7%)"></i>
<i style="left:173.0px;width:4.3px;background:linear-gradient(#6800fa 0.3%,#7900ff 3.2%,#8b08cd 7.9%,#a7156b 12.6%,#b52123 16.8%,#b8240f 18.5%,#bc2900 26.8%,#c43800 36.2%,#d96400 46.8%,#de7f00 52.1%,#df8400 55.6%,#dc7500 59.7%,#d65b00 63.8%,#c23400 73.2%,#bd2b00 87.9%,#bb2705 92.1%,#b82410 96.2%,#b21e33 99.7%)"></i>
<i style="left:177.0px;width:4.3px;background:linear-gradient(#6800fa 0.3%,#7900ff 3.2%,#8a08d0 7.9%,#a81665 13.2%,#b52120 17.4%,#b82411 18.5%,#bc2800 26.8%,#c33600 36.2%,#d96700 47.9%,#de7d00 52.6%,#de7f00 56.2%,#db6d00 60.3%,#d35700 64.4%,#c23300 73.2%,#bd2b00 87.9%,#ba2606 92.1%,#b72314 96.2%,#b11d3a 99.7%)"></i>
<i style="left:181.0px;width:4.3px;background:linear-gradient(#6800fa 0.3%,#7800ff 3.2%,#8104ea 5.6%,#8908d2 7.9%,#a71569 13.2%,#b52124 17.4%,#b8240f 19.1%,#bd2900 27.9%,#c33600 36.8%,#d96700 48.5%,#dd7a00 53.2%,#dd7a00 56.8%,#d96600 60.9%,#c23400 72.6%,#bd2a00 87.9%,#b9250c 93.8%,#b72314 95.6%,#b01c41 99.7%)"></i>
<i style="left:185.0px;width:4.3px;background:linear-gradient(#6700fa 0.3%,#7b00fd 3.8%,#8907d3 7.9%,#a91662 13.8%,#b52120 17.9%,#b82411 19.1%,#bc2800 27.4%,#c33700 37.4%,#d96600 49.1%,#dd7800 53.8%,#dc7500 57.4%,#cd4a00 66.8%,#c23300 72.6%,#bd2a00 87.4%,#ba2608 91.5%,#b8240f 94.4%,#ae1b48 99.7%)"></i>
<i style="left:189.0px;width:4.3px;background:linear-gradient(#6700fa 0.3%,#7a00fe 3.8%,#8b08cd 8.5%,#a81666 13.8%,#b52123 17.9%,#b8240f 19.7%,#bc2900 28.5%,#c33700 37.9%,#da6900 50.3%,#dc7500 54.4%,#db6f00 57.9%,#ce4b00 66.2%,#c23300 72.6%,#bd2a00 87.4%,#b9250c 92.6%,#b82410 93.8%,#ac1951 99.7%)"></i>
<i style="left:193.0px;width:4.3px;background:linear-gradient(#6700fa 0.3%,#7a00ff 3.8%,#8a08d0 8.5%,#a7156a 13.8%,#b6221f 18.5%,#b82411 19.7%,#bc2900 28.5%,#c43700 38.5%,#db6d00 52.1%,#dc7200 55.6%,#d96400 59.7%,#c23300 72.1%,#bd2900 87.4%,#b82410 93.2%,#aa185b 99.7%)"></i>
<i style="left:197.0px;width:4.3px;background:linear-gradient(#6600fa 0.3%,#7a00ff 3.8%,#8a08d1 8.5%,#a6156d 13.8%,#b52122 18.5%,#b8240f 20.3%,#bd2900 29.7%,#c43800 39.1%,#da6c00 52.6%,#db6e00 56.2%,#cd4b00 65.6%,#c23300 72.1%,#bd2900 86.8%,#b82412 92.6%,#a71568 99.7%)"></i>
<i style="left:201.0px;width:4.3px;background:linear-gradient(#6600f9 0.3%,#7900ff 3.8%,#8908d2 8.5%,#a81666 14.4%,#b6221d 19.1%,#b82410 20.3%,#bc2900 29.7%,#c33600 39.1%,#da6900 52.6%,#da6c00 56.2%,#ca4300 67.4%,#c23300 71.5%,#bc2801 87.4%,#b82413 92.1%,#a41376 99.7%)"></i>
<i style="left:205.0px;width:4.3px;background:linear-gradient(#6500f9 0.3%,#7800ff 3.8%,#8304e5 6.8%,#8b08cc 9.1%,#a71569 14.4%,#b52120 19.1%,#b82412 20.3%,#bc2801 28.5%,#c33700 39.7%,#da6800 53.2%,#da6800 56.8%,#c23300 71.5%,#bb2702 87.4%,#b72314 91.5%,#a11185 99.7%)"></i>
<i style="left:209.0px;width:4.3px;background:linear-gradient(#6400f9 0.3%,#7b00fd 4.4%,#8a08cf 9.1%,#a7156b 14.4%,#b52122 19.1%,#b8240f 20.9%,#bc2900 30.3%,#c43700 40.3%,#d96500 53.2%,#d96500 56.8%,#c63b00 68.5%,#c13200 72.6%,#bc2802 86.8%,#b72314 90.9%,#9d0f92 99.7%)"></i>
<i style="left:213.0px;width:4.3px;background:linear-gradient(#6400f9 0.3%,#7a00fe 4.4%,#8a08d1 9.1%,#a6156e 14.4%,#b52125 19.1%,#b82410 20.9%,#bc2900 30.9%,#c43800 40.9%,#d85f00 52.1%,#d96500 55.6%,#cd4a00 64.4%,#c13300 70.9%,#bc2801 86.2%,#b82413 90.3%,#9a0e9e 99.7%)"></i>
<i style="left:217.0px;width:4.3px;background:linear-gradient(#6300f9 0.3%,#7a00ff 4.4%,#8908d2 9.1%,#a81666 15.0%,#b5211f 19.7%,#b82412 20.9%,#bc2800 29.7%,#c33600 40.9%,#d75e00 52.1%,#d86200 56.2%,#cc4900 64.4%,#c23300 70.3%,#bb2702 86.2%,#b82412 89.7%,#990da1 99.1%,#960ca9 99.7%)"></i>
<i style="left:221.0px;width:4.3px;background:linear-gradient(#6300f9 0.3%,#7900ff 4.4%,#8908d3 9.1%,#a71568 15.0%,#b52121 19.7%,#b8240f 21.5%,#bc2900 31.5%,#c33600 41.5%,#d75e00 52.6%,#d85f00 56.8%,#ca4400 65.6%,#c13300 70.3%,#bc2802 85.6%,#b82410 89.1%,#980da3 98.5%,#930bb3 99.7%)"></i>
<i style="left:225.0px;width:4.3px;background:linear-gradient(#6200f8 0.3%,#7800ff 4.4%,#8304e5 7.4%,#8b08cc 9.7%,#a7156a 15.0%,#b52122 19.7%,#b82410 21.5%,#bd2900 32.1%,#c33600 42.1%,#d65d00 52.6%,#d75e00 56.8%,#c94200 65.6%,#c13300 69.7%,#bc2801 85.0%,#b8240f 88.5%,#980da5 97.9%,#900abd 99.7%)"></i>
<i style="left:229.0px;width:4.3px;background:linear-gradient(#6100f8 0.3%,#7b00fd 5.0%,#8a08cf 9.7%,#a7156c 15.0%,#b52124 19.7%,#b82410 21.5%,#bc2900 32.1%,#c33600 42.6%,#d65d00 53.2%,#d65c00 57.4%,#c53a00 66.8%,#c03100 71.5%,#bb2703 85.0%,#b8240e 87.9%,#b6221f 89.1%,#9d0f93 96.2%,#8d09c7 99.7%)"></i>
<i style="left:233.0px;width:4.3px;background:linear-gradient(#6100f8 0.3%,#7a00fe 5.0%,#8a08d0 9.7%,#a6156d 15.0%,#b52125 19.7%,#b82411 21.5%,#bc2800 31.5%,#c33600 43.2%,#d65c00 53.2%,#d55b00 57.4%,#c13300 69.1%,#bc2802 84.4%,#b82410 87.9%,#ab1857 92.1%,#8d09c7 99.1%,#8a08cf 99.7%)"></i>
<i style="left:237.0px;width:4.7px;background:linear-gradient(#6000f8 0.3%,#7a00ff 5.0%,#8a08d1 9.7%,#a6156e 15.0%,#b42025 19.7%,#b82412 21.5%,#bc2801 30.9%,#c33500 43.2%,#d65c00 53.8%,#d55900 57.9%,#c13200 69.1%,#bb2702 84.4%,#b8240e 87.4%,#b72313 87.9%,#ac1953 91.5%,#8b08cd 99.1%,#8908d2 99.7%)"></i>
</div>
<div class="l c" style="left:160.7px;top:486px">z</div>
<div class="l c" style="left:42.2px;top:495px">8</div>
<div class="l c" style="left:58.8px;top:495px">4</div>
<div class="l c" style="left:91.0px;top:495px">2</div>
<div class="l c" style="left:137.8px;top:495px">1</div>
<div class="l c" style="left:187.0px;top:495px">0.5</div>
<div class="l c" style="left:234.5px;top:495px">0.2</div>
<div class="l c" style="left:277.0px;top:495px">0</div>
<div class="l c" style="left:48.0px;top:685.4px">1</div>
<div class="l c" style="left:65.8px;top:685.4px">2</div>
<div class="l c" style="left:101.6px;top:685.4px">4</div>
<div class="l c" style="left:137.4px;top:685.4px">6</div>
<div class="l c" style="left:173.2px;top:685.4px">8</div>
<div class="l c" style="left:209.0px;top:685.4px">10</div>
<div class="l c" style="left:244.8px;top:685.4px">12</div>
<div class="l c" style="left:278.6px;top:685.4px">13.8</div>
<div class="l c" style="left:159.7px;top:694.8px;font-size:10px">Time Since Big Bang [Gyr]</div>
<div class="l r" style="left:32.8px;top:676.3px">10<sup>9</sup></div>
<div class="l r" style="left:32.8px;top:648.1px">10<sup>10</sup></div>
<div class="l r" style="left:32.8px;top:620.0px">10<sup>11</sup></div>
<div class="l r" style="left:32.8px;top:591.9px">10<sup>12</sup></div>
<div class="l r" style="left:32.8px;top:563.7px">10<sup>13</sup></div>
<div class="l r" style="left:32.8px;top:535.6px">10<sup>14</sup></div>
<div class="l r" style="left:32.8px;top:507.4px">10<sup>15</sup></div>
<div class="l" style="left:5.5px;top:594.2px;font-size:10px;transform:translate(-50%,-50%) rotate(-90deg)">Halo Mass [M<sub style="font-size:7.9px">&#8857;</sub>]</div>
<div class="l w k" style="left:44.5px;top:515.8px;font-size:10px">log<sub>10</sub>(sGRB Rate Mpc<sup>-3</sup> dex<sup>-1</sup>)</div>
<div class="l" style="left:65.3px;top:527.7px;width:48.7px;height:11.3px;background:linear-gradient(90deg,#000000 0.0%,#220018 2.0%,#2a0046 5.0%,#300070 7.5%,#4800c0 15.0%,#6000f8 23.0%,#7a00ff 30.0%,#8a08d0 38.0%,#a0108a 44.0%,#b01c40 50.0%,#b82410 53.5%,#bc2800 58.0%,#c43800 66.0%,#cc4800 72.5%,#d86000 80.0%,#e08800 86.7%,#f2b400 92.0%,#fcd800 96.0%,#fff400 100.0%)"></div>
<div class="l c w k" style="left:66.0px;top:539.6px;font-size:10.5px">-5.0</div>
<div class="l c w k" style="left:90.3px;top:539.6px;font-size:10.5px">-2.7</div>
<div class="l c w k" style="left:114.7px;top:539.6px;font-size:10.5px">-0.4</div>
<div class="l k" style="left:133.0px;top:647.0px;font-size:10px;color:#ffeee2">P(&#916;t) = (&#916;t)<sup>-1.5</sup></div>
<div class="l k" style="left:133.0px;top:658.0px;font-size:10px;color:#ffeee2">Short GRB Probability Density</div>
<div class="p" style="left:351.0px;top:510.3px">
<i style="left:0.0px;width:1.3px;background:linear-gradient(#f9cf00 0.3%,#f9cb00 12.6%,#f0af00 33.8%,#dd7b00 52.1%,#d25300 61.5%,#bb2702 71.5%,#b8240f 73.2%,#9a0e9c 78.5%,#8c09c8 80.3%,#8706da 81.5%,#7b00fc 85.0%,#7000fc 87.4%,#6000f8 90.9%,#4600b9 97.9%,#3f00a4 99.7%)"></i>
<i style="left:1.0px;width:1.3px;background:linear-gradient(#f9cf00 0.3%,#f9cb00 12.6%,#f0af00 33.8%,#dd7b00 52.1%,#d25300 61.5%,#bb2702 71.5%,#b8240f 73.2%,#9a0e9c 78.5%,#8c09c8 80.3%,#8706da 81.5%,#7b00fc 85.0%,#7000fc 87.4%,#6000f8 90.9%,#4600b9 97.9%,#3f00a4 99.7%)"></i>
<i style="left:2.0px;width:1.3px;background:linear-gradient(#f9cf00 0.3%,#f9cb00 12.6%,#f0af00 33.8%,#dd7b00 52.1%,#d25300 61.5%,#bb2702 71.5%,#b8240f 73.2%,#9a0e9c 78.5%,#8c09c8 80.3%,#8706da 81.5%,#7b00fc 85.0%,#7000fc 87.4%,#6000f8 90.9%,#4600b9 97.9%,#3f00a4 99.7%)"></i>
<i style="left:3.0px;width:1.3px;background:linear-gradient(#f9cf00 0.3%,#f8cb00 12.6%,#f0af00 33.8%,#dd7b00 52.1%,#d25300 61.5%,#bb2702 71.5%,#b8240f 73.2%,#9a0e9d 78.5%,#8c09c8 80.3%,#8706da 81.5%,#7b00fc 85.0%,#7000fc 87.4%,#6000f8 90.9%,#4600b9 97.9%,#3f00a3 99.7%)"></i>
<i style="left:4.0px;width:1.3px;background:linear-gradient(#f9cf00 0.3%,#f8cb00 12.6%,#f0ae00 33.8%,#de7c00 51.5%,#d35600 60.9%,#bb2703 71.5%,#b82410 73.2%,#9f0f8e 77.9%,#8c09c9 80.3%,#8706da 81.5%,#7b00fc 85.0%,#6d00fc 87.9%,#6000f8 90.9%,#4600b9 97.9%,#3f00a3 99.7%)"></i>
<i style="left:5.0px;width:1.3px;background:linear-gradient(#f9ce00 0.3%,#f8cb00 12.6%,#efae00 33.8%,#dd7b00 51.5%,#d25500 60.9%,#bc2800 70.9%,#b72313 73.2%,#9e0f91 77.9%,#8c09ca 80.3%,#8405e1 82.1%,#7b00fd 85.0%,#6200f9 90.3%,#5b00ed 92.1%,#4600b8 97.9%,#3f00a2 99.7%)"></i>
<i style="left:6.0px;width:1.3px;background:linear-gradient(#f9cd00 0.3%,#f8ca00 12.6%,#efae00 33.2%,#de7d00 50.3%,#d25400 60.9%,#bc2801 70.9%,#b8240e 72.6%,#b31f2b 73.8%,#980da3 78.5%,#8b08cd 80.3%,#7e02f3 83.8%,#7800ff 85.6%,#5f00f6 90.9%,#4700be 97.4%,#3e00a0 99.7%)"></i>
<i style="left:7.0px;width:1.3px;background:linear-gradient(#f9cc00 0.3%,#f8c900 12.6%,#efad00 32.6%,#de7e00 49.1%,#d25400 60.3%,#bc2800 70.3%,#b82413 72.6%,#a91760 75.6%,#8a08d0 80.3%,#7a00fe 85.0%,#5f00f5 90.9%,#4700bb 97.4%,#3e009d 99.7%)"></i>
<i style="left:8.0px;width:1.3px;background:linear-gradient(#f8cb00 0.3%,#f7c700 12.6%,#efad00 32.1%,#de7f00 47.9%,#d35500 59.7%,#bd2900 69.7%,#b8240f 72.1%,#a11184 76.8%,#8908d2 80.3%,#7a00fe 85.0%,#6100f8 90.3%,#4600b9 97.4%,#3d009a 99.7%)"></i>
<i style="left:9.0px;width:1.3px;background:linear-gradient(#f8ca00 0.3%,#f7c600 12.6%,#efac00 31.5%,#e18c00 42.1%,#da6800 53.8%,#ca4500 62.6%,#bc2800 69.7%,#b9250d 71.5%,#b72316 72.1%,#a91762 75.0%,#8c09ca 79.7%,#8304e5 82.1%,#7a00ff 85.0%,#6000f8 90.3%,#4700be 96.8%,#3c0097 99.7%)"></i>
<i style="left:10.0px;width:1.3px;background:linear-gradient(#f8c800 0.3%,#f7c500 12.6%,#efac00 30.9%,#e38f00 40.3%,#d96500 53.8%,#cc4800 61.5%,#bc2900 69.1%,#b8240f 71.5%,#aa185b 74.4%,#8b08cd 79.7%,#7b01fb 84.4%,#7600fe 85.6%,#6000f7 90.3%,#4700bc 96.8%,#3b0094 99.7%)"></i>
<i style="left:11.0px;width:1.3px;background:linear-gradient(#f7c700 0.3%,#f6c400 12.6%,#eeab00 30.9%,#e28d00 40.3%,#d96500 53.2%,#cb4700 61.5%,#bc2800 69.1%,#b9250d 70.9%,#b72315 71.5%,#a91760 74.4%,#8a08d0 79.7%,#7900ff 85.0%,#6000f7 90.3%,#4600ba 96.8%,#3a0091 99.7%)"></i>
<i style="left:12.0px;width:1.3px;background:linear-gradient(#f7c600 0.3%,#f6c300 12.6%,#eeab00 30.3%,#e28e00 39.7%,#d96300 53.2%,#cb4600 61.5%,#bc2802 69.1%,#b8240e 70.9%,#b42029 72.1%,#a3127d 75.6%,#8a08d1 79.7%,#7b00fc 84.4%,#6d00fc 87.4%,#5f00f7 90.3%,#4600b8 96.8%,#39008f 99.7%)"></i>
<i style="left:13.0px;width:1.3px;background:linear-gradient(#f7c500 0.3%,#f6c200 12.6%,#eeaa00 30.3%,#e28d00 39.7%,#d25300 57.9%,#bc2900 68.5%,#b8240f 70.9%,#a51472 75.0%,#8908d2 79.7%,#7b00fd 84.4%,#5f00f6 90.3%,#4800c0 96.2%,#39008d 99.7%)"></i>
<i style="left:14.0px;width:1.3px;background:linear-gradient(#f7c500 0.3%,#f6c100 12.6%,#eeaa00 29.7%,#e28d00 39.1%,#d15200 57.9%,#bc2800 68.5%,#b82410 70.9%,#aa1859 73.8%,#8c09c9 79.1%,#8506de 80.9%,#7b00fd 84.4%,#5f00f6 90.3%,#4800bf 96.2%,#38008b 99.7%)"></i>
<i style="left:15.0px;width:1.3px;background:linear-gradient(#f6c400 0.3%,#f5c000 12.6%,#eea900 29.7%,#e28c00 39.1%,#d15100 57.9%,#bc2800 68.5%,#b82411 70.9%,#aa185b 73.8%,#8c09cb 79.1%,#8104ea 82.1%,#7a00fe 84.4%,#5f00f6 90.3%,#4700be 96.2%,#370089 99.7%)"></i>
<i style="left:16.0px;width:1.3px;background:linear-gradient(#f6c300 0.3%,#f5c000 12.6%,#eda900 29.7%,#e18b00 39.1%,#d15200 57.4%,#bc2801 68.5%,#b82413 70.9%,#aa175c 73.8%,#8b09cb 79.1%,#7c01f9 83.8%,#7800fe 85.0%,#5f00f6 90.3%,#4700bd 96.2%,#370087 99.7%)"></i>
<i style="left:17.0px;width:1.3px;background:linear-gradient(#f6c300 0.3%,#f5bf00 12.6%,#eea900 29.1%,#e28c00 38.5%,#d15100 57.4%,#bc2801 68.5%,#b72314 70.9%,#aa175d 73.8%,#8b08cc 79.1%,#7a00ff 84.4%,#5f00f6 90.3%,#4700bd 96.2%,#360085 99.7%)"></i>
<i style="left:18.0px;width:1.3px;background:linear-gradient(#f6c200 0.3%,#f5be00 12.6%,#eda900 29.1%,#e18b00 38.5%,#d45700 55.0%,#bc2802 68.5%,#b9250e 70.3%,#b72316 70.9%,#aa175e 73.8%,#8b08cd 79.1%,#7a00ff 84.4%,#5f00f6 90.3%,#4700bc 96.2%,#360083 99.7%)"></i>
<i style="left:19.0px;width:1.3px;background:linear-gradient(#f6c100 0.3%,#f5be00 12.6%,#eda800 29.1%,#e18a00 38.5%,#d15100 56.8%,#bb2702 68.5%,#b9250e 70.3%,#b72317 70.9%,#a9175e 73.8%,#8b08ce 79.1%,#7a00ff 84.4%,#5f00f6 90.3%,#4700bb 96.2%,#350081 99.7%)"></i>
<i style="left:20.0px;width:1.3px;background:linear-gradient(#f6c100 0.3%,#f5bd00 12.6%,#eda700 29.1%,#dd7700 44.4%,#d45900 53.8%,#bc2800 67.9%,#b8240e 70.3%,#b42027 71.5%,#a11186 75.6%,#8a08ce 79.1%,#7a00ff 84.4%,#5f00f6 90.3%,#4600bb 96.2%,#350080 99.7%)"></i>
<i style="left:21.0px;width:1.3px;background:linear-gradient(#f5c000 0.3%,#f4bd00 12.6%,#eda800 28.5%,#dc7600 44.4%,#d35600 54.4%,#bc2800 67.9%,#b8240f 70.3%,#b42029 71.5%,#a11186 75.6%,#8a08cf 79.1%,#7b01fb 83.8%,#7600fe 85.0%,#5f00f6 90.3%,#4600ba 96.2%,#34007f 99.7%)"></i>
<i style="left:22.0px;width:1.3px;background:linear-gradient(#f5c000 0.3%,#f4bc00 12.6%,#eda700 28.5%,#dd7700 43.8%,#d45900 53.2%,#bc2800 67.9%,#b8240f 70.3%,#a11087 75.6%,#8a08d0 79.1%,#7b01fc 83.8%,#7600fe 85.0%,#5f00f6 90.3%,#4900c2 95.6%,#34007e 99.7%)"></i>
<i style="left:23.0px;width:1.3px;background:linear-gradient(#f5bf00 0.3%,#f4bb00 12.6%,#eda700 28.5%,#dc7500 44.4%,#d35700 53.8%,#bc2801 67.9%,#b8240f 70.3%,#a3127b 75.0%,#8a08d0 79.1%,#7b00fc 83.8%,#7300fd 85.6%,#5f00f6 90.3%,#4900c2 95.6%,#34007d 99.7%)"></i>
<i style="left:24.0px;width:1.3px;background:linear-gradient(#f5be00 0.3%,#f4bb00 12.6%,#eca600 28.5%,#dc7600 43.8%,#d45800 53.2%,#bc2801 67.9%,#b82410 70.3%,#a6146f 74.4%,#8a08d1 79.1%,#7b00fc 83.8%,#6e00fc 86.8%,#5f00f6 90.3%,#4900c2 95.6%,#34007c 99.7%)"></i>
<i style="left:25.0px;width:1.3px;background:linear-gradient(#f5be00 0.3%,#f4ba00 12.6%,#eca600 28.5%,#dc7500 43.8%,#d45900 52.6%,#bc2802 67.9%,#b82411 70.3%,#a81663 73.8%,#8a08d1 79.1%,#7b00fd 83.8%,#6200f8 89.7%,#5800e6 92.1%,#4600b9 96.2%,#33007c 99.7%)"></i>
<i style="left:26.0px;width:1.3px;background:linear-gradient(#f5bd00 0.3%,#f4ba00 12.6%,#eca500 28.5%,#dc7400 43.8%,#d35700 53.2%,#bb2702 67.9%,#b82412 70.3%,#a81664 73.8%,#8a08d1 79.1%,#7b00fd 83.8%,#5f00f6 90.3%,#4900c2 95.6%,#33007b 99.7%)"></i>
<i style="left:27.0px;width:1.3px;background:linear-gradient(#f4bd00 0.3%,#f3b900 12.6%,#eca400 28.5%,#dc7500 43.2%,#d55900 52.1%,#bb2703 67.9%,#b72314 70.3%,#a81665 73.8%,#8908d2 79.1%,#7b00fd 83.8%,#5f00f6 90.3%,#4900c2 95.6%,#33007b 99.7%)"></i>
<i style="left:28.0px;width:1.3px;background:linear-gradient(#f4bc00 0.3%,#f3b800 12.6%,#eca500 27.9%,#dc7300 43.8%,#d45700 52.6%,#bc2800 67.4%,#b9250e 69.7%,#b72316 70.3%,#a81667 73.8%,#8908d2 79.1%,#7b00fd 83.8%,#5f00f6 90.3%,#4900c2 95.6%,#33007b 99.7%)"></i>
<i style="left:29.0px;width:1.3px;background:linear-gradient(#f4bb00 0.3%,#f3b800 12.6%,#eca400 27.9%,#dc7200 43.8%,#d35500 53.2%,#bc2800 67.4%,#b8240e 69.7%,#b42026 70.9%,#9f108d 75.6%,#8908d2 79.1%,#7a00fe 83.8%,#5f00f6 90.3%,#4900c2 95.6%,#33007b 99.7%)"></i>
<i style="left:30.0px;width:1.3px;background:linear-gradient(#f4ba00 0.3%,#f3b700 12.6%,#eba300 27.9%,#dc7300 43.2%,#d45800 52.1%,#bc2801 67.4%,#b8240f 69.7%,#970da6 76.8%,#8908d3 79.1%,#7a00fe 83.8%,#5f00f7 90.3%,#4900c2 95.6%,#33007c 99.7%)"></i>
<i style="left:31.0px;width:1.3px;background:linear-gradient(#f4ba00 0.3%,#f3b600 12.6%,#eba300 27.9%,#db7100 43.8%,#d45700 52.1%,#bc2802 67.4%,#b8240f 69.7%,#9e0f8f 75.6%,#8c09cb 78.5%,#8104ea 81.5%,#7a00fe 83.8%,#5f00f7 90.3%,#4900c3 95.6%,#34007c 99.7%)"></i>
<i style="left:32.0px;width:1.3px;background:linear-gradient(#f3b900 0.3%,#f2b600 12.6%,#eba200 27.9%,#db7000 43.8%,#d35500 52.6%,#bb2702 67.4%,#b82410 69.7%,#a41378 74.4%,#8b09cb 78.5%,#7d02f5 82.6%,#7a00fe 83.8%,#5f00f7 90.3%,#4900c3 95.6%,#34007c 99.7%)"></i>
<i style="left:33.0px;width:1.3px;background:linear-gradient(#f3b800 0.3%,#f2b500 12.6%,#eaa100 27.9%,#dc7200 43.2%,#d35700 52.1%,#bc2800 66.8%,#b82412 69.7%,#a41379 74.4%,#8b08cc 78.5%,#7c01fa 83.2%,#7800fe 84.4%,#6000f7 90.3%,#4900c3 95.6%,#34007d 99.7%)"></i>
<i style="left:34.0px;width:1.3px;background:linear-gradient(#f3b700 0.3%,#f2b400 12.6%,#eaa100 27.9%,#db6d00 44.4%,#d25500 52.6%,#bc2800 66.8%,#b9250e 69.1%,#b72314 69.7%,#a3137a 74.4%,#8b08cd 78.5%,#7a00ff 83.8%,#6000f7 90.3%,#4900c3 95.6%,#34007d 99.7%)"></i>
<i style="left:35.0px;width:1.3px;background:linear-gradient(#f3b700 0.3%,#f2b300 13.2%,#eaa000 27.9%,#db6e00 43.8%,#d25400 52.6%,#bc2801 66.8%,#b8240e 69.1%,#b72317 69.7%,#a3127c 74.4%,#8b08ce 78.5%,#7a00ff 83.8%,#6000f7 90.3%,#4a00c4 95.6%,#34007e 99.7%)"></i>
<i style="left:36.0px;width:1.3px;background:linear-gradient(#f3b600 0.3%,#f1b200 13.2%,#e99f00 27.9%,#da6c00 44.4%,#c33700 62.1%,#bc2801 66.8%,#b8240f 69.1%,#b21e33 70.9%,#950cac 76.8%,#8a08cf 78.5%,#7a00ff 83.8%,#6000f7 90.3%,#4a00c4 95.6%,#34007e 99.7%)"></i>
<i style="left:37.0px;width:1.3px;background:linear-gradient(#f2b500 0.3%,#f1b200 13.2%,#e99e00 27.9%,#d96700 45.6%,#bb2702 66.8%,#b8240f 69.1%,#9c0f95 75.6%,#8a08d0 78.5%,#7a00ff 83.8%,#6000f8 90.3%,#4700bd 96.2%,#34007f 99.7%)"></i>
<i style="left:38.0px;width:1.3px;background:linear-gradient(#f2b400 0.3%,#f1b100 13.2%,#e99e00 27.9%,#da6900 45.0%,#be2c00 65.0%,#bb2703 66.8%,#b82410 69.1%,#a51474 73.8%,#8a08d0 78.5%,#7a00ff 83.8%,#6000f8 90.3%,#4700bd 96.2%,#35007f 99.7%)"></i>
<i style="left:39.0px;width:1.3px;background:linear-gradient(#f2b400 0.3%,#f0b000 13.8%,#e89d00 27.9%,#d96400 46.2%,#be2c00 65.0%,#bb2703 66.8%,#b82412 69.1%,#a21181 74.4%,#8a08d1 78.5%,#7b01fc 83.2%,#7700fe 84.4%,#6000f8 90.3%,#4700be 96.2%,#350080 99.7%)"></i>
<i style="left:40.0px;width:1.3px;background:linear-gradient(#f2b300 0.3%,#f0af00 13.8%,#e89c00 27.9%,#d45900 50.3%,#bc2801 66.2%,#b9250e 68.5%,#b72314 69.1%,#a21182 74.4%,#8a08d1 78.5%,#7b01fc 83.2%,#7400fd 85.0%,#6000f8 90.3%,#4800be 96.2%,#350080 99.7%)"></i>
<i style="left:41.0px;width:1.3px;background:linear-gradient(#f1b200 0.3%,#f0ae00 13.8%,#e89b00 27.9%,#d45900 50.3%,#bc2801 66.2%,#b8240e 68.5%,#b52123 69.7%,#970da5 76.2%,#8908d2 78.5%,#7b01fc 83.2%,#7400fd 85.0%,#6000f8 90.3%,#4800bf 96.2%,#350081 99.7%)"></i>
<i style="left:42.0px;width:1.3px;background:linear-gradient(#f1b200 0.3%,#efae00 13.8%,#e89c00 27.4%,#d55a00 49.7%,#bc2802 66.2%,#b8240f 68.5%,#970da6 76.2%,#8908d2 78.5%,#7b00fc 83.2%,#7000fc 86.2%,#6000f8 90.3%,#4800c0 96.2%,#350082 99.7%)"></i>
<i style="left:43.0px;width:1.3px;background:linear-gradient(#f1b100 0.3%,#efad00 14.4%,#e79a00 27.9%,#d55900 49.7%,#bb2702 66.2%,#b8240f 68.5%,#9e0f91 75.0%,#8908d2 78.5%,#7b00fc 83.2%,#6c00fb 87.4%,#6000f8 90.3%,#4800c0 96.2%,#360082 99.7%)"></i>
<i style="left:44.0px;width:1.3px;background:linear-gradient(#f0b000 0.3%,#efac00 14.4%,#e79900 27.9%,#d45800 50.3%,#bc2800 65.6%,#b82410 68.5%,#a61470 73.2%,#8908d3 78.5%,#7b00fd 83.2%,#6000f8 90.3%,#4800c0 96.2%,#360083 99.7%)"></i>
<i style="left:45.0px;width:1.3px;background:linear-gradient(#f0af00 0.3%,#eeab00 14.4%,#e79800 27.9%,#d45900 49.7%,#bc2800 65.6%,#b82412 68.5%,#a51471 73.2%,#8c09cb 77.9%,#7e02f3 82.1%,#7900ff 83.8%,#6000f8 90.3%,#4b00c7 95.6%,#4200ae 97.4%,#360084 99.7%)"></i>
<i style="left:46.0px;width:1.3px;background:linear-gradient(#f0af00 0.3%,#eeab00 14.4%,#e79900 27.4%,#d45900 49.7%,#bc2800 65.6%,#b72314 68.5%,#a3127e 73.8%,#8b08cc 77.9%,#7c01f8 82.6%,#7900ff 83.8%,#6100f8 90.3%,#4b00c8 95.6%,#4300ae 97.4%,#360085 99.7%)"></i>
<i style="left:47.0px;width:1.3px;background:linear-gradient(#f0ae00 0.3%,#eeaa00 15.0%,#e69700 27.9%,#d55a00 49.1%,#bc2801 65.6%,#b8240e 67.9%,#b72316 68.5%,#a2127f 73.8%,#8b08cc 77.9%,#7b00fd 83.2%,#6100f8 90.3%,#4b00c8 95.6%,#4300af 97.4%,#360085 99.7%)"></i>
<i style="left:48.0px;width:1.3px;background:linear-gradient(#efad00 0.3%,#eea900 15.0%,#e69600 27.9%,#d45800 49.7%,#bc2801 65.6%,#b8240f 67.9%,#b52124 69.1%,#990da1 75.6%,#8b08cd 77.9%,#7b00fd 83.2%,#6100f8 90.3%,#4e00ce 95.0%,#4600b9 96.8%,#370086 99.7%)"></i>
<i style="left:49.0px;width:1.3px;background:linear-gradient(#efad00 0.3%,#eda800 15.0%,#e59500 27.9%,#d45800 49.7%,#bc2802 65.6%,#b8240f 67.9%,#990da2 75.6%,#8b08ce 77.9%,#7b00fd 83.2%,#6100f8 90.3%,#4e00cf 95.0%,#4600ba 96.8%,#370087 99.7%)"></i>
<i style="left:50.0px;width:1.3px;background:linear-gradient(#efac00 0.3%,#eda800 15.0%,#e59500 27.9%,#d96300 45.0%,#c33700 60.9%,#bb2702 65.6%,#b82410 67.9%,#a21183 73.8%,#8a08cf 77.9%,#7b00fe 83.2%,#5f00f5 90.9%,#4900c3 96.2%,#370087 99.7%)"></i>
<i style="left:51.0px;width:1.3px;background:linear-gradient(#eeab00 0.3%,#eda700 15.6%,#e59400 27.9%,#d86200 45.0%,#c43800 60.3%,#bb2703 65.6%,#b82410 67.9%,#a91663 72.1%,#8a08cf 77.9%,#7a00fe 83.2%,#5f00f5 90.9%,#4900c3 96.2%,#370088 99.7%)"></i>
<i style="left:52.0px;width:1.3px;background:linear-gradient(#eeaa00 0.3%,#eca600 15.6%,#e59300 27.9%,#d96400 44.4%,#c33600 60.9%,#bc2800 65.0%,#b82411 67.9%,#a81664 72.1%,#8a08d0 77.9%,#7a00fe 83.2%,#5f00f6 90.9%,#4a00c4 96.2%,#370089 99.7%)"></i>
<i style="left:53.0px;width:1.3px;background:linear-gradient(#eeaa00 0.3%,#eca600 15.6%,#e49300 27.9%,#d96400 44.4%,#c43800 60.3%,#bc2800 65.0%,#b82413 67.9%,#a81665 72.1%,#8a08d0 77.9%,#7a00fe 83.2%,#5f00f6 90.9%,#4a00c4 96.2%,#380089 99.7%)"></i>
<i style="left:54.0px;width:1.3px;background:linear-gradient(#eda900 0.3%,#eca400 16.2%,#e39100 28.5%,#d96300 44.4%,#c53a00 59.7%,#bc2800 65.0%,#b72314 67.9%,#a51471 72.6%,#8a08d1 77.9%,#7a00fe 83.2%,#5f00f6 90.9%,#4a00c4 96.2%,#38008a 99.7%)"></i>
<i style="left:55.0px;width:1.3px;background:linear-gradient(#eda800 0.3%,#eba400 16.2%,#e39000 28.5%,#d96500 43.8%,#c43800 60.3%,#bc2801 65.0%,#b8240e 67.4%,#b72315 67.9%,#a51472 72.6%,#8a08d1 77.9%,#7a00fe 83.2%,#5f00f6 90.9%,#4a00c5 96.2%,#3b0095 99.1%,#38008b 99.7%)"></i>
<i style="left:56.0px;width:1.3px;background:linear-gradient(#eda800 0.3%,#eba300 16.2%,#e38f00 28.5%,#d96600 43.2%,#c43700 60.3%,#bc2801 65.0%,#b8240f 67.4%,#b52123 68.5%,#9d0f93 74.4%,#8a08d1 77.9%,#7a00fe 83.2%,#5f00f6 90.9%,#4700be 96.8%,#38008c 99.7%)"></i>
<i style="left:57.0px;width:1.3px;background:linear-gradient(#eda700 0.3%,#eba300 16.2%,#e38f00 28.5%,#d96600 43.2%,#c53900 59.7%,#bc2801 65.0%,#b8240f 67.4%,#9a0e9e 75.0%,#8a08d1 77.9%,#7a00fe 83.2%,#5f00f6 90.9%,#4800bf 96.8%,#39008c 99.7%)"></i>
<i style="left:58.0px;width:1.3px;background:linear-gradient(#eca600 0.3%,#eaa200 16.8%,#e18b00 29.7%,#d96600 43.2%,#c53900 59.7%,#bc2802 65.0%,#b8240f 67.4%,#9d0f94 74.4%,#8908d2 77.9%,#7a00fe 83.2%,#5f00f6 90.9%,#4800bf 96.8%,#39008d 99.7%)"></i>
<i style="left:59.0px;width:1.3px;background:linear-gradient(#eca600 0.3%,#eaa100 16.8%,#e18a00 29.7%,#d96500 43.2%,#c53b00 59.1%,#bc2802 65.0%,#b8240f 67.4%,#a21280 73.2%,#8908d2 77.9%,#7a00fe 83.2%,#5f00f7 90.9%,#4800c0 96.8%,#39008e 99.7%)"></i>
<i style="left:60.0px;width:1.3px;background:linear-gradient(#eca500 0.3%,#eaa000 16.8%,#e18a00 29.7%,#d96700 42.6%,#c43900 59.7%,#bb2702 65.0%,#b82410 67.4%,#a7156b 72.1%,#8908d2 77.9%,#7a00fe 83.2%,#5f00f7 90.9%,#4800c0 96.8%,#39008f 99.7%)"></i>
<i style="left:61.0px;width:1.3px;background:linear-gradient(#eca400 0.3%,#eaa000 16.8%,#e08900 29.7%,#da6800 42.1%,#c43900 59.7%,#bb2702 65.0%,#b82410 67.4%,#a91761 71.5%,#8908d2 77.9%,#7a00fe 83.2%,#6000f7 90.9%,#4800c1 96.8%,#39008f 99.7%)"></i>
<i style="left:62.0px;width:1.3px;background:linear-gradient(#eba300 0.3%,#e99f00 17.4%,#df8100 33.2%,#d55b00 47.4%,#bd2b00 63.8%,#ba260a 66.2%,#b82410 67.4%,#a91662 71.5%,#8908d3 77.9%,#7a00fe 83.2%,#6000f7 90.9%,#4900c1 96.8%,#3a0090 99.7%)"></i>
<i style="left:63.0px;width:1.3px;background:linear-gradient(#eba300 0.3%,#e99e00 17.4%,#de7f00 33.8%,#d65c00 46.8%,#c13300 61.5%,#bb2703 65.0%,#b82411 67.4%,#a81663 71.5%,#8c09cb 77.4%,#7d02f6 82.1%,#7a00fe 83.2%,#6000f7 90.9%,#4900c2 96.8%,#3a0091 99.7%)"></i>
<i style="left:64.0px;width:1.3px;background:linear-gradient(#eba200 0.3%,#e99d00 17.4%,#de7e00 34.4%,#d65b00 46.8%,#c13200 61.5%,#bc2800 64.4%,#b82412 67.4%,#a81664 71.5%,#8b08cc 77.4%,#7c01fa 82.6%,#7800fe 83.8%,#6000f7 90.9%,#4900c2 96.8%,#3a0092 99.7%)"></i>
<i style="left:65.0px;width:1.3px;background:linear-gradient(#eaa100 0.3%,#e89d00 17.4%,#de7c00 35.0%,#d65b00 46.8%,#c13200 61.5%,#bc2800 64.4%,#b82413 67.4%,#a81664 71.5%,#8b08cc 77.4%,#7c01fa 82.6%,#7800fe 83.8%,#6000f7 90.9%,#4900c2 96.8%,#3a0093 99.7%)"></i>
<i style="left:66.0px;width:1.3px;background:linear-gradient(#eaa100 0.3%,#e89c00 17.4%,#dd7b00 35.0%,#d65b00 46.8%,#c13200 61.5%,#bc2800 64.4%,#b72314 67.4%,#a81665 71.5%,#8b08cd 77.4%,#7a00fe 83.2%,#6000f7 90.9%,#4900c3 96.8%,#3b0094 99.7%)"></i>
<i style="left:67.0px;width:1.3px;background:linear-gradient(#eaa000 0.3%,#e89b00 17.4%,#dd7900 35.6%,#d65b00 46.8%,#c13200 61.5%,#bc2800 64.4%,#b72314 67.4%,#a81666 71.5%,#8b08cd 77.4%,#7a00fe 83.2%,#6000f8 90.9%,#4900c3 96.8%,#3b0095 99.7%)"></i>
<i style="left:68.0px;width:1.3px;background:linear-gradient(#e99f00 0.3%,#e89b00 17.4%,#dd7900 35.6%,#d65c00 46.2%,#c43700 59.7%,#bc2800 64.4%,#b8240e 66.8%,#b72315 67.4%,#a81666 71.5%,#8b08cd 77.4%,#7a00fe 83.2%,#6000f8 90.9%,#4a00c4 96.8%,#3b0096 99.7%)"></i>
<i style="left:69.0px;width:1.3px;background:linear-gradient(#e99e00 0.3%,#e79a00 17.4%,#dd7700 36.2%,#d65c00 46.2%,#c53900 59.1%,#bc2800 64.4%,#b8240e 66.8%,#b72316 67.4%,#a81667 71.5%,#8b08ce 77.4%,#7a00fe 83.2%,#6000f8 90.9%,#4a00c4 96.8%,#3c0097 99.7%)"></i>
<i style="left:70.0px;width:1.3px;background:linear-gradient(#e99e00 0.3%,#e79900 17.4%,#dd7700 36.2%,#d65c00 46.2%,#c53900 59.1%,#bc2801 64.4%,#b8240e 66.8%,#b52123 67.9%,#a11088 73.2%,#8b08ce 77.4%,#7a00fe 83.2%,#6000f8 90.9%,#4a00c5 96.8%,#3c0098 99.7%)"></i>
<i style="left:71.0px;width:1.3px;background:linear-gradient(#e99d00 0.3%,#e79800 17.4%,#dc7600 36.2%,#d65c00 46.2%,#c43900 59.1%,#bc2801 64.4%,#b8240f 66.8%,#b52123 67.9%,#a01088 73.2%,#8a08cf 77.4%,#7a00fe 83.2%,#6000f8 90.9%,#4a00c5 96.8%,#3f00a3 99.1%,#3c0099 99.7%)"></i>
<i style="left:72.0px;width:1.3px;background:linear-gradient(#e89c00 0.3%,#e69700 17.9%,#dc7400 36.8%,#d65b00 46.2%,#c43900 59.1%,#bc2801 64.4%,#b8240f 66.8%,#b31f30 68.5%,#9a0e9d 74.4%,#8a08cf 77.4%,#7a00fe 83.2%,#6000f8 90.9%,#4800c0 97.4%,#3d009b 99.7%)"></i>
<i style="left:73.0px;width:1.3px;background:linear-gradient(#e89b00 0.3%,#e69600 17.9%,#dc7500 36.2%,#d65b00 46.2%,#c43900 59.1%,#bc2801 64.4%,#b8240f 66.8%,#9d0f94 73.8%,#8a08d0 77.4%,#7a00fe 83.2%,#6000f8 90.9%,#4800c1 97.4%,#3d009c 99.7%)"></i>
<i style="left:74.0px;width:1.3px;background:linear-gradient(#e89a00 0.3%,#e69600 17.9%,#dc7500 36.2%,#d65c00 45.6%,#c73e00 57.4%,#bc2801 64.4%,#b8240f 66.8%,#a0108a 73.2%,#8a08d0 77.4%,#7a00fe 83.2%,#6000f8 90.9%,#4800c1 97.4%,#3e009d 99.7%)"></i>
<i style="left:75.0px;width:2.3px;background:linear-gradient(#e79900 0.3%,#e59400 17.9%,#dc7500 36.2%,#d65c00 45.6%,#c73e00 57.4%,#bc2802 64.4%,#b8240f 66.8%,#a0108b 73.2%,#8a08d0 77.4%,#7a00fe 83.2%,#6000f8 90.9%,#4900c2 97.4%,#3e009f 99.7%)"></i>
<i style="left:77.0px;width:2.3px;background:linear-gradient(#e69800 0.3%,#e49300 17.9%,#dc7500 35.6%,#d65c00 45.6%,#c73e00 57.4%,#bc2802 64.4%,#b8240f 66.8%,#a41377 72.1%,#8a08d1 77.4%,#7a00fe 83.2%,#6000f8 90.9%,#4900c3 97.4%,#3f00a2 99.7%)"></i>
<i style="left:79.0px;width:2.3px;background:linear-gradient(#e69600 0.3%,#e49100 17.9%,#dc7500 35.6%,#d65b00 45.6%,#c83f00 56.8%,#bb2702 64.4%,#b82410 66.8%,#a6156d 71.5%,#8a08d1 77.4%,#7a00fe 83.2%,#6000f8 90.9%,#4a00c5 97.4%,#4000a5 99.7%)"></i>
<i style="left:81.0px;width:2.3px;background:linear-gradient(#e59400 0.3%,#e38f00 17.9%,#dc7500 35.0%,#d65c00 45.0%,#c94300 55.6%,#bb2702 64.4%,#b82410 66.8%,#a81663 70.9%,#8c09c9 76.8%,#8606db 78.5%,#7a00fe 83.2%,#6000f8 90.9%,#4800c1 97.9%,#4100a8 99.7%)"></i>
<i style="left:83.0px;width:2.3px;background:linear-gradient(#e49300 0.3%,#e28e00 17.9%,#dc7500 35.0%,#d55b00 45.6%,#c84100 56.2%,#bc2800 63.8%,#b82411 66.8%,#a81664 70.9%,#8c09ca 76.8%,#8304e5 79.7%,#7a00fe 83.2%,#6000f8 90.9%,#4900c2 97.9%,#4200ab 99.7%)"></i>
<i style="left:85.0px;width:2.3px;background:linear-gradient(#e49100 0.3%,#e28c00 17.9%,#dc7500 34.4%,#d65c00 45.0%,#ca4400 55.0%,#bc2800 63.8%,#b82412 66.8%,#a61470 71.5%,#8c09cb 76.8%,#8003ee 80.9%,#7a00fe 83.2%,#5f00f5 91.5%,#4700be 98.5%,#4300ae 99.7%)"></i>
<i style="left:87.0px;width:2.3px;background:linear-gradient(#e39000 0.3%,#e18b00 17.9%,#dc7600 33.8%,#d65b00 45.0%,#ca4400 55.0%,#bc2800 63.8%,#b82413 66.8%,#a51471 71.5%,#8b09cb 76.8%,#7d01f7 82.1%,#7a00fe 83.2%,#5f00f5 91.5%,#4800c0 98.5%,#4400b1 99.7%)"></i>
<i style="left:89.0px;width:2.3px;background:linear-gradient(#e28e00 0.3%,#e08900 17.9%,#dc7600 33.2%,#d65b00 45.0%,#ca4300 55.0%,#bc2800 63.8%,#b72313 66.8%,#a51472 71.5%,#8b08cc 76.8%,#7b01fb 82.6%,#7800fe 83.8%,#5f00f5 91.5%,#4700bc 99.1%,#4500b4 99.7%)"></i>
<i style="left:91.0px;width:2.3px;background:linear-gradient(#e28c00 0.3%,#e08800 17.9%,#dc7500 33.2%,#d55b00 45.0%,#ca4300 55.0%,#bc2800 63.8%,#b72314 66.8%,#a51472 71.5%,#8b08cd 76.8%,#7a00fe 83.2%,#5f00f6 91.5%,#4700be 99.1%,#4500b7 99.7%)"></i>
<i style="left:93.0px;width:2.3px;background:linear-gradient(#e18b00 0.3%,#e08600 19.1%,#dc7300 33.8%,#d65c00 44.4%,#cb4600 53.8%,#bc2800 63.8%,#b8240e 66.2%,#b72315 66.8%,#a51473 71.5%,#8b08ce 76.8%,#7a00fe 83.2%,#5f00f6 91.5%,#4600ba 99.7%)"></i>
<i style="left:95.0px;width:2.3px;background:linear-gradient(#e18900 0.3%,#df8400 20.3%,#dc7200 34.4%,#d55a00 45.0%,#ca4500 54.4%,#bc2801 63.8%,#b8240e 66.2%,#b72316 66.8%,#a2127f 72.1%,#8b08ce 76.8%,#7a00fe 83.2%,#5f00f6 91.5%,#4700bd 99.7%)"></i>
<i style="left:97.0px;width:2.3px;background:linear-gradient(#e08800 0.3%,#df8200 20.9%,#db7000 35.0%,#d55a00 45.0%,#ca4500 54.4%,#bc2801 63.8%,#b8240e 66.2%,#b52123 67.4%,#a0108b 72.6%,#8a08cf 76.8%,#7a00fe 83.2%,#5f00f6 91.5%,#4800c0 99.7%)"></i>
<i style="left:99.0px;width:2.3px;background:linear-gradient(#e08700 0.3%,#df8100 20.9%,#db6f00 35.0%,#d55b00 44.4%,#cb4600 53.8%,#bc2801 63.8%,#b8240f 66.2%,#b52123 67.4%,#a0108b 72.6%,#8a08cf 76.8%,#7a00fe 83.2%,#5f00f6 91.5%,#4900c2 99.7%)"></i>
<i style="left:101.0px;width:2.3px;background:linear-gradient(#e08600 0.3%,#de8000 20.9%,#db6e00 35.0%,#d55b00 44.4%,#cb4600 53.8%,#bc2801 63.8%,#b8240f 66.2%,#b31f31 67.9%,#990da0 73.8%,#8a08d0 76.8%,#7a00fe 83.2%,#5f00f6 91.5%,#4a00c4 99.7%)"></i>
<i style="left:103.0px;width:2.3px;background:linear-gradient(#df8500 0.3%,#de7f00 21.5%,#db6e00 35.0%,#d55a00 45.0%,#ca4400 54.4%,#bc2801 63.8%,#b8240f 66.2%,#9c0f97 73.2%,#8a08d0 76.8%,#7a00fe 83.2%,#5f00f7 91.5%,#4a00c5 99.7%)"></i>
<i style="left:105.0px;width:2.3px;background:linear-gradient(#df8400 0.3%,#de7e00 21.5%,#db6d00 35.0%,#d55a00 44.4%,#cb4600 53.8%,#bc2802 63.8%,#b8240f 66.2%,#9c0e98 73.2%,#8a08d0 76.8%,#7a00fe 83.2%,#5f00f7 91.5%,#4b00c7 99.7%)"></i>
<i style="left:107.0px;width:2.3px;background:linear-gradient(#df8300 0.3%,#de7d00 22.1%,#da6b00 35.6%,#d55900 45.0%,#ca4400 54.4%,#bc2802 63.8%,#b8240f 66.2%,#9c0e98 73.2%,#8a08d1 76.8%,#7a00fe 83.2%,#6000f7 91.5%,#4c00c8 99.7%)"></i>
<i style="left:109.0px;width:2.3px;background:linear-gradient(#df8200 0.3%,#de7c00 22.1%,#da6b00 35.6%,#d45800 45.6%,#c94200 55.0%,#bc2802 63.8%,#b8240f 66.2%,#9b0e99 73.2%,#8a08d1 76.8%,#7a00fe 83.2%,#6000f7 91.5%,#4c00ca 99.7%)"></i>
<i style="left:111.0px;width:2.3px;background:linear-gradient(#df8100 0.3%,#dd7b00 22.6%,#da6a00 35.6%,#d45700 46.2%,#c84000 55.6%,#bb2702 63.8%,#b8240f 66.2%,#9f0f8f 72.6%,#8a08d1 76.8%,#7a00fe 83.2%,#6000f7 91.5%,#4d00cb 99.7%)"></i>
<i style="left:113.0px;width:2.3px;background:linear-gradient(#de8000 0.3%,#dd7900 23.2%,#da6900 36.2%,#cc4800 52.6%,#bb2702 63.8%,#b82410 66.2%,#9e0f8f 72.6%,#8a08d1 76.8%,#7a00fe 83.2%,#6000f7 91.5%,#4d00cd 99.7%)"></i>
<i style="left:115.0px;width:2.3px;background:linear-gradient(#de7f00 0.3%,#dd7900 23.2%,#da6800 36.2%,#cd4a00 52.1%,#bb2703 63.8%,#b82410 66.2%,#a11185 72.1%,#8c09c9 76.2%,#8706da 77.9%,#7a00fe 83.2%,#6000f8 91.5%,#4e00ce 99.7%)"></i>
<i style="left:117.0px;width:2.3px;background:linear-gradient(#de7e00 0.3%,#dd7800 23.8%,#d96600 36.8%,#cd4a00 52.1%,#bc2800 63.2%,#b82410 66.2%,#a11185 72.1%,#8c09ca 76.2%,#8505df 78.5%,#7a00fe 83.2%,#6000f8 91.5%,#4e00cf 99.7%)"></i>
<i style="left:119.0px;width:2.3px;background:linear-gradient(#de7d00 0.3%,#dd7700 24.4%,#d96400 37.4%,#cd4a00 52.1%,#bc2800 63.2%,#b82410 66.2%,#a3137b 71.5%,#8c09ca 76.2%,#8505df 78.5%,#7a00fe 83.2%,#5f00f5 92.1%,#4f00d0 99.7%)"></i>
<i style="left:121.0px;width:4.3px;background:linear-gradient(#de7c00 0.3%,#dc7500 25.0%,#d96400 37.4%,#cd4a00 52.1%,#bc2800 63.2%,#b82411 66.2%,#a11186 72.1%,#8c09ca 76.2%,#8305e3 79.1%,#7a00fe 83.2%,#5f00f5 92.1%,#5000d2 99.7%)"></i>
<i style="left:125.0px;width:4.3px;background:linear-gradient(#dd7a00 0.3%,#dc7400 25.6%,#d86100 37.9%,#ce4b00 51.5%,#bc2800 63.2%,#b82412 66.2%,#a11187 72.1%,#8c09cb 76.2%,#8204e7 79.7%,#7a00fe 83.2%,#5f00f5 92.1%,#5000d3 99.7%)"></i>
<i style="left:129.0px;width:4.3px;background:linear-gradient(#dd7900 0.3%,#dc7200 26.2%,#d05000 49.1%,#bc2800 63.2%,#b82413 66.2%,#a11087 72.1%,#8c09cb 76.2%,#8103ec 80.3%,#7a00fe 83.2%,#5f00f6 92.1%,#5100d5 99.7%)"></i>
<i style="left:133.0px;width:4.3px;background:linear-gradient(#dd7800 0.3%,#db7100 26.8%,#cf4f00 49.7%,#bc2801 63.2%,#b72314 66.2%,#a11087 72.1%,#8c09cb 76.2%,#7f03f0 80.9%,#7a00fe 83.2%,#5f00f6 92.1%,#5100d6 99.7%)"></i>
<i style="left:137.0px;width:4.3px;background:linear-gradient(#dc7600 0.3%,#db6f00 27.4%,#cf4d00 50.3%,#bc2801 63.2%,#b9250e 65.6%,#b72315 66.2%,#a01088 72.1%,#8c09cb 76.2%,#7f03f0 80.9%,#7a00fe 83.2%,#5f00f7 92.1%,#5200d7 99.7%)"></i>
<i style="left:141.0px;width:4.3px;background:linear-gradient(#dc7500 0.3%,#db6e00 27.9%,#cf4d00 50.3%,#bc2801 63.2%,#b8240e 65.6%,#b52122 66.8%,#9d0f92 72.6%,#8908d2 76.8%,#7a00fe 83.2%,#6000f7 92.1%,#5200d8 99.7%)"></i>
<i style="left:145.0px;width:4.3px;background:linear-gradient(#dc7400 0.3%,#da6c00 28.5%,#ce4b00 50.9%,#bc2802 63.2%,#b8240e 65.6%,#b52122 66.8%,#9d0f92 72.6%,#8908d2 76.8%,#7a00fe 83.2%,#6000f7 92.1%,#5300d9 99.7%)"></i>
<i style="left:149.0px;width:4.3px;background:linear-gradient(#dc7300 0.3%,#da6b00 28.5%,#ce4b00 50.9%,#bc2802 63.2%,#b8240f 65.6%,#b31f2f 67.4%,#9a0e9c 73.2%,#8908d2 76.8%,#7a00fe 83.2%,#5f00f5 92.6%,#5300da 99.7%)"></i>
<i style="left:153.0px;width:4.3px;background:linear-gradient(#dc7200 0.3%,#da6a00 29.1%,#cd4b00 50.9%,#bb2702 63.2%,#b8240f 65.6%,#9a0e9d 73.2%,#8908d2 76.8%,#7a00fe 83.2%,#5f00f5 92.6%,#5400db 99.7%)"></i>
<i style="left:157.0px;width:4.3px;background:linear-gradient(#db7000 0.3%,#da6900 29.7%,#cd4b00 50.9%,#bb2702 63.2%,#b8240f 65.6%,#9d0f93 72.6%,#8908d2 76.8%,#7a00fe 83.2%,#5f00f6 92.6%,#5400dc 99.7%)"></i>
<i style="left:161.0px;width:4.3px;background:linear-gradient(#db6f00 0.3%,#da6800 29.7%,#cd4a00 50.9%,#bb2703 63.2%,#b8240f 65.6%,#9d0f93 72.6%,#8908d2 76.8%,#7a00fe 83.2%,#5f00f6 92.6%,#5400dd 99.7%)"></i>
<i style="left:165.0px;width:4.3px;background:linear-gradient(#db6e00 0.3%,#d96700 29.7%,#cd4a00 50.9%,#bc2800 62.6%,#b8240f 65.6%,#9d0f93 72.6%,#8908d2 76.8%,#7a00fe 83.2%,#5f00f6 92.6%,#5500dd 99.7%)"></i>
<i style="left:169.0px;width:4.3px;background:linear-gradient(#db6d00 0.3%,#d96600 29.7%,#cd4a00 50.9%,#bc2800 62.6%,#b82410 65.6%,#a01089 72.1%,#8908d2 76.8%,#7a00fe 83.2%,#5f00f7 92.6%,#5500de 99.7%)"></i>
<i style="left:173.0px;width:4.3px;background:linear-gradient(#da6c00 0.3%,#d96600 29.7%,#cd4b00 50.3%,#bc2800 62.6%,#b82410 65.6%,#a0108a 72.1%,#8908d2 76.8%,#7a00fe 83.2%,#5f00f5 93.2%,#5500df 99.7%)"></i>
<i style="left:177.0px;width:4.3px;background:linear-gradient(#da6b00 0.3%,#d96500 29.7%,#cd4b00 50.3%,#bc2800 62.6%,#b82410 65.6%,#a2127f 71.5%,#8908d2 76.8%,#7a00fe 83.2%,#5f00f5 93.2%,#5500df 99.7%)"></i>
<i style="left:181.0px;width:4.3px;background:linear-gradient(#da6a00 0.3%,#d96500 29.7%,#cd4a00 50.3%,#bc2801 62.6%,#b82410 65.6%,#a51375 70.9%,#8c09cb 76.2%,#7f03f0 80.9%,#7a00fe 83.2%,#5f00f5 93.2%,#5600e0 99.7%)"></i>
<i style="left:185.0px;width:4.3px;background:linear-gradient(#da6a00 0.3%,#d96400 29.7%,#cd4a00 50.3%,#bc2801 62.6%,#b82411 65.6%,#a41375 70.9%,#8c09cb 76.2%,#7f03f0 80.9%,#7a00fe 83.2%,#5f00f6 93.2%,#5600e0 99.7%)"></i>
<i style="left:189.0px;width:4.3px;background:linear-gradient(#da6900 0.3%,#d96300 29.7%,#ce4b00 49.7%,#bc2801 62.6%,#b82412 65.6%,#a41376 70.9%,#8c09cb 76.2%,#7f03f0 80.9%,#7a00fe 83.2%,#5f00f6 93.2%,#5600e1 99.7%)"></i>
<i style="left:193.0px;width:4.3px;background:linear-gradient(#da6800 0.3%,#d86200 30.3%,#cd4b00 49.7%,#bc2801 62.6%,#b82412 65.6%,#a41376 70.9%,#8c09cb 76.2%,#7f03f0 80.9%,#7a00fe 83.2%,#5f00f6 93.2%,#5600e1 99.7%)"></i>
<i style="left:197.0px;width:4.3px;background:linear-gradient(#d96700 0.3%,#d86200 30.3%,#ce4c00 49.1%,#bc2801 62.6%,#b82413 65.6%,#a41376 70.9%,#8c09cb 76.2%,#7f03f0 80.9%,#7a00fe 83.2%,#5f00f6 93.2%,#5600e2 99.7%)"></i>
<i style="left:201.0px;width:4.3px;background:linear-gradient(#d96600 0.3%,#d86100 30.3%,#ce4c00 49.1%,#bc2802 62.6%,#b72313 65.6%,#a41376 70.9%,#8c09cb 76.2%,#7f03f0 80.9%,#7a00fe 83.2%,#5f00f7 93.2%,#5700e2 99.7%)"></i>
<i style="left:205.0px;width:4.3px;background:linear-gradient(#d96500 0.3%,#d86100 30.3%,#ce4d00 48.5%,#bc2802 62.6%,#b72314 65.6%,#a21280 71.5%,#8908d2 76.8%,#7a00fe 83.2%,#5f00f5 93.8%,#5700e2 99.7%)"></i>
<i style="left:209.0px;width:4.3px;background:linear-gradient(#d96500 0.3%,#d86000 30.3%,#cf4d00 47.9%,#bc2802 62.6%,#b72314 65.6%,#a21280 71.5%,#8908d2 76.8%,#7a00fe 83.2%,#5f00f5 93.8%,#5700e3 99.7%)"></i>
<i style="left:213.0px;width:4.3px;background:linear-gradient(#d96400 0.3%,#d85f00 30.9%,#ce4c00 48.5%,#bb2702 62.6%,#b8240e 65.0%,#b72315 65.6%,#a21280 71.5%,#8908d2 76.8%,#7a00fe 83.2%,#5f00f5 93.8%,#5700e3 99.7%)"></i>
<i style="left:217.0px;width:4.3px;background:linear-gradient(#d96300 0.3%,#d75f00 31.5%,#cd4b00 49.1%,#bb2702 62.6%,#b8240e 65.0%,#b52120 66.2%,#9d0f94 72.6%,#8908d2 76.8%,#7a00fe 83.2%,#5f00f6 93.8%,#5700e3 99.7%)"></i>
<i style="left:221.0px;width:4.3px;background:linear-gradient(#d86200 0.3%,#d75e00 32.1%,#cd4b00 49.1%,#bb2702 62.6%,#b8240e 65.0%,#b52121 66.2%,#9d0f94 72.6%,#8908d2 76.8%,#7a00fe 83.2%,#5f00f6 93.8%,#5700e3 99.7%)"></i>
<i style="left:225.0px;width:4.3px;background:linear-gradient(#d86200 0.3%,#d75e00 32.1%,#cd4a00 49.1%,#bb2703 62.6%,#b8240f 65.0%,#b52121 66.2%,#9d0f94 72.6%,#8908d2 76.8%,#7a00fe 83.2%,#5f00f6 93.8%,#5700e4 99.7%)"></i>
<i style="left:229.0px;width:4.3px;background:linear-gradient(#d86100 0.3%,#d75d00 32.6%,#cc4900 49.7%,#bc2800 62.1%,#b8240f 65.0%,#b31f2d 66.8%,#9a0e9d 73.2%,#8908d2 76.8%,#7a00fe 83.2%,#5f00f6 93.8%,#5700e4 99.7%)"></i>
<i style="left:233.0px;width:4.3px;background:linear-gradient(#d86000 0.3%,#d65d00 33.2%,#cc4900 49.7%,#bc2800 62.1%,#b8240f 65.0%,#b31f2d 66.8%,#970da7 73.8%,#8908d2 76.8%,#7a00fe 83.2%,#5f00f6 93.8%,#5700e4 99.7%)"></i>
<i style="left:237.0px;width:4.7px;background:linear-gradient(#d86000 0.3%,#d65d00 33.2%,#cc4900 49.7%,#bc2800 62.1%,#b8240f 65.0%,#b11d38 67.4%,#970da7 73.8%,#8908d2 76.8%,#7a00fe 83.2%,#5f00f7 93.8%,#5700e4 99.7%)"></i>
</div>
<div class="l c" style="left:472.7px;top:486px">z</div>
<div class="l c" style="left:354.2px;top:495px">8</div>
<div class="l c" style="left:370.8px;top:495px">4</div>
<div class="l c" style="left:403.0px;top:495px">2</div>
<div class="l c" style="left:449.8px;top:495px">1</div>
<div class="l c" style="left:499.0px;top:495px">0.5</div>
<div class="l c" style="left:546.5px;top:495px">0.2</div>
<div class="l c" style="left:589.0px;top:495px">0</div>
<div class="l c" style="left:359.9px;top:685.4px">1</div>
<div class="l c" style="left:377.9px;top:685.4px">2</div>
<div class="l c" style="left:413.6px;top:685.4px">4</div>
<div class="l c" style="left:449.4px;top:685.4px">6</div>
<div class="l c" style="left:485.2px;top:685.4px">8</div>
<div class="l c" style="left:521.0px;top:685.4px">10</div>
<div class="l c" style="left:556.9px;top:685.4px">12</div>
<div class="l c" style="left:590.6px;top:685.4px">13.8</div>
<div class="l c" style="left:471.7px;top:694.8px;font-size:10px">Time Since Big Bang [Gyr]</div>
<div class="l r" style="left:344.8px;top:676.3px">10<sup>9</sup></div>
<div class="l r" style="left:344.8px;top:648.1px">10<sup>10</sup></div>
<div class="l r" style="left:344.8px;top:620.0px">10<sup>11</sup></div>
<div class="l r" style="left:344.8px;top:591.9px">10<sup>12</sup></div>
<div class="l r" style="left:344.8px;top:563.7px">10<sup>13</sup></div>
<div class="l r" style="left:344.8px;top:535.6px">10<sup>14</sup></div>
<div class="l r" style="left:344.8px;top:507.4px">10<sup>15</sup></div>
<div class="l" style="left:317.5px;top:594.2px;font-size:10px;transform:translate(-50%,-50%) rotate(-90deg)">Halo Mass [M<sub style="font-size:7.9px">&#8857;</sub>]</div>
<div class="l k" style="left:363.5px;top:514.6px;font-size:10px;color:#f4f4f4">No Halos</div>
<div class="l k" style="left:436.0px;top:527.3px;font-size:10px;color:#fff8c4">P(&#916;t) = (&#916;t)<sup>-1.5</sup></div>
<div class="l k" style="left:436.0px;top:538.3px;font-size:10px;color:#fff8c4">Short GRB Rate per Unit Halo</div>
<div class="l" style="left:555.8px;top:618.9px;width:12.2px;height:48px;background:linear-gradient(0deg,#000000 0.0%,#220018 2.0%,#2a0046 5.0%,#300070 7.5%,#4800c0 15.0%,#6000f8 23.0%,#7a00ff 30.0%,#8a08d0 38.0%,#a0108a 44.0%,#b01c40 50.0%,#b82410 53.5%,#bc2800 58.0%,#c43800 66.0%,#cc4800 72.5%,#d86000 80.0%,#e08800 86.7%,#f2b400 92.0%,#fcd800 96.0%,#fff400 100.0%)"></div>
<div class="l k" style="left:571.3px;top:614.8px;font-size:10px;color:#f3d9ff">3.5</div>
<div class="l k" style="left:571.3px;top:638.8px;font-size:10px;color:#f3d9ff">-0.2</div>
<div class="l k" style="left:571.3px;top:663.1px;font-size:10px;color:#f3d9ff">-3.9</div>
<div class="l k" style="left:549.3px;top:640.1px;font-size:10px;color:#f3d9ff;transform:translate(-50%,-50%) rotate(-90deg)">log<sub>10</sub>(sGRB Rate)</div>
<svg width="600" height="705" viewBox="0 0 600 705"><rect x="276.3" y="25.3" width="4.1" height="168.9" fill="#000"/>
<rect x="39.0" y="25.3" width="2.4" height="168.9" fill="#000"/>
<path d="M42.2 25.3v-4.5M58.8 25.3v-4.5M91.0 25.3v-4.5M137.8 25.3v-4.5M187.0 25.3v-4.5M234.5 25.3v-4.5M277.0 25.3v-4.5M48.0 194.2v4.5M65.8 194.2v4.5M101.6 194.2v4.5M137.4 194.2v4.5M173.2 194.2v4.5M209.0 194.2v4.5M244.8 194.2v4.5M277.1 194.2v4.5M39.0 194.2h-4.8M280.4 194.2h4.7M39.0 185.7h-2.4M280.4 185.7h2.3M39.0 180.8h-2.4M280.4 180.8h2.3M39.0 177.3h-2.4M280.4 177.3h2.3M39.0 174.5h-2.4M280.4 174.5h2.3M39.0 172.3h-2.4M280.4 172.3h2.3M39.0 170.4h-2.4M280.4 170.4h2.3M39.0 168.8h-2.4M280.4 168.8h2.3M39.0 167.3h-2.4M280.4 167.3h2.3M39.0 166.1h-4.8M280.4 166.1h4.7M39.0 157.6h-2.4M280.4 157.6h2.3M39.0 152.6h-2.4M280.4 152.6h2.3M39.0 149.1h-2.4M280.4 149.1h2.3M39.0 146.4h-2.4M280.4 146.4h2.3M39.0 144.1h-2.4M280.4 144.1h2.3M39.0 142.3h-2.4M280.4 142.3h2.3M39.0 140.6h-2.4M280.4 140.6h2.3M39.0 139.2h-2.4M280.4 139.2h2.3M39.0 137.9h-4.8M280.4 137.9h4.7M39.0 129.4h-2.4M280.4 129.4h2.3M39.0 124.5h-2.4M280.4 124.5h2.3M39.0 121.0h-2.4M280.4 121.0h2.3M39.0 118.2h-2.4M280.4 118.2h2.3M39.0 116.0h-2.4M280.4 116.0h2.3M39.0 114.1h-2.4M280.4 114.1h2.3M39.0 112.5h-2.4M280.4 112.5h2.3M39.0 111.0h-2.4M280.4 111.0h2.3M39.0 109.8h-4.8M280.4 109.8h4.7M39.0 101.3h-2.4M280.4 101.3h2.3M39.0 96.3h-2.4M280.4 96.3h2.3M39.0 92.8h-2.4M280.4 92.8h2.3M39.0 90.1h-2.4M280.4 90.1h2.3M39.0 87.8h-2.4M280.4 87.8h2.3M39.0 86.0h-2.4M280.4 86.0h2.3M39.0 84.3h-2.4M280.4 84.3h2.3M39.0 82.9h-2.4M280.4 82.9h2.3M39.0 81.6h-4.8M280.4 81.6h4.7M39.0 73.1h-2.4M280.4 73.1h2.3M39.0 68.2h-2.4M280.4 68.2h2.3M39.0 64.7h-2.4M280.4 64.7h2.3M39.0 61.9h-2.4M280.4 61.9h2.3M39.0 59.7h-2.4M280.4 59.7h2.3M39.0 57.8h-2.4M280.4 57.8h2.3M39.0 56.2h-2.4M280.4 56.2h2.3M39.0 54.7h-2.4M280.4 54.7h2.3M39.0 53.5h-4.8M280.4 53.5h4.7M39.0 45.0h-2.4M280.4 45.0h2.3M39.0 40.0h-2.4M280.4 40.0h2.3M39.0 36.5h-2.4M280.4 36.5h2.3M39.0 33.8h-2.4M280.4 33.8h2.3M39.0 31.5h-2.4M280.4 31.5h2.3M39.0 29.7h-2.4M280.4 29.7h2.3M39.0 28.0h-2.4M280.4 28.0h2.3M39.0 26.6h-2.4M280.4 26.6h2.3M39.0 25.3h-4.8M280.4 25.3h4.7" stroke="#333" stroke-width="0.55" fill="none"/>
<path d="M39.0 194.0h241.4" stroke="#1a1a1a" stroke-width="0.7" fill="none" opacity="0.75"/>
<path d="M57.0 115.5L57.5 115.5L57.5 111.7L58.5 111.7L58.5 110.4L59.5 110.4L59.5 107.8L60.5 107.8L60.5 106.6L61.5 106.6L61.5 105.3L62.5 105.3L62.5 104.0L63.5 104.0L63.5 102.8L64.5 102.8L64.5 101.5L65.5 101.5L65.5 100.2L67.5 100.2L67.5 99.0L68.5 99.0L68.5 97.7L70.5 97.7L70.5 96.4L71.5 96.4L71.5 95.1L73.5 95.1L73.5 93.9L75.5 93.9L75.5 92.6L76.5 92.6L76.5 91.3L78.5 91.3L78.5 90.1L80.5 90.1L80.5 88.8L82.5 88.8L82.5 87.5L84.5 87.5L84.5 86.3L86.5 86.3L86.5 85.0L88.5 85.0L88.5 83.7L90.5 83.7L90.5 82.5L92.5 82.5L92.5 81.2L94.5 81.2L94.5 79.9L97.5 79.9L97.5 78.6L101.5 78.6L101.5 77.4L104.5 77.4L104.5 76.1L108.5 76.1L108.5 74.8L113.5 74.8L113.5 73.6L117.5 73.6L117.5 72.3L122.5 72.3L122.5 71.0L127.5 71.0L127.5 69.8L133.5 69.8L133.5 68.5L140.5 68.5L140.5 67.2L148.5 67.2L148.5 65.9L158.5 65.9L158.5 64.7L171.5 64.7L171.5 63.4L184.5 63.4L184.5 62.1L198.5 62.1L198.5 60.9L218.5 60.9L218.5 59.6L249.5 59.6L249.5 58.3L265.5 58.3L265.5 57.0L272.5 57.0L272.5 58.3L273.5 58.3L273.5 62.1L274.0 62.1L274.0 134.5L273.5 134.5L273.5 137.1L272.5 137.1L272.5 138.3L259.5 138.3L259.5 139.6L238.5 139.6L238.5 140.9L213.5 140.9L213.5 142.1L155.5 142.1L155.5 140.9L136.5 140.9L136.5 139.6L121.5 139.6L121.5 138.3L110.5 138.3L110.5 137.1L100.5 137.1L100.5 135.8L89.5 135.8L89.5 134.5L78.5 134.5L78.5 133.2L70.5 133.2L70.5 132.0L65.5 132.0L65.5 130.7L62.5 130.7L62.5 129.4L60.5 129.4L60.5 128.2L58.5 128.2L58.5 126.9L57.5 126.9L57.5 124.4L57.0 124.4Z" stroke="#fff" stroke-width="3.9" fill="none" stroke-linejoin="round"/>
<path d="M78.0 107.8L78.5 107.8L78.5 105.3L79.5 105.3L79.5 104.0L80.5 104.0L80.5 102.8L81.5 102.8L81.5 101.5L83.5 101.5L83.5 100.2L85.5 100.2L85.5 99.0L88.5 99.0L88.5 97.7L91.5 97.7L91.5 96.4L94.5 96.4L94.5 95.1L98.5 95.1L98.5 93.9L102.5 93.9L102.5 92.6L108.5 92.6L108.5 91.3L119.5 91.3L119.5 90.1L141.5 90.1L141.5 91.3L151.5 91.3L151.5 92.6L164.5 92.6L164.5 93.9L190.5 93.9L190.5 95.1L207.5 95.1L207.5 96.4L217.5 96.4L217.5 97.7L225.5 97.7L225.5 99.0L231.5 99.0L231.5 100.2L235.5 100.2L235.5 101.5L240.5 101.5L240.5 102.8L245.5 102.8L245.5 104.0L250.5 104.0L250.5 105.3L256.5 105.3L256.5 106.6L263.5 106.6L263.5 107.8L270.5 107.8L270.5 109.1L273.0 109.1L273.0 109.1L272.5 109.1L272.5 110.4L269.5 110.4L269.5 111.7L266.5 111.7L266.5 112.9L263.5 112.9L263.5 114.2L259.5 114.2L259.5 115.5L254.5 115.5L254.5 116.7L249.5 116.7L249.5 118.0L243.5 118.0L243.5 119.3L237.5 119.3L237.5 120.5L230.5 120.5L230.5 121.8L220.5 121.8L220.5 123.1L207.5 123.1L207.5 124.4L147.5 124.4L147.5 125.6L131.5 125.6L131.5 124.4L118.5 124.4L118.5 123.1L110.5 123.1L110.5 121.8L103.5 121.8L103.5 120.5L98.5 120.5L98.5 119.3L93.5 119.3L93.5 118.0L89.5 118.0L89.5 116.7L86.5 116.7L86.5 115.5L83.5 115.5L83.5 114.2L81.5 114.2L81.5 112.9L80.5 112.9L80.5 111.7L79.5 111.7L79.5 110.4L78.5 110.4L78.5 109.1L78.0 109.1Z" stroke="#fff" stroke-width="3.9" fill="none" stroke-linejoin="round"/>
<path d="M39.4 177.3L39.5 176.1L39.6 174.5L39.9 172.6L40.1 170.4L40.4 168.2L40.8 166.1L41.2 163.9L41.8 161.6L42.3 159.2L43.0 156.8L43.6 154.4L44.4 152.0L45.1 149.6L46.0 147.2L46.8 144.8L47.8 142.4L48.7 140.1L49.7 137.9L50.8 135.8L51.9 133.9L53.1 132.0L54.3 130.2L55.6 128.4L56.9 126.6L58.3 124.9L59.7 123.1L61.2 121.4L62.7 119.7L64.2 118.2L65.8 116.8L67.4 115.6L68.8 114.5L70.2 113.5L71.9 112.7L74.0 111.9L76.6 111.2L79.8 110.5L83.5 109.9L87.6 109.4L92.0 109.0L96.7 108.6L101.6 108.3L107.0 108.2L112.8 108.1L118.9 108.2L125.1 108.2L131.4 108.3L137.4 108.3L143.4 108.4L149.4 108.4L155.4 108.4L161.3 108.4L167.3 108.4L173.2 108.3L179.2 108.2L185.2 108.1L191.2 108.0L197.1 107.8L203.1 107.6L209.0 107.5L215.1 107.4L221.1 107.3L227.2 107.2L233.2 107.1L239.1 107.0L244.8 106.9L250.8 106.9L257.0 106.9L263.2 106.9L268.8 106.9L273.6 106.9L277.1 106.9" stroke="#fff" stroke-width="1.7" fill="none" stroke-dasharray="7.2 4.4"/>
<rect x="588.3" y="25.3" width="4.1" height="168.9" fill="#000"/>
<path d="M354.2 25.3v-4.5M370.8 25.3v-4.5M403.0 25.3v-4.5M449.8 25.3v-4.5M499.0 25.3v-4.5M546.5 25.3v-4.5M589.0 25.3v-4.5M359.9 194.2v4.5M377.9 194.2v4.5M413.6 194.2v4.5M449.4 194.2v4.5M485.2 194.2v4.5M521.0 194.2v4.5M556.9 194.2v4.5M589.1 194.2v4.5M351.0 194.2h-4.8M592.4 194.2h4.7M351.0 185.7h-2.4M592.4 185.7h2.3M351.0 180.8h-2.4M592.4 180.8h2.3M351.0 177.3h-2.4M592.4 177.3h2.3M351.0 174.5h-2.4M592.4 174.5h2.3M351.0 172.3h-2.4M592.4 172.3h2.3M351.0 170.4h-2.4M592.4 170.4h2.3M351.0 168.8h-2.4M592.4 168.8h2.3M351.0 167.3h-2.4M592.4 167.3h2.3M351.0 166.1h-4.8M592.4 166.1h4.7M351.0 157.6h-2.4M592.4 157.6h2.3M351.0 152.6h-2.4M592.4 152.6h2.3M351.0 149.1h-2.4M592.4 149.1h2.3M351.0 146.4h-2.4M592.4 146.4h2.3M351.0 144.1h-2.4M592.4 144.1h2.3M351.0 142.3h-2.4M592.4 142.3h2.3M351.0 140.6h-2.4M592.4 140.6h2.3M351.0 139.2h-2.4M592.4 139.2h2.3M351.0 137.9h-4.8M592.4 137.9h4.7M351.0 129.4h-2.4M592.4 129.4h2.3M351.0 124.5h-2.4M592.4 124.5h2.3M351.0 121.0h-2.4M592.4 121.0h2.3M351.0 118.2h-2.4M592.4 118.2h2.3M351.0 116.0h-2.4M592.4 116.0h2.3M351.0 114.1h-2.4M592.4 114.1h2.3M351.0 112.5h-2.4M592.4 112.5h2.3M351.0 111.0h-2.4M592.4 111.0h2.3M351.0 109.8h-4.8M592.4 109.8h4.7M351.0 101.3h-2.4M592.4 101.3h2.3M351.0 96.3h-2.4M592.4 96.3h2.3M351.0 92.8h-2.4M592.4 92.8h2.3M351.0 90.1h-2.4M592.4 90.1h2.3M351.0 87.8h-2.4M592.4 87.8h2.3M351.0 86.0h-2.4M592.4 86.0h2.3M351.0 84.3h-2.4M592.4 84.3h2.3M351.0 82.9h-2.4M592.4 82.9h2.3M351.0 81.6h-4.8M592.4 81.6h4.7M351.0 73.1h-2.4M592.4 73.1h2.3M351.0 68.2h-2.4M592.4 68.2h2.3M351.0 64.7h-2.4M592.4 64.7h2.3M351.0 61.9h-2.4M592.4 61.9h2.3M351.0 59.7h-2.4M592.4 59.7h2.3M351.0 57.8h-2.4M592.4 57.8h2.3M351.0 56.2h-2.4M592.4 56.2h2.3M351.0 54.7h-2.4M592.4 54.7h2.3M351.0 53.5h-4.8M592.4 53.5h4.7M351.0 45.0h-2.4M592.4 45.0h2.3M351.0 40.0h-2.4M592.4 40.0h2.3M351.0 36.5h-2.4M592.4 36.5h2.3M351.0 33.8h-2.4M592.4 33.8h2.3M351.0 31.5h-2.4M592.4 31.5h2.3M351.0 29.7h-2.4M592.4 29.7h2.3M351.0 28.0h-2.4M592.4 28.0h2.3M351.0 26.6h-2.4M592.4 26.6h2.3M351.0 25.3h-4.8M592.4 25.3h4.7" stroke="#333" stroke-width="0.55" fill="none"/>
<path d="M351.0 194.0h241.4" stroke="#1a1a1a" stroke-width="0.7" fill="none" opacity="0.75"/>
<rect x="351.0" y="135.3" width="2" height="58.9" fill="#000"/>
<path d="M351.0 25.0L453.0 25.0L453.0 25.3L451.5 25.4L449.7 26.1L447.8 26.8L446.0 27.5L444.1 28.3L442.3 29.0L440.4 29.8L438.6 30.5L436.7 31.3L434.9 32.1L433.1 32.9L431.2 33.8L429.4 34.6L427.5 35.5L425.7 36.4L423.8 37.3L422.0 38.3L420.1 39.2L418.3 40.2L416.4 41.3L414.6 42.3L412.7 43.4L410.9 44.5L409.0 45.7L407.2 46.8L405.3 48.1L403.5 49.3L401.6 50.6L399.8 52.0L397.9 53.4L396.1 54.8L394.3 56.3L392.4 57.9L390.6 59.5L388.7 61.3L386.9 63.0L385.0 64.9L383.2 66.9L381.3 69.0L379.5 71.1L377.6 73.5L375.8 75.9L373.9 78.6L372.1 81.4L370.2 84.4L368.4 87.7L366.5 91.3L364.7 95.3L362.8 99.7L361.0 104.7L360.0 107.6L359.5 109.2L359.0 110.9L358.5 112.6L358.0 114.4L357.5 116.3L357.0 118.3L356.5 120.4L356.0 122.6L355.5 124.9L355.0 127.4L354.5 130.1L354.0 133.0L353.5 136.1L353.0 139.5L352.5 143.2L352.0 147.4L351.5 152.1L351.0 157.5L351.0 163.5Z" fill="#8c8c8c"/>
<rect x="276.3" y="267.8" width="4.1" height="168.9" fill="#000"/>
<rect x="39.0" y="267.8" width="2.4" height="168.9" fill="#000"/>
<path d="M42.2 267.8v-4.5M58.8 267.8v-4.5M91.0 267.8v-4.5M137.8 267.8v-4.5M187.0 267.8v-4.5M234.5 267.8v-4.5M277.0 267.8v-4.5M48.0 436.7v4.5M65.8 436.7v4.5M101.6 436.7v4.5M137.4 436.7v4.5M173.2 436.7v4.5M209.0 436.7v4.5M244.8 436.7v4.5M277.1 436.7v4.5M39.0 436.7h-4.8M280.4 436.7h4.7M39.0 428.2h-2.4M280.4 428.2h2.3M39.0 423.3h-2.4M280.4 423.3h2.3M39.0 419.8h-2.4M280.4 419.8h2.3M39.0 417.0h-2.4M280.4 417.0h2.3M39.0 414.8h-2.4M280.4 414.8h2.3M39.0 412.9h-2.4M280.4 412.9h2.3M39.0 411.3h-2.4M280.4 411.3h2.3M39.0 409.8h-2.4M280.4 409.8h2.3M39.0 408.6h-4.8M280.4 408.6h4.7M39.0 400.1h-2.4M280.4 400.1h2.3M39.0 395.1h-2.4M280.4 395.1h2.3M39.0 391.6h-2.4M280.4 391.6h2.3M39.0 388.9h-2.4M280.4 388.9h2.3M39.0 386.6h-2.4M280.4 386.6h2.3M39.0 384.8h-2.4M280.4 384.8h2.3M39.0 383.1h-2.4M280.4 383.1h2.3M39.0 381.7h-2.4M280.4 381.7h2.3M39.0 380.4h-4.8M280.4 380.4h4.7M39.0 371.9h-2.4M280.4 371.9h2.3M39.0 367.0h-2.4M280.4 367.0h2.3M39.0 363.5h-2.4M280.4 363.5h2.3M39.0 360.7h-2.4M280.4 360.7h2.3M39.0 358.5h-2.4M280.4 358.5h2.3M39.0 356.6h-2.4M280.4 356.6h2.3M39.0 355.0h-2.4M280.4 355.0h2.3M39.0 353.5h-2.4M280.4 353.5h2.3M39.0 352.2h-4.8M280.4 352.2h4.7M39.0 343.8h-2.4M280.4 343.8h2.3M39.0 338.8h-2.4M280.4 338.8h2.3M39.0 335.3h-2.4M280.4 335.3h2.3M39.0 332.6h-2.4M280.4 332.6h2.3M39.0 330.3h-2.4M280.4 330.3h2.3M39.0 328.5h-2.4M280.4 328.5h2.3M39.0 326.8h-2.4M280.4 326.8h2.3M39.0 325.4h-2.4M280.4 325.4h2.3M39.0 324.1h-4.8M280.4 324.1h4.7M39.0 315.6h-2.4M280.4 315.6h2.3M39.0 310.7h-2.4M280.4 310.7h2.3M39.0 307.2h-2.4M280.4 307.2h2.3M39.0 304.4h-2.4M280.4 304.4h2.3M39.0 302.2h-2.4M280.4 302.2h2.3M39.0 300.3h-2.4M280.4 300.3h2.3M39.0 298.7h-2.4M280.4 298.7h2.3M39.0 297.2h-2.4M280.4 297.2h2.3M39.0 295.9h-4.8M280.4 295.9h4.7M39.0 287.5h-2.4M280.4 287.5h2.3M39.0 282.5h-2.4M280.4 282.5h2.3M39.0 279.0h-2.4M280.4 279.0h2.3M39.0 276.3h-2.4M280.4 276.3h2.3M39.0 274.0h-2.4M280.4 274.0h2.3M39.0 272.2h-2.4M280.4 272.2h2.3M39.0 270.5h-2.4M280.4 270.5h2.3M39.0 269.1h-2.4M280.4 269.1h2.3M39.0 267.8h-4.8M280.4 267.8h4.7" stroke="#333" stroke-width="0.55" fill="none"/>
<path d="M39.0 436.5h241.4" stroke="#1a1a1a" stroke-width="0.7" fill="none" opacity="0.75"/>
<path d="M49.0 365.6L49.5 365.6L49.5 360.5L50.5 360.5L50.5 358.0L51.5 358.0L51.5 355.4L52.5 355.4L52.5 352.9L53.5 352.9L53.5 350.4L54.5 350.4L54.5 347.8L55.5 347.8L55.5 346.5L56.5 346.5L56.5 344.0L57.5 344.0L57.5 342.7L58.5 342.7L58.5 341.5L59.5 341.5L59.5 340.2L60.5 340.2L60.5 338.9L61.5 338.9L61.5 337.6L62.5 337.6L62.5 336.4L63.5 336.4L63.5 335.1L64.5 335.1L64.5 333.8L66.5 333.8L66.5 332.6L67.5 332.6L67.5 331.3L69.5 331.3L69.5 330.0L71.5 330.0L71.5 328.8L73.5 328.8L73.5 327.5L75.5 327.5L75.5 326.2L77.5 326.2L77.5 324.9L80.5 324.9L80.5 323.7L83.5 323.7L83.5 322.4L86.5 322.4L86.5 321.1L90.5 321.1L90.5 319.9L95.5 319.9L95.5 318.6L100.5 318.6L100.5 317.3L107.5 317.3L107.5 316.1L115.5 316.1L115.5 314.8L131.5 314.8L131.5 313.5L169.5 313.5L169.5 314.8L193.5 314.8L193.5 316.1L205.5 316.1L205.5 317.3L213.5 317.3L213.5 318.6L221.5 318.6L221.5 319.9L230.5 319.9L230.5 321.1L240.5 321.1L240.5 322.4L253.5 322.4L253.5 323.7L265.5 323.7L265.5 324.9L272.5 324.9L272.5 326.2L273.5 326.2L273.5 328.8L274.0 328.8L274.0 374.5L273.5 374.5L273.5 377.0L272.5 377.0L272.5 378.3L261.5 378.3L261.5 379.6L248.5 379.6L248.5 380.8L233.5 380.8L233.5 382.1L217.5 382.1L217.5 383.4L201.5 383.4L201.5 384.6L187.5 384.6L187.5 385.9L176.5 385.9L176.5 387.2L170.5 387.2L170.5 388.5L164.5 388.5L164.5 389.7L122.5 389.7L122.5 388.5L101.5 388.5L101.5 387.2L52.5 387.2L52.5 385.9L50.5 385.9L50.5 384.6L49.5 384.6L49.5 380.8L49.0 380.8Z" stroke="#fff" stroke-width="3.9" fill="none" stroke-linejoin="round"/>
<path d="M65.0 354.2L65.5 354.2L65.5 351.6L66.5 351.6L66.5 349.1L67.5 349.1L67.5 347.8L68.5 347.8L68.5 346.5L70.5 346.5L70.5 345.3L71.5 345.3L71.5 344.0L73.5 344.0L73.5 342.7L74.5 342.7L74.5 341.5L76.5 341.5L76.5 340.2L79.5 340.2L79.5 338.9L81.5 338.9L81.5 337.6L85.5 337.6L85.5 336.4L89.5 336.4L89.5 335.1L115.5 335.1L115.5 336.4L130.5 336.4L130.5 337.6L139.5 337.6L139.5 338.9L148.5 338.9L148.5 340.2L155.5 340.2L155.5 341.5L161.5 341.5L161.5 342.7L166.5 342.7L166.5 344.0L171.5 344.0L171.5 345.3L177.5 345.3L177.5 346.5L182.5 346.5L182.5 347.8L188.5 347.8L188.5 349.1L193.5 349.1L193.5 350.4L199.5 350.4L199.5 351.6L204.5 351.6L204.5 352.9L209.5 352.9L209.5 354.2L214.5 354.2L214.5 355.4L218.5 355.4L218.5 356.7L221.5 356.7L221.5 358.0L224.5 358.0L224.5 359.2L225.0 359.2L225.0 359.2L223.5 359.2L223.5 360.5L220.5 360.5L220.5 361.8L217.5 361.8L217.5 363.1L212.5 363.1L212.5 364.3L207.5 364.3L207.5 365.6L201.5 365.6L201.5 366.9L192.5 366.9L192.5 368.1L177.5 368.1L177.5 369.4L132.5 369.4L132.5 368.1L116.5 368.1L116.5 366.9L103.5 366.9L103.5 365.6L87.5 365.6L87.5 364.3L77.5 364.3L77.5 363.1L73.5 363.1L73.5 361.8L70.5 361.8L70.5 360.5L68.5 360.5L68.5 359.2L66.5 359.2L66.5 358.0L65.5 358.0L65.5 354.2L65.0 354.2Z" stroke="#fff" stroke-width="3.9" fill="none" stroke-linejoin="round"/>
<path d="M39.4 422.6L39.7 420.2L40.2 416.7L40.8 412.7L41.4 408.5L42.1 404.5L42.8 401.2L43.5 398.6L44.2 396.4L45.0 394.5L45.7 392.7L46.6 390.8L47.4 388.8L48.3 386.7L49.2 384.5L50.1 382.4L51.1 380.2L52.0 378.1L53.0 376.2L53.8 374.4L54.7 372.7L55.5 371.1L56.4 369.5L57.4 368.0L58.7 366.3L60.2 364.6L62.0 362.7L64.0 360.9L66.0 359.1L68.0 357.5L70.0 356.2L71.9 355.1L73.8 354.3L75.7 353.6L77.6 353.0L79.5 352.5L81.4 352.0L83.1 351.5L84.6 351.1L86.1 350.8L87.8 350.6L89.9 350.4L92.7 350.3L96.4 350.2L100.8 350.3L105.7 350.4L110.7 350.5L115.4 350.7L119.5 350.8L123.0 351.0L126.0 351.2L128.8 351.4L131.5 351.7L134.4 352.0L137.4 352.2L140.7 352.6L143.9 353.0L147.3 353.4L150.8 353.8L154.7 354.1L158.9 354.5L163.6 354.8L168.7 355.2L174.1 355.5L179.7 355.8L185.4 356.0L191.1 356.2L196.7 356.3L202.3 356.4L207.9 356.4L213.8 356.5L220.1 356.5L226.9 356.5L235.1 356.5L244.5 356.5L254.2 356.5L263.5 356.5L271.5 356.5L277.1 356.5" stroke="#fff" stroke-width="1.7" fill="none" stroke-dasharray="7.2 4.4"/>
<rect x="588.3" y="267.8" width="4.1" height="168.9" fill="#000"/>
<path d="M354.2 267.8v-4.5M370.8 267.8v-4.5M403.0 267.8v-4.5M449.8 267.8v-4.5M499.0 267.8v-4.5M546.5 267.8v-4.5M589.0 267.8v-4.5M359.9 436.7v4.5M377.9 436.7v4.5M413.6 436.7v4.5M449.4 436.7v4.5M485.2 436.7v4.5M521.0 436.7v4.5M556.9 436.7v4.5M589.1 436.7v4.5M351.0 436.7h-4.8M592.4 436.7h4.7M351.0 428.2h-2.4M592.4 428.2h2.3M351.0 423.3h-2.4M592.4 423.3h2.3M351.0 419.8h-2.4M592.4 419.8h2.3M351.0 417.0h-2.4M592.4 417.0h2.3M351.0 414.8h-2.4M592.4 414.8h2.3M351.0 412.9h-2.4M592.4 412.9h2.3M351.0 411.3h-2.4M592.4 411.3h2.3M351.0 409.8h-2.4M592.4 409.8h2.3M351.0 408.6h-4.8M592.4 408.6h4.7M351.0 400.1h-2.4M592.4 400.1h2.3M351.0 395.1h-2.4M592.4 395.1h2.3M351.0 391.6h-2.4M592.4 391.6h2.3M351.0 388.9h-2.4M592.4 388.9h2.3M351.0 386.6h-2.4M592.4 386.6h2.3M351.0 384.8h-2.4M592.4 384.8h2.3M351.0 383.1h-2.4M592.4 383.1h2.3M351.0 381.7h-2.4M592.4 381.7h2.3M351.0 380.4h-4.8M592.4 380.4h4.7M351.0 371.9h-2.4M592.4 371.9h2.3M351.0 367.0h-2.4M592.4 367.0h2.3M351.0 363.5h-2.4M592.4 363.5h2.3M351.0 360.7h-2.4M592.4 360.7h2.3M351.0 358.5h-2.4M592.4 358.5h2.3M351.0 356.6h-2.4M592.4 356.6h2.3M351.0 355.0h-2.4M592.4 355.0h2.3M351.0 353.5h-2.4M592.4 353.5h2.3M351.0 352.2h-4.8M592.4 352.2h4.7M351.0 343.8h-2.4M592.4 343.8h2.3M351.0 338.8h-2.4M592.4 338.8h2.3M351.0 335.3h-2.4M592.4 335.3h2.3M351.0 332.6h-2.4M592.4 332.6h2.3M351.0 330.3h-2.4M592.4 330.3h2.3M351.0 328.5h-2.4M592.4 328.5h2.3M351.0 326.8h-2.4M592.4 326.8h2.3M351.0 325.4h-2.4M592.4 325.4h2.3M351.0 324.1h-4.8M592.4 324.1h4.7M351.0 315.6h-2.4M592.4 315.6h2.3M351.0 310.7h-2.4M592.4 310.7h2.3M351.0 307.2h-2.4M592.4 307.2h2.3M351.0 304.4h-2.4M592.4 304.4h2.3M351.0 302.2h-2.4M592.4 302.2h2.3M351.0 300.3h-2.4M592.4 300.3h2.3M351.0 298.7h-2.4M592.4 298.7h2.3M351.0 297.2h-2.4M592.4 297.2h2.3M351.0 295.9h-4.8M592.4 295.9h4.7M351.0 287.5h-2.4M592.4 287.5h2.3M351.0 282.5h-2.4M592.4 282.5h2.3M351.0 279.0h-2.4M592.4 279.0h2.3M351.0 276.3h-2.4M592.4 276.3h2.3M351.0 274.0h-2.4M592.4 274.0h2.3M351.0 272.2h-2.4M592.4 272.2h2.3M351.0 270.5h-2.4M592.4 270.5h2.3M351.0 269.1h-2.4M592.4 269.1h2.3M351.0 267.8h-4.8M592.4 267.8h4.7" stroke="#333" stroke-width="0.55" fill="none"/>
<path d="M351.0 436.5h241.4" stroke="#1a1a1a" stroke-width="0.7" fill="none" opacity="0.75"/>
<rect x="351.0" y="377.8" width="2" height="58.9" fill="#000"/>
<path d="M351.0 267.5L453.0 267.5L453.0 267.8L451.5 267.9L449.7 268.6L447.8 269.3L446.0 270.0L444.1 270.8L442.3 271.5L440.4 272.3L438.6 273.0L436.7 273.8L434.9 274.6L433.1 275.4L431.2 276.3L429.4 277.1L427.5 278.0L425.7 278.9L423.8 279.8L422.0 280.8L420.1 281.7L418.3 282.7L416.4 283.8L414.6 284.8L412.7 285.9L410.9 287.0L409.0 288.2L407.2 289.3L405.3 290.6L403.5 291.8L401.6 293.1L399.8 294.5L397.9 295.9L396.1 297.3L394.3 298.8L392.4 300.4L390.6 302.0L388.7 303.8L386.9 305.5L385.0 307.4L383.2 309.4L381.3 311.5L379.5 313.6L377.6 316.0L375.8 318.4L373.9 321.1L372.1 323.9L370.2 326.9L368.4 330.2L366.5 333.8L364.7 337.8L362.8 342.2L361.0 347.2L360.0 350.1L359.5 351.7L359.0 353.4L358.5 355.1L358.0 356.9L357.5 358.8L357.0 360.8L356.5 362.9L356.0 365.1L355.5 367.4L355.0 369.9L354.5 372.6L354.0 375.5L353.5 378.6L353.0 382.0L352.5 385.7L352.0 389.9L351.5 394.6L351.0 400.0L351.0 406.0Z" fill="#8c8c8c"/>
<rect x="276.3" y="510.3" width="4.1" height="168.9" fill="#000"/>
<rect x="39.0" y="510.3" width="2.4" height="168.9" fill="#000"/>
<path d="M42.2 510.3v-4.5M58.8 510.3v-4.5M91.0 510.3v-4.5M137.8 510.3v-4.5M187.0 510.3v-4.5M234.5 510.3v-4.5M277.0 510.3v-4.5M48.0 679.2v4.5M65.8 679.2v4.5M101.6 679.2v4.5M137.4 679.2v4.5M173.2 679.2v4.5M209.0 679.2v4.5M244.8 679.2v4.5M277.1 679.2v4.5M39.0 679.2h-4.8M280.4 679.2h4.7M39.0 670.7h-2.4M280.4 670.7h2.3M39.0 665.8h-2.4M280.4 665.8h2.3M39.0 662.3h-2.4M280.4 662.3h2.3M39.0 659.5h-2.4M280.4 659.5h2.3M39.0 657.3h-2.4M280.4 657.3h2.3M39.0 655.4h-2.4M280.4 655.4h2.3M39.0 653.8h-2.4M280.4 653.8h2.3M39.0 652.3h-2.4M280.4 652.3h2.3M39.0 651.0h-4.8M280.4 651.0h4.7M39.0 642.6h-2.4M280.4 642.6h2.3M39.0 637.6h-2.4M280.4 637.6h2.3M39.0 634.1h-2.4M280.4 634.1h2.3M39.0 631.4h-2.4M280.4 631.4h2.3M39.0 629.1h-2.4M280.4 629.1h2.3M39.0 627.3h-2.4M280.4 627.3h2.3M39.0 625.6h-2.4M280.4 625.6h2.3M39.0 624.2h-2.4M280.4 624.2h2.3M39.0 622.9h-4.8M280.4 622.9h4.7M39.0 614.4h-2.4M280.4 614.4h2.3M39.0 609.5h-2.4M280.4 609.5h2.3M39.0 606.0h-2.4M280.4 606.0h2.3M39.0 603.2h-2.4M280.4 603.2h2.3M39.0 601.0h-2.4M280.4 601.0h2.3M39.0 599.1h-2.4M280.4 599.1h2.3M39.0 597.5h-2.4M280.4 597.5h2.3M39.0 596.0h-2.4M280.4 596.0h2.3M39.0 594.8h-4.8M280.4 594.8h4.7M39.0 586.3h-2.4M280.4 586.3h2.3M39.0 581.3h-2.4M280.4 581.3h2.3M39.0 577.8h-2.4M280.4 577.8h2.3M39.0 575.1h-2.4M280.4 575.1h2.3M39.0 572.8h-2.4M280.4 572.8h2.3M39.0 571.0h-2.4M280.4 571.0h2.3M39.0 569.3h-2.4M280.4 569.3h2.3M39.0 567.9h-2.4M280.4 567.9h2.3M39.0 566.6h-4.8M280.4 566.6h4.7M39.0 558.1h-2.4M280.4 558.1h2.3M39.0 553.2h-2.4M280.4 553.2h2.3M39.0 549.7h-2.4M280.4 549.7h2.3M39.0 546.9h-2.4M280.4 546.9h2.3M39.0 544.7h-2.4M280.4 544.7h2.3M39.0 542.8h-2.4M280.4 542.8h2.3M39.0 541.2h-2.4M280.4 541.2h2.3M39.0 539.7h-2.4M280.4 539.7h2.3M39.0 538.5h-4.8M280.4 538.5h4.7M39.0 530.0h-2.4M280.4 530.0h2.3M39.0 525.0h-2.4M280.4 525.0h2.3M39.0 521.5h-2.4M280.4 521.5h2.3M39.0 518.8h-2.4M280.4 518.8h2.3M39.0 516.5h-2.4M280.4 516.5h2.3M39.0 514.7h-2.4M280.4 514.7h2.3M39.0 513.0h-2.4M280.4 513.0h2.3M39.0 511.6h-2.4M280.4 511.6h2.3M39.0 510.3h-4.8M280.4 510.3h4.7" stroke="#333" stroke-width="0.55" fill="none"/>
<path d="M39.0 679.0h241.4" stroke="#1a1a1a" stroke-width="0.7" fill="none" opacity="0.75"/>
<path d="M46.0 613.2L46.5 613.2L46.5 605.5L47.5 605.5L47.5 603.0L48.5 603.0L48.5 600.5L49.5 600.5L49.5 597.9L50.5 597.9L50.5 595.4L51.5 595.4L51.5 592.9L52.5 592.9L52.5 590.3L53.5 590.3L53.5 589.0L54.5 589.0L54.5 586.5L55.5 586.5L55.5 585.2L56.5 585.2L56.5 584.0L57.5 584.0L57.5 582.7L58.5 582.7L58.5 581.4L59.5 581.4L59.5 580.1L60.5 580.1L60.5 578.9L61.5 578.9L61.5 577.6L62.5 577.6L62.5 576.3L63.5 576.3L63.5 575.1L65.5 575.1L65.5 573.8L66.5 573.8L66.5 572.5L68.5 572.5L68.5 571.3L70.5 571.3L70.5 570.0L72.5 570.0L72.5 568.7L74.5 568.7L74.5 567.5L77.5 567.5L77.5 566.2L80.5 566.2L80.5 564.9L84.5 564.9L84.5 563.6L90.5 563.6L90.5 562.4L101.5 562.4L101.5 561.1L117.5 561.1L117.5 562.4L126.5 562.4L126.5 563.6L136.5 563.6L136.5 564.9L145.5 564.9L145.5 566.2L154.5 566.2L154.5 567.5L163.5 567.5L163.5 568.7L173.5 568.7L173.5 570.0L182.5 570.0L182.5 571.3L188.5 571.3L188.5 572.5L194.5 572.5L194.5 573.8L200.5 573.8L200.5 575.1L206.5 575.1L206.5 576.3L211.5 576.3L211.5 577.6L217.5 577.6L217.5 578.9L223.5 578.9L223.5 580.1L229.5 580.1L229.5 581.4L235.5 581.4L235.5 582.7L242.5 582.7L242.5 584.0L248.5 584.0L248.5 585.2L255.5 585.2L255.5 586.5L261.5 586.5L261.5 587.8L266.5 587.8L266.5 589.0L270.5 589.0L270.5 590.3L272.5 590.3L272.5 591.6L273.5 591.6L273.5 594.1L274.0 594.1L274.0 614.4L273.5 614.4L273.5 617.0L271.5 617.0L271.5 618.2L265.5 618.2L265.5 619.5L258.5 619.5L258.5 620.8L250.5 620.8L250.5 622.1L240.5 622.1L240.5 623.3L230.5 623.3L230.5 624.6L220.5 624.6L220.5 625.9L210.5 625.9L210.5 627.1L201.5 627.1L201.5 628.4L192.5 628.4L192.5 629.7L183.5 629.7L183.5 631.0L175.5 631.0L175.5 632.2L167.5 632.2L167.5 633.5L142.5 633.5L142.5 634.8L133.5 634.8L133.5 633.5L106.5 633.5L106.5 632.2L83.5 632.2L83.5 633.5L68.5 633.5L68.5 634.8L59.5 634.8L59.5 636.0L53.5 636.0L53.5 637.3L48.5 637.3L48.5 636.0L47.5 636.0L47.5 633.5L46.5 633.5L46.5 622.1L46.0 622.1Z" stroke="#fff" stroke-width="3.9" fill="none" stroke-linejoin="round"/>
<path d="M62.0 597.9L62.5 597.9L62.5 594.1L63.5 594.1L63.5 592.9L64.5 592.9L64.5 591.6L65.5 591.6L65.5 590.3L66.5 590.3L66.5 589.0L68.5 589.0L68.5 587.8L70.5 587.8L70.5 586.5L73.5 586.5L73.5 585.2L76.5 585.2L76.5 584.0L78.5 584.0L78.5 582.7L82.5 582.7L82.5 581.4L86.5 581.4L86.5 580.1L93.5 580.1L93.5 578.9L109.5 578.9L109.5 580.1L121.5 580.1L121.5 581.4L129.5 581.4L129.5 582.7L134.5 582.7L134.5 584.0L138.5 584.0L138.5 585.2L142.5 585.2L142.5 586.5L146.5 586.5L146.5 587.8L151.5 587.8L151.5 589.0L157.5 589.0L157.5 590.3L162.5 590.3L162.5 591.6L166.5 591.6L166.5 592.9L170.5 592.9L170.5 594.1L175.5 594.1L175.5 595.4L180.5 595.4L180.5 596.7L184.5 596.7L184.5 597.9L188.5 597.9L188.5 599.2L191.5 599.2L191.5 600.5L194.5 600.5L194.5 601.7L196.5 601.7L196.5 603.0L197.0 603.0L197.0 603.0L195.5 603.0L195.5 604.3L193.5 604.3L193.5 605.5L190.5 605.5L190.5 606.8L184.5 606.8L184.5 608.1L175.5 608.1L175.5 609.4L163.5 609.4L163.5 610.6L112.5 610.6L112.5 609.4L94.5 609.4L94.5 608.1L77.5 608.1L77.5 606.8L67.5 606.8L67.5 605.5L63.5 605.5L63.5 604.3L62.5 604.3L62.5 601.7L62.0 601.7Z" stroke="#fff" stroke-width="3.9" fill="none" stroke-linejoin="round"/>
<path d="M39.4 665.1L39.4 664.1L39.4 662.8L39.4 661.2L39.5 659.3L39.7 657.4L40.1 655.3L40.6 653.0L41.3 650.4L42.0 647.6L42.9 644.8L43.7 642.2L44.4 639.8L45.0 637.7L45.5 635.9L46.0 634.2L46.5 632.5L47.2 630.7L48.0 628.5L48.9 626.1L50.0 623.3L51.1 620.5L52.4 617.6L53.7 614.8L55.1 612.2L56.5 609.8L57.9 607.3L59.3 605.0L60.9 602.8L62.8 600.9L65.0 599.3L67.6 598.0L70.7 597.0L74.0 596.2L77.4 595.6L80.7 595.2L83.8 594.8L86.5 594.4L89.0 594.2L91.4 594.1L93.9 594.0L96.7 594.1L99.9 594.2L103.5 594.4L107.6 594.7L111.8 595.0L116.2 595.4L120.6 595.8L124.9 596.2L129.1 596.5L133.3 596.8L137.6 597.1L141.8 597.4L145.9 597.8L150.0 598.1L153.9 598.6L157.7 599.0L161.5 599.6L165.3 600.1L169.2 600.5L173.2 600.9L177.5 601.3L181.9 601.6L186.5 601.9L191.0 602.2L195.6 602.4L200.1 602.6L204.3 602.8L208.2 602.9L212.1 603.0L216.3 603.1L221.1 603.1L226.9 603.2L234.5 603.2L243.8 603.2L253.7 603.2L263.2 603.2L271.3 603.2L277.1 603.2" stroke="#fff" stroke-width="1.7" fill="none" stroke-dasharray="7.2 4.4"/>
<rect x="588.3" y="510.3" width="4.1" height="168.9" fill="#000"/>
<path d="M354.2 510.3v-4.5M370.8 510.3v-4.5M403.0 510.3v-4.5M449.8 510.3v-4.5M499.0 510.3v-4.5M546.5 510.3v-4.5M589.0 510.3v-4.5M359.9 679.2v4.5M377.9 679.2v4.5M413.6 679.2v4.5M449.4 679.2v4.5M485.2 679.2v4.5M521.0 679.2v4.5M556.9 679.2v4.5M589.1 679.2v4.5M351.0 679.2h-4.8M592.4 679.2h4.7M351.0 670.7h-2.4M592.4 670.7h2.3M351.0 665.8h-2.4M592.4 665.8h2.3M351.0 662.3h-2.4M592.4 662.3h2.3M351.0 659.5h-2.4M592.4 659.5h2.3M351.0 657.3h-2.4M592.4 657.3h2.3M351.0 655.4h-2.4M592.4 655.4h2.3M351.0 653.8h-2.4M592.4 653.8h2.3M351.0 652.3h-2.4M592.4 652.3h2.3M351.0 651.0h-4.8M592.4 651.0h4.7M351.0 642.6h-2.4M592.4 642.6h2.3M351.0 637.6h-2.4M592.4 637.6h2.3M351.0 634.1h-2.4M592.4 634.1h2.3M351.0 631.4h-2.4M592.4 631.4h2.3M351.0 629.1h-2.4M592.4 629.1h2.3M351.0 627.3h-2.4M592.4 627.3h2.3M351.0 625.6h-2.4M592.4 625.6h2.3M351.0 624.2h-2.4M592.4 624.2h2.3M351.0 622.9h-4.8M592.4 622.9h4.7M351.0 614.4h-2.4M592.4 614.4h2.3M351.0 609.5h-2.4M592.4 609.5h2.3M351.0 606.0h-2.4M592.4 606.0h2.3M351.0 603.2h-2.4M592.4 603.2h2.3M351.0 601.0h-2.4M592.4 601.0h2.3M351.0 599.1h-2.4M592.4 599.1h2.3M351.0 597.5h-2.4M592.4 597.5h2.3M351.0 596.0h-2.4M592.4 596.0h2.3M351.0 594.8h-4.8M592.4 594.8h4.7M351.0 586.3h-2.4M592.4 586.3h2.3M351.0 581.3h-2.4M592.4 581.3h2.3M351.0 577.8h-2.4M592.4 577.8h2.3M351.0 575.1h-2.4M592.4 575.1h2.3M351.0 572.8h-2.4M592.4 572.8h2.3M351.0 571.0h-2.4M592.4 571.0h2.3M351.0 569.3h-2.4M592.4 569.3h2.3M351.0 567.9h-2.4M592.4 567.9h2.3M351.0 566.6h-4.8M592.4 566.6h4.7M351.0 558.1h-2.4M592.4 558.1h2.3M351.0 553.2h-2.4M592.4 553.2h2.3M351.0 549.7h-2.4M592.4 549.7h2.3M351.0 546.9h-2.4M592.4 546.9h2.3M351.0 544.7h-2.4M592.4 544.7h2.3M351.0 542.8h-2.4M592.4 542.8h2.3M351.0 541.2h-2.4M592.4 541.2h2.3M351.0 539.7h-2.4M592.4 539.7h2.3M351.0 538.5h-4.8M592.4 538.5h4.7M351.0 530.0h-2.4M592.4 530.0h2.3M351.0 525.0h-2.4M592.4 525.0h2.3M351.0 521.5h-2.4M592.4 521.5h2.3M351.0 518.8h-2.4M592.4 518.8h2.3M351.0 516.5h-2.4M592.4 516.5h2.3M351.0 514.7h-2.4M592.4 514.7h2.3M351.0 513.0h-2.4M592.4 513.0h2.3M351.0 511.6h-2.4M592.4 511.6h2.3M351.0 510.3h-4.8M592.4 510.3h4.7" stroke="#333" stroke-width="0.55" fill="none"/>
<path d="M351.0 679.0h241.4" stroke="#1a1a1a" stroke-width="0.7" fill="none" opacity="0.75"/>
<rect x="351.0" y="620.3" width="2" height="58.9" fill="#000"/>
<path d="M351.0 510.0L453.0 510.0L453.0 510.3L451.5 510.4L449.7 511.1L447.8 511.8L446.0 512.5L444.1 513.3L442.3 514.0L440.4 514.8L438.6 515.5L436.7 516.3L434.9 517.1L433.1 517.9L431.2 518.8L429.4 519.6L427.5 520.5L425.7 521.4L423.8 522.3L422.0 523.3L420.1 524.2L418.3 525.2L416.4 526.3L414.6 527.3L412.7 528.4L410.9 529.5L409.0 530.7L407.2 531.8L405.3 533.1L403.5 534.3L401.6 535.6L399.8 537.0L397.9 538.4L396.1 539.8L394.3 541.3L392.4 542.9L390.6 544.5L388.7 546.3L386.9 548.0L385.0 549.9L383.2 551.9L381.3 554.0L379.5 556.1L377.6 558.5L375.8 560.9L373.9 563.6L372.1 566.4L370.2 569.4L368.4 572.7L366.5 576.3L364.7 580.3L362.8 584.7L361.0 589.7L360.0 592.6L359.5 594.2L359.0 595.9L358.5 597.6L358.0 599.4L357.5 601.3L357.0 603.3L356.5 605.4L356.0 607.6L355.5 609.9L355.0 612.4L354.5 615.1L354.0 618.0L353.5 621.1L353.0 624.5L352.5 628.2L352.0 632.4L351.5 637.1L351.0 642.5L351.0 648.5Z" fill="#8c8c8c"/></svg>
</body></html>
